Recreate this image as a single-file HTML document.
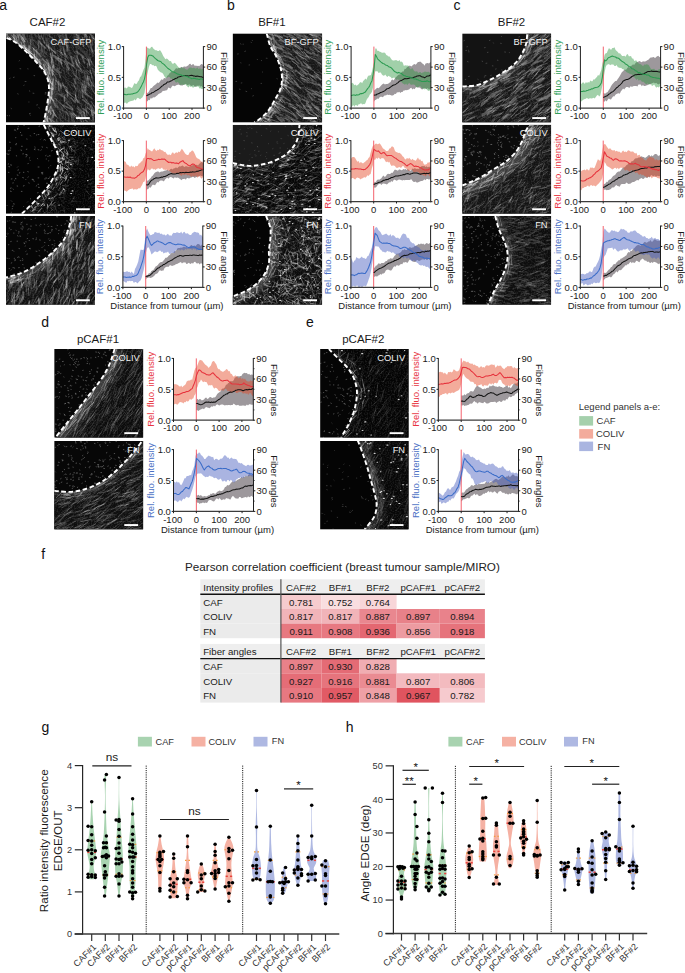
<!DOCTYPE html>
<html><head><meta charset="utf-8"><title>Figure</title>
<style>
html,body{margin:0;padding:0;background:#fff;}
body{width:685px;height:973px;overflow:hidden;}
svg{display:block;font-family:"Liberation Sans", sans-serif;}
</style></head><body>
<svg width="685" height="973" viewBox="0 0 685 973">
<defs><filter id="fblur" filterUnits="userSpaceOnUse" x="0" y="0" width="685" height="973"><feGaussianBlur stdDeviation="0.45"/></filter>
<filter id="fbl3" filterUnits="userSpaceOnUse" x="0" y="0" width="685" height="973"><feGaussianBlur stdDeviation="3"/></filter>
<clipPath id="ic0"><rect x="6" y="33.4" width="89" height="89.2"/></clipPath>
<clipPath id="it0"><path d="M6,33.4 L6.6,38 C7.93,38.62 11.57,39.63 14.6,41.7 C17.63,43.77 21.4,47.23 24.8,50.4 C28.2,53.57 31.83,57.28 35,60.7 C38.17,64.12 41.6,67.5 43.8,70.9 C46,74.3 47.35,77.7 48.2,81.1 C49.05,84.5 49.03,87.65 48.9,91.3 C48.77,94.95 48,99.1 47.4,103 C46.8,106.9 45.95,111.43 45.3,114.7 C44.65,117.97 43.8,121.28 43.5,122.6 L95,122.6 L95,33.4 Z"/></clipPath>
<filter id="fg0" x="0" y="0" width="1" height="1"><feTurbulence type="fractalNoise" baseFrequency="0.7" numOctaves="1" seed="3"/><feColorMatrix type="matrix" values="0 0 0 0 1 0 0 0 0 1 0 0 0 0 1 2.2 0 0 0 -0.95"/></filter>
<clipPath id="ic1"><rect x="6" y="124.8" width="89" height="89"/></clipPath>
<clipPath id="it1"><path d="M43.8,124.8 C45.02,127.25 48.92,135.1 51.1,139.5 C53.28,143.9 55.68,147.3 56.9,151.2 C58.12,155.1 58.63,159.25 58.4,162.9 C58.17,166.55 57.2,169.22 55.5,173.1 C53.8,176.98 51.12,182.07 48.2,186.2 C45.28,190.33 41.42,194.25 38,197.9 C34.58,201.55 30.38,205.45 27.7,208.1 C25.02,210.75 22.87,212.85 21.9,213.8 L95,213.8 L95,124.8 Z"/></clipPath>
<filter id="fg1" x="0" y="0" width="1" height="1"><feTurbulence type="fractalNoise" baseFrequency="0.7" numOctaves="1" seed="5"/><feColorMatrix type="matrix" values="0 0 0 0 1 0 0 0 0 1 0 0 0 0 1 2.2 0 0 0 -0.95"/></filter>
<clipPath id="ic2"><rect x="6" y="216" width="89" height="88.8"/></clipPath>
<clipPath id="it2"><path d="M71.2,216 C70.88,217.68 70.47,222.22 69.3,226.1 C68.13,229.98 66.5,235.4 64.2,239.3 C61.9,243.2 58.9,246.1 55.5,249.5 C52.1,252.9 48.18,256.42 43.8,259.7 C39.42,262.98 33.58,266.77 29.2,269.2 C24.82,271.63 21.37,272.92 17.5,274.3 C13.63,275.68 7.92,276.97 6,277.5 L6,304.8 L95,304.8 L95,216 Z"/></clipPath>
<filter id="fg2" x="0" y="0" width="1" height="1"><feTurbulence type="fractalNoise" baseFrequency="0.7" numOctaves="1" seed="7"/><feColorMatrix type="matrix" values="0 0 0 0 1 0 0 0 0 1 0 0 0 0 1 2.2 0 0 0 -0.95"/></filter>
<clipPath id="ic3"><rect x="232.6" y="33.4" width="89.6" height="89.2"/></clipPath>
<clipPath id="it3"><path d="M266.7,33.4 C267.3,35.52 268.72,42.28 270.3,46.1 C271.88,49.92 274.48,52.65 276.2,56.3 C277.92,59.95 279.63,64.35 280.6,68 C281.57,71.65 282,74.8 282,78.2 C282,81.6 281.82,84.75 280.6,88.4 C279.38,92.05 276.9,96.2 274.7,100.1 C272.5,104 270.07,108.52 267.4,111.8 C264.73,115.08 260.88,118 258.7,119.8 C256.52,121.6 255.03,122.13 254.3,122.6 L322.2,122.6 L322.2,33.4 Z"/></clipPath>
<filter id="fg3" x="0" y="0" width="1" height="1"><feTurbulence type="fractalNoise" baseFrequency="0.7" numOctaves="1" seed="11"/><feColorMatrix type="matrix" values="0 0 0 0 1 0 0 0 0 1 0 0 0 0 1 2.2 0 0 0 -0.95"/></filter>
<clipPath id="ic4"><rect x="232.6" y="124.8" width="89.6" height="89"/></clipPath>
<clipPath id="it4"><path d="M232.6,162.9 C234.27,163.27 239.23,164.62 242.6,165.1 C245.97,165.58 249.4,165.93 252.8,165.8 C256.2,165.67 259.35,165.15 263,164.3 C266.65,163.45 270.8,162.4 274.7,160.7 C278.6,159 283.12,156.65 286.4,154.1 C289.68,151.55 292.45,148.32 294.4,145.4 C296.35,142.48 297.25,140.03 298.1,136.6 C298.95,133.17 299.27,126.77 299.5,124.8 L322.2,124.8 L322.2,213.8 L232.6,213.8 Z"/></clipPath>
<filter id="fg4" x="0" y="0" width="1" height="1"><feTurbulence type="fractalNoise" baseFrequency="0.7" numOctaves="1" seed="13"/><feColorMatrix type="matrix" values="0 0 0 0 1 0 0 0 0 1 0 0 0 0 1 2.2 0 0 0 -0.95"/></filter>
<clipPath id="ic5"><rect x="232.6" y="216" width="89.6" height="88.8"/></clipPath>
<clipPath id="it5"><path d="M266,216 C266.72,217.93 269.58,223.72 270.3,227.6 C271.02,231.48 270.53,235.4 270.3,239.3 C270.07,243.2 269.13,247.12 268.9,251 C268.67,254.88 269.63,258.72 268.9,262.6 C268.17,266.48 266.7,270.65 264.5,274.3 C262.3,277.95 259.1,281.58 255.7,284.5 C252.3,287.42 247.95,289.8 244.1,291.8 C240.25,293.8 234.52,295.72 232.6,296.5 L232.6,304.8 L322.2,304.8 L322.2,216 Z"/></clipPath>
<filter id="fg5" x="0" y="0" width="1" height="1"><feTurbulence type="fractalNoise" baseFrequency="0.7" numOctaves="1" seed="17"/><feColorMatrix type="matrix" values="0 0 0 0 1 0 0 0 0 1 0 0 0 0 1 2.2 0 0 0 -0.95"/></filter>
<clipPath id="ic6"><rect x="462.2" y="33.4" width="89" height="89.2"/></clipPath>
<clipPath id="it6"><path d="M462.2,86.5 C462.97,86.45 464.33,86.42 466.8,86.2 C469.27,85.98 473.6,86.05 477,85.2 C480.4,84.35 483.8,82.63 487.2,81.1 C490.6,79.57 494,77.95 497.4,76 C500.8,74.05 504.43,71.72 507.6,69.4 C510.77,67.08 513.97,64.77 516.4,62.1 C518.83,59.43 520.62,56.32 522.2,53.4 C523.78,50.48 525.05,47.93 525.9,44.6 C526.75,41.27 527.07,35.27 527.3,33.4 L551.2,33.4 L551.2,122.6 L462.2,122.6 Z"/></clipPath>
<filter id="fg6" x="0" y="0" width="1" height="1"><feTurbulence type="fractalNoise" baseFrequency="0.7" numOctaves="1" seed="19"/><feColorMatrix type="matrix" values="0 0 0 0 1 0 0 0 0 1 0 0 0 0 1 2.2 0 0 0 -0.95"/></filter>
<clipPath id="ic7"><rect x="462.2" y="124.8" width="89" height="89"/></clipPath>
<clipPath id="it7"><path d="M462.2,185.5 C463.93,184.77 469.17,182.68 472.6,181.1 C476.03,179.52 479.15,178.07 482.8,176 C486.45,173.93 490.6,171.13 494.5,168.7 C498.4,166.27 502.55,164.32 506.2,161.4 C509.85,158.48 513.73,154.6 516.4,151.2 C519.07,147.8 520.73,144.17 522.2,141 C523.67,137.83 523.98,134.9 525.2,132.2 C526.42,129.5 528.78,126.03 529.5,124.8 L551.2,124.8 L551.2,213.8 L462.2,213.8 Z"/></clipPath>
<filter id="fg7" x="0" y="0" width="1" height="1"><feTurbulence type="fractalNoise" baseFrequency="0.7" numOctaves="1" seed="23"/><feColorMatrix type="matrix" values="0 0 0 0 1 0 0 0 0 1 0 0 0 0 1 2.2 0 0 0 -0.95"/></filter>
<clipPath id="ic8"><rect x="462.2" y="216" width="89" height="88.8"/></clipPath>
<clipPath id="it8"><path d="M495.2,216 C495.82,218.18 497.32,224.73 498.9,229.1 C500.48,233.47 503.25,238.07 504.7,242.2 C506.15,246.33 507.35,250 507.6,253.9 C507.85,257.8 507.17,261.72 506.2,265.6 C505.23,269.48 503.75,273.07 501.8,277.2 C499.85,281.33 496.82,285.8 494.5,290.4 C492.18,295 489,302.4 487.9,304.8 L551.2,304.8 L551.2,216 Z"/></clipPath>
<filter id="fg8" x="0" y="0" width="1" height="1"><feTurbulence type="fractalNoise" baseFrequency="0.7" numOctaves="1" seed="29"/><feColorMatrix type="matrix" values="0 0 0 0 1 0 0 0 0 1 0 0 0 0 1 2.2 0 0 0 -0.95"/></filter>
<clipPath id="ic9"><rect x="54.2" y="348.9" width="89.1" height="88.8"/></clipPath>
<clipPath id="it9"><path d="M114.6,348.9 C114.05,350.68 112.58,356.12 111.3,359.6 C110.02,363.08 108.85,366.15 106.9,369.8 C104.95,373.45 102.52,377.37 99.6,381.5 C96.68,385.63 92.8,390.22 89.4,394.6 C86,398.98 82.85,403.17 79.2,407.8 C75.55,412.43 71.4,417.53 67.5,422.4 C63.6,427.27 58.02,434.45 55.8,437 C53.58,439.55 54.47,437.58 54.2,437.7 L143.3,437.7 L143.3,348.9 Z"/></clipPath>
<filter id="fg9" x="0" y="0" width="1" height="1"><feTurbulence type="fractalNoise" baseFrequency="0.7" numOctaves="1" seed="31"/><feColorMatrix type="matrix" values="0 0 0 0 1 0 0 0 0 1 0 0 0 0 1 2.2 0 0 0 -0.95"/></filter>
<clipPath id="ic10"><rect x="54.2" y="440.9" width="89.1" height="88.7"/></clipPath>
<clipPath id="it10"><path d="M54.2,490.8 C54.97,490.87 56.33,491.02 58.8,491.2 C61.27,491.38 65.6,491.98 69,491.9 C72.4,491.82 75.55,491.5 79.2,490.7 C82.85,489.9 87,488.67 90.9,487.1 C94.8,485.53 98.72,483.73 102.6,481.3 C106.48,478.87 110.55,475.67 114.2,472.5 C117.85,469.33 121.45,465.47 124.5,462.3 C127.55,459.13 129.83,456.67 132.5,453.5 C135.17,450.33 138.92,445.4 140.5,443.3 C142.08,441.2 141.75,441.3 142,440.9 L143.3,440.9 L143.3,529.6 L54.2,529.6 Z"/></clipPath>
<filter id="fg10" x="0" y="0" width="1" height="1"><feTurbulence type="fractalNoise" baseFrequency="0.7" numOctaves="1" seed="37"/><feColorMatrix type="matrix" values="0 0 0 0 1 0 0 0 0 1 0 0 0 0 1 2.2 0 0 0 -0.95"/></filter>
<clipPath id="ic11"><rect x="320.1" y="348.9" width="88.6" height="88.8"/></clipPath>
<clipPath id="it11"><path d="M329,348.9 C329.27,349.22 328.87,349.02 330.6,350.8 C332.33,352.58 336.48,356.67 339.4,359.6 C342.32,362.53 345.67,365.23 348.1,368.4 C350.53,371.57 352.53,374.95 354,378.6 C355.47,382.25 356.55,386.42 356.9,390.3 C357.25,394.18 356.72,398.02 356.1,401.9 C355.48,405.78 354.53,409.7 353.2,413.6 C351.87,417.5 349.8,421.88 348.1,425.3 C346.4,428.72 344.1,432.03 343,434.1 C341.9,436.17 341.75,437.1 341.5,437.7 L408.7,437.7 L408.7,348.9 Z"/></clipPath>
<filter id="fg11" x="0" y="0" width="1" height="1"><feTurbulence type="fractalNoise" baseFrequency="0.7" numOctaves="1" seed="41"/><feColorMatrix type="matrix" values="0 0 0 0 1 0 0 0 0 1 0 0 0 0 1 2.2 0 0 0 -0.95"/></filter>
<clipPath id="ic12"><rect x="320.1" y="440.9" width="88.6" height="88.7"/></clipPath>
<clipPath id="it12"><path d="M357.5,440.9 C357.63,441.05 357.43,439.7 358.3,441.8 C359.17,443.9 361.23,449.35 362.7,453.5 C364.17,457.65 365.77,462.32 367.1,466.7 C368.43,471.08 369.48,475.43 370.7,479.8 C371.92,484.17 373.42,488.77 374.4,492.9 C375.38,497.03 376.6,500.7 376.6,504.6 C376.6,508.5 376.1,512.53 374.4,516.3 C372.7,520.07 368.05,524.98 366.4,527.2 C364.75,529.42 364.82,529.2 364.5,529.6 L408.7,529.6 L408.7,440.9 Z"/></clipPath>
<filter id="fg12" x="0" y="0" width="1" height="1"><feTurbulence type="fractalNoise" baseFrequency="0.7" numOctaves="1" seed="43"/><feColorMatrix type="matrix" values="0 0 0 0 1 0 0 0 0 1 0 0 0 0 1 2.2 0 0 0 -0.95"/></filter></defs>
<rect x="0" y="0" width="685" height="973" fill="#fff"/>
<g clip-path="url(#ic0)">
<rect x="6" y="33.4" width="89" height="89.2" fill="#050505"/>
<path d="M6,33.4 L6.6,38 C7.93,38.62 11.57,39.63 14.6,41.7 C17.63,43.77 21.4,47.23 24.8,50.4 C28.2,53.57 31.83,57.28 35,60.7 C38.17,64.12 41.6,67.5 43.8,70.9 C46,74.3 47.35,77.7 48.2,81.1 C49.05,84.5 49.03,87.65 48.9,91.3 C48.77,94.95 48,99.1 47.4,103 C46.8,106.9 45.95,111.43 45.3,114.7 C44.65,117.97 43.8,121.28 43.5,122.6 L95,122.6 L95,33.4 Z" fill="#171717"/>
<g clip-path="url(#it0)"><rect x="6" y="33.4" width="89" height="89.2" fill="#fff" filter="url(#fg0)" opacity="0.15"/></g>
<g clip-path="url(#it0)"><path d="M6.6,38 C7.93,38.62 11.57,39.63 14.6,41.7 C17.63,43.77 21.4,47.23 24.8,50.4 C28.2,53.57 31.83,57.28 35,60.7 C38.17,64.12 41.6,67.5 43.8,70.9 C46,74.3 47.35,77.7 48.2,81.1 C49.05,84.5 49.03,87.65 48.9,91.3 C48.77,94.95 48,99.1 47.4,103 C46.8,106.9 45.95,111.43 45.3,114.7 C44.65,117.97 43.8,121.28 43.5,122.6" fill="none" stroke="#fff" stroke-width="14" stroke-opacity="0.2" filter="url(#fbl3)"/></g>
<g clip-path="url(#it0)"><g filter="url(#fblur)"><g transform="scale(0.1)" stroke="#fff" stroke-linecap="round" fill="none">
<path d="M694 920l81 46M839 705l26 98M936 691l22 57M677 491l75 78M923 509l44 68M324 393l67 68M629 761l62 85M903 1051l5 40M365 360l52 40M772 870l38 54M661 717l57 52M918 613l4 95M724 653l43 52M731 913l36 65M876 759l50 75M570 545l32 27M807 1053l32 66M470 455l44 98M585 798l24 68M689 981l42 82M761 616l5 48M458 469l20 38M410 431l3 90M464 345l64 32M874 1185l54 28M450 533l72 54M604 866l20 99M565 1055l60 49M714 561l52 33M899 1047l27 64M916 345l53 51M764 1111l94 51M277 415l40 28M860 1016l-7 88M510 700l67 47M587 421l54 32M676 386l4 66M920 384l1 68M499 621l9 98M442 308l17 99M531 650l66 43M714 473l59 91M678 682l9 57M605 535l11 39M592 897l18 74M740 752l89 56M702 1110l1 43M649 975l-3 73M592 520l37 29M735 730l47 59M296 357l3 57M867 601l38 40M435 328l2 59M341 448l32 36M812 551l13 40M634 701l26 78M779 606l71 75M715 1061l18 52M840 863l66 71M606 1070l29 34M784 1175l47 75M823 842l92 52M624 1072l12 89M679 839l43 56M581 557l8 44M920 681l44 28M880 1139l56 39M842 391l37 75M836 1096l14 52M585 1090l32 49M936 1196l11 56M717 622l63 32M570 509l16 75M885 1175l17 48M335 460l54 54M668 876l8 100M592 543l64 51M836 674l52 76M935 376l20 103M765 767l26 41M272 335l0 84M718 329l54 31M784 925l8 97M889 581l54 86M493 361l40 32M919 1099l31 38M608 1197l37 37M879 464l36 64M879 826l36 38M763 414l20 49M856 987l52 76M742 617l47 52M532 501l18 42M485 384l46 96M658 496l-1 75M634 677l46 25M832 463l42 38M676 534l55 52M775 374l63 30M648 531l47 54M843 1051l67 52M657 792l69 41M695 413l41 64M898 494l-2 60M885 637l59 86M496 604l85 47M803 1139l25 52M687 673l55 80M582 932l86 59M751 576l44 70M783 1106l60 76M795 682l94 54M520 1140l47 25M767 788l36 20M621 1167l74 58M477 400l9 88M803 586l46 46M636 493l17 80M148 328l37 36M860 567l64 80M506 488l56 52M731 515l57 32M808 1122l8 45M417 443l9 88M519 377l61 36M585 400l77 53M597 678l37 28M592 1002l51 84M666 658l-1 56M482 590l2 104M875 1038l-6 79M427 590l43 39M659 1111l-7 96M899 671l2 67M838 987l39 27M563 990l13 90" stroke-width="10" stroke-opacity="0.12"/>
<path d="M580 345l89 43M618 327l26 68M687 1132l4 103M843 726l11 64M800 887l5 95M781 301l15 74M712 1194l30 47M921 1099l40 36M809 1126l74 68M523 384l33 56M749 980l42 33M714 848l55 39M794 1119l-2 67M589 1142l24 89M487 430l11 40M828 865l6 101M592 1031l25 47M947 471l2 46M715 668l28 78M341 332l21 42M396 535l62 33M538 558l33 25M874 438l61 77M752 813l42 65M326 387l54 46M602 438l15 66M773 473l79 49M651 976l48 56M925 379l-2 73M543 853l11 40M634 852l36 33M835 1117l-3 44M311 329l0 91M412 493l55 34M926 710l26 54M489 316l11 61M809 322l48 45M724 1157l18 62M719 650l66 54M576 577l18 45M787 721l14 65M740 369l45 89M803 826l23 58M385 494l79 42M847 764l46 33M542 468l14 61M668 456l33 102M918 762l19 86M890 1036l7 50M686 1115l38 28M623 823l47 80M822 513l48 53M810 506l79 60M844 806l76 70M774 820l91 59M740 998l86 50M886 306l56 86M528 562l81 65M514 627l25 49M568 934l89 44M615 321l36 66M586 591l8 99M757 444l22 104M731 1133l11 48M437 421l51 61M794 629l14 66M553 791l65 76M416 435l-3 93M608 948l62 45M620 384l26 33M864 514l26 85M601 368l44 68M620 938l55 87M596 456l15 46M828 809l17 107M619 600l56 43M604 527l60 45M733 573l21 40M551 1031l37 59M595 1117l35 66M632 933l44 38M672 387l69 62M674 946l73 79M695 525l18 79M791 695l80 46M622 348l4 52M589 582l4 95M521 548l-2 107M322 366l10 88M559 576l-1 41M871 737l-3 63M510 476l19 85M685 461l7 42M678 912l28 39M600 1095l88 45M845 879l31 86M768 439l41 43M833 769l45 78M515 919l-24 80M756 869l34 46M740 361l95 55M384 361l35 104M913 1068l16 88M554 401l31 28M692 1115l43 98M924 855l46 34M443 470l-6 69M922 523l4 42M491 432l2 54" stroke-width="15" stroke-opacity="0.12"/>
<path d="M624 834l36 75M552 984l38 40M146 346l4 46M746 334l40 24M891 333l53 59M894 363l-1 66M845 319l28 50M567 1192l2 49M572 505l49 23M224 372l27 44M617 849l50 24M723 1095l-6 83M758 917l-6 108M764 700l-6 95M521 647l9 97M560 802l31 51M640 613l50 90M653 907l36 25M874 1079l85 65M224 320l-4 69M916 1095l7 60M538 1099l-5 77M766 327l6 67M523 1104l58 83M483 651l54 67M894 765l23 95M481 443l16 62M874 770l-7 98M188 350l1 101M648 532l32 58M364 304l40 83M335 486l10 63M497 727l16 67M190 342l44 83M868 702l45 32M506 535l12 105M899 578l15 45M482 635l7 66M530 729l36 62M663 1117l20 41M654 387l23 93M487 1105l29 34M818 1151l23 80M524 525l-6 102M860 1080l9 78M470 379l-4 80M770 553l22 79M366 591l37 60M501 537l19 55M325 475l69 62M491 676l8 67M588 361l25 56M876 589l24 64M603 1030l70 73M777 1064l69 69M913 371l38 23M70 294l10 97M759 559l38 69M732 835l32 73M710 973l32 43M849 328l-2 52M306 396l2 93M818 826l37 99M789 708l37 19M915 825l23 39M220 454l82 71M765 994l25 34M716 1139l57 53M820 956l51 50M444 628l33 57M914 1110l3 42M674 922l66 55M822 567l50 29M599 494l27 58M754 949l21 73M912 1015l50 81M316 538l60 57M805 433l39 25M818 869l7 108M367 495l2 71M214 392l33 27M732 1125l36 49M603 590l20 78M872 633l7 48M912 878l38 65M559 802l-3 44M495 1181l37 66M213 364l40 56M534 649l-9 105M914 1051l40 99M484 1018l-10 40M784 1157l48 87M903 702l18 71M760 619l55 86" stroke-width="10" stroke-opacity="0.25"/>
<path d="M585 816l3 88M663 406l9 107M531 551l87 49M387 414l66 67M773 1084l47 37M234 341l24 55M825 376l9 87M553 575l66 58M668 898l9 58M336 488l73 76M902 426l21 89M932 1127l-2 74M524 883l-2 59M760 513l77 53M526 665l47 55M198 339l43 81M505 682l23 67M482 674l8 63M847 925l74 63M509 1069l46 89M474 458l83 71M631 468l16 74M643 958l1 54M734 1138l68 45M529 1153l-28 88M296 501l11 80M781 362l15 66M574 688l31 87M854 1199l35 34M655 589l35 100M649 605l85 55M824 570l22 57M820 901l37 43M712 566l26 94M423 589l54 53M525 595l22 103M654 317l18 101M238 342l0 78M632 1053l83 40M243 440l20 59M457 618l51 75M827 997l55 42M385 404l3 76M605 838l6 47M538 1023l21 47M842 1127l7 55M465 593l42 85M487 1185l62 36M562 693l47 35M845 816l14 91M756 601l26 71M412 360l37 68M234 456l77 62M470 605l30 100M877 763l14 98M889 597l6 61M607 599l6 41M855 348l15 44M739 786l16 52M661 1026l68 64M783 1170l35 24M832 1085l55 46" stroke-width="15" stroke-opacity="0.25"/>
<path d="M176 314l5 62M328 579l90 63M210 420l21 75M290 524l44 21M521 815l13 72M497 964l-13 86M506 1066l-18 58M343 609l77 67M452 758l66 82M120 356l48 60M471 757l14 54M485 758l24 74M465 691l30 103M394 659l75 66M397 594l6 66M501 793l27 99M133 337l17 88M319 563l45 31M158 357l19 75M366 590l36 31M509 1101l-3 45" stroke-width="10" stroke-opacity="0.38"/>
<path d="M532 790l-5 60M452 1134l-2 106M437 645l17 60M460 1174l41 92M515 916l1 63M292 459l-6 96M450 1106l8 69M514 869l3 81M341 558l39 40" stroke-width="15" stroke-opacity="0.38"/>
<path d="M468 1077l18 47M408 1179l70 60M89 369l46 46M447 857l85 40M476 1163l-7 58M511 972l-11 59M256 488l65 51M239 455l57 86M341 546l13 69M485 802l8 40" stroke-width="10" stroke-opacity="0.5"/>
<path d="M64 328l2 54M177 433l87 65M488 954l48 56" stroke-width="15" stroke-opacity="0.5"/>
<path d="M263 515l57 51" stroke-width="10" stroke-opacity="0.62"/>
<path d="M412 682l33 24" stroke-width="15" stroke-opacity="0.62"/>
</g></g></g>
<path transform="scale(0.1)" d="M387 671l8 1M177 938l5 2M239 854l2 -3M451 939l8 -1M484 949l4 -1M389 1078l4 2M191 609l3 -2M200 687l8 1M97 785l4 -2M330 932l9 1M437 735l3 -2M453 925l8 1M367 1050l8 -2M72 1156l4 1M94 1157l1 0M294 909l4 2M251 815l9 0M288 1020l2 0M111 1084l3 2M294 1135l9 -1M277 688l4 1M436 716l6 -1M134 774l8 -2M300 1149l2 3M340 756l7 1" stroke="#fff" stroke-linecap="round" stroke-width="9" stroke-opacity="0.26"/>
<path d="M6.6,38 C7.93,38.62 11.57,39.63 14.6,41.7 C17.63,43.77 21.4,47.23 24.8,50.4 C28.2,53.57 31.83,57.28 35,60.7 C38.17,64.12 41.6,67.5 43.8,70.9 C46,74.3 47.35,77.7 48.2,81.1 C49.05,84.5 49.03,87.65 48.9,91.3 C48.77,94.95 48,99.1 47.4,103 C46.8,106.9 45.95,111.43 45.3,114.7 C44.65,117.97 43.8,121.28 43.5,122.6" fill="none" stroke="#fff" stroke-width="1.9" stroke-dasharray="4.6 2.6" stroke-linecap="butt"/>
</g>
<text x="91.4" y="45" font-size="9.3" fill="#f2f2f2" text-anchor="end">CAF-GFP</text>
<rect x="76" y="117.1" width="13.8" height="1.9" fill="#fff"/>
<g clip-path="url(#ic1)">
<rect x="6" y="124.8" width="89" height="89" fill="#030303"/>
<path d="M43.8,124.8 C45.02,127.25 48.92,135.1 51.1,139.5 C53.28,143.9 55.68,147.3 56.9,151.2 C58.12,155.1 58.63,159.25 58.4,162.9 C58.17,166.55 57.2,169.22 55.5,173.1 C53.8,176.98 51.12,182.07 48.2,186.2 C45.28,190.33 41.42,194.25 38,197.9 C34.58,201.55 30.38,205.45 27.7,208.1 C25.02,210.75 22.87,212.85 21.9,213.8 L95,213.8 L95,124.8 Z" fill="#040404"/>
<g clip-path="url(#it1)"><rect x="6" y="124.8" width="89" height="89" fill="#fff" filter="url(#fg1)" opacity="0.15"/></g>
<g clip-path="url(#it1)"><path d="M43.8,124.8 C45.02,127.25 48.92,135.1 51.1,139.5 C53.28,143.9 55.68,147.3 56.9,151.2 C58.12,155.1 58.63,159.25 58.4,162.9 C58.17,166.55 57.2,169.22 55.5,173.1 C53.8,176.98 51.12,182.07 48.2,186.2 C45.28,190.33 41.42,194.25 38,197.9 C34.58,201.55 30.38,205.45 27.7,208.1 C25.02,210.75 22.87,212.85 21.9,213.8" fill="none" stroke="#fff" stroke-width="16" stroke-opacity="0.05" filter="url(#fbl3)"/></g>
<g clip-path="url(#it1)"><g filter="url(#fblur)"><g transform="scale(0.1)" stroke="#fff" stroke-linecap="round" fill="none">
<path d="M471 2086l3 56M775 1278l52 10M607 1899l34 16M665 1469l14 40M518 2071l28 13M847 1417l47 -24M885 1727l0 37M531 2092l-30 25M722 1441l29 41M561 2114l-17 29M850 1511l-2 38M699 1280l43 16M845 1857l47 15M724 1570l-2 31M682 1383l18 20M917 1264l32 -10M856 1806l-19 23M562 2001l21 34M687 2020l36 1M523 2050l-24 32M747 1819l10 18M723 1323l43 19M928 2105l-11 40M695 1365l43 23M504 2037l12 49M836 1285l-17 57M738 1403l-29 40M875 1476l50 24M445 2128l52 3" stroke-width="5" stroke-opacity="0.12"/>
<path d="M747 1967l-12 18M807 1643l15 16M814 1475l37 47M590 2112l-17 33M940 2071l7 30M724 1785l28 -12M763 1601l14 46M919 1896l32 -3M604 1263l35 -6M922 1863l24 4M723 1596l21 -5M751 1615l39 -16M557 2044l2 50M905 1976l32 -5M738 1438l40 -14M740 1972l-20 44M644 1335l38 0M708 1702l44 37M738 1460l18 8M628 2010l6 21M706 1454l24 23M501 2076l35 28M654 1927l-4 20M594 1975l40 -1M746 1304l23 30M783 1590l1 46M898 1499l33 -7M794 1685l34 22M724 1644l-19 55M736 1416l21 35M755 1515l-13 39M785 1314l54 -9M780 1448l-32 48M707 1568l51 5M885 1844l46 -15M898 1696l25 -7M481 2121l-10 23M921 1917l27 -6M625 1880l37 25M735 1738l6 22M568 2110l3 54M639 2089l9 38M743 1506l44 -13M884 2070l23 -2M760 1275l13 22M714 1684l39 9M838 2068l-23 40M910 1957l-23 36M882 1608l-14 16M789 1429l50 3M704 1382l25 16M719 2011l49 3M636 1251l-17 22M928 2060l25 -4M743 1606l14 27M477 2108l-48 32M873 1578l8 37M714 1616l44 -7M692 1391l24 0M898 1476l35 31M643 1341l33 -7M851 1892l36 46M637 1936l6 59M822 1535l4 23M545 2061l16 41M742 1415l22 5M488 2124l36 5M608 2106l38 -2M699 1468l43 -14M533 2090l-27 24M614 2049l28 26M725 1383l27 19M794 1558l-25 31M654 1837l7 51M510 2048l42 15M811 1409l34 -19M924 1789l-17 15M885 1568l-12 52M891 1798l43 -15M432 2112l27 41" stroke-width="10" stroke-opacity="0.12"/>
<path d="M633 1896l-23 53M646 1415l2 22M626 1338l-23 27M556 1960l-32 34M556 1927l52 24M516 1250l10 36M603 1928l-12 19M716 1635l10 35M426 2064l-32 36M662 1737l-15 29M621 1695l-1 41M347 2103l59 8M678 1702l-4 25M698 1608l8 36M492 1964l40 20M626 1398l-21 15M576 1793l54 -2M701 1675l-20 48M438 2019l16 13M557 2024l-32 20M599 1909l21 23M620 1371l17 28M578 1289l11 27" stroke-width="5" stroke-opacity="0.25"/>
<path d="M674 1519l0 39M650 1904l-17 30M585 1431l18 27M694 1571l32 5M713 1482l5 34M508 2037l-17 18M637 1363l21 42M610 1920l-16 35M511 2002l8 53M666 1760l-10 26M502 2050l-26 20M667 1530l3 56M624 1903l-13 30M598 1742l-17 46M711 1626l27 12M548 2022l-17 22M472 2044l12 28M602 1470l12 24M647 1558l41 34M708 1475l38 46M693 1734l-27 37M490 1986l47 4M605 1868l-21 35M625 1854l25 6M685 1795l-10 29M608 1422l56 -1M629 1877l24 36M532 2002l-27 37M618 1790l-31 40M697 1398l-18 40M643 1414l20 8M665 1747l-5 25M705 1605l30 -12M663 1860l21 -2M620 1368l24 31" stroke-width="10" stroke-opacity="0.25"/>
<path d="M575 1453l31 -18M406 2042l-20 24M505 1308l11 18M464 1978l-31 43M559 1393l6 20M302 2107l46 22M681 1454l21 47M481 1923l-28 44M407 2004l29 -14M673 1614l-28 25M688 1617l-2 50" stroke-width="5" stroke-opacity="0.38"/>
<path d="M477 1904l33 14M505 1919l-36 42M437 1920l24 54M567 1667l22 19M620 1405l-20 22M582 1549l30 50M414 2086l-35 39M638 1553l6 43M254 2100l-27 39M387 2048l-34 30M533 1280l14 35M659 1601l-1 34M645 1754l18 33M669 1766l-13 34M660 1791l-12 22M608 1496l35 -15M603 1308l41 31M309 2053l-25 30M641 1519l36 26M657 1720l-15 21M660 1648l34 39M661 1496l22 47M476 2042l-3 47M654 1620l49 10M470 1904l19 39M543 1871l-15 24M597 1375l11 17M630 1808l-29 40M694 1597l-19 30M530 1972l-22 16M573 1943l-32 27M595 1338l-8 20M623 1575l13 23" stroke-width="10" stroke-opacity="0.38"/>
<path d="M595 1829l-27 43M648 1671l-22 22M638 1467l9 48M597 1665l-9 50M593 1586l8 43M628 1531l6 23M567 1772l-22 29" stroke-width="5" stroke-opacity="0.5"/>
<path d="M465 1231l46 34M523 1281l24 34M367 2020l5 29M435 2036l-25 25M610 1583l30 8M429 2034l-18 21M587 1374l8 20M532 1298l33 21M548 1786l28 14M568 1829l-8 23M638 1676l30 16M485 1229l11 39M491 1904l-10 47M539 1419l9 31M354 2065l-32 45M519 1820l-25 21M630 1707l-27 50M357 2089l-25 16M598 1400l19 33M636 1541l0 23M618 1547l12 57M599 1759l48 25M550 1280l15 51" stroke-width="10" stroke-opacity="0.5"/>
<path d="M587 1681l-11 30M482 1263l13 41M276 2085l-23 20M565 1462l33 35M513 1360l49 -15M525 1841l-14 44M418 1945l22 52" stroke-width="5" stroke-opacity="0.62"/>
<path d="M603 1645l10 49M509 1324l24 43M503 1870l-42 32M573 1771l-16 41M527 1332l11 37M609 1621l19 25M602 1675l4 36M623 1490l-37 28M530 1406l11 39M622 1663l5 44M316 2057l7 23M515 1371l4 28M596 1500l34 34" stroke-width="10" stroke-opacity="0.62"/>
<path d="M552 1749l-12 29M473 1322l20 24M513 1432l49 15" stroke-width="5" stroke-opacity="0.75"/>
<path d="M534 1435l31 42M575 1707l-12 37M572 1637l46 -25" stroke-width="10" stroke-opacity="0.75"/>
<path d="M582 1402l5 0M745 2130l5 0M948 1606l12 0M589 2051l3 0M748 1249l5 0M721 1909l8 0M603 1778l5 0M876 1806l4 0M938 1937l12 0M700 1468l8 0M703 1776l8 0M378 2036l11 0M684 1402l8 0M632 1892l9 0M733 1325l4 0M705 1646l9 0M707 1935l9 0M438 2050l9 0M489 1982l6 0M933 1417l6 0M576 1389l7 0M919 1574l7 0M668 1691l10 0M850 1457l8 0M627 1419l6 0" stroke-width="11" stroke-opacity="0.8"/>
</g></g></g>
<path transform="scale(0.1)" d="M279 1636l4 -1M341 1335l6 1M375 1586l3 2M514 1509l9 -3M563 1522l7 3M84 1543l7 -2M69 1539l7 2M227 1776l8 2M263 1493l6 -1M409 1502l4 -3M381 1779l7 0M376 1928l5 -1M103 1883l9 -3M465 1832l3 -2M83 1507l8 1M179 1701l6 -2M420 1469l6 2M213 1352l7 0M381 1497l8 2M300 1602l2 1M287 1829l5 2M260 1568l4 -1M128 1830l5 -1M452 1400l2 1M348 1470l3 1M82 1641l4 -2M275 2020l1 -1M383 1346l6 -1M96 1422l6 1M265 1548l9 3M384 1873l9 1M157 1306l3 3M493 1557l8 1M112 1790l8 -1M174 1293l5 -1M447 1789l6 0M520 1435l3 1M106 1649l9 2M257 1794l2 2M121 2088l4 -1M365 1350l4 -2M89 1666l8 2M467 1475l5 2M234 1723l5 0M123 2063l8 -2M110 2127l4 -3M257 1545l8 3M304 1357l2 3M482 1364l3 0M343 1495l8 2M182 1263l2 0M146 1802l3 -2M485 1678l2 1M233 2068l2 -2M99 1501l6 1M420 1738l8 1M486 1608l2 -1M471 1834l3 0M278 1716l5 2M406 1392l1 -1M175 1671l2 -2M362 1860l4 -2M193 1730l6 -3M83 1723l7 2M103 1911l9 3M328 1798l6 -1M213 1914l7 0M281 1284l8 -1M543 1490l2 2M456 1557l5 -3M349 1484l1 1M420 1725l8 -1M479 1563l1 3M71 2055l2 2M390 1263l7 -3M171 1860l6 1M172 1750l8 2M482 1786l8 -2M304 1989l3 -2M175 1284l5 0M381 1670l9 0M158 1447l3 0M143 1301l7 -3M104 1480l4 0M462 1590l2 0M203 1323l4 3M459 1779l9 2M336 1809l7 3M131 1890l2 3M154 1784l6 2M236 1252l9 0M228 1539l6 -1M267 1390l4 1M503 1659l1 -1M135 2038l8 2M294 1580l4 -3M233 1860l8 -3M215 1463l8 0M321 1793l7 0M163 1558l4 1M380 1843l7 0M160 1439l6 -3M452 1292l6 1M155 1377l4 -1M496 1771l4 -3M114 2009l3 3M439 1399l6 -3M279 1773l4 -3M209 1501l7 2M415 1728l5 3" stroke="#fff" stroke-linecap="round" stroke-width="9" stroke-opacity="0.34"/>
<path d="M43.8,124.8 C45.02,127.25 48.92,135.1 51.1,139.5 C53.28,143.9 55.68,147.3 56.9,151.2 C58.12,155.1 58.63,159.25 58.4,162.9 C58.17,166.55 57.2,169.22 55.5,173.1 C53.8,176.98 51.12,182.07 48.2,186.2 C45.28,190.33 41.42,194.25 38,197.9 C34.58,201.55 30.38,205.45 27.7,208.1 C25.02,210.75 22.87,212.85 21.9,213.8" fill="none" stroke="#fff" stroke-width="1.9" stroke-dasharray="4.6 2.6" stroke-linecap="butt"/>
</g>
<text x="91.4" y="136.4" font-size="9.3" fill="#f2f2f2" text-anchor="end">COLIV</text>
<rect x="76" y="208.3" width="13.8" height="1.9" fill="#fff"/>
<g clip-path="url(#ic2)">
<rect x="6" y="216" width="89" height="88.8" fill="#060606"/>
<path d="M71.2,216 C70.88,217.68 70.47,222.22 69.3,226.1 C68.13,229.98 66.5,235.4 64.2,239.3 C61.9,243.2 58.9,246.1 55.5,249.5 C52.1,252.9 48.18,256.42 43.8,259.7 C39.42,262.98 33.58,266.77 29.2,269.2 C24.82,271.63 21.37,272.92 17.5,274.3 C13.63,275.68 7.92,276.97 6,277.5 L6,304.8 L95,304.8 L95,216 Z" fill="#101010"/>
<g clip-path="url(#it2)"><rect x="6" y="216" width="89" height="88.8" fill="#fff" filter="url(#fg2)" opacity="0.15"/></g>
<g clip-path="url(#it2)"><path d="M71.2,216 C70.88,217.68 70.47,222.22 69.3,226.1 C68.13,229.98 66.5,235.4 64.2,239.3 C61.9,243.2 58.9,246.1 55.5,249.5 C52.1,252.9 48.18,256.42 43.8,259.7 C39.42,262.98 33.58,266.77 29.2,269.2 C24.82,271.63 21.37,272.92 17.5,274.3 C13.63,275.68 7.92,276.97 6,277.5" fill="none" stroke="#fff" stroke-width="14" stroke-opacity="0.2" filter="url(#fbl3)"/></g>
<g clip-path="url(#it2)"><g filter="url(#fblur)"><g transform="scale(0.1)" stroke="#fff" stroke-linecap="round" fill="none">
<path d="M766 2207l-13 91M939 2300l2 -54M858 2905l53 -70M860 2740l0 -55M847 2821l7 -62M805 2867l5 -71M427 2978l30 -44M599 2648l26 -77M812 2317l18 -69M80 3060l37 -80M744 2429l16 -48M337 2953l37 -69M256 3069l48 -54M566 3013l37 -73M655 2812l26 -51M801 3075l15 -54M121 2969l12 -95M307 2740l-59 24M555 2999l33 -56M748 2381l50 -61M635 2814l-1 -44M448 3081l40 -84M940 2818l6 -41M201 2916l35 -61M806 2392l6 -85M923 2877l-8 -80M935 2756l9 -83M781 2179l-16 53M835 2805l-1 -90M896 2192l6 -47M598 2768l2 -41M787 2673l-3 -46M640 3031l-3 -77M833 2943l2 -53M748 2894l14 -49M363 2894l2 -94M505 3030l3 -56M601 2559l29 -38M623 2628l0 -96M616 2583l54 -64M589 2651l38 -80M465 2859l14 -52M121 2878l3 -59M747 2491l34 -64M924 2440l5 -82M877 2651l19 -91M769 2824l24 -74M704 2759l6 -65M496 2765l40 -59M800 2610l10 -72M832 2411l11 -54M864 2196l37 -68M647 2910l10 -58M753 2197l44 -58M633 2511l39 -62M800 2247l12 -83M817 2937l43 -84M806 3064l4 -42M878 2604l33 -45M117 2973l21 -37M460 2678l17 -56M767 2967l21 -63M534 2713l59 -78M604 2487l-56 65M64 3019l37 -90M847 2612l29 -46M142 2940l10 -54M355 2863l20 -95M385 2781l21 -55M755 2362l53 -66M879 3059l21 -67M153 2768l-94 29M528 2688l10 -46M134 2970l5 -45M767 2268l51 -62M827 2702l-1 -41M227 2997l16 -39M507 2768l13 -72M753 2554l26 -35M633 2541l27 -54M719 2467l-2 -49M248 2868l-2 -42M394 3031l50 -59M885 2293l23 -40M786 2819l-6 -70M331 2998l-1 -69M732 2635l-1 -61M209 3081l51 -67M604 3046l8 -76M876 2610l35 -62M379 2939l26 -39M881 2343l55 -62M814 2568l27 -89M779 2738l26 -92M230 2972l0 -95M821 2446l6 -75M461 2859l20 -78M679 2946l16 -87M267 2951l4 -52M584 2940l22 -34M788 2558l27 -62M829 2740l6 -45M913 2584l30 -46M504 2799l43 -55M183 2859l2 -59M457 2701l-8 -89M616 2846l24 -59M445 2807l32 -59M883 2926l26 -85M861 2841l64 -75M801 2948l0 -41M665 2981l23 -90M661 2821l43 -74M455 2868l-4 -96M468 2828l-2 -47M468 3039l16 -41M191 2972l3 -45M189 2953l-9 -76M584 2997l-4 -54M881 2711l3 -81" stroke-width="10" stroke-opacity="0.12"/>
<path d="M71 2968l6 -48M314 2824l29 -69M852 2930l33 -46M635 3028l45 -72M325 2913l42 -48M510 2667l-7 -66M895 2831l58 -77M865 3096l7 -97M65 2892l5 -47M482 3061l-3 -89M528 3078l-1 -89M902 2280l17 -58M410 2779l32 -37M920 2267l35 -39M933 3061l12 -54M782 2766l31 -34M894 2510l40 -54M619 2983l34 -54M734 2871l26 -55M467 2995l4 -51M634 2599l12 -77M424 2819l10 -55M300 2949l16 -68M571 3021l11 -39M148 3092l-4 -92M757 3057l39 -63M763 2361l49 -83M254 2871l36 -57M142 2877l52 -62M100 3042l45 -64M164 2988l7 -64M441 3032l5 -74M591 2832l41 -62M421 2858l-7 -88M910 2542l22 -88M765 2481l5 -60M885 2920l25 -35M646 2751l52 -73M562 2630l49 -56M579 2729l-4 -95M674 2536l14 -74M332 2833l9 -49M588 3086l30 -92M713 2432l-65 57M665 2862l44 -64M699 2793l5 -54M166 2909l48 -70M495 2975l23 -35M760 2988l52 -62M520 3003l40 -86M527 3042l0 -41M496 2776l16 -87M859 2317l35 -68M358 2923l22 -63M766 3070l19 -77M843 2718l16 -43M930 2782l-5 -60M773 2715l12 -40M918 2543l10 -44M835 2917l-3 -83M298 3087l32 -91M560 2939l33 -51M736 2816l21 -86M929 2769l40 -77M794 2508l4 -92M883 2278l8 -43M656 2714l17 -72M807 2311l38 -76M716 2950l40 -84M811 2415l3 -53M878 2915l13 -44M612 3007l23 -75M896 2757l35 -43M710 2341l-18 57M518 2791l33 -91M364 2782l26 -88M829 2499l31 -40M902 2257l-6 -57" stroke-width="15" stroke-opacity="0.12"/>
<path d="M434 2941l-1 -53M638 2505l-3 -43M515 2985l28 -50M552 3065l33 -63M603 3012l39 -56M713 2693l11 -70M281 2897l23 -70M651 2893l30 -39M843 2596l13 -72M515 2879l36 -75M808 2695l32 -71M280 2864l5 -84M465 2811l40 -66M140 3026l5 -99M744 2973l-2 -96M917 3001l43 -65M294 3082l-1 -70M499 2808l54 -64M859 3011l49 -87M182 2930l45 -77M687 2547l7 -58M896 2275l27 -84M482 3056l31 -39M904 2794l31 -40M328 2881l42 -80M435 2904l18 -53M722 3051l30 -51M682 2983l21 -81M898 2290l-5 -46M817 2940l37 -81M812 2317l-6 -52M495 2631l3 -70M86 2915l41 -77M658 2867l2 -66M394 2858l41 -52M670 3051l3 -79M790 2525l3 -48M587 2913l42 -84M672 2662l33 -57M655 2959l13 -64M590 2800l38 -46M195 3040l32 -73M576 2590l0 -88M692 2952l13 -75M856 2521l35 -68M871 3001l22 -65M231 2783l-59 24M766 2306l24 -56M874 2254l29 -32M713 2279l-15 75M695 2510l22 -38M633 2508l-4 -66M894 2769l51 -78M327 2755l-88 37M438 3060l7 -58M934 2651l8 -68M431 2658l-74 55M310 2884l1 -44M744 2194l-31 78M596 2530l23 -80M533 2933l2 -59M55 3036l34 -48M287 2955l-1 -67M192 2796l-75 8M828 2455l21 -42M689 2434l-57 59M359 2719l-67 31M242 2779l-50 32M101 2832l17 -43M884 2785l40 -88M884 2319l9 -66M861 2987l65 -73M243 2751l-66 44M817 2550l3 -98M770 2164l-5 41M720 3047l21 -37M170 2976l20 -90M596 2465l-36 66M201 2754l-65 25M742 2990l41 -66M701 2676l39 -46M718 3064l18 -41M790 2567l26 -71M340 2874l8 -82M923 2502l0 -51M162 2971l33 -45M330 3041l45 -81M496 2711l37 -40M694 2539l25 -72M899 2665l24 -68M792 2607l38 -81M224 2798l-48 25M835 2364l21 -85M725 2370l-37 81M106 2864l16 -40M887 2691l38 -59M882 2458l28 -40M820 2362l27 -32M197 2899l6 -44M184 3067l15 -89M120 2998l-1 -70M769 2695l25 -48M769 2626l27 -83M919 2935l10 -44M921 2629l35 -38M839 2664l20 -94M603 2574l40 -47M391 2864l24 -51M947 3071l2 -59M632 2892l7 -49M663 2874l7 -61M782 2491l21 -39M723 2644l13 -50M781 2616l-8 -93M666 2846l7 -79M812 2922l13 -46M875 2864l51 -80M801 2456l26 -57M947 2244l4 -57M694 2398l-8 40M792 2380l52 -72M210 3028l1 -80M933 2496l24 -42M262 2916l8 -62M843 3061l27 -38M654 2652l-7 -68M936 2465l14 -59M707 2212l-3 98M407 2665l44 -66M630 2725l51 -79" stroke-width="10" stroke-opacity="0.25"/>
<path d="M483 2801l-6 -82M160 3008l27 -41M884 2501l21 -72M584 2520l-55 55M722 2785l-8 -90M790 2295l23 -66M777 2874l22 -69M483 2718l-8 -63M273 2784l3 -42M758 2121l0 95M702 2586l5 -65M886 2528l48 -61M722 3017l-6 -73M548 2757l9 -65M623 2553l11 -99M562 2481l-54 68M874 2763l37 -71M793 2924l27 -35M293 2838l12 -58M128 3074l-2 -63M221 2849l52 -69M765 3043l15 -44M472 2712l7 -98M725 2364l-19 66M362 3028l25 -35M767 2506l1 -94M479 2661l4 -66M598 2758l35 -67M259 2847l2 -43M487 2711l9 -86M140 3076l8 -73M875 3005l24 -35M867 2210l28 -50M592 2983l0 -74M534 2960l30 -68M730 2615l44 -70M542 2579l-51 58M585 2798l3 -70M232 2992l-1 -71M737 2938l6 -45M437 2658l-1 -86M860 2292l22 -56M762 2951l7 -51M823 2394l-6 -74M292 2786l15 -59M668 2744l10 -74M679 2565l47 -61M842 2315l30 -52M683 2537l0 -93M614 2473l22 -51M221 3010l17 -85M636 2684l28 -76M677 2598l26 -84M90 2882l15 -70M918 2659l8 -60M866 2235l20 -50M669 2882l0 -90M808 2921l25 -61M878 2808l30 -56M283 3064l10 -52M811 2809l24 -62M632 2921l28 -56M393 3069l6 -52M758 2364l51 -73M534 2826l56 -63M704 2343l1 -71M819 2686l39 -58M106 2841l27 -38M127 2818l22 -64M865 3046l14 -85M682 2412l2 -46M494 2725l21 -44M721 2708l41 -49M501 3076l30 -95M398 3013l40 -82" stroke-width="15" stroke-opacity="0.25"/>
<path d="M322 2729l12 -87M492 2565l-38 47M675 3083l25 -93M702 2218l23 -82M887 2648l7 -94M738 2295l-13 48M668 2522l24 -41M485 2619l24 -33M511 2652l14 -39M483 3033l38 -62M114 3018l41 -79M179 2803l24 -83M217 2860l-11 -90M541 2828l24 -40M164 2819l-63 13M211 2876l25 -52M462 2637l17 -86M744 2115l-3 97M752 2198l22 -57M895 2725l-4 -54M628 3052l47 -77M708 2295l-42 66M721 2226l8 -52" stroke-width="10" stroke-opacity="0.38"/>
<path d="M753 2314l-7 -80M767 2487l6 -88M398 2616l-70 69M733 2395l1 -45M738 2295l-33 56M389 3077l0 -91M621 2506l27 -70M707 2240l32 -59M418 2703l26 -34M155 2775l-68 35M195 2795l-90 29M532 2546l9 -56M795 2193l-4 -54" stroke-width="15" stroke-opacity="0.38"/>
<path d="M468 2600l-36 28M525 2594l-1 -83M708 2300l-18 74M131 2773l-97 23M713 2144l2 92" stroke-width="10" stroke-opacity="0.5"/>
<path d="M733 2215l8 -78M725 2292l-28 45" stroke-width="15" stroke-opacity="0.5"/>
</g></g></g>
<path transform="scale(0.1)" d="M69 2582l6 1M636 2320l9 2M267 2542l9 -2M174 2358l3 -1M92 2281l4 0M129 2677l9 0M449 2316l5 -3M662 2303l4 3M328 2387l8 1M584 2336l1 0M122 2164l2 1M64 2364l3 1M358 2624l4 0M486 2390l1 -2M205 2241l6 1M498 2327l8 0M106 2297l7 -1M144 2681l3 1M266 2243l6 0M183 2331l6 -2M624 2374l3 0M257 2418l6 1M242 2436l6 -1M200 2361l7 2M110 2701l2 -3M517 2294l8 2M471 2336l2 0M524 2482l7 0M122 2504l5 -1M655 2357l4 0M391 2557l8 3M611 2253l5 1M308 2193l9 2M175 2574l6 -1M136 2510l2 3M106 2416l7 -2M155 2223l2 0M439 2460l2 -2M598 2416l5 1M362 2380l3 0M364 2327l4 2M297 2485l4 -1M397 2258l3 2M540 2459l8 -1M251 2462l3 -2M351 2183l7 -2M123 2220l7 -2M471 2517l7 3M570 2254l6 2M652 2345l4 -1M91 2685l4 1M442 2242l5 2M446 2498l7 3M240 2428l4 1M226 2646l5 1M245 2181l5 2M558 2288l6 2M291 2405l4 0M477 2242l1 -1M271 2387l5 -2M240 2680l7 1M137 2222l7 1M186 2568l6 3M278 2337l2 -1M610 2429l2 -2M136 2331l4 0M223 2586l5 3M480 2336l6 -2M211 2225l7 3M419 2474l4 -1M570 2166l8 1M445 2425l5 1M189 2485l8 2M222 2262l8 2M84 2447l5 0M371 2632l8 1M484 2455l4 1M390 2504l4 2M540 2405l4 2M79 2332l1 2M191 2362l1 -1M446 2331l7 2M403 2243l8 2M94 2210l2 -3M160 2304l2 1M447 2507l3 -2M220 2295l4 1M112 2631l6 -3M360 2512l9 2M187 2315l4 1M395 2399l8 2M495 2404l8 -3M306 2261l8 0M147 2599l7 -2M481 2265l7 -2M665 2208l9 0M90 2584l2 2M225 2281l8 -2M225 2604l4 -2M209 2282l5 0M298 2486l5 2M585 2304l8 -1M185 2677l9 -1M547 2439l1 -2M170 2412l6 0M117 2169l5 -2M512 2265l8 1M695 2162l1 0M566 2168l4 2M72 2340l2 2M519 2447l9 -1M681 2220l8 3M301 2291l4 1M642 2303l7 0M287 2286l2 -2M202 2606l6 0M73 2212l4 -2M142 2584l4 -1M221 2222l2 -1M139 2736l4 -1M278 2297l3 -1M442 2307l1 -2M199 2715l1 0M358 2251l7 1M514 2309l6 0M648 2241l8 -3M258 2514l3 -2M358 2396l6 -2M443 2298l2 0M149 2606l5 -2" stroke="#fff" stroke-linecap="round" stroke-width="9" stroke-opacity="0.3"/>
<path d="M71.2,216 C70.88,217.68 70.47,222.22 69.3,226.1 C68.13,229.98 66.5,235.4 64.2,239.3 C61.9,243.2 58.9,246.1 55.5,249.5 C52.1,252.9 48.18,256.42 43.8,259.7 C39.42,262.98 33.58,266.77 29.2,269.2 C24.82,271.63 21.37,272.92 17.5,274.3 C13.63,275.68 7.92,276.97 6,277.5" fill="none" stroke="#fff" stroke-width="1.9" stroke-dasharray="4.6 2.6" stroke-linecap="butt"/>
</g>
<text x="91.4" y="227.6" font-size="9.3" fill="#f2f2f2" text-anchor="end">FN</text>
<rect x="76" y="299.3" width="13.8" height="1.9" fill="#fff"/>
<g clip-path="url(#ic3)">
<rect x="232.6" y="33.4" width="89.6" height="89.2" fill="#050505"/>
<path d="M266.7,33.4 C267.3,35.52 268.72,42.28 270.3,46.1 C271.88,49.92 274.48,52.65 276.2,56.3 C277.92,59.95 279.63,64.35 280.6,68 C281.57,71.65 282,74.8 282,78.2 C282,81.6 281.82,84.75 280.6,88.4 C279.38,92.05 276.9,96.2 274.7,100.1 C272.5,104 270.07,108.52 267.4,111.8 C264.73,115.08 260.88,118 258.7,119.8 C256.52,121.6 255.03,122.13 254.3,122.6 L322.2,122.6 L322.2,33.4 Z" fill="#171717"/>
<g clip-path="url(#it3)"><rect x="232.6" y="33.4" width="89.6" height="89.2" fill="#fff" filter="url(#fg3)" opacity="0.15"/></g>
<g clip-path="url(#it3)"><path d="M266.7,33.4 C267.3,35.52 268.72,42.28 270.3,46.1 C271.88,49.92 274.48,52.65 276.2,56.3 C277.92,59.95 279.63,64.35 280.6,68 C281.57,71.65 282,74.8 282,78.2 C282,81.6 281.82,84.75 280.6,88.4 C279.38,92.05 276.9,96.2 274.7,100.1 C272.5,104 270.07,108.52 267.4,111.8 C264.73,115.08 260.88,118 258.7,119.8 C256.52,121.6 255.03,122.13 254.3,122.6" fill="none" stroke="#fff" stroke-width="10" stroke-opacity="0.12" filter="url(#fbl3)"/></g>
<g clip-path="url(#it3)"><g filter="url(#fblur)"><g transform="scale(0.1)" stroke="#fff" stroke-linecap="round" fill="none">
<path d="M2902 883l38 15M2652 1201l26 30M3068 868l85 42M3123 907l79 50M2827 583l28 30M2898 1040l48 65M3125 465l64 74M2872 387l34 33M3136 380l93 29M3068 453l71 46M3109 333l54 17M2776 360l76 26M2862 1023l60 26M2650 1181l56 26M2838 506l53 22M3039 967l38 31M3089 763l76 65M3066 1093l30 33M2779 432l39 44M2934 452l77 47M2898 875l58 16M2998 580l34 28M3167 719l51 17M2781 329l44 36M2741 312l65 52M3036 344l46 58M2856 788l68 33M2941 1079l30 32M3122 424l50 30M3084 648l37 38M3151 971l56 27M3015 977l26 32M3097 506l54 27M3167 1014l59 50M2911 518l70 19M2934 922l53 72M2636 1181l79 24M3087 742l75 46M3074 986l39 16M3048 631l47 40M2921 1194l45 24M2909 690l46 27M2954 518l46 49M3179 556l59 55M3170 1148l59 17M3031 577l39 27M2765 1087l87 32M2925 508l76 36M3079 312l54 50M3174 767l48 37M3011 805l82 27M3119 969l40 54M3001 678l48 15M3034 757l51 45M2937 994l45 63M2867 1199l42 43M2973 527l69 29M2775 1186l49 42M2889 919l67 42M2950 1003l53 53M3060 652l55 27M3088 477l60 56M3112 1122l56 25M2937 336l48 54M2937 595l48 32M2900 945l53 37M3050 354l89 41M3168 692l53 54M2742 342l52 36M2849 1170l45 13M3084 909l29 39M3021 345l43 37M2967 1094l40 52M2929 802l41 47M2868 741l66 18M3072 1035l67 61M3110 366l77 36M2837 599l63 18M2689 1185l28 31M2915 606l52 36M3089 326l54 55M3167 1156l56 70M2867 857l87 48M2966 1054l44 29M2829 1080l69 71M2928 382l57 29M3048 606l30 42M3026 327l57 69M2941 591l52 54M2908 383l35 26M2960 1188l39 36M2833 884l61 66M3110 1189l67 33M3025 374l52 23M2801 363l61 55M3127 455l36 35M2782 1118l75 23M3054 559l49 14M2746 461l75 25M2800 388l45 31M2984 437l36 30M2897 579l43 48M3163 912l60 67M3001 874l48 55M2931 457l35 34M3080 1148l40 51M2668 1199l47 31M2917 385l48 15M2810 985l-24 80M3065 658l31 34M2790 980l53 43M3177 1111l77 58M3156 870l58 40M3178 458l55 39M2868 355l73 41M2908 710l52 23M2642 1163l49 36M3082 575l95 26M2842 867l56 47M2973 626l60 24M3147 846l55 48" stroke-width="10" stroke-opacity="0.12"/>
<path d="M3149 726l61 43M3075 965l48 25M3047 573l34 41M2710 326l24 70M3101 976l72 43M2882 774l49 55M3051 1145l49 33M3106 414l76 35M2868 493l48 64M3122 799l80 57M2735 463l37 82M2799 1036l72 54M3104 562l68 19M2964 1148l74 25M3005 778l45 45M2895 1034l41 17M2944 593l38 49M2818 453l45 33M2796 1150l83 28M3016 1033l37 39M2965 507l66 31M2836 319l58 30M2865 807l67 72M2818 536l38 34M2934 388l72 47M2997 1079l49 55M2943 806l33 36M2771 1045l58 61M3099 1089l48 17M2866 543l63 52M2932 991l51 29M2804 381l29 35M2905 953l25 36M3055 983l33 34M3105 1211l35 21M2960 441l34 25M3173 630l37 39M3108 468l53 24M3151 406l70 67M3152 773l56 22M2855 634l64 43M2867 733l66 22M3037 519l44 55M3029 1050l82 33M3094 1002l64 67M3013 948l48 34M2994 345l68 26M2854 676l77 39M3016 658l63 56M3176 543l57 44M3111 916l79 40M3192 624l31 32M3031 1145l38 17M3126 932l61 27M3171 591l81 38M2830 1162l65 26M2975 362l27 32M2854 449l62 18M2769 398l69 56M2892 718l55 68M3126 1051l67 20M3099 523l47 36M3031 1167l56 29M3126 1187l55 56M3184 580l57 37M2806 376l28 34M2912 682l42 31M3056 1187l43 19M3137 745l57 21M3009 701l57 37M2964 1049l49 16M3022 518l64 70M2960 926l60 40M2892 422l31 43M3151 1071l59 67M2858 883l50 58M3006 431l61 47M3065 1118l85 50M2720 334l29 59M2806 683l48 21M3093 440l72 20M2902 1130l85 47M3019 419l40 40M2844 1170l57 48M3103 981l38 17M2870 664l39 13M2733 381l42 54M2776 472l78 37M3060 1014l54 50M3059 563l36 32M2869 918l88 41M2887 718l60 60M2971 861l80 29M2867 1024l75 60M2755 358l66 25M3104 1168l93 31" stroke-width="15" stroke-opacity="0.12"/>
<path d="M3034 383l40 21M3075 775l53 46M3012 551l57 19M2687 472l74 27M3141 1072l47 22M2883 742l42 41M2971 1132l59 58M2743 1070l54 62M2854 753l80 42M2767 1035l84 44M2842 1102l77 35M3039 517l53 66M2920 817l61 49M2892 363l74 38M2884 1059l69 22M3042 693l41 26M2797 1066l46 31M2769 547l41 36M3031 1074l38 31M2935 1081l89 38M3082 674l62 40M2897 1037l69 40M2916 553l34 30M2733 1017l63 24M3102 488l38 22M2907 433l52 22M2916 1193l35 41M2656 335l53 42M2889 802l56 47M2826 621l18 70M3061 1056l59 21M3065 554l66 39M2881 876l87 42M2979 480l52 51M2678 1207l59 26M2878 770l37 29M2833 1179l64 24M3009 753l80 37M2924 712l39 50M2968 369l73 29M2756 570l59 27M2750 1150l50 30M2693 340l68 22M2847 849l62 32M2869 754l-15 89M3143 723l44 30M3189 1015l31 34M2603 1189l82 41M2740 1119l85 33M2962 781l71 63M3107 1209l40 12M2863 772l-14 66M2771 1014l-34 71M3128 422l85 37M2773 816l78 57M2851 1095l43 28M3079 1131l66 26M2968 512l39 31M2925 613l55 42M3160 1148l66 31M3119 349l53 17M2711 1124l-67 48M2883 424l82 43M3107 778l26 36M3179 511l85 42M2866 478l36 19M2987 728l36 33M2739 1045l82 49M2998 713l55 28M3120 755l45 17M3159 1116l37 29M2943 933l69 54M3075 332l50 23M3045 868l39 26M2927 483l54 53M3002 562l57 33M2712 421l48 79M2801 1040l46 37M2704 1041l90 41M2879 1088l74 59M2926 495l55 51M2949 1082l38 40M3146 1212l35 20M2989 350l79 36M2835 718l62 48M2990 1004l57 61M2707 1193l88 33M2924 333l42 21M3019 784l74 22M2849 864l44 59M2719 315l18 74M2962 1037l76 56M3053 360l52 32M3182 468l67 27M3122 757l42 45M2678 1041l68 73" stroke-width="10" stroke-opacity="0.25"/>
<path d="M2830 631l82 53M2930 1137l42 50M3069 522l40 15M2951 461l55 27M2862 1152l64 37M3059 897l38 36M2766 441l72 31M3134 1214l66 24M3116 1036l67 63M3122 1112l63 58M2832 634l71 35M2772 1173l49 47M3185 993l43 19M2944 808l60 76M2965 953l40 51M3035 1060l62 75M3190 840l38 44M2796 551l32 74M3158 912l71 37M3199 913l42 50M2733 446l30 43M2961 566l58 72M2630 1175l68 28M3007 770l74 52M2881 340l72 39M3096 340l64 30M3187 476l38 46M2883 647l40 34M3168 1068l48 52M3143 351l30 43M2738 389l7 76M3126 528l51 32M3142 595l65 45M2648 1214l73 20M2721 1087l-36 72M3063 1040l33 28M2808 1173l31 27M2710 395l8 44M2792 402l55 20M3160 753l47 43M3061 641l48 46M3018 648l68 34M3066 1030l56 77M2910 1178l84 45M3179 398l69 43M2977 661l61 53M2721 378l45 52M3134 333l70 55M3024 993l63 30M2680 1046l77 63M3081 734l48 34M2847 558l85 35M2976 718l63 38M3165 326l50 38M3080 938l47 65M2784 1188l59 22M3138 330l52 26M3141 457l78 47M2971 1110l66 38M2696 1107l56 27M2963 1123l60 45M2748 347l72 26M3156 488l34 29M2847 401l55 52M3183 446l39 30M3074 1095l42 13M2919 916l46 42M3125 936l89 25M3133 912l69 56M2768 548l58 18M2927 313l77 56M2839 356l40 16M3112 333l39 37M3102 927l47 51M3047 499l38 21M3002 1122l35 44M3098 821l53 21M2870 337l61 26M2988 552l44 36M2768 443l58 50M3017 692l54 54M2957 701l41 37M2738 458l87 43M2816 957l82 51M2821 975l-45 62M3033 618l48 45M2741 1090l37 32M2908 1190l57 19M2939 434l83 56M2805 975l46 54M3091 894l41 18M3125 830l80 27M2923 372l43 14M2779 366l49 51M2867 837l-4 48M2834 521l78 23M2746 1041l52 65M2731 392l27 37M3047 1170l63 28" stroke-width="15" stroke-opacity="0.25"/>
<path d="M2724 501l63 44M2688 1047l40 48M2754 960l71 65M2730 451l34 28M2720 477l23 41M2589 1183l43 42M2866 711l7 81M2653 337l44 32M2732 456l32 88M2758 539l27 63M2673 423l53 50M2787 726l86 30M2762 625l76 32M2690 1075l37 34M2797 628l23 67M2676 1084l86 37M2725 999l46 33M2765 549l38 22M2787 773l64 49M2629 1182l-53 65M2593 1202l-42 21M2715 448l21 41" stroke-width="10" stroke-opacity="0.38"/>
<path d="M2800 761l69 22M2800 785l48 18M2621 1144l95 29M2734 1131l-50 67M2710 1112l-60 36M2826 684l50 33M2734 472l30 48M2810 772l77 59M2779 564l33 60" stroke-width="15" stroke-opacity="0.38"/>
<path d="M2616 1159l41 24M2822 853l-2 58M2807 860l32 29" stroke-width="10" stroke-opacity="0.5"/>
<path d="M2655 354l60 38M2720 1055l-36 60M2827 739l2 70M2708 1023l41 24" stroke-width="15" stroke-opacity="0.5"/>
<path d="M2775 648l62 54" stroke-width="10" stroke-opacity="0.62"/>
<path d="M2773 817l85 41M2817 848l-18 73" stroke-width="15" stroke-opacity="0.62"/>
</g></g></g>
<path transform="scale(0.1)" d="M2589 607l-99 30M2577 424l52 31M2459 411l-58 88M2437 792l-69 4M2347 1113l-75 64M2633 773l-44 8M2400 905l-51 8M2495 744l-67 52M2505 856l-31 36M2407 614l18 64M2479 400l-51 104M2440 883l44 98M2449 724l82 22M2527 957l18 37M2567 798l100 18M2579 736l-13 91M2640 521l-47 51M2516 505l26 104M2748 853l51 52M2733 560l41 53M2503 848l59 7M2562 495l-82 47M2494 614l-3 107M2342 358l36 65M2332 647l101 43M2515 618l92 56M2427 726l46 38M2370 820l5 109M2543 1212l-15 40M2512 1189l-79 59M2763 803l-103 27M2679 1094l58 36M2613 376l12 38M2562 1023l29 38M2709 850l65 27M2555 1003l110 28M2442 1121l-68 9M2606 1062l-90 73M2387 842l-35 46M2345 1131l-75 62M2624 725l-39 26M2500 698l49 63M2691 770l106 36M2660 551l80 21M2467 378l-50 74" stroke="#fff" stroke-linecap="round" stroke-width="9" stroke-opacity="0.22" filter="url(#fblur)"/>
<path transform="scale(0.1)" d="M2769 786l4 2M2376 540l7 -1M2623 719l3 2M2412 830l7 -1M2610 834l6 0M2359 815l8 -1M2513 888l3 -2M2393 891l8 2M2407 628l3 1M2510 423l4 2M2490 650l7 -1M2662 582l9 1M2572 594l3 1M2405 438l5 3M2430 442l4 0M2522 403l2 3M2448 514l8 -3M2459 913l9 3M2527 960l8 -3M2613 605l3 1" stroke="#fff" stroke-linecap="round" stroke-width="9" stroke-opacity="0.22"/>
<path d="M266.7,33.4 C267.3,35.52 268.72,42.28 270.3,46.1 C271.88,49.92 274.48,52.65 276.2,56.3 C277.92,59.95 279.63,64.35 280.6,68 C281.57,71.65 282,74.8 282,78.2 C282,81.6 281.82,84.75 280.6,88.4 C279.38,92.05 276.9,96.2 274.7,100.1 C272.5,104 270.07,108.52 267.4,111.8 C264.73,115.08 260.88,118 258.7,119.8 C256.52,121.6 255.03,122.13 254.3,122.6" fill="none" stroke="#fff" stroke-width="1.9" stroke-dasharray="4.6 2.6" stroke-linecap="butt"/>
</g>
<text x="318.6" y="45" font-size="9.3" fill="#f2f2f2" text-anchor="end">BF-GFP</text>
<rect x="303.2" y="117.1" width="13.8" height="1.9" fill="#fff"/>
<g clip-path="url(#ic4)">
<rect x="232.6" y="124.8" width="89.6" height="89" fill="#1b1b1b"/>
<path d="M232.6,162.9 C234.27,163.27 239.23,164.62 242.6,165.1 C245.97,165.58 249.4,165.93 252.8,165.8 C256.2,165.67 259.35,165.15 263,164.3 C266.65,163.45 270.8,162.4 274.7,160.7 C278.6,159 283.12,156.65 286.4,154.1 C289.68,151.55 292.45,148.32 294.4,145.4 C296.35,142.48 297.25,140.03 298.1,136.6 C298.95,133.17 299.27,126.77 299.5,124.8 L322.2,124.8 L322.2,213.8 L232.6,213.8 Z" fill="#060606"/>
<g clip-path="url(#it4)"><rect x="232.6" y="124.8" width="89.6" height="89" fill="#fff" filter="url(#fg4)" opacity="0.15"/></g>
<g clip-path="url(#it4)"><path d="M232.6,162.9 C234.27,163.27 239.23,164.62 242.6,165.1 C245.97,165.58 249.4,165.93 252.8,165.8 C256.2,165.67 259.35,165.15 263,164.3 C266.65,163.45 270.8,162.4 274.7,160.7 C278.6,159 283.12,156.65 286.4,154.1 C289.68,151.55 292.45,148.32 294.4,145.4 C296.35,142.48 297.25,140.03 298.1,136.6 C298.95,133.17 299.27,126.77 299.5,124.8" fill="none" stroke="#fff" stroke-width="8" stroke-opacity="0.08" filter="url(#fbl3)"/></g>
<g clip-path="url(#it4)"><g filter="url(#fblur)"><g transform="scale(0.1)" stroke="#fff" stroke-linecap="round" fill="none">
<path d="M2503 1867l81 4M2405 1867l39 -12M3110 2005l66 -47M2895 1749l32 -5M2533 1806l41 -42M3034 1746l77 -41M2820 1946l30 -31M3200 1406l44 18M2523 1774l84 -11M3082 2156l67 -41M2670 2098l55 18M2386 1925l42 -45M2438 1818l41 -26M2906 2012l63 -38M3105 1328l34 12M3192 1670l51 -17M2466 1748l54 17M2819 1671l50 -22M2323 2029l60 -37M3027 1708l78 29M2915 2046l68 -44M3091 1580l79 -23M3060 1881l43 -34M2850 2007l38 -1M2410 2114l51 1M2810 2087l23 -28M2296 1987l75 -47M2343 1750l67 -32M3101 1714l73 27M2994 1791l70 -15M2500 1815l59 -34M2534 2083l44 -17M2990 2045l42 -18M3047 1521l36 -11M3183 1509l43 0M2321 1943l82 33M2814 1953l65 30M2575 2015l88 -1M2452 2146l49 -35M2872 1655l49 -35M2995 1876l44 23M2504 1785l73 -52M2926 1949l36 14M2819 1638l67 14M3131 1517l34 -17M2340 1937l62 -8M3032 2029l28 -22M3005 1985l77 39M2910 1862l27 -30M2684 1899l62 32M2898 1736l65 -33M2400 2011l87 -17M2959 1635l82 23M2385 1768l42 -10M2448 2075l82 1M3047 1376l31 -11M3141 1871l55 1M2506 1756l22 -28M2894 1611l37 -44M2806 1796l73 -45M2933 1594l66 -22M3140 1812l49 -11M3121 1498l59 -5M3022 1999l64 -19M2995 2006l62 1M3045 1461l62 -34M2692 1936l69 16M2824 1773l83 0M2816 1617l28 14M2904 1710l61 -20" stroke-width="5" stroke-opacity="0.12"/>
<path d="M2488 1936l46 -41M3082 1814l29 -36M2734 1939l55 -7M2399 1975l66 18M2398 2065l58 -54M2308 1752l58 -52M2511 2062l45 -38M2804 1797l81 22M3059 1916l66 -36M3036 1658l20 -25M3058 1410l47 -45M2735 1812l52 -33M2852 1718l76 -14M2935 1776l69 -23M3032 2003l53 -15M2418 1960l61 -19M2848 1629l66 -58M2694 2113l59 -12M2939 2060l90 3M2494 1712l64 5M2603 1805l84 2M2466 1773l31 -12M2926 1647l46 -48M3104 1653l56 -30M2563 1878l33 -8M2365 1928l60 -54M2544 2003l47 22M2451 1921l80 37M2425 2097l35 -5M3141 1300l60 -20M3134 2091l47 -10M3025 2062l38 -7M3168 1483l67 -1M2932 2135l73 -45M3088 1361l39 -1M2465 1766l60 8M2913 2043l53 -18M2782 1952l31 12M2903 1849l57 0M3013 1833l48 7M3186 1659l54 -15M3151 1742l41 14M2329 2071l26 -24M3178 1360l60 0M2318 1677l56 -32M2573 2016l25 -24M2788 1660l41 13M2313 1724l56 -44M3047 1981l60 -51M2425 1947l53 -46M2804 1860l75 -32M2508 1789l62 -6M3012 1637l49 17M3178 1373l29 -13M2445 1897l64 -60M2329 2027l37 -6M2801 1984l66 -24M3191 1657l50 -60M2317 1906l58 -45M2995 1538l75 8M2348 1752l87 9M2821 2043l61 -23M2699 2050l53 -31M3006 2027l61 -43M2646 1756l64 30M3075 1570l44 19M3049 1943l43 -35M2680 1980l52 -49M2435 2022l50 13M3155 1653l39 -24M2559 1931l57 -21M2669 1751l33 13M2858 2139l83 -7M3171 1431l43 -8M2365 2014l66 -8M2853 1601l55 -20M3026 1272l80 -40M2982 1656l55 -37M2980 1509l46 -27M2939 1663l44 3M2300 1931l53 -58M2980 1911l63 0M3038 1283l42 -51M2779 2074l76 0M2395 1816l68 -37M2988 1670l79 -6M2932 1998l56 19M2585 1766l88 -18M3073 1815l68 33M3023 1746l52 -52M3013 1595l31 -39M3099 1365l66 -28M2974 1579l55 -12M3110 1455l61 0M2672 2120l72 -5M3186 1355l36 -12M2745 1745l67 -7M2592 1988l81 -35M2933 1694l30 10M2708 1863l33 -40M3080 1385l81 8M2932 1743l39 -3M2465 2066l41 -14M2997 2061l41 -10M3049 1278l52 -13M2975 1901l50 8M2348 1996l36 15M2434 2074l84 25M2706 2081l71 -5M2752 1913l76 -48M2972 1472l20 -23M2791 1983l30 11M3072 1790l62 -58M3043 1960l36 -26M2710 1769l41 18M2611 1795l55 -22M2538 1775l85 2M2372 1835l38 8M3081 1646l65 -22M3153 2018l37 -33M3125 1911l49 -7M3169 2022l27 -25M2939 1730l54 8M2345 1932l32 -23M3004 1793l41 -17M2903 2121l77 22M3167 1799l48 13M3136 1562l47 16M3161 1295l69 22M2435 2002l33 17M2470 1941l80 34M3205 1356l33 8M2434 1780l65 -45M3060 1886l61 -53M2855 1823l80 40M2649 1808l56 14M2935 1738l78 -5M3088 1518l33 6M2643 1929l26 -26M2325 2002l36 16M2297 1926l69 -49M2608 2046l29 -9M3128 1349l40 -22M3180 1977l60 -62M2912 1936l77 -38M2561 1735l71 -6M3091 1585l75 -12M3151 1566l77 21M3150 2044l53 -22M2821 1921l24 -24M2640 1800l43 -20M2748 2009l80 -39M2874 2048l75 16M2931 1735l76 4M2760 1685l59 -53M2613 2116l27 -30M2517 1775l79 41M3178 1708l64 27M3035 1371l76 25M2419 1941l75 26M2741 1990l57 -11M2443 1963l64 -33M2389 2003l31 -27M3056 1681l46 2M3174 1972l54 -14M3126 1724l85 2M3048 1344l87 -6M3172 1501l70 -31M2342 2014l77 -24M2805 1663l77 -15" stroke-width="10" stroke-opacity="0.12"/>
<path d="M2717 1800l35 -13M2342 1826l49 22M2587 1695l57 -11M2753 2080l45 6M2525 1659l41 -7M2420 2026l26 -21M2972 1899l83 11M2977 1684l35 16M2935 1493l44 -35M2991 1949l45 1M2463 2111l31 15M2898 2113l41 -25M2478 1766l37 -44M3123 1398l62 25M2443 1700l48 -10M2737 1902l39 -26M2713 2128l87 -16M2857 1831l48 17M2629 1642l38 -6M3012 2067l43 5M2758 2089l34 -2M3006 2100l58 7M3038 1538l33 -23M2607 1836l62 -50M2751 2010l42 9M2497 2110l49 -55M2967 1481l44 -72M2333 1829l33 11M3132 2082l40 -20M2613 1693l80 -12M3009 2120l62 -31M3013 1940l51 21M2710 1738l63 -13M3080 1892l69 -45M2444 1953l23 -28M3000 2044l54 -9M3172 1858l22 -23M2392 1679l37 6M3127 1689l32 -37M2860 2006l31 -13M2341 1882l52 -24M2695 2100l37 -27M2878 2006l31 -21M2416 1659l87 1M2895 1746l67 25M2787 1903l58 -22M2921 1994l57 -42M3050 1403l68 22M2307 2087l87 6M3098 1596l57 -19M2632 1792l29 -25M2486 1987l67 -25M3074 1466l40 6M2519 2065l78 -1M2901 1930l80 -10M2392 2019l48 -28M2852 1668l41 -39M2856 1747l46 -10M2345 1766l80 0M2557 1684l53 -12M2511 1706l43 -3M2833 1805l66 -26M3137 1497l64 -18M3011 1952l45 -25M2493 1664l35 -4M2769 1706l32 8M2398 2038l43 -5M2500 1902l84 -24M2408 1927l50 -5M2903 2127l55 -13M3004 1531l26 -24M3047 1554l57 19M2968 1953l42 5M3161 1866l46 -31M3048 1361l35 -15M2560 1845l58 -44" stroke-width="5" stroke-opacity="0.25"/>
<path d="M3023 1997l86 11M2365 1988l87 18M2954 1422l65 -6M2841 1568l35 -24M2364 1939l30 -2M2457 1899l86 2M2355 1885l86 27M2764 2032l61 -43M2304 1897l81 -26M3153 1985l69 18M2967 1810l46 -50M3105 1573l58 14M2689 2138l64 -30M2800 2057l73 1M2624 1930l36 5M3160 1979l76 -5M2865 1585l47 -19M2648 2013l63 -5M2756 2091l34 -38M2983 1759l31 -10M2931 2131l60 1M2795 1985l30 -2M2708 1906l71 -18M2585 2055l80 13M2422 1787l45 -47M3031 1920l55 7M2598 2057l78 20M2364 1848l39 -14M3064 1805l51 -2M3165 1344l69 -48M3132 1676l58 -4M2613 1943l64 17M3090 1953l49 -27M2303 1658l82 31M2704 1893l38 -37M2341 1806l71 4M2364 1754l60 -5M2963 1537l26 -21M2892 2057l49 -18M2849 2059l30 12M2481 1682l43 22M2311 2063l54 -46M2896 1578l39 19M2549 2114l64 33M2593 2054l68 -19M2624 2119l32 -28M2969 1319l75 -43M3044 1360l55 -70M3156 1399l35 -30M3000 2005l51 -13M2569 1698l58 3M3054 1872l23 -24M2828 1592l46 -20M2758 1996l43 3M2648 1711l69 -1M2920 1488l33 17M2611 2075l61 -17M2899 1590l84 1M2874 1924l42 2M2317 1956l55 -14M2989 1832l73 33M3176 2021l48 -45M2889 2033l65 -38M2801 1734l50 10M2457 1919l42 -41M2622 1940l75 24M3149 1547l67 -23M3054 1955l64 -56M3026 1375l77 -25M2605 1844l37 15M3115 1654l45 -41M2553 1704l54 -64M2309 1794l80 -14M2639 1938l70 -54M2959 1481l30 -13M3121 1503l79 5M3010 2108l40 17M3118 1799l52 -32M3011 1847l26 -28M2895 1668l47 -31M2796 2000l54 -13M2830 1619l51 -16M2379 1838l47 -22M3089 1513l76 22M2336 2084l63 6M2426 1905l78 21M2462 1910l25 -31M2454 1888l47 4M3106 1351l36 -30M3077 1613l57 -19M3130 1333l75 -34M2733 1844l75 40M2712 2018l76 23M2888 1723l79 -39M2786 1955l72 -6M3124 1896l69 10M2577 1949l41 6M3167 1947l24 -24M2985 1697l86 1M2905 2162l51 -58M2328 1936l44 -53M3110 1306l69 -13M2811 2093l45 -19M3189 2099l49 -7M2794 2145l49 -46M2996 1622l75 22M2722 1678l31 -38M2915 2085l32 4M2903 1528l39 0M2378 2052l61 28M2872 1591l30 -18M2394 1986l30 -18M2341 1658l32 -3M3098 1279l39 3M2966 1533l32 1M3017 1405l27 -63M2294 1737l68 -49M3123 2133l81 -12M3068 1821l72 -43M2794 1842l51 -26M2723 1997l31 -34M3001 1897l79 -12M2723 1898l32 6M2884 1647l62 -11M2889 2031l42 9M2454 1820l43 -48M3149 1872l32 -35M3180 1418l70 8M2594 2048l46 -17M3091 1537l30 -23M3078 1770l50 -8M2504 1776l65 30M3054 1609l62 14M3104 1712l62 -40M2615 1954l58 -25M2912 2033l46 13M2338 1988l61 -41M2788 1691l46 -19M3195 1918l47 -33M3161 1889l45 21M2792 1649l57 11M2606 2087l27 -26M2769 1917l61 10M3070 1493l70 -52M2645 1659l40 11M2377 2013l88 2M2718 2100l59 26M3049 1442l26 -29M2789 1851l33 -14M2492 1935l32 10M3183 1688l76 -40M2562 1720l46 23M2845 1766l28 -33M2797 1602l42 18M2820 1876l42 -36M3175 1474l28 -31M2797 1839l49 -8M3069 1941l55 12M3137 2112l23 -26M3116 1941l57 -67M2454 2125l59 -24M3154 1494l73 -33M2903 1866l31 -32M3194 1611l52 -23M2791 1589l82 -31M2655 1776l40 -43M3053 1555l52 -65M2805 2018l24 -18M2578 1822l21 -24M2568 1998l80 7M3089 1401l59 6M2544 2024l79 31M2449 1882l68 -23M2742 1771l58 -18M3173 2099l31 -2M2761 2119l39 -14M2873 1754l33 7M2427 2002l45 8M2659 1823l27 -17M3180 2096l59 -6M3205 1735l32 -41M2918 1941l41 14M2858 2010l83 -1M2937 2079l44 -48M2867 1766l37 -21M2642 1854l77 -19M2769 2056l64 6M2884 1543l42 -34M2657 1772l39 -15M3018 1514l59 -57M2946 1766l35 -26M2660 1982l52 -49M2455 1825l47 -26M3103 1953l28 -19M2579 1833l42 15M3152 1510l80 -23M2596 2040l73 30" stroke-width="10" stroke-opacity="0.25"/>
<path d="M2858 1604l46 -13M2847 1621l29 -12M2417 1723l79 -34M2320 1634l50 23M2662 1644l35 13M2366 1835l45 -21M2977 1469l16 -58M3012 1380l26 -23M3109 1266l29 -14M2498 1859l67 20M3087 2116l45 -23" stroke-width="5" stroke-opacity="0.38"/>
<path d="M2506 2018l53 15M2334 1659l72 26M2912 1517l37 -40M2851 1532l80 38M2812 1646l71 14M2993 1302l57 -7M2358 2012l35 -25M2788 1761l81 -22M2403 1656l42 9M2460 1888l75 6M2791 1664l72 -35M2620 1707l55 -12M3081 2018l62 -38M2930 1561l32 -5M3192 1564l33 5M2447 1659l79 10" stroke-width="10" stroke-opacity="0.38"/>
<path d="M2927 1723l4 0M3124 2123l8 0M2946 2041l4 0M3165 1896l8 0M2919 2016l11 0M2385 1649l11 0M2408 1776l3 0M3092 2063l11 0M2859 1759l9 0M2748 1956l11 0M3001 1781l4 0M2885 1879l4 0M3185 1879l6 0M2869 1637l5 0M2575 2060l3 0M3129 1672l7 0M2466 2036l7 0M2854 1764l9 0M2407 1684l6 0M2350 2105l8 0M2936 1536l7 0M2935 1968l4 0M2877 1599l12 0M3057 1755l7 0M2766 1889l4 0M3057 1442l3 0M3043 1590l3 0M2866 1903l12 0M2583 1986l10 0M3063 2119l9 0M3142 1394l9 0M3142 1435l10 0M2911 1493l9 0M2393 1748l5 0M2527 2045l6 0M2921 1530l11 0M3086 1410l11 0M3164 1256l4 0M2882 1948l5 0M3087 1445l5 0M2856 1784l12 0M3099 1906l8 0M2720 1941l10 0M3053 1803l8 0M2810 2092l7 0M2530 1748l5 0M3007 1602l12 0M2992 1315l11 0M2448 1859l9 0M2911 1772l7 0M3069 1330l8 0M2525 1826l8 0M2573 1802l11 0M3011 1293l8 0M2680 1838l5 0M3017 2043l11 0M2345 1653l9 0M2364 1929l5 0M2614 1742l9 0M3109 1381l10 0M2850 1799l4 0M2577 2037l4 0M2752 1787l10 0M2729 1725l5 0M2468 1839l3 0M2896 2084l11 0M3185 1995l10 0M3110 1300l7 0M2949 1901l9 0M2479 1989l4 0M3065 2088l11 0M2659 2079l10 0M2710 1629l12 0M2372 1671l5 0M3057 1701l11 0M2690 1964l11 0M2800 1667l12 0M3171 1955l4 0M2347 1641l12 0M2918 2068l5 0" stroke-width="11" stroke-opacity="0.8"/>
</g></g></g>
<path transform="scale(0.1)" d="M2398 1295l7 -2M2389 1606l3 -2M2809 1386l9 1M2466 1361l9 -1M2802 1523l5 1M2769 1429l9 3M2583 1513l9 -1M2664 1587l4 0M2499 1637l2 -3M2465 1252l4 1M2771 1416l1 0M2497 1277l2 -2M2490 1603l6 -1M2916 1257l6 2M2573 1465l4 1M2410 1340l7 0M2514 1249l4 -1M2559 1561l4 -2M2783 1318l3 0M2437 1406l9 1M2799 1480l6 0M2725 1488l6 -3M2600 1253l7 -1M2971 1380l8 1M2514 1428l8 2M2938 1410l2 -1M2345 1591l6 3M2655 1565l3 -3M2614 1355l3 -1M2543 1506l7 -3M2576 1469l2 1M2393 1643l9 -1M2797 1525l2 1M2737 1553l8 0M2928 1381l7 1M2665 1526l4 1M2789 1535l8 -1M2661 1286l9 3M2350 1513l9 -1M2389 1314l2 -1M2442 1490l3 -2M2683 1438l4 -2M2518 1575l7 1M2392 1534l9 2M2878 1354l6 3M2466 1325l5 2M2477 1282l6 2M2514 1284l7 0M2851 1265l3 -1M2502 1542l1 -1M2344 1568l7 -2M2549 1549l5 1M2873 1484l4 0M2605 1554l5 -3M2437 1651l5 -1M2705 1313l4 -3M2563 1320l6 2M2706 1611l8 1M2692 1257l9 -1M2837 1436l5 -2" stroke="#fff" stroke-linecap="round" stroke-width="9" stroke-opacity="0.15"/>
<path d="M232.6,162.9 C234.27,163.27 239.23,164.62 242.6,165.1 C245.97,165.58 249.4,165.93 252.8,165.8 C256.2,165.67 259.35,165.15 263,164.3 C266.65,163.45 270.8,162.4 274.7,160.7 C278.6,159 283.12,156.65 286.4,154.1 C289.68,151.55 292.45,148.32 294.4,145.4 C296.35,142.48 297.25,140.03 298.1,136.6 C298.95,133.17 299.27,126.77 299.5,124.8" fill="none" stroke="#fff" stroke-width="1.9" stroke-dasharray="4.6 2.6" stroke-linecap="butt"/>
</g>
<text x="318.6" y="136.4" font-size="9.3" fill="#f2f2f2" text-anchor="end">COLIV</text>
<rect x="303.2" y="208.3" width="13.8" height="1.9" fill="#fff"/>
<g clip-path="url(#ic5)">
<rect x="232.6" y="216" width="89.6" height="88.8" fill="#040404"/>
<path d="M266,216 C266.72,217.93 269.58,223.72 270.3,227.6 C271.02,231.48 270.53,235.4 270.3,239.3 C270.07,243.2 269.13,247.12 268.9,251 C268.67,254.88 269.63,258.72 268.9,262.6 C268.17,266.48 266.7,270.65 264.5,274.3 C262.3,277.95 259.1,281.58 255.7,284.5 C252.3,287.42 247.95,289.8 244.1,291.8 C240.25,293.8 234.52,295.72 232.6,296.5 L232.6,304.8 L322.2,304.8 L322.2,216 Z" fill="#0b0b0b"/>
<g clip-path="url(#it5)"><rect x="232.6" y="216" width="89.6" height="88.8" fill="#fff" filter="url(#fg5)" opacity="0.15"/></g>
<g clip-path="url(#it5)"><path d="M266,216 C266.72,217.93 269.58,223.72 270.3,227.6 C271.02,231.48 270.53,235.4 270.3,239.3 C270.07,243.2 269.13,247.12 268.9,251 C268.67,254.88 269.63,258.72 268.9,262.6 C268.17,266.48 266.7,270.65 264.5,274.3 C262.3,277.95 259.1,281.58 255.7,284.5 C252.3,287.42 247.95,289.8 244.1,291.8 C240.25,293.8 234.52,295.72 232.6,296.5" fill="none" stroke="#fff" stroke-width="14" stroke-opacity="0.25" filter="url(#fbl3)"/></g>
<g clip-path="url(#it5)"><g filter="url(#fblur)"><g transform="scale(0.1)" stroke="#fff" stroke-linecap="round" fill="none">
<path d="M3082 2747l31 13M2862 3056l36 -34M2728 2421l46 4M2846 2882l46 61M2964 2360l47 29M2902 2765l-2 67M2869 2835l62 32M2846 2811l-6 63M3077 2507l19 42M2797 2536l25 -28M2900 2962l70 27M2980 2640l42 -9M2857 2782l34 38M3000 2220l-25 59M2321 3052l34 -9M3008 2343l26 48M2931 2666l31 48M3032 2451l39 -12M2806 2777l50 21M2853 2139l-12 67M3047 2432l-24 31M3189 2904l7 55M3028 2671l28 21M2801 2576l72 9M2978 2333l62 -8M3004 2347l49 44M2929 2485l33 43M3191 3048l62 -17M2935 2192l56 -41M2754 2199l5 30M2917 2766l-18 42M2951 2359l-29 38M2589 2907l63 11M2865 2901l61 -48M2714 2896l30 16M2921 2615l53 -29M3033 2849l-35 61M2900 2237l38 -11M3042 2705l12 64M3110 2718l29 56M3151 2469l-12 38M3042 2248l-14 61M3125 2957l40 -16" stroke-width="5" stroke-opacity="0.12"/>
<path d="M3057 3020l33 -35M3213 2449l1 73M2765 2472l69 -2M3084 2553l3 40M2830 2887l-29 41M2996 2940l48 -46M2794 2347l34 28M2788 2797l-13 27M2975 2431l41 -25M3068 2362l60 36M2810 2620l28 30M2833 3023l-21 37M3179 2741l35 17M2629 2915l28 63M3176 2850l39 15M2747 2583l65 35M2846 2858l31 46M2978 2989l62 49M2832 2761l5 33M2927 2555l11 71M2988 3007l69 19M3090 3007l-28 66M3205 2296l3 32M2716 2976l-18 36M2911 2496l-30 64M2946 2989l-21 37M2881 2712l49 15M2806 2590l49 -6M3165 2179l70 11M2985 2856l31 30M2910 2422l76 -18M3180 2638l26 34M2886 2680l16 39M3072 2804l6 54M2905 2476l56 -43M3043 2685l46 17M2940 2320l39 -46M2929 2631l76 6M2937 2414l4 59M3205 2729l26 61M2623 2901l63 45M2824 2968l48 -55M3174 2407l16 70M2643 2960l54 -35M2928 2533l53 7M3010 2997l65 11M3019 2525l-12 52M3234 2205l-25 49M3014 2501l54 -18M2961 2895l31 16M2832 2842l66 5M2802 2330l55 -34M3070 3045l73 -16M3148 3005l-24 37M2874 2911l49 11M2825 2188l31 -10M3181 2957l21 50M2948 2521l33 25M2997 2455l-15 66M2996 2681l60 -20M3096 2418l-22 63M2789 2700l-7 52M2665 2969l29 29M3191 2250l31 12M2962 2466l-24 31M2762 2859l36 28M3096 2472l18 59M3028 3036l34 -27M2819 2657l37 15M2887 2835l13 74M2629 2978l42 61M2845 2993l42 -15M2514 3024l42 0M2765 2859l-34 51M2894 2657l-6 42M2697 2869l41 -5M3081 2176l32 16M2901 2354l9 44M2770 2486l38 9M3072 2458l48 4M2926 2320l42 33M3075 3019l39 -27M2854 2227l40 60M2965 2981l61 16M3109 2800l44 65M3062 2645l-24 32M3052 2226l-41 51M2907 2572l13 59M2946 2993l7 57M2861 2797l56 -35M2983 2644l16 31M2962 2251l-4 36M3059 2224l29 47M2815 3000l-12 47M3101 2968l70 -27M2978 2200l45 -3M2848 2818l3 49M3155 2243l5 34M3151 2593l38 -31M2771 2605l38 54M3032 2421l5 40M3085 2968l57 -35M2773 2393l32 18M2973 2885l62 -2M2954 3012l55 42M2866 2560l37 30M3139 2363l79 8" stroke-width="10" stroke-opacity="0.12"/>
<path d="M2826 2414l45 -50M2741 3044l30 -9M2575 2981l10 59M2431 2994l24 32M3054 2509l43 -36M3004 2920l-10 62M2772 2311l62 34M2978 2564l29 -20M2893 2514l56 10M2886 2184l61 1M2951 2795l58 -36M3104 2335l37 -2M2646 3018l40 2M2880 2298l32 -30M2801 2262l-35 67M3118 2283l52 -35M2937 2851l17 35M3172 2189l-24 40M2902 2734l20 26M3135 2738l30 -19M3099 2854l51 4M3054 2386l5 34M2439 3005l34 20M2951 2918l32 52M2793 2188l40 37M2943 2183l43 30M2914 2938l-8 40M3194 2751l-1 43M2901 2881l38 22M2849 2535l-24 55M2731 2347l-42 64M3169 2206l-35 72M2856 2544l21 63M3123 3043l31 0M2910 2693l7 51M3115 2917l56 -14M3161 2711l50 -2M3053 3019l29 52M3003 3040l35 13M2761 2690l67 27M3040 2893l54 35M3054 2592l49 -44M2597 2872l52 49M2807 2801l53 -9M3084 2483l-8 57M2865 2835l-28 64M2671 2953l37 31M2906 2810l-22 26M3107 2706l-45 59M2449 3011l22 23M3061 2609l78 -13M2978 2815l50 37M3217 2761l0 64M3188 2326l60 -39M2989 2653l26 34M2747 2229l57 -40M3135 2557l3 52M2650 2839l30 30M2633 2948l46 -53M2792 2906l46 -16M3034 3000l36 37M3183 2806l35 54M2846 2843l74 -15M3137 2626l68 8M2838 2858l11 36M3136 2575l8 34M3169 2922l-11 54M3039 2275l27 28" stroke-width="5" stroke-opacity="0.25"/>
<path d="M2636 2840l55 -4M2811 2217l28 71M2974 2652l67 33M2847 2608l28 28M2707 2533l37 39M3045 2407l-37 56M3149 2321l32 4M2653 2942l-21 36M3023 3005l42 31M3212 2985l-14 53M2814 2886l41 -40M3156 3014l1 35M2721 2944l32 34M3049 2462l47 38M3087 3010l36 60M3147 2301l24 24M2823 2649l33 -27M2418 2946l74 7M3067 2280l20 66M2765 2992l45 -31M3209 2432l-31 50M3020 2360l-25 35M2726 2179l57 2M2860 2995l18 36M2637 2968l67 43M2638 2837l33 15M3045 2188l-3 44M3035 2504l49 33M2828 2655l77 -4M2568 2997l-36 60M3031 2257l34 9M2736 2516l6 47M3019 2406l-23 34M2774 2430l-19 70M3140 2369l17 35M2797 2140l-9 47M2829 2294l39 -3M3119 2213l61 14M2888 2342l4 32M2843 2644l30 66M2805 2715l1 77M2361 3025l-35 10M2351 3005l0 40M2938 2309l56 -6M2939 2691l52 -17M2849 2713l29 -18M2952 2958l80 0M2843 2983l32 -38M2792 2289l34 -11M3079 2815l-4 45M2818 2802l51 -3M3201 2362l-32 40M2947 2364l40 48M2916 2811l39 14M3087 2740l35 58M3028 2640l6 52M2767 2394l24 45M2689 3014l62 17M2985 2848l42 10M2920 2973l48 -7M3132 2447l16 45M2869 2900l34 52M3003 2761l26 18M3037 2374l-12 71M2735 2864l40 -3M2992 2512l28 70M3109 2390l37 -19M3219 2965l-11 71M2823 2394l-8 60M2893 2656l31 58M2881 2304l13 30M2839 2398l61 3M3165 2914l34 -21M3048 2396l70 -11M3108 2839l46 -54M3067 2868l9 34M2824 2688l-25 31M2847 2406l41 -35M3113 2374l35 36M2865 2896l23 42M3067 2310l58 14M2963 2774l27 -13M2962 2158l36 21M3078 2213l-1 62M2844 2819l33 26M3012 2175l34 6M3046 2344l-15 40M3168 2472l6 31M2756 2559l18 37M3137 2634l45 -36M3192 2540l-5 52M2755 2307l45 37M3169 2850l54 -47M2908 2150l45 22M2712 2639l13 40M2765 2497l42 54M2872 2482l-25 75M2949 2596l40 -9M2812 2649l71 -14M2861 2252l35 -17M3119 2181l40 -5M3124 2409l74 9M2925 2539l69 -35M2845 2545l29 13M3038 2905l74 -5M3006 2963l0 33M3147 2642l49 19M2863 2674l0 80M2979 2202l32 21M2902 2895l53 -29M2849 2309l12 46M2765 2839l56 17M2709 2986l45 15M2903 2561l53 -14M2749 2828l-27 54M3051 2732l44 7M3119 2364l39 38M3189 2669l54 50M2704 2714l-20 53M3163 2707l61 -16M2874 2981l54 33M2834 2833l-48 60M3068 2516l-12 78M2949 2987l44 16M2850 2750l33 22M2871 2755l-16 69M3077 2456l-28 72M2976 2643l64 34M2848 2539l17 62M2938 2654l60 -34M2677 2884l-4 40M3114 2539l65 -25M3000 2665l47 14M2307 3030l40 3M2849 2929l-24 35M3149 2483l12 72M3125 2917l25 59M2961 2840l7 59M2895 2521l66 12M2766 2252l63 33M2680 2957l41 11M2980 2843l74 9M2784 2703l41 45M3047 2322l-14 45M2602 2994l24 36M2825 3000l35 28M2929 3017l-5 35M3055 2552l57 -21M2920 2769l33 -19M2416 2987l56 -21M2928 2688l64 -24M2772 2472l-13 54M2876 2496l18 30M3053 2621l12 58M2574 2941l45 22M2729 2815l60 31M3111 2603l53 -51M2987 2774l57 -41M2990 2427l56 18M3070 2262l40 -18M2797 2298l-16 42M3058 2656l18 50M3035 3001l26 -18" stroke-width="10" stroke-opacity="0.25"/>
<path d="M2884 2819l34 3M3173 2697l-22 27M2713 2597l-1 68M3006 2530l67 9M3019 2362l72 -15M3005 2336l50 21M2711 2193l13 41M2849 3029l53 8M2974 2666l47 -23M3004 2485l54 -14M3165 2451l54 -13M2607 3025l-21 36M2615 2857l14 57M3150 2260l51 17M2712 2773l47 -16M2704 2385l50 38M2670 2969l40 61M2666 2973l-32 41M2801 2342l74 27M2664 2865l47 -35M3012 2344l55 35M3099 2756l65 4M3213 2883l-1 38M3183 2242l28 43M3183 2665l47 20M3123 2296l-20 64M2719 2734l-8 38M3063 2436l11 31M2866 2247l9 40M2662 2784l46 58M2835 2833l25 34M2913 2478l36 11M2365 3026l-3 30M3191 2651l36 63M2828 2785l8 43M3161 2765l12 52M2819 2147l45 37M2706 2522l2 51M3078 2777l12 44M2614 3028l78 -14M3031 2338l19 40M3152 2412l37 -32M3131 2611l19 49M3014 2442l30 8M2715 3003l46 -25M2729 2662l-31 44M3005 2253l-9 77M2800 2840l29 37M2920 2939l64 -20M2353 3026l-30 16M2936 2922l49 1M3070 2196l44 58M3140 2421l-46 62M2830 2400l74 -16M3061 2267l51 -24M2733 2988l-25 58M2983 2760l-29 38M3060 2199l12 73M2817 2817l-8 44M2808 2849l46 -1M2698 2537l45 33M2756 2754l39 3M2772 2875l55 40M3027 2787l41 -15M2702 2204l38 -24M2883 2308l-29 53M2725 2733l-39 68M2980 2860l57 38M3091 2633l50 -14M2965 2963l68 35" stroke-width="5" stroke-opacity="0.38"/>
<path d="M2807 2876l-24 37M3126 2245l13 56M3123 2734l34 3M2805 2768l61 26M2784 2389l42 -16M2789 2700l77 22M2778 2855l62 -11M2810 2394l-6 74M2689 2967l37 12M2757 2284l61 -37M3030 2585l-18 25M3067 2516l43 -39M2855 2881l13 36M3096 2663l16 26M3159 2437l52 -7M2955 2314l32 40M2784 2465l42 -19M2774 2818l-7 49M3086 2816l-24 55M2561 3006l-26 75M2638 2981l23 19M3019 2298l34 34M3177 2309l63 -28M2944 3017l35 -37M2981 2583l-6 59M2387 3001l34 -7M2645 2908l38 -20M2875 2384l-28 74M2919 2622l49 14M3070 2495l32 55M2981 3016l-12 33M2824 2556l21 29M2785 2545l-2 49M3010 2758l-14 37M2946 2777l23 54M2898 2938l48 25M3106 2514l8 41M3142 2871l46 -26M2761 2141l-2 39M3053 2513l32 13M2419 2997l-73 23M2808 2935l31 -30M2859 2694l-35 51M3037 2135l-17 68M2497 2975l41 -33M2944 2840l76 0M2747 2959l24 70M3132 2961l-28 57M3057 2369l27 29M3179 2932l51 4M2956 2787l-17 36M2395 2938l17 43M2785 2217l-31 52M2893 2752l20 52M2888 2824l47 14M2777 2520l42 0M2728 2430l30 32M3192 2313l-1 30M2877 2916l44 -32M3189 2408l37 31M2976 2875l-33 55M3049 2802l47 25M2922 3006l59 37M2855 2932l36 34M2883 2648l3 54M2979 2990l20 72M2882 2271l-5 35M2718 2305l4 61M3107 3033l47 9M2723 2611l-5 32M2911 2643l55 49M3049 2922l30 15M3041 2958l34 34M2709 2637l45 -21M3107 2844l23 60M3176 2187l70 -25M2367 3006l36 23M2837 2393l62 40M3166 2472l-2 40M2756 2686l-28 62M2974 2537l1 53M3025 2506l50 55M2831 2409l-20 43M3126 2586l0 39M3137 2229l23 59M3141 2782l22 63M2703 2484l0 72M2752 2923l36 25M2941 3022l26 51M3004 2771l31 68M2959 2190l43 -15M2863 2701l42 -29M3028 2688l35 -35M2931 2859l75 -13M2494 2983l23 -22M2886 2537l26 71M3151 2653l38 15M2666 2706l-21 50M3093 2546l34 66M2400 2927l36 67M3096 2591l23 44M3193 2701l-18 29M2882 2811l61 -18M2857 2847l66 30M2617 2756l28 48M3083 2209l3 34M2673 2469l52 -60M2832 2944l46 -8M2862 3005l65 29M3179 2562l54 50M2822 2147l33 71M2978 3019l25 53M2758 2463l64 1M3000 2601l42 43M3046 2688l36 -4M2899 2265l-16 47M3038 2889l-11 31M3149 2451l-7 32M2769 2344l34 -1M2533 2953l22 27M3138 2368l70 5M2898 2181l61 -40M3034 2531l38 27M3078 2833l33 58M3172 2735l35 43M2799 2958l65 -42M3082 2373l35 38M2920 2529l22 46M3169 2270l7 58M2894 2594l-32 46M2849 2879l44 6M3197 2589l45 34M2685 2595l62 31M2745 2651l-36 58M3100 2649l-36 58M3202 2549l23 -25M2642 2850l63 18M2624 3017l-15 62M2909 2638l49 -4M2745 2621l60 17M2744 2198l69 4" stroke-width="10" stroke-opacity="0.38"/>
<path d="M2742 2637l38 36M2752 2424l-3 75M2572 2868l10 62M2710 2715l-16 35M2528 2964l44 -39M2665 2765l-39 37M2735 2413l-10 64M2486 2915l32 40M2716 2316l41 41M2674 2786l-34 47M2724 2185l-23 52M2672 2502l66 -23M2670 2759l-38 58" stroke-width="5" stroke-opacity="0.5"/>
<path d="M2502 2890l-6 76M2744 2532l45 -3M2360 3023l-12 28M2314 2980l30 15M2488 2919l65 44M2441 2931l4 75M2654 2695l11 44M2567 2874l-1 54M2426 2963l70 15M2731 2518l-9 37M2403 2910l25 46M2732 2247l-11 63M2588 2804l43 -16M2669 2699l6 33M2513 2875l70 -10M2497 2905l-29 18M2750 2336l6 61M2600 2810l-27 42" stroke-width="10" stroke-opacity="0.5"/>
<path d="M2504 2888l-40 17" stroke-width="5" stroke-opacity="0.62"/>
<path d="M2622 2766l-35 61M2712 2264l-1 42M2681 2682l-26 61M2730 2190l18 59M2702 2199l-34 46" stroke-width="10" stroke-opacity="0.62"/>
<path d="M2640 2169l45 -13" stroke-width="10" stroke-opacity="0.75"/>
<path d="M2529 2922l6 0M2729 2902l5 0M3013 2279l7 0M3104 2958l5 0M3191 2179l5 0M3184 2585l8 0M2942 2859l8 0M3164 2657l9 0M3089 2615l7 0M3074 2741l6 0M2695 2967l12 0M3116 2244l12 0M2843 2696l9 0M2798 2754l11 0M3061 2887l6 0M3016 2362l10 0M2919 2350l10 0M3220 2186l10 0M2571 2984l5 0M3032 2399l5 0M3103 2972l5 0M2797 3004l8 0M2785 2435l7 0M3119 2772l12 0M2732 2580l12 0M2909 2619l5 0M2878 2797l11 0M3177 2879l7 0M2779 2651l3 0M3005 2494l7 0M3068 2500l4 0M2816 3010l4 0M3022 2510l3 0M2821 2282l9 0M2601 2973l6 0M3082 2378l10 0M2958 2296l7 0M2703 2527l7 0M3000 2785l6 0M2827 2729l8 0M2797 2615l4 0M2339 3028l7 0M2827 2189l10 0M3214 2724l10 0M3185 2194l9 0M2786 2920l9 0M3051 2192l8 0M2756 2548l10 0M2656 2763l5 0M3010 2210l12 0M2892 2216l9 0M2695 2922l8 0M3139 2849l7 0M2369 2973l5 0M3153 2439l10 0M2692 2814l4 0M3087 2290l5 0M3093 2559l8 0M2925 2236l4 0M3021 2310l5 0" stroke-width="11" stroke-opacity="0.8"/>
</g></g></g>
<path transform="scale(0.1)" d="M2377 2604l2 1M2337 2862l2 2M2445 2552l7 0M2643 2455l4 1M2403 2560l3 -2M2454 2541l7 2M2584 2606l7 2M2501 2289l4 2M2361 2538l4 2M2625 2636l1 -2M2338 2723l8 0M2648 2727l5 3M2444 2229l7 -3M2699 2318l6 -1M2367 2938l9 2M2530 2497l5 0M2477 2685l8 0M2594 2381l9 0M2508 2676l1 -2M2339 2455l3 2M2518 2857l3 0M2380 2204l8 -2M2334 2716l4 1M2489 2530l7 -2M2531 2539l1 1M2449 2755l3 2M2326 2819l1 1M2344 2748l3 -3M2327 2709l8 -2M2517 2845l2 -1M2342 2703l5 0M2502 2860l3 -1M2459 2871l4 -2M2335 2251l3 1M2664 2207l4 1M2433 2257l3 0M2624 2518l7 1M2561 2701l5 2M2559 2307l5 -3M2405 2190l4 -1M2493 2495l6 -2M2576 2162l5 1M2474 2408l5 3M2330 2221l8 -1M2447 2856l4 0M2593 2435l2 -1M2403 2429l1 -1M2347 2360l3 3M2540 2752l2 -1M2450 2607l4 -2M2545 2215l4 2M2530 2201l3 2M2343 2397l1 -3M2602 2753l3 -2M2575 2631l5 1M2594 2701l7 -1M2356 2230l3 1M2573 2377l6 -3M2380 2167l4 3M2490 2192l7 -3" stroke="#fff" stroke-linecap="round" stroke-width="9" stroke-opacity="0.3"/>
<path d="M266,216 C266.72,217.93 269.58,223.72 270.3,227.6 C271.02,231.48 270.53,235.4 270.3,239.3 C270.07,243.2 269.13,247.12 268.9,251 C268.67,254.88 269.63,258.72 268.9,262.6 C268.17,266.48 266.7,270.65 264.5,274.3 C262.3,277.95 259.1,281.58 255.7,284.5 C252.3,287.42 247.95,289.8 244.1,291.8 C240.25,293.8 234.52,295.72 232.6,296.5" fill="none" stroke="#fff" stroke-width="1.9" stroke-dasharray="4.6 2.6" stroke-linecap="butt"/>
</g>
<text x="318.6" y="227.6" font-size="9.3" fill="#f2f2f2" text-anchor="end">FN</text>
<rect x="303.2" y="299.3" width="13.8" height="1.9" fill="#fff"/>
<g clip-path="url(#ic6)">
<rect x="462.2" y="33.4" width="89" height="89.2" fill="#131313"/>
<path d="M462.2,86.5 C462.97,86.45 464.33,86.42 466.8,86.2 C469.27,85.98 473.6,86.05 477,85.2 C480.4,84.35 483.8,82.63 487.2,81.1 C490.6,79.57 494,77.95 497.4,76 C500.8,74.05 504.43,71.72 507.6,69.4 C510.77,67.08 513.97,64.77 516.4,62.1 C518.83,59.43 520.62,56.32 522.2,53.4 C523.78,50.48 525.05,47.93 525.9,44.6 C526.75,41.27 527.07,35.27 527.3,33.4 L551.2,33.4 L551.2,122.6 L462.2,122.6 Z" fill="#151515"/>
<g clip-path="url(#it6)"><rect x="462.2" y="33.4" width="89" height="89.2" fill="#fff" filter="url(#fg6)" opacity="0.15"/></g>
<g clip-path="url(#it6)"><path d="M462.2,86.5 C462.97,86.45 464.33,86.42 466.8,86.2 C469.27,85.98 473.6,86.05 477,85.2 C480.4,84.35 483.8,82.63 487.2,81.1 C490.6,79.57 494,77.95 497.4,76 C500.8,74.05 504.43,71.72 507.6,69.4 C510.77,67.08 513.97,64.77 516.4,62.1 C518.83,59.43 520.62,56.32 522.2,53.4 C523.78,50.48 525.05,47.93 525.9,44.6 C526.75,41.27 527.07,35.27 527.3,33.4" fill="none" stroke="#fff" stroke-width="12" stroke-opacity="0.15" filter="url(#fbl3)"/></g>
<g clip-path="url(#it6)"><g filter="url(#fblur)"><g transform="scale(0.1)" stroke="#fff" stroke-linecap="round" fill="none">
<path d="M5200 1075l71 -48M5386 575l62 -45M4914 892l54 -45M4860 883l42 -47M4800 1073l47 -37M5443 592l83 -59M5307 521l59 -36M4922 937l94 -65M4985 1215l46 -52M5448 960l81 -37M5308 870l68 -23M5159 1117l52 -59M5455 1087l80 -83M5353 828l59 -46M5026 786l43 -46M5441 370l57 -31M5327 530l98 -60M4746 1247l90 -74M5013 1193l56 -51M5359 1069l84 -44M5094 1030l66 -58M5069 846l73 -58M5044 945l68 -56M4799 983l59 -21M5063 1117l90 -79M5154 1242l59 -51M4739 1083l55 -34M5062 993l69 -46M5414 406l43 -49M5377 1108l66 -41M4884 1036l79 -36M5180 872l42 -30M5178 1213l105 -33M5464 931l79 -54M5197 1154l83 -38M4915 1209l88 -41M4986 1081l31 -41M5188 1173l80 -70M5409 621l93 -47M5101 1017l87 -68M5336 554l99 -38M5262 377l86 -58M4988 967l53 -62M5433 573l48 -50M5413 1006l95 -30M5463 458l86 -43M5221 831l45 -28M5334 500l73 -78M5430 808l40 -38M5341 627l95 -31M5323 1067l47 -48M5430 528l69 -89M4697 908l108 -14M5345 971l63 -77M4890 963l46 -41M5401 579l48 -52M4784 925l47 -50M5187 956l52 -55M5310 459l3 -59M5284 818l87 -77M5308 873l96 -68M4795 921l61 -54M4782 970l56 -19M4976 1087l53 -65M4896 934l102 -58M5406 1088l65 -72M4875 1153l75 -41M5270 895l63 -36M5273 1247l61 -67M5046 893l84 -43M5445 941l97 -49M4669 1211l47 -34M5370 551l95 -72M5431 394l88 -47M5013 875l39 -51M5057 1166l75 -88M4971 1230l103 -54M5294 1056l33 -38M5188 1210l53 -25M5221 644l92 -48M5079 1200l70 -70M4995 1215l73 -43M5180 670l92 -58M5345 983l88 -53M5360 969l75 -70M5110 924l101 -50M4979 1000l97 -61M4910 1222l64 -63M5127 765l49 -38M4693 1094l83 -63M4674 1166l63 -40M5025 1088l66 -83M5340 1072l74 -85M5211 576l105 -47M4953 1051l78 -62M4927 1039l72 -60M5231 1015l84 -31M5314 391l59 -40M5316 455l-3 -54M5272 780l96 -33M4615 1135l100 -43M5436 962l58 -45M5280 845l96 -37M5199 1128l46 -42M5216 748l43 -38M4815 1227l89 -64M5198 647l58 -42M4932 883l57 -60M5274 919l50 -20M4640 1051l49 -22M5180 1218l59 -42M5268 722l58 -58M4913 1116l74 -36M4727 980l57 -47M5209 674l55 -56M5037 1155l52 -64M5451 923l41 -49M5253 740l52 -50M5360 432l69 -48M5398 832l38 -48M5449 1243l99 -45M4603 1134l101 -64M4828 1176l52 -23M4856 1129l33 -38M4768 919l87 -56M4989 931l74 -90M5392 838l74 -87M5315 932l55 -19M4971 958l82 -85M4871 1089l56 -26M4611 1072l82 -76M5078 1237l93 -46M5408 1038l58 -42M5388 550l75 -34M5203 726l47 -44M5214 1191l43 -28M5473 864l40 -31M4840 1095l51 -19M5333 1223l103 -33M5410 434l82 -88M5080 1182l48 -30M5349 896l41 -43M4657 1089l77 -70M5153 904l78 -36M4860 1180l86 -50M5354 629l40 -35M5287 1137l86 -71M5307 899l87 -29M4868 1132l94 -65M4921 1197l51 -38M5451 1112l63 -45M5352 433l46 -42M5201 1217l38 -38M5281 675l63 -31M5457 1134l87 -35M4618 1195l41 -30M5334 526l46 -49M5157 861l103 -58M5473 694l68 -40M5131 841l61 -30M5465 556l92 -41M4852 1013l46 -49M5454 962l61 -61M5393 993l100 -36M5429 754l88 -80M5428 628l47 -28" stroke-width="10" stroke-opacity="0.12"/>
<path d="M5264 1086l46 -38M4903 944l109 -37M4622 1057l56 -32M5326 999l89 -79M5466 1227l67 -73M5426 1243l56 -52M5017 829l94 -56M5292 463l106 -44M5068 1002l63 -39M4650 1012l60 -77M5325 450l39 -44M4882 1120l60 -70M5219 641l78 -46M4775 1181l52 -29M4846 1013l66 -32M4981 987l74 -65M5238 741l94 -67M5058 1022l68 -53M5147 709l47 -35M5169 811l92 -67M5483 485l37 -40M5043 1165l68 -73M5123 1040l66 -78M5427 762l70 -82M5399 455l84 -59M5267 946l63 -48M5384 890l98 -63M5037 821l88 -30M5164 888l51 -52M5451 587l48 -29M5026 1065l43 -54M5148 1037l107 -42M5039 1002l89 -33M5466 990l37 -39M5201 1083l64 -53M5397 1000l73 -32M5125 1188l39 -40M5254 547l54 -22M5309 1140l65 -22M5437 1126l88 -63M5115 990l47 -56M5158 790l42 -55M5112 1028l65 -83M5483 965l39 -36M5450 527l66 -71M5287 584l45 -40M5307 962l40 -48M5089 909l49 -19M4705 1057l54 -20M4701 1182l70 -24M5297 589l70 -33M4706 1131l86 -35M5351 545l60 -69M5106 1255l95 -69M5137 871l80 -62M4903 985l43 -36M5263 898l91 -28M5461 431l68 -49M5284 495l68 -52M5380 584l86 -36M5471 828l76 -53M5337 1032l61 -23M5431 1032l59 -35M5443 980l57 -36M5236 572l62 -53M5474 536l52 -43M4757 1070l41 -31" stroke-width="15" stroke-opacity="0.12"/>
<path d="M4997 802l102 -44M5243 589l37 -69M5157 1154l48 -26M5387 1009l90 -30M5185 852l76 -40M5204 923l73 -70M4832 887l69 -43M5311 974l54 -51M4642 1212l34 -43M5021 1193l69 -54M5351 752l81 -85M5105 944l54 -41M5298 389l82 -39M5455 1125l78 -74M4865 1101l57 -18M4898 875l61 -32M5036 1084l72 -33M4617 1133l58 -48M5380 885l63 -26M5134 1046l38 -44M5321 791l53 -64M5292 473l16 -70M4911 895l63 -66M5363 736l53 -70M5023 1175l56 -33M5202 617l47 -70M5353 1186l62 -62M5427 738l78 -41M4631 1128l56 -60M5399 1205l85 -44M5312 406l97 -48M5303 489l28 -63M4944 1007l84 -55M5320 1162l109 -39M5293 1007l58 -39M5428 741l66 -37M5323 934l42 -38M5444 925l51 -50M4819 1027l59 -67M5043 1095l50 -45M5208 1067l75 -47M5350 826l85 -45M5156 812l56 -56M5031 1018l60 -46M5439 1095l66 -30M5467 851l83 -43M5312 751l63 -77M5108 783l58 -18M5223 1248l89 -73M4989 779l82 -38M5001 807l74 -82M5315 710l66 -21M4981 1162l54 -44M5225 750l103 -59M4873 1145l95 -45M5408 415l78 -58M4786 906l78 -34M5400 1158l80 -59M5409 1190l36 -40M5065 782l82 -74M4878 913l32 -41M4933 1086l101 -37M5345 540l71 -33M4593 1034l68 -25M5001 767l87 -73M5374 1239l84 -86M5126 1100l72 -35M4742 975l71 -47M4791 1032l46 -39M5231 1239l70 -51M5325 893l87 -45M4922 1131l62 -73M4900 1254l48 -57M4878 905l108 -50M5237 1118l60 -62M5286 912l36 -43M5109 958l45 -50M5012 910l103 -48M5337 513l65 -33M4875 1142l74 -66M5376 1147l57 -44M4610 929l83 -54M5449 696l83 -54M5447 475l64 -24M5441 584l87 -81M5042 732l85 -63M5058 1076l94 -40M5362 671l111 -40M5108 1169l70 -70M5168 808l77 -29M5205 1110l71 -32M5060 782l74 -70M4939 972l70 -43M5158 675l110 -47M4937 989l48 -47M5103 1022l52 -62M5387 1125l48 -60M5474 1115l58 -66M5208 788l47 -32M5435 1148l74 -34M5433 697l64 -46M5099 825l84 -38M5157 855l78 -88M5463 527l68 -65M5212 649l60 -51M5210 926l42 -33M5226 916l55 -18M4942 1257l55 -64M5315 385l54 -67M5405 405l61 -72M5123 1116l52 -51M5409 491l95 -59M5427 1109l63 -19M5344 1237l41 -38M4691 982l60 -22M4946 797l71 -24M5436 629l79 -77" stroke-width="10" stroke-opacity="0.25"/>
<path d="M5071 690l72 -32M4926 969l84 -77M5280 759l62 -75M4735 933l55 -39M4775 893l67 -38M5174 886l35 -37M5316 1102l60 -59M5377 481l77 -56M5464 434l41 -53M5195 973l68 -40M4887 971l87 -55M5375 1006l49 -16M5242 490l53 -41M5337 637l83 -35M5136 880l40 -47M4869 917l46 -25M5378 417l52 -61M5363 788l49 -40M5353 519l81 -51M4631 1158l85 -30M5375 516l104 -50M5081 1062l80 -76M5035 1184l72 -43M5050 1066l48 -49M4812 1057l61 -49M4655 1210l87 -39M5270 415l61 -39M5365 994l89 -28M4680 860l118 2M5434 1216l52 -52M5331 438l49 -37M4896 974l65 -50M5169 650l40 -69M4852 1124l64 -54M5274 552l33 -59M5415 992l102 -39M5230 654l100 -49M5165 888l68 -57M5150 931l73 -57M4818 1141l110 -36M5196 866l61 -31M5288 878l40 -36M4909 841l87 -60M5022 1056l104 -36M5353 1145l55 -59M5310 711l106 -56M5441 358l32 -42M5301 405l85 -77M5457 980l44 -44M5308 610l72 -77M5173 745l71 -39M4883 894l88 -78M4817 1038l85 -63M5047 836l49 -32M5334 887l84 -40M4698 932l96 -40M5225 534l74 -94M5337 832l89 -57M4882 1118l55 -18M4632 888l81 6M4929 1161l86 -28M4955 1032l86 -38M5381 829l63 -47M4823 1160l55 -30M5292 740l104 -51M5336 378l92 -71M5314 654l66 -63M5009 812l81 -28M5374 599l35 -44M5104 1118l71 -83" stroke-width="15" stroke-opacity="0.25"/>
<path d="M4972 772l55 -25M5019 738l100 -58M4845 844l69 -73M5049 732l92 -72M4828 867l89 -17M5177 643l71 -85M5246 450l70 -75M5277 391l8 -93M4797 875l57 -40M4694 871l60 -24M4903 848l68 -22M5006 741l96 -50" stroke-width="10" stroke-opacity="0.38"/>
<path d="M5263 524l40 -110M5037 785l63 -53M4665 866l53 1M5189 592l54 -39" stroke-width="15" stroke-opacity="0.38"/>
<path d="M5026 756l64 -49M4831 854l47 -61" stroke-width="10" stroke-opacity="0.5"/>
<path d="M5070 701l70 -25" stroke-width="15" stroke-opacity="0.5"/>
</g></g></g>
<path transform="scale(0.1)" d="M4842 770l5 -1M4821 612l6 2M4778 793l4 2M4850 757l9 0M4659 505l6 -1M4686 518l5 0M5047 520l8 1M4934 429l1 2M4973 602l7 1M5028 720l4 -2M4874 524l6 -1M4845 477l7 -1M4894 405l6 -2M4955 691l7 -2M4669 468l5 -1M5018 700l3 1M5015 365l2 2M4652 795l6 -2M4686 503l1 0M4923 658l7 1M4804 816l8 1M5014 732l9 3M5006 433l7 1M5189 369l6 -2M4685 765l8 -2M5093 526l1 0M4675 616l6 2M4639 407l6 -3M4908 754l4 -1M4860 633l9 -1" stroke="#fff" stroke-linecap="round" stroke-width="9" stroke-opacity="0.22"/>
<path d="M462.2,86.5 C462.97,86.45 464.33,86.42 466.8,86.2 C469.27,85.98 473.6,86.05 477,85.2 C480.4,84.35 483.8,82.63 487.2,81.1 C490.6,79.57 494,77.95 497.4,76 C500.8,74.05 504.43,71.72 507.6,69.4 C510.77,67.08 513.97,64.77 516.4,62.1 C518.83,59.43 520.62,56.32 522.2,53.4 C523.78,50.48 525.05,47.93 525.9,44.6 C526.75,41.27 527.07,35.27 527.3,33.4" fill="none" stroke="#fff" stroke-width="1.9" stroke-dasharray="4.6 2.6" stroke-linecap="butt"/>
</g>
<text x="547.6" y="45" font-size="9.3" fill="#f2f2f2" text-anchor="end">BF-GFP</text>
<rect x="532.2" y="117.1" width="13.8" height="1.9" fill="#fff"/>
<g clip-path="url(#ic7)">
<rect x="462.2" y="124.8" width="89" height="89" fill="#0b0b0b"/>
<path d="M462.2,185.5 C463.93,184.77 469.17,182.68 472.6,181.1 C476.03,179.52 479.15,178.07 482.8,176 C486.45,173.93 490.6,171.13 494.5,168.7 C498.4,166.27 502.55,164.32 506.2,161.4 C509.85,158.48 513.73,154.6 516.4,151.2 C519.07,147.8 520.73,144.17 522.2,141 C523.67,137.83 523.98,134.9 525.2,132.2 C526.42,129.5 528.78,126.03 529.5,124.8 L551.2,124.8 L551.2,213.8 L462.2,213.8 Z" fill="#131313"/>
<g clip-path="url(#it7)"><rect x="462.2" y="124.8" width="89" height="89" fill="#fff" filter="url(#fg7)" opacity="0.15"/></g>
<g clip-path="url(#it7)"><path d="M462.2,185.5 C463.93,184.77 469.17,182.68 472.6,181.1 C476.03,179.52 479.15,178.07 482.8,176 C486.45,173.93 490.6,171.13 494.5,168.7 C498.4,166.27 502.55,164.32 506.2,161.4 C509.85,158.48 513.73,154.6 516.4,151.2 C519.07,147.8 520.73,144.17 522.2,141 C523.67,137.83 523.98,134.9 525.2,132.2 C526.42,129.5 528.78,126.03 529.5,124.8" fill="none" stroke="#fff" stroke-width="22" stroke-opacity="0.2" filter="url(#fbl3)"/></g>
<g clip-path="url(#it7)"><g filter="url(#fblur)"><g transform="scale(0.1)" stroke="#fff" stroke-linecap="round" fill="none">
<path d="M5209 1671l22 -88M5020 1931l76 -26M4845 2134l16 -68M4922 1895l22 -67M5502 1368l16 -37M5327 1761l33 -24M5479 1885l62 -44M5173 1875l73 -31M5420 1882l36 -27M5270 2024l49 -57M5191 2094l36 -24M5271 1587l40 -59M5196 1835l20 -45M5167 1811l44 -21M5482 1659l17 -75M4642 1991l24 -37" stroke-width="5" stroke-opacity="0.12"/>
<path d="M5449 2126l43 -14M4635 1909l78 -32M5112 1872l79 -58M5123 1865l24 -38M5007 1852l20 -47M5119 2024l34 -52M5273 1553l61 -13M5401 2003l78 -24M5220 1754l54 -47M5394 2069l61 -61M4861 2156l35 -53M5255 1682l64 -38M5150 1736l62 -22M5320 2039l14 -62M4973 2020l51 -41M5337 1773l71 -15M5253 1875l24 -44M5055 1756l51 -46M5036 1779l50 -84M4649 2022l20 -49M5333 1963l57 -48M5205 1809l49 -19M5354 1498l70 -55M5316 1952l26 -69M4622 2136l40 -74M5023 2002l50 -63M5419 2160l18 -90M5434 1985l76 -50M4985 2080l21 -41M5259 1941l53 -29M5403 1594l24 -77M4989 1942l73 -54M5251 2098l62 -23M5411 1813l30 -95M4938 1950l13 -63M5054 1819l37 -14M5239 2096l20 -41M5000 2113l57 -46M4898 2084l14 -73M5343 1407l57 -33M4928 2110l68 -57M5303 1907l23 -61M5352 1914l11 -55M4992 1911l35 -35M4982 2064l66 -45M5217 2010l40 -15M5410 1295l75 -19M5330 1376l14 -38M4800 1876l33 -64M4879 2066l50 -79M4966 2102l71 -48M5340 2068l59 -21M5232 1973l33 -80M5424 1712l52 -37M4622 2019l16 -54M4992 1733l36 -23M5049 1747l53 -22M5327 1861l68 -51M5153 2016l58 -53M5303 1396l32 -76M4989 2123l45 -45M4880 1870l65 -51M5097 1689l28 -74M5270 2018l53 -71M5359 1992l83 -39M5417 1980l59 -74M4639 2144l16 -83M4879 1919l59 -73M5255 1962l40 -53M4881 1846l70 -14M5392 1677l44 -53M5296 2022l46 -54M5245 2072l62 -16M5399 1934l55 -22M4903 1903l21 -50M4936 2134l47 -12M5386 2115l28 -35M5041 2030l57 -37M4836 2073l61 -60M5315 1726l50 -47M5386 1484l39 -48M5121 2018l44 -15M5163 1831l47 -9M5380 1439l52 -56M4988 1822l64 -42M4841 2079l63 -70M4962 1860l33 -23M4758 2012l21 -51M4879 2026l10 -54M5250 1900l60 -24M5333 1567l74 -66M5313 1410l87 -44M5190 1948l41 -15M5407 2006l37 -34M5218 2140l26 -50M5347 1792l50 -41M5359 2121l60 -52M5319 2111l31 -60M5171 1811l20 -91M4912 1859l30 -39M4955 1861l24 -33M5167 2165l25 -66M5331 1597l25 -53M5357 1851l68 -41M5232 1670l27 -93M4880 2126l40 -72M5393 1553l15 -55M5159 2160l31 -93M5198 1639l49 -32M5337 1814l23 -68M5376 1437l20 -85M5148 1767l65 -24M5283 1639l41 -15M5155 2046l30 -90M4816 1916l65 -23M5325 1425l26 -51M5472 1619l49 -26M5407 1430l20 -38M5481 2022l33 -48M4959 1849l60 -29M4953 1817l55 -19M5342 1784l53 -47M4880 2125l72 -16M5076 2117l55 -38M5385 1790l13 -60M5379 2028l51 -22M4723 2166l33 -65M5473 2088l71 -29M4775 2062l81 -55M5263 1647l71 -28M5318 2162l68 -54M5341 1496l70 -45M5450 2055l44 -20M4629 2113l64 -33M5191 1687l42 -59M5186 1837l49 -15M5157 2107l59 -27M4821 2168l29 -68M5489 2040l15 -59M4767 1960l28 -60M5283 1525l58 -51M5186 2046l79 -33M4607 2138l52 -40M5333 1409l58 -73M4802 1921l73 -23M5388 2019l92 -24M5435 1336l23 -51M5458 1386l89 -38M4947 1960l21 -42M5241 1643l39 -48M4937 2092l93 -21M5463 1410l64 -36M5378 2042l60 -15M5436 1823l65 -20M5462 2085l22 -89M4692 2006l26 -51M5393 2154l30 -36M5363 1977l64 -52M5417 1618l62 -19M5349 1341l65 -68M4760 2044l25 -77M5442 1312l36 -27M5324 1975l41 -31M5030 1879l39 -28M4932 2086l47 -13M4677 2100l44 -82M4851 1821l81 -45M5368 1368l63 -59M5306 1541l73 -18M5376 1679l19 -61M5155 1883l64 -42M5385 2071l23 -40M5033 1870l85 -24M4957 1928l57 -73M5485 1830l22 -60M5268 1559l59 -73M5490 1750l32 -46M5037 1830l78 -43M5042 1655l35 -53M5397 1724l77 -38M5267 2108l60 -47M4659 2130l22 -56M5383 2140l76 -48M5465 2076l30 -86M5474 2087l26 -55M4702 1878l68 -40M5044 2155l38 -44M5111 1678l74 -45M5456 1428l39 -31M4721 2105l41 -48M5344 1453l55 -29M4725 2168l32 -77M5353 1715l66 -15M5391 1582l10 -43M5434 1466l78 -20M5423 1493l43 -89M5095 2106l28 -92M5371 2018l71 -65M5454 1547l84 -17M5342 1728l63 -17M5010 2145l34 -54M5459 1316l47 -47M5488 1428l46 -65M4972 2169l34 -63M5144 2096l17 -69M4925 2108l47 -23M5176 1617l31 -28M4643 2055l48 -22M5059 2035l66 -54M5444 1416l75 -53M4991 2026l31 -73M5480 1514l35 -64M5255 2128l77 -45M5449 2084l55 -52M5179 1863l38 -72M4797 1892l20 -86" stroke-width="10" stroke-opacity="0.12"/>
<path d="M4655 1985l77 -46M5153 1953l57 -44M5407 1389l82 -51M5021 2089l55 -41M5494 1938l20 -57M5093 1915l32 -60M4730 2039l50 -80M5329 1576l38 -26M5038 1927l46 -76M4614 2076l48 -78M5053 1772l34 -23M5204 1991l40 -15M5001 1930l19 -83M5024 2137l12 -60M4767 2115l25 -36M4685 2093l33 -44" stroke-width="15" stroke-opacity="0.12"/>
<path d="M5382 1474l51 -19M4733 1808l44 -16M5376 1745l50 -50M5315 1355l29 -69M5421 1882l76 -20M5421 1583l28 -42M4939 1973l48 -17M5428 1510l76 -22M5215 1425l19 -42M5438 1369l13 -41M5072 1848l65 -64M4924 1903l44 -9M4966 1774l65 -49M5284 1494l98 -18M4802 1851l59 -32M5266 1547l75 -34M5079 1695l45 -34M4770 1925l75 -24" stroke-width="5" stroke-opacity="0.25"/>
<path d="M5093 2019l30 -58M4757 1880l58 -30M5345 1500l28 -40M4957 1883l23 -39M5127 1566l53 -75M5424 1529l94 -30M5322 1577l55 -45M5301 1354l42 -83M5064 1737l63 -45M5286 1985l79 -44M4954 2141l48 -17M5321 2035l51 -30M5328 1450l21 -38M4662 1989l40 -12M4638 1948l24 -44M4698 2098l86 -46M5471 2105l47 -71M4611 1954l32 -43M5224 1496l50 -83M5141 1588l25 -51M4959 2075l52 -33M5037 1817l27 -49M5100 2026l22 -59M5261 1350l23 -44M5123 1714l49 -53M5165 1554l41 -40M5492 2022l34 -58M4618 1965l23 -60M5222 1687l60 -55M4675 2012l11 -62M5468 1859l63 -12M4950 1944l45 -30M5344 1730l65 -41M5329 1740l23 -44M5227 2151l28 -71M4827 1870l58 -50M4790 1890l58 -80M5358 1674l63 -38M5036 1808l10 -48M5248 1765l20 -46M5299 1304l81 -52M5372 1406l26 -54M5192 1633l43 -54M5208 1870l43 -50M4930 1916l23 -63M5367 1958l37 -37M5250 1418l12 -57M5394 1304l24 -38M5392 1299l46 -48M5182 2082l53 -53M5252 1498l35 -86M4882 1865l23 -38M4948 1779l85 -38M5279 1623l66 -18M5284 1929l29 -50M4938 1838l20 -68M5219 1705l53 -27M4964 1790l40 -15M5296 1563l21 -78M5289 1688l33 -25M5125 1613l35 -43M5367 2035l58 -34M5171 1670l46 -44M5230 1605l52 -58M5206 1686l45 -85M5422 2045l68 -44M4674 1850l55 -13M4670 2018l36 -85M4934 1823l38 -15M4775 2078l65 -45M5231 1386l73 -39M4645 2019l11 -39M5074 1731l74 -37M4946 2090l45 -68M5227 1948l23 -84M5191 1487l66 -74M5098 1737l39 -28M4716 2178l33 -94M4895 2008l77 -53M5335 1311l62 -76M4668 1986l26 -94M4669 1962l37 -23M4721 1945l47 -25M5183 1713l68 -14M5350 1295l59 -23M5425 1688l20 -51M5309 2086l60 -17M4839 1840l48 -53M4885 1988l48 -40M5392 1888l77 -16M4629 1927l80 -39M4719 1966l48 -15M4794 1839l79 -33M5298 1363l17 -41M5436 1747l37 -31M5083 2031l25 -41M5294 1403l93 -35M5363 1420l33 -37" stroke-width="10" stroke-opacity="0.25"/>
<path d="M5318 1880l86 -18M5249 1980l79 -58M5298 1393l10 -82M5060 1925l33 -36M4862 1819l86 -45M5296 2032l14 -77M4657 1916l83 -18M4666 1901l54 -80M5224 1609l33 -38M5392 2140l71 -18M4736 1895l73 -19M5285 1446l62 -60M5271 1314l46 -32" stroke-width="15" stroke-opacity="0.25"/>
<path d="M5189 1521l17 -48M5245 1432l37 -16M4813 1789l26 -41M5318 1306l31 -74M4622 1953l75 -36" stroke-width="5" stroke-opacity="0.38"/>
<path d="M5034 1676l11 -62M5353 1326l50 -66M4812 1789l76 -53M4972 1724l52 -50M4593 1961l60 -53M5279 1319l23 -35M4812 1877l66 -26M5154 1564l49 -72M4680 1847l77 -43M5023 1756l20 -36M4597 1909l52 -12M4746 1802l42 -17M4972 1749l17 -87M4675 1894l55 -26M5223 1406l31 -45M4865 1795l64 -38M5168 1543l23 -47M4855 1759l41 -21M4858 1771l32 -45M5235 1471l30 -49M4999 1686l91 -35M4709 1858l48 -11M5287 1356l33 -65M5211 1560l25 -60M5262 1482l24 -62M4841 1773l23 -38M4882 1811l41 -16M5087 1679l47 -60M4966 1772l73 -53M5149 1575l74 -59M4711 1848l70 -28M5063 1645l48 -44M5221 1416l79 -35M5111 1647l76 -18" stroke-width="10" stroke-opacity="0.38"/>
<path d="M5295 1317l45 -82M4846 1764l68 -41M4915 1799l28 -61" stroke-width="15" stroke-opacity="0.38"/>
<path d="M4727 1816l71 -26M5173 1444l76 -25M4648 1876l69 -35M5255 1271l68 -20M4729 1850l50 -36" stroke-width="10" stroke-opacity="0.5"/>
</g></g></g>
<path transform="scale(0.1)" d="M4939 1300l7 2M4677 1812l2 1M4677 1800l3 -1M4738 1526l4 -3M5219 1317l7 0M5111 1468l5 1M4793 1516l9 0M4943 1584l4 0M4870 1649l5 -3M5130 1262l5 -1M4685 1428l3 0M5159 1511l8 -2M5160 1375l3 1M4767 1705l8 0M4983 1449l3 2M5080 1288l3 0M5118 1249l8 -1M4985 1405l5 -2M4995 1627l8 -1M4719 1521l3 1M4859 1587l6 2M5076 1267l6 -2M5081 1566l4 -2M4658 1300l9 1M4806 1633l8 2M4792 1688l2 0M4761 1336l3 -1M4807 1519l5 2M4997 1371l4 0M4691 1304l8 0M4771 1286l3 -1M4943 1351l2 2M4784 1624l6 -2M4653 1387l5 -1M4694 1823l7 1M4736 1463l2 0M4928 1292l1 -2M4707 1528l6 -1M4777 1419l3 1M5044 1597l2 2M4763 1620l6 -2M4655 1795l1 -2M4984 1346l2 2M4773 1525l4 2M4876 1694l8 0M4907 1444l2 -2M4853 1573l4 1M4938 1297l5 -1M4957 1527l2 2M4831 1462l3 0M4942 1537l7 3M4930 1349l3 -3M4628 1662l6 3M5092 1417l6 2M4727 1762l6 1M4797 1524l5 1M5019 1444l2 -2M4900 1621l7 -1M4768 1639l7 -3M4764 1646l3 2M5075 1388l8 -1M4746 1340l5 -1M4664 1413l1 0M4647 1585l2 0M4982 1553l5 3M4849 1578l3 -3M5023 1365l7 -1M5008 1465l7 -1M4671 1641l8 -3M4626 1296l6 3M5213 1418l1 -2M4907 1345l6 3M4984 1495l6 2M5181 1255l6 2M4914 1445l4 0M4700 1485l2 -1M5063 1553l6 2M4758 1768l1 2M5055 1556l2 0M4778 1461l2 -1M4888 1655l6 -2M5031 1358l4 0M4651 1744l3 1M4652 1773l4 3M5044 1251l4 2M4841 1649l2 0M4676 1295l4 0M4808 1542l3 3M4694 1349l8 -2M4723 1258l1 0M4659 1564l8 2M4693 1630l9 1M5003 1425l9 -3M4718 1547l7 2M4739 1768l8 -2M5140 1455l6 2M4650 1604l4 -1M4626 1253l4 3M5211 1311l5 0M4715 1446l6 2M4873 1399l7 -2M4854 1303l8 2M5189 1417l1 -1M4688 1488l2 -2M5169 1468l5 2M4759 1345l4 -2M4997 1631l9 0M5050 1599l4 2M4653 1565l6 2M5135 1272l3 1M4747 1458l2 3M5080 1570l3 2M5039 1363l2 -1M4987 1573l2 0M5012 1453l3 -2M5055 1573l6 0M4737 1386l5 -2M4632 1290l2 2M4982 1379l3 1M4711 1540l3 -2M4730 1513l9 -1M4944 1543l1 0M4973 1430l6 -2M4625 1850l6 1M4642 1334l9 1M4931 1263l3 -2M5003 1370l8 3M4901 1325l4 -2M4708 1332l5 1M4885 1320l1 -2M4865 1670l3 2M4661 1295l4 3M4726 1755l5 -2M5049 1374l8 -2M5016 1473l2 3M4957 1262l5 -3M4785 1531l3 2M4787 1565l7 0M4681 1504l7 -1M5035 1567l3 -3M4892 1648l6 3M4863 1712l6 -1M5129 1480l8 2M4643 1599l7 -1M5229 1304l5 1M4720 1550l5 2M5114 1373l9 -1M4900 1249l2 1M4870 1424l6 -2M5073 1351l2 -2" stroke="#fff" stroke-linecap="round" stroke-width="9" stroke-opacity="0.34"/>
<path d="M462.2,185.5 C463.93,184.77 469.17,182.68 472.6,181.1 C476.03,179.52 479.15,178.07 482.8,176 C486.45,173.93 490.6,171.13 494.5,168.7 C498.4,166.27 502.55,164.32 506.2,161.4 C509.85,158.48 513.73,154.6 516.4,151.2 C519.07,147.8 520.73,144.17 522.2,141 C523.67,137.83 523.98,134.9 525.2,132.2 C526.42,129.5 528.78,126.03 529.5,124.8" fill="none" stroke="#fff" stroke-width="1.9" stroke-dasharray="4.6 2.6" stroke-linecap="butt"/>
</g>
<text x="547.6" y="136.4" font-size="9.3" fill="#f2f2f2" text-anchor="end">COLIV</text>
<rect x="532.2" y="208.3" width="13.8" height="1.9" fill="#fff"/>
<g clip-path="url(#ic8)">
<rect x="462.2" y="216" width="89" height="88.8" fill="#060606"/>
<path d="M495.2,216 C495.82,218.18 497.32,224.73 498.9,229.1 C500.48,233.47 503.25,238.07 504.7,242.2 C506.15,246.33 507.35,250 507.6,253.9 C507.85,257.8 507.17,261.72 506.2,265.6 C505.23,269.48 503.75,273.07 501.8,277.2 C499.85,281.33 496.82,285.8 494.5,290.4 C492.18,295 489,302.4 487.9,304.8 L551.2,304.8 L551.2,216 Z" fill="#0d0d0d"/>
<g clip-path="url(#it8)"><rect x="462.2" y="216" width="89" height="88.8" fill="#fff" filter="url(#fg8)" opacity="0.15"/></g>
<g clip-path="url(#it8)"><path d="M495.2,216 C495.82,218.18 497.32,224.73 498.9,229.1 C500.48,233.47 503.25,238.07 504.7,242.2 C506.15,246.33 507.35,250 507.6,253.9 C507.85,257.8 507.17,261.72 506.2,265.6 C505.23,269.48 503.75,273.07 501.8,277.2 C499.85,281.33 496.82,285.8 494.5,290.4 C492.18,295 489,302.4 487.9,304.8" fill="none" stroke="#fff" stroke-width="12" stroke-opacity="0.15" filter="url(#fbl3)"/></g>
<g clip-path="url(#it8)"><g filter="url(#fblur)"><g transform="scale(0.1)" stroke="#fff" stroke-linecap="round" fill="none">
<path d="M5485 2818l52 17M5229 2340l67 -24M5076 2625l108 -10M5077 2798l44 -4M5118 2805l66 -27M5114 2693l106 -25M5291 2283l107 18M5442 3046l109 -7M5385 2239l60 -22M5315 2939l72 -24M5295 2241l46 2M5318 2909l66 -27M5058 2853l80 -39M5147 2378l96 -12M5050 2996l61 2M5456 2250l52 4M5088 2509l88 -20M4905 3006l75 7M5330 2277l95 -3M5425 2833l56 -10M5186 2916l69 0M5297 2511l91 -8M5272 2963l77 26" stroke-width="5" stroke-opacity="0.12"/>
<path d="M5304 2678l82 -30M5131 2889l96 -45M5173 2560l82 25M5297 2965l79 -29M5382 2851l96 2M5307 2190l59 -15M5188 2756l39 -16M5138 2823l52 -24M5329 2361l80 -28M5287 2353l54 -24M5265 2475l66 3M5362 2359l62 6M5026 2951l89 18M5208 2981l49 -8M5140 2431l88 -35M5191 2792l94 14M5074 2953l49 2M5214 2360l81 -11M5464 2903l51 -17M5079 2168l55 -8M5336 2156l79 23M5406 2455l83 -19M5086 2385l57 19M5247 3037l69 20M5367 2718l48 -12M5278 2842l102 35M4964 2174l50 -20M5411 2638l66 -37M5053 2180l107 6M5248 2859l103 -32M5218 2807l58 -10M5394 3038l79 -11M5192 2717l91 5M5246 2178l50 -5M5302 2823l56 -9M5388 2180l54 -17M5207 2250l97 -49M5389 2528l86 -35M5283 2837l69 20M5446 2172l52 11M5179 2790l89 26M5386 2800l54 2M5349 2295l74 -10M5415 2831l55 -30M5354 2381l56 -19M5172 2607l50 -5M5316 2958l44 12M5081 2914l53 9M5181 2496l67 -11M5237 2841l100 -25M5181 2228l89 -11M5081 2667l84 19M5441 2954l80 -3M5055 2279l44 -16M5373 2265l52 10M5295 2349l72 -41M5188 2782l70 -38M5140 3025l98 -28M5176 2250l79 -3M5426 2486l105 -8M5446 2231l80 3M5159 2697l74 -35M5199 2385l44 -23M5035 2894l51 -28M5443 2196l78 -4M5388 2899l45 11M5209 2434l41 -7M4979 3001l46 7M4938 3039l68 -8M5091 2393l34 95M5413 2882l90 -12M5381 2397l78 -45M5228 3002l70 -10M5239 2941l42 -8M5240 2545l82 19M5352 2804l76 -36M5150 2421l40 11M5379 2956l98 19M5342 2375l44 12M5120 2293l73 16M5207 2232l84 -32M5207 2234l86 -1M5445 2755l40 -19M5423 2778l87 -25M5357 2614l82 10M5076 2364l84 -35M5239 3017l74 -30M5097 2223l54 3M5386 2943l92 10M5006 2966l94 33M5335 2433l58 -10M5162 2209l72 -40M5358 2755l86 -18M5343 2652l84 -29M5376 2298l65 -36M5182 2635l88 -44M5446 2794l49 -25M5189 2390l51 8M5437 2995l61 22M5422 2688l54 -12M5194 2528l69 -11M5174 2875l88 27M5282 2601l58 -30M5153 2831l55 10M5400 2645l54 -29M5333 2711l69 2M5206 2470l90 -38M5430 2725l47 -27M5441 3003l65 -2M5396 2208l55 -2M5367 2938l65 -28M5252 3017l51 -17M5298 2330l46 -11M5304 2848l94 13M5128 2727l38 14M5120 2652l50 8M5442 2348l88 2M5032 3026l74 11M5179 2969l94 -20M5303 2974l95 16M5059 2810l-34 49M5085 2553l93 2M5297 2209l51 -16M5442 3020l75 10M5425 2915l55 -16M5373 2233l47 9M5352 2196l45 -8M5242 2815l98 28M5096 2932l65 2M5335 2158l97 6M5042 2184l48 10M5292 2297l96 21M5337 3009l90 -50M5060 2379l99 10M5292 2258l67 7M5254 2445l45 -19M5489 2680l44 -13M5479 2203l37 -18M5337 2838l61 -32M5189 2579l51 -22M5071 2708l105 26M5144 2848l94 9M5324 2813l69 4M5245 2871l50 -20M5334 2206l52 7M5106 2685l-28 104M5298 2852l54 0M5129 2237l105 -10M5032 2964l45 -20M5400 2615l41 -21M5077 2826l109 -7M5179 2710l43 11M5061 2715l73 18M5190 2775l106 26M5188 3034l90 -36M5212 2693l80 -27M5304 2789l54 -13M5131 3013l50 -15M5111 2485l10 43M5154 2430l46 -10M5396 2687l50 -16M5094 2245l98 29M5390 2552l62 -14M5149 2651l87 18M5450 2887l54 10M5244 3000l73 -15M5207 2446l77 -1M5440 2835l58 20M5081 2385l74 -19M5418 3050l76 -10M5402 2245l96 -14M5378 2250l54 -22M5436 2208l61 19M5140 2306l51 15M5125 2343l99 -10M5336 2520l63 7M5078 2296l63 -30M5042 2260l56 5M5142 2627l53 13M5335 2184l94 6M5400 2274l110 5M5224 2711l78 -43M5363 2389l86 -32M5298 2391l103 26M5082 2716l82 15" stroke-width="10" stroke-opacity="0.12"/>
<path d="M5076 2468l73 -20M5446 3003l46 -20M5261 2855l39 -10M5269 2844l43 15M5195 2833l46 -13M4997 2255l66 -36M5267 2829l46 2M4972 2991l-35 62M5364 2808l74 1M5423 2761l57 -7M5027 2219l100 12M5423 2931l56 12M5418 2954l97 31M5389 2644l50 -18M5054 2222l66 -22M5197 3004l93 7M5300 2874l62 -9M5148 2503l102 -3M5166 2329l47 -4M5429 3035l77 15M5278 2739l40 6M5175 2882l42 -18M5358 2566l89 29M5348 2839l87 -11M5406 2732l61 13M5242 2349l62 12M5366 2648l82 -36M5343 2583l64 -6M5384 2983l81 1M5161 2415l44 -6M5212 2941l61 -32M5198 3013l63 -34M5261 2752l40 9M5387 2893l81 -45M5105 2677l94 -27M5339 3005l63 15M5101 2986l91 -13M5370 2903l85 -37M5343 2416l103 24M5256 2931l44 11M5435 2208l60 16M5419 2279l70 -13M5371 2408l53 18M4968 2887l71 20M5232 2541l52 -5M5109 2234l73 -37M5278 2397l79 2M5200 3014l47 -11M5427 2492l79 -2M5467 2291l45 -25M5467 2408l54 -14M5196 2333l92 -41M5461 3023l60 3M5263 2420l85 12M5266 2162l70 15M5315 2890l80 27M5139 2367l102 36M5104 2790l60 -11M5158 2855l82 11M5237 2463l41 -12M5257 2405l53 -15M5204 2268l72 -3M5164 2283l59 -9M5093 2178l101 23M5186 2226l73 -32M5086 2372l86 -28M5240 2423l61 -13M5124 2502l95 -35M5467 2482l40 -16" stroke-width="15" stroke-opacity="0.12"/>
<path d="M4990 2286l50 10M5021 2732l42 15" stroke-width="5" stroke-opacity="0.25"/>
<path d="M4936 2869l92 12M4902 3000l38 -15M5307 2741l67 -22M4963 2837l76 -12M4924 2183l67 -19M5085 2586l-5 73M5044 2829l-37 75M4921 2995l-22 96M5113 2546l3 100M4977 2169l20 87M5000 2908l51 10M5070 2376l19 49M5025 2878l46 -1M4955 2916l103 -14M5164 2414l101 21M4998 2174l21 86M5068 2409l18 81M5034 2832l-31 46M5099 2490l80 -36M5097 2551l-16 98M5005 2301l66 13M5007 2839l-51 76M4996 2840l104 21M5085 2459l17 43" stroke-width="10" stroke-opacity="0.25"/>
<path d="M5056 2742l-19 60M5049 2643l72 2M4982 2288l82 8M4947 2951l87 11M5031 2720l80 28M5101 2566l-14 47" stroke-width="15" stroke-opacity="0.25"/>
<path d="M4873 3025l55 -8M4866 3012l91 -14M5094 2626l-19 104M5075 2461l7 54M4899 2928l76 25" stroke-width="10" stroke-opacity="0.38"/>
<path d="M4973 2188l4 49M4957 2896l-35 92" stroke-width="15" stroke-opacity="0.38"/>
</g></g></g>
<path transform="scale(0.1)" d="M4730 3007l1 1M5027 2490l5 0M4788 2463l1 -3M4722 2422l2 0M4709 2750l6 -2M4818 2506l1 1M4783 2942l7 3M5025 2452l8 3M4798 2201l8 0M4989 2360l6 2M4940 2828l8 -2M4775 2265l5 -2M4834 2286l2 2M4949 2365l3 1M4686 2248l3 0M4914 2369l2 2M4640 2714l2 2M5066 2593l1 -1M4624 2209l5 -2M5033 2598l8 -2M4648 2367l2 0M4965 2249l8 -3M4751 2845l1 -1M4979 2452l1 1M4667 2272l7 3M4681 2478l7 -2M5029 2389l3 1M4731 2492l3 -2M4669 2480l2 -1M4881 2979l9 3M4647 3048l8 3M4768 2581l8 1M4927 2337l4 -2M4736 2582l7 -2M4910 2563l2 2M4633 2677l3 2M5048 2626l1 0M4907 2925l3 -3M4928 2780l4 0M5023 2424l9 0M4877 2310l8 -2M4661 2446l8 3M4813 2428l4 -3M4901 2460l7 -2M5023 2634l8 -1M4761 2632l7 -2M4959 2353l8 -3M4730 2800l6 1M4715 2377l7 1M4997 2495l4 2M4801 2956l7 -2M4798 2181l3 2M4898 2628l4 -2M5016 2514l8 -2M5007 2345l2 -1M4863 2669l3 0M4883 2541l2 2M4929 2355l3 -1M4981 2417l3 1M4982 2529l9 1M4989 2417l3 2M4652 2406l5 -2M4716 2776l7 -3M4855 2551l8 1M5014 2704l6 0M4815 2964l6 -3M4932 2694l3 -2M4920 2858l6 -2M4786 2234l5 3M4961 2346l4 1M4671 2883l2 -2M4669 2819l9 0M4789 2781l8 -2M4637 2617l3 -3M4676 2728l2 -3M4650 2554l8 -1M4691 2977l3 -1M4787 2262l4 1M4762 2524l4 -1M4746 2915l4 2M4820 2271l8 -3M5005 2787l5 3M5048 2580l2 1M4703 2576l7 0M4918 2842l5 3M4757 2800l2 -1M4636 2980l6 2M4880 2426l2 -1M4648 2896l5 -1M5013 2774l2 0M4648 2996l5 -3M4927 2282l1 1M4888 3010l7 1M4649 2756l8 -2M4822 2500l8 2M4868 3004l3 2M4942 2559l2 -2M4746 2962l5 -3M4845 2202l4 2M4785 2791l3 -1M4713 2914l6 -2M4921 2400l3 -2M4974 2754l3 3M4778 2382l4 -1M4967 2668l2 0M4726 2400l8 1M4949 2578l8 2M4634 2861l2 0M5018 2766l6 -1M4640 3025l9 -3M4723 2914l6 -1M4753 3016l7 -3M4864 3030l4 -1M4816 2211l2 -2M4720 2840l8 0M5005 2445l8 -1M4972 2552l6 -2M4661 2918l2 -1M4982 2672l7 2M4801 2693l9 -1M4869 2342l6 -1M4628 2337l5 0M4874 2448l8 -2M4759 2362l6 -1M4901 2921l2 -3M4811 2447l4 0M5004 2452l2 3M4883 2626l3 2M4905 2267l3 0M4803 2351l6 -2M4780 2253l9 0M4722 2716l9 2M4881 2606l4 1M4932 2180l5 2M4835 2738l3 1M4696 2280l7 -2M4964 2433l2 -2M4686 2175l6 2M4629 2465l4 1M5045 2434l1 0M5027 2712l3 2M4629 2672l7 -2M4655 2718l3 0M4860 2397l2 -2M4787 2700l2 -3M4971 2546l6 2M4863 2954l1 0M4948 2485l7 0M4707 2267l8 -2M4667 2269l2 -3M4657 2220l7 -2M4826 2255l1 -2M4743 2169l3 -1M4719 2275l5 -2M4675 2782l6 -3M4799 2908l7 2M4646 2181l8 -2M5018 2588l8 -2M4991 2550l7 -2M4921 2384l1 -3M4858 2329l5 -1M4839 2934l4 1M4934 2796l6 0M5067 2517l3 -1M4713 2337l7 -2M4638 2989l3 -2M4735 2316l6 0M5003 2644l1 -1M4676 2857l7 -2M4756 2294l3 3" stroke="#fff" stroke-linecap="round" stroke-width="9" stroke-opacity="0.34"/>
<path d="M495.2,216 C495.82,218.18 497.32,224.73 498.9,229.1 C500.48,233.47 503.25,238.07 504.7,242.2 C506.15,246.33 507.35,250 507.6,253.9 C507.85,257.8 507.17,261.72 506.2,265.6 C505.23,269.48 503.75,273.07 501.8,277.2 C499.85,281.33 496.82,285.8 494.5,290.4 C492.18,295 489,302.4 487.9,304.8" fill="none" stroke="#fff" stroke-width="1.9" stroke-dasharray="4.6 2.6" stroke-linecap="butt"/>
</g>
<text x="547.6" y="227.6" font-size="9.3" fill="#f2f2f2" text-anchor="end">FN</text>
<rect x="532.2" y="299.3" width="13.8" height="1.9" fill="#fff"/>
<g clip-path="url(#ic9)">
<rect x="54.2" y="348.9" width="89.1" height="88.8" fill="#070707"/>
<path d="M114.6,348.9 C114.05,350.68 112.58,356.12 111.3,359.6 C110.02,363.08 108.85,366.15 106.9,369.8 C104.95,373.45 102.52,377.37 99.6,381.5 C96.68,385.63 92.8,390.22 89.4,394.6 C86,398.98 82.85,403.17 79.2,407.8 C75.55,412.43 71.4,417.53 67.5,422.4 C63.6,427.27 58.02,434.45 55.8,437 C53.58,439.55 54.47,437.58 54.2,437.7 L143.3,437.7 L143.3,348.9 Z" fill="#0b0b0b"/>
<g clip-path="url(#it9)"><rect x="54.2" y="348.9" width="89.1" height="88.8" fill="#fff" filter="url(#fg9)" opacity="0.15"/></g>
<g clip-path="url(#it9)"><path d="M114.6,348.9 C114.05,350.68 112.58,356.12 111.3,359.6 C110.02,363.08 108.85,366.15 106.9,369.8 C104.95,373.45 102.52,377.37 99.6,381.5 C96.68,385.63 92.8,390.22 89.4,394.6 C86,398.98 82.85,403.17 79.2,407.8 C75.55,412.43 71.4,417.53 67.5,422.4 C63.6,427.27 58.02,434.45 55.8,437 C53.58,439.55 54.47,437.58 54.2,437.7" fill="none" stroke="#fff" stroke-width="18" stroke-opacity="0.2" filter="url(#fbl3)"/></g>
<g clip-path="url(#it9)"><g filter="url(#fblur)"><g transform="scale(0.1)" stroke="#fff" stroke-linecap="round" fill="none">
<path d="M1391 3878l29 -74M1198 3782l69 -75M925 4155l83 -92M1241 3938l34 -97M1126 3953l28 -58M867 4160l35 -103M1283 3789l38 -113M1243 4173l90 -107M1018 4073l74 -84M1244 4122l47 -72M832 4349l46 -56M1345 3890l67 -68M1346 3974l32 -93M833 4359l36 -41M1235 3950l26 -46M1383 3531l42 -58M832 4163l-54 68M951 4341l30 -42M1011 4215l72 -80M1053 4201l57 -89M1146 4077l25 -68M1004 3938l50 -87M1014 4209l24 -73M1297 4207l57 -74M1363 3800l25 -53M1262 3604l35 -39M1266 4416l58 -79M927 4282l65 -100M972 4174l41 -46M1385 3894l79 -85M1313 3758l46 -61M1345 3562l22 -72M1196 4002l24 -45M1309 3808l55 -73M1061 4371l34 -108M1287 3801l52 -89M1336 3951l75 -93M1335 4274l41 -87M862 4282l22 -76M1111 3847l43 -45M926 4371l73 -115M1222 3799l50 -107M1268 4203l31 -113M917 4270l34 -107M971 4059l72 -99M1369 4268l69 -108M1308 4294l44 -51M1074 4410l46 -132M1294 3605l40 -118M853 4268l56 -58M1002 4175l20 -47M1300 4035l38 -57M1362 3956l41 -53M1313 3885l18 -53M1251 4219l26 -46M1118 4263l68 -105M969 4254l40 -57M1179 3711l40 -72M1236 4203l56 -71M1393 3991l56 -65M869 4359l71 -102M1196 4039l18 -55M1270 4238l62 -64M1295 3910l54 -63M1087 4138l43 -118M1356 3542l53 -63M1275 3861l49 -99" stroke-width="5" stroke-opacity="0.12"/>
<path d="M1315 4133l45 -113M1021 4131l21 -64M1354 4099l48 -48M1145 3989l56 -65M1184 3931l20 -58M898 4164l37 -61M1341 3762l44 -115M1158 3830l35 -44M1375 4152l65 -110M1358 3804l39 -78M1249 4199l78 -86M818 4403l36 -69M1356 3643l36 -47M1059 3885l-63 69M1298 4003l38 -48M1321 4032l64 -100M1032 4026l90 -104M943 3989l41 -47M823 4294l35 -44M1305 4157l53 -59M1364 3850l53 -102M1372 4050l37 -106M1079 4136l95 -99M1043 4065l69 -98M1383 3753l52 -54M1389 4143l33 -49M812 4395l46 -70M1325 3720l54 -98M766 4310l41 -56M1316 3533l33 -75M733 4402l49 -91M1272 3781l57 -61M1150 3956l64 -98M1249 3820l75 -101M897 4206l67 -108M1359 4227l71 -103M1174 4210l41 -63M1408 3864l42 -99M733 4425l92 -102M1109 4274l74 -108M1265 4008l65 -72M1369 3838l72 -74M769 4282l86 -94M1146 4139l69 -70M1069 4144l18 -65M896 4382l57 -67M1166 4201l50 -101M1133 3937l22 -76M1008 4336l34 -71M804 4349l44 -77M1366 4376l22 -80M1294 4117l50 -73M1259 4197l15 -49M868 4114l34 -59M995 4212l62 -94M1238 3536l-38 71M1102 4195l36 -44M1109 4291l46 -87M910 4334l40 -41M890 4334l34 -59M1337 4182l48 -87M1280 3941l33 -112M1054 4308l26 -82M1398 3805l56 -65M899 4335l44 -47M1313 4310l32 -101M1347 4178l37 -87M1139 4335l38 -49M1261 4149l85 -96M1263 3708l90 -101M1251 4342l75 -83M1241 3863l55 -55M1007 4265l40 -57M1062 3981l39 -92M1323 3689l48 -81M1349 4264l21 -47M808 4392l47 -105M1073 3822l25 -91M1336 3903l43 -95M1032 4337l21 -58M902 4185l34 -48M1174 3985l41 -52M1061 4145l33 -49M1026 3973l58 -62M1032 3995l53 -62M1327 4400l34 -55M1226 4389l63 -120M699 4344l53 -64M1079 4022l32 -72M1120 4081l40 -61M1153 4407l71 -96M1044 4166l48 -94M1128 4277l38 -123M1054 4115l21 -47M1335 4247l45 -52M1333 4209l73 -97M792 4314l29 -50M973 4203l30 -66M1282 3833l61 -67M863 4237l65 -85M1199 3739l32 -91M1280 4031l67 -82M1377 4034l56 -86M1210 3725l66 -121M1349 3952l48 -60M1247 4066l35 -75M1333 3670l35 -88M888 4231l88 -100M1416 3749l29 -69M1362 3976l24 -81M829 4256l73 -78M1154 4196l84 -100M1352 3901l52 -56M1147 4013l47 -99M1416 4083l31 -54M1294 3603l26 -69M1313 3716l72 -116M1201 4244l25 -44M846 4270l40 -63M1377 3697l76 -106M769 4337l73 -80M1061 4129l47 -85M1129 4380l43 -127M1105 4259l38 -47M1022 4066l43 -56M884 4422l56 -110M1059 4307l64 -108M1179 3807l38 -45M1228 4182l63 -109M1338 3879l67 -100M1097 4337l34 -117M1155 3713l-29 42M1103 3880l75 -115M857 4250l45 -113M1183 4202l60 -77M1383 4181l74 -106M1286 3643l26 -66M741 4418l41 -112M1016 4177l47 -92M1397 3537l45 -75M1399 3879l25 -67M1354 3547l43 -67M1112 4310l61 -120M890 4287l69 -87M951 4282l37 -86M1411 4128l31 -114M777 4224l44 -124M1129 4191l37 -86M1152 4070l36 -101M891 4404l73 -86M1122 3801l50 -94M1192 4360l67 -97M1182 4271l43 -57M1320 4408l71 -106M1350 4237l53 -112M808 4163l60 -81M1298 3530l43 -57M1264 3805l88 -93M845 4398l24 -64M1201 4164l48 -121M724 4365l32 -39M1160 4203l60 -122M1285 3743l60 -108M1397 4270l32 -80M971 4145l55 -61M1112 3834l56 -71M978 4068l56 -110M864 4225l33 -51M1135 4001l34 -125M1344 3764l28 -70M1164 4128l21 -63M884 4121l-77 105M1197 3920l28 -66M854 4199l22 -53M891 4199l57 -81M919 4209l34 -73M1249 4214l72 -76M1370 3805l41 -47M943 4066l55 -56M1134 4314l18 -64M879 4225l17 -50M783 4353l75 -98M1073 3943l33 -72M1065 4080l50 -89M1271 3957l37 -38M1365 3965l27 -98M1052 4301l41 -113M1166 4004l75 -113M1100 4186l63 -113M1086 3802l-75 84M1331 3723l54 -74M1057 4016l17 -49M1205 3933l71 -99M1010 3998l35 -45M1170 4133l62 -66M1259 3860l41 -51M1378 3617l23 -60M788 4339l54 -62M1379 3574l30 -99M1190 3775l60 -108M1281 4105l39 -71M1255 4376l46 -82M1259 3654l26 -96M1046 3995l31 -74M1123 3886l35 -52M1020 4008l42 -48M1308 3847l37 -44" stroke-width="10" stroke-opacity="0.12"/>
<path d="M1121 3627l41 -77M1253 4019l19 -56M743 4208l22 -46M1251 3561l36 -87M1014 3930l54 -97M915 3923l34 -42M728 4245l46 -88M1163 3643l19 -59M1133 3644l65 -116M589 4345l56 -69M965 4077l43 -123M702 4229l81 -83M941 3967l42 -53M1107 3747l-35 41M1190 3591l45 -102M924 3940l-73 95M822 4145l-86 85M707 4238l49 -59M1161 3813l27 -56M1189 3697l26 -75M1163 3537l-54 103M1176 3557l-23 66" stroke-width="5" stroke-opacity="0.25"/>
<path d="M902 4076l-34 62M808 4177l46 -83M911 4041l26 -88M1214 3644l-66 112M1135 3780l-23 46M1238 3958l27 -91M1338 4408l55 -115M674 4288l68 -91M915 4066l48 -93M1041 3904l27 -101M631 4307l33 -81M747 4290l60 -115M1397 3569l34 -103M1175 3561l-34 89M837 4088l71 -73M1128 3712l21 -67M1124 3681l-67 72M1205 3597l34 -67M958 4081l36 -47M1089 3826l27 -49M969 3975l53 -90M800 4079l-72 89M730 4373l30 -88M820 4088l-79 92M892 3976l-31 47M1229 3462l-15 59M778 4222l63 -90M1083 3700l-50 87M1117 3591l44 -92M1013 3990l60 -124M1214 3606l46 -70M1188 3641l43 -55M1098 3732l27 -98M1062 3794l-46 83M970 4396l35 -65M1144 3679l31 -112M829 4196l62 -116M778 4139l40 -55M1107 3704l43 -45M946 3867l-49 88M1192 3570l-58 98M1386 3893l53 -104M1361 4129l79 -101M703 4196l-72 110M812 4148l46 -115M727 4267l56 -61M1242 4077l29 -42M744 4309l34 -58M755 4139l-42 48M715 4286l-72 90M682 4254l-34 52" stroke-width="10" stroke-opacity="0.25"/>
<path d="M614 4350l46 -101M1073 3686l-26 61M931 3934l26 -89M794 4127l51 -98M727 4212l-31 61M652 4290l30 -75" stroke-width="5" stroke-opacity="0.38"/>
<path d="M841 4122l96 -99M914 3947l-25 46M677 4238l-77 106M1160 3610l-34 55M870 3998l-38 35M960 3863l-58 118M765 4195l-91 100M727 4193l75 -104M1112 3755l-44 67M800 4077l-39 47M654 4307l35 -89M1183 3454l-39 106M659 4296l-56 70" stroke-width="10" stroke-opacity="0.38"/>
</g></g></g>
<path transform="scale(0.1)" d="M710 3893l1 3M966 3714l7 2M641 4142l5 3M718 3981l8 -3M624 3615l9 -1M802 3871l7 -2M954 3573l5 2M715 3585l7 -3M642 3649l2 -1M730 3552l8 -2M940 3761l4 -1M896 3737l8 -2M745 3592l2 -1M952 3826l5 -1M816 3961l7 1M812 3769l6 0M857 3851l5 3M700 3646l1 3M870 3635l6 -1M551 3749l7 -2M830 3891l8 -2M561 3617l6 -2M1048 3723l3 -2M568 3967l5 -1M552 4312l8 0M789 3644l3 0M973 3681l8 0M679 3498l1 -3M629 4267l3 2M873 3611l2 2M725 3703l8 2M1017 3574l5 3M886 3850l1 2M1057 3555l7 2M928 3900l7 3M704 3573l2 2M586 3848l9 -1M1092 3503l4 -1M908 3579l3 0M604 3660l2 2M699 4157l2 -3M896 3715l4 1M714 3861l1 -2M753 3933l5 1M685 3943l3 -1M982 3523l7 0M592 3926l8 -3M590 3725l4 -2M1058 3709l3 1M645 4038l6 -2M606 3736l3 -1M596 4239l8 1M971 3723l4 -1M575 4198l6 -2M744 3625l2 2M609 3868l6 1M1098 3497l8 1M1060 3698l4 -2M1081 3645l3 0M755 3941l6 0M831 3800l6 2M928 3789l4 2M849 4000l9 -1M780 3973l8 -2M807 3588l8 -2M592 3592l7 -1M568 3874l2 1M696 3553l9 -3M995 3535l3 -2M716 3762l8 2M555 4291l4 0M759 3670l6 3M577 3733l1 3M867 3579l4 3M713 3789l1 1M617 4289l7 1M764 3592l8 0M687 4028l7 2M645 4151l7 2M1055 3651l2 -1M854 3925l6 -1M679 3905l9 2M934 3787l1 0M867 3891l5 2M783 3616l2 1M690 3532l2 -3M729 3600l4 2M576 3841l6 -2M692 3813l5 -3M1047 3522l8 1M586 3985l1 -1M592 3969l5 1M867 3774l6 -2M692 4114l9 0M759 3615l3 0M754 3829l5 1M761 3790l6 2M771 3796l6 -2M599 4136l2 1M915 3800l5 0M687 3814l2 -2M794 3915l2 0M827 3704l5 -1M838 3576l8 3M772 3649l8 3M872 3591l5 -3M933 3852l8 -1M555 4241l8 1M583 4252l9 0M870 3498l2 2M1075 3617l8 2M735 3645l6 2M573 4078l1 1M629 4202l5 0M781 3759l7 3M684 4075l4 -1M583 3816l6 1M638 3769l2 1M856 3806l9 2M895 3639l2 -1M678 4026l9 2M646 3856l5 0M579 3716l5 2M550 3974l7 -3M701 3856l6 -3M716 3958l4 1M958 3520l6 1M653 4033l3 2M858 3951l7 -2M1033 3542l8 0M596 4280l2 -1M675 3880l5 1M753 3633l3 0M708 4080l5 -2M686 3969l5 -2M820 3952l7 0M913 3697l4 2M983 3564l1 3M791 4048l4 1M656 3960l8 3" stroke="#fff" stroke-linecap="round" stroke-width="9" stroke-opacity="0.34"/>
<path d="M114.6,348.9 C114.05,350.68 112.58,356.12 111.3,359.6 C110.02,363.08 108.85,366.15 106.9,369.8 C104.95,373.45 102.52,377.37 99.6,381.5 C96.68,385.63 92.8,390.22 89.4,394.6 C86,398.98 82.85,403.17 79.2,407.8 C75.55,412.43 71.4,417.53 67.5,422.4 C63.6,427.27 58.02,434.45 55.8,437 C53.58,439.55 54.47,437.58 54.2,437.7" fill="none" stroke="#fff" stroke-width="1.9" stroke-dasharray="4.6 2.6" stroke-linecap="butt"/>
</g>
<text x="139.7" y="360.5" font-size="9.3" fill="#f2f2f2" text-anchor="end">COLIV</text>
<rect x="124.3" y="432.2" width="13.8" height="1.9" fill="#fff"/>
<g clip-path="url(#ic10)">
<rect x="54.2" y="440.9" width="89.1" height="88.7" fill="#070707"/>
<path d="M54.2,490.8 C54.97,490.87 56.33,491.02 58.8,491.2 C61.27,491.38 65.6,491.98 69,491.9 C72.4,491.82 75.55,491.5 79.2,490.7 C82.85,489.9 87,488.67 90.9,487.1 C94.8,485.53 98.72,483.73 102.6,481.3 C106.48,478.87 110.55,475.67 114.2,472.5 C117.85,469.33 121.45,465.47 124.5,462.3 C127.55,459.13 129.83,456.67 132.5,453.5 C135.17,450.33 138.92,445.4 140.5,443.3 C142.08,441.2 141.75,441.3 142,440.9 L143.3,440.9 L143.3,529.6 L54.2,529.6 Z" fill="#0e0e0e"/>
<g clip-path="url(#it10)"><rect x="54.2" y="440.9" width="89.1" height="88.7" fill="#fff" filter="url(#fg10)" opacity="0.15"/></g>
<g clip-path="url(#it10)"><path d="M54.2,490.8 C54.97,490.87 56.33,491.02 58.8,491.2 C61.27,491.38 65.6,491.98 69,491.9 C72.4,491.82 75.55,491.5 79.2,490.7 C82.85,489.9 87,488.67 90.9,487.1 C94.8,485.53 98.72,483.73 102.6,481.3 C106.48,478.87 110.55,475.67 114.2,472.5 C117.85,469.33 121.45,465.47 124.5,462.3 C127.55,459.13 129.83,456.67 132.5,453.5 C135.17,450.33 138.92,445.4 140.5,443.3 C142.08,441.2 141.75,441.3 142,440.9" fill="none" stroke="#fff" stroke-width="10" stroke-opacity="0.1" filter="url(#fbl3)"/></g>
<g clip-path="url(#it10)"><g filter="url(#fblur)"><g transform="scale(0.1)" stroke="#fff" stroke-linecap="round" fill="none">
<path d="M812 5058l86 -23M1156 5025l61 -11M1235 4655l68 -67M777 5272l55 -38M858 5059l92 -28M1155 5024l55 -22M1205 5278l71 -39M805 5137l79 -27M846 5084l92 -73M1228 5225l47 -34M1294 4986l93 -13M736 5169l88 -18M1363 4851l45 -32M1358 5142l101 -63M901 4973l81 -19M723 5117l67 -68M1322 4724l91 -23M920 5147l57 -24M1315 4609l97 -68" stroke-width="5" stroke-opacity="0.12"/>
<path d="M1058 5187l83 -22M583 5040l64 -28M1299 5075l64 -14M1343 5001l80 -60M984 5272l47 -51M660 5333l74 -78M1176 4974l109 -18M890 4973l95 -15M800 5002l53 -16M712 5056l75 -77M1009 4837l109 -45M1225 4945l64 -24M597 5004l87 -22M1353 4925l66 -52M1270 4959l86 -35M943 5296l82 -33M899 5004l50 -33M796 5080l100 -28M1214 5201l96 -58M1146 5274l69 -57M639 5008l75 -42M900 5168l77 -18M855 4920l66 -45M1069 5209l64 -11M627 5310l47 -31M1063 5168l102 -24M1149 4972l67 -30M835 5050l71 -66M1315 5014l90 -26M1206 5094l66 -47M1310 4899l49 -54M1283 5312l44 -47M917 5018l99 -51M941 5006l88 -22M522 5301l61 -16M704 5049l82 -37M938 5196l49 -15M831 5293l46 -29M649 4964l101 -55M537 4945l62 7M1252 4982l101 -48M689 5136l40 -39M1274 5219l73 -15M626 5275l53 -23M1306 5017l60 -9M1260 5256l95 -64M583 5229l62 -62M1398 5248l54 -32M1264 4649l45 -46M1272 5204l76 -81M642 5210l95 -56M1214 4988l46 -34M625 5153l88 -35M1295 4769l49 -47M589 5070l92 -55M744 4937l106 -17M1026 5053l44 -45M1159 5019l85 -25M1269 4883l84 -81M961 5001l78 -65M1358 4638l56 -39M621 5289l78 -16M1107 4829l81 -46M1033 5083l82 -51M705 4976l52 -21M1105 5231l54 -38M1039 4900l59 -54M583 5155l90 -36M962 5183l63 -53M1207 5059l75 -32M1235 5289l60 -45M1400 4693l52 -7M594 5229l58 -10M775 5127l58 -38M556 5049l107 -29M599 5068l86 -50M1029 5014l89 -63M926 5111l67 -59M1126 4812l52 -34M1227 4783l64 -37M1348 4980l54 -22M1243 4985l52 -41M593 5241l93 -34M576 5292l94 -27M1229 4903l81 -73M1159 5068l54 -21M974 4935l70 -35M831 5093l77 -83M787 5227l47 -38M1162 5094l103 -28M788 5256l87 -18M1167 5024l47 -25M592 5171l95 -27M1112 5096l107 -51M712 5000l88 -19M956 5328l82 -76M619 5124l70 -44M1118 4938l63 -57M777 4970l79 -55M1147 4984l52 -55M675 4930l98 -22M1110 4953l59 -24M1381 4779l78 -13M1032 5046l47 -51M1022 5005l58 -35M686 5183l107 -40M1134 4909l70 -42M1301 5283l100 -30M1206 5061l72 -19M639 5144l82 -21M892 5129l58 -40M585 5216l46 -43M947 5219l93 -25M837 5126l70 -44M1087 5304l67 -34M658 4954l110 -34M923 5019l56 -23M1264 4971l76 -63M919 5118l65 -15M1087 4934l57 -25M1223 4684l66 -89M1329 4666l48 -15M975 5131l81 -29M816 5215l104 -17M800 5276l55 -13M813 5013l103 -38M896 5047l82 -31M881 5288l113 -28M735 4919l55 0M1335 4968l65 -44M1068 4984l49 -45M1023 5215l52 -50M1326 5076l65 -69M996 5281l54 -52M1069 5239l92 -42M1162 5288l75 -69M722 5042l64 -42M851 4989l56 -54M971 5288l82 -48M996 4933l60 -12M952 5099l74 -16M1122 5214l92 -42M1095 4920l58 -58M1305 5297l44 -41M969 5198l66 -38M840 4989l102 -31M894 5160l85 -32M1005 5262l93 -35M708 4938l78 5M779 5159l64 -15M1311 4584l43 -34M720 5324l87 -69M1033 5209l73 -52M1258 5293l44 -46M939 5252l78 -85M1391 4777l36 -39M1383 4892l86 -80M781 5076l88 -76M1001 5318l82 -76M1101 5027l78 -19M919 5282l102 -56M746 5131l55 -27M617 5080l96 -57M1335 4732l66 -29M1260 5027l75 -15M973 5202l48 -27M1292 5133l95 -19M534 5251l71 -43M1263 4909l44 -36M950 5157l66 -52M926 5032l83 -73M739 5284l101 -63M1305 4804l104 -47M632 5280l94 -15M643 5125l42 -28M962 4993l69 -11M820 5304l74 -45M1370 5224l63 -56M1368 4463l85 -77M691 5022l34 -37M1268 4860l52 -19M862 4990l90 -60M917 5210l78 -78M742 5201l100 -33M1146 4833l76 -48M1262 5188l96 -46M1378 4950l74 -36M1009 5223l81 -48M1147 5233l82 -24M985 5226l75 -24M1207 5195l86 -23M1284 5163l88 -56M1338 4582l45 -41M1341 4595l93 -21M691 5069l97 -64M1367 5155l45 -36M946 5030l45 -23M1325 5126l46 -46M495 5252l109 -23M795 4960l112 -18M602 5250l49 -28M1208 5196l45 -37M806 5125l90 -22M530 5203l70 -52M1377 5092l92 -63M520 5011l83 -38M1319 4989l82 -79M879 5138l83 -61M1257 5053l82 -72M1377 4494l59 -31M995 4929l83 -15M850 5303l86 -43M1307 4978l72 -77M1335 4615l105 -20M620 5076l77 -63M1365 4621l105 -27M1312 4765l104 -40M1309 4931l111 -41M754 4973l62 -39M1268 4844l54 -47M898 5171l90 -46M551 5235l82 -65M757 5010l101 -47M1334 4873l71 -44M1257 4949l113 -20M696 5131l77 -17M1286 4639l105 -15M1138 5089l97 -43M1054 4913l117 -19M598 5008l79 -30M802 5120l43 -46M1172 5102l66 -71M1199 5103l76 -33M978 5211l63 -29M1265 4823l43 -31M759 4981l82 -17M942 4975l47 -52M869 4950l88 -73M944 5087l71 -37M638 4965l85 18M1108 4855l53 -29M1277 4764l66 -20M846 4907l60 -17M1132 4868l106 -45M839 5156l65 -54M1078 5154l91 -51" stroke-width="10" stroke-opacity="0.12"/>
<path d="M852 4939l57 -51M1027 5149l54 -44M1192 4755l72 -53M999 5317l80 -75M941 4922l81 -47M1162 5007l99 -14M543 5009l62 -17M832 5073l72 -66M1280 5272l73 -35M1294 4980l44 -26M1367 4984l93 -28M841 5059l109 -21M774 5206l99 -34M1233 5113l100 -18M942 4874l87 -41M935 4904l53 -23M576 5283l91 -49M1274 4817l95 -43M1034 5122l71 -78M1251 4933l87 -30" stroke-width="15" stroke-opacity="0.12"/>
<path d="M1073 5102l51 -12M1183 5067l115 -30M1237 4685l46 -32M527 4953l56 -48M1334 5217l52 -24M1243 4666l63 -87M971 5068l90 -36M877 5291l62 -14" stroke-width="5" stroke-opacity="0.25"/>
<path d="M985 4844l63 -31M531 5260l84 -26M1035 4838l47 -29M1335 5288l74 -13M685 4975l57 -12M1393 5040l57 -38M793 5147l83 -44M1215 4791l74 -34M773 5033l73 -54M989 4836l84 -48M1305 4615l60 -94M613 4947l105 -23M807 5217l99 -24M1183 5168l84 -79M752 4965l90 -15M637 5163l74 -54M746 4949l67 -22M1107 5001l86 -75M668 5108l55 -45M741 4924l74 -18M971 5089l66 -52M939 5084l102 -43M893 4910l60 -33M1343 5121l86 -49M521 5232l77 -77M1379 5080l100 -30M639 4950l63 7M1055 4862l58 -41M1368 4888l71 -69M1014 5163l116 -22M788 5289l95 -73M1366 5132l76 -67M1370 4793l86 -77M1124 4746l40 -42M845 5116l107 -27M956 4884l50 -39M1184 4970l60 -14M1193 4731l45 -27M1272 4907l56 -32M906 5297l81 -13M1060 4844l100 -19M1241 5059l48 -21M1302 4598l67 -58M1348 4547l87 -21M564 5274l87 -44M637 4955l92 -55M1329 4576l35 -68M1270 4593l85 -44M1294 4678l48 -14M1204 4831l57 -34M1137 4770l41 -33M1268 4838l84 -25M1228 4939l104 -23M748 5279l62 -22M970 4876l78 -50M1262 5297l71 -50M681 5252l79 -43M595 5046l109 -19M636 4940l66 12M1072 4915l69 -41M1155 4905l49 -42M1215 4709l89 -17M999 4862l55 -38M967 5180l70 -56M1118 4941l63 -18M1311 4808l91 -16M767 4978l48 -44M546 5036l41 -30M1111 4779l85 -70M668 4951l64 -31M562 4977l69 -65M1389 4615l76 -36M1387 4508l73 -68M1276 4970l98 -36M1071 4795l74 -20M1383 4550l98 -30M1070 4787l74 -57M1225 4965l65 -60M866 5285l87 -46M907 5077l59 -39" stroke-width="10" stroke-opacity="0.25"/>
<path d="M804 4939l76 -79M1080 5244l89 -54M1037 4798l99 -39M1322 4998l49 -12M856 5140l55 -11M605 4969l95 14M1325 4549l44 -51" stroke-width="15" stroke-opacity="0.25"/>
<path d="M1221 4647l67 -60" stroke-width="10" stroke-opacity="0.38"/>
</g></g></g>
<path transform="scale(0.1)" d="M576 4653l8 -1M679 4647l2 1M854 4479l4 2M1187 4578l8 2M916 4738l6 1M991 4600l6 -1M1002 4608l1 -1M1181 4475l5 1M754 4428l8 1M1183 4571l7 3M873 4532l3 3M806 4498l4 1M548 4818l4 0M1119 4703l8 -2M823 4747l4 1M1197 4610l7 -1M853 4675l2 -1M944 4434l7 2M623 4608l5 -1M891 4676l3 1M727 4748l5 0M1109 4580l8 3M852 4813l4 0M753 4414l3 2M830 4486l4 -3M1009 4726l7 0M545 4849l5 2M1299 4450l5 -1M825 4557l4 -3M1344 4448l7 3M1207 4623l7 2M621 4599l9 2M1156 4653l7 2M798 4739l9 0M641 4460l4 3M1101 4680l6 -1M1145 4589l3 3M1105 4743l5 2M976 4423l2 2M1078 4662l5 -2M993 4450l9 0M1294 4517l6 2M551 4474l4 -1M946 4831l7 0M1263 4427l6 3M725 4862l7 -3M1144 4676l5 -2M796 4700l3 2M1055 4434l5 -2M789 4900l3 1M712 4555l1 3M614 4823l5 -2M722 4884l4 -1M563 4806l8 2M1007 4667l7 1M655 4741l7 2M1048 4598l3 -2M729 4671l4 1M1142 4536l5 -1M584 4622l9 3M587 4443l7 2M1022 4667l6 -2M656 4776l4 2M898 4665l3 -1M1157 4411l8 2M623 4717l4 -1M706 4793l7 0M907 4749l1 2M1284 4542l5 -2M944 4718l2 1M1288 4499l7 0M1234 4496l6 1M950 4836l4 2M1029 4615l7 2M558 4875l3 0M765 4484l9 2M1270 4511l4 2M1253 4513l6 -1M1037 4684l8 1M597 4833l1 -2M811 4420l5 0M669 4781l3 -1M974 4647l9 2M1273 4492l5 1M1302 4464l4 1M1245 4575l7 0M1282 4444l4 -2M1290 4444l7 0M642 4694l5 3M963 4667l2 3M786 4794l6 1M695 4858l6 -1M842 4573l3 2M1050 4424l4 -2M553 4718l2 2M895 4776l7 1M699 4741l7 -2M1035 4655l3 3M762 4732l4 -2M820 4457l6 2M682 4682l9 0M986 4669l4 0M980 4667l8 2M832 4584l1 2M683 4547l2 1M1278 4577l8 -1M640 4912l6 3M738 4728l7 0M640 4749l1 -1M1076 4455l3 -1M1097 4560l2 -1M738 4868l6 -3M864 4860l3 0M1000 4778l3 -3M576 4456l4 1M1048 4775l1 0M915 4742l4 2M629 4545l8 1M659 4467l9 -1M852 4468l7 2M760 4632l6 -1M946 4625l5 1M1024 4761l8 -1M1028 4601l4 1M868 4419l5 1M1241 4608l6 -2M820 4833l2 -1M1064 4529l5 -3M1278 4510l2 -2M729 4805l7 -3M1185 4461l7 -2M816 4598l4 -1M786 4780l7 -1M717 4580l6 0M773 4875l5 -3M728 4612l7 2M728 4772l7 -1M880 4617l5 0M1097 4597l5 -2M771 4730l5 0M714 4597l4 2M797 4638l6 3M688 4561l3 -1M668 4833l6 -1M980 4771l7 1M844 4437l8 0M708 4462l8 -2M729 4473l2 -2M683 4641l5 1M983 4650l5 -3M666 4796l8 -2M813 4769l7 1M1233 4452l1 -3M606 4788l5 -3M1002 4465l4 2M960 4762l4 1M1197 4646l1 -3M878 4521l4 1M1096 4422l5 1M802 4418l7 -1" stroke="#fff" stroke-linecap="round" stroke-width="9" stroke-opacity="0.34"/>
<path d="M54.2,490.8 C54.97,490.87 56.33,491.02 58.8,491.2 C61.27,491.38 65.6,491.98 69,491.9 C72.4,491.82 75.55,491.5 79.2,490.7 C82.85,489.9 87,488.67 90.9,487.1 C94.8,485.53 98.72,483.73 102.6,481.3 C106.48,478.87 110.55,475.67 114.2,472.5 C117.85,469.33 121.45,465.47 124.5,462.3 C127.55,459.13 129.83,456.67 132.5,453.5 C135.17,450.33 138.92,445.4 140.5,443.3 C142.08,441.2 141.75,441.3 142,440.9" fill="none" stroke="#fff" stroke-width="1.9" stroke-dasharray="4.6 2.6" stroke-linecap="butt"/>
</g>
<text x="139.7" y="452.5" font-size="9.3" fill="#f2f2f2" text-anchor="end">FN</text>
<rect x="124.3" y="524.1" width="13.8" height="1.9" fill="#fff"/>
<g clip-path="url(#ic11)">
<rect x="320.1" y="348.9" width="88.6" height="88.8" fill="#050505"/>
<path d="M329,348.9 C329.27,349.22 328.87,349.02 330.6,350.8 C332.33,352.58 336.48,356.67 339.4,359.6 C342.32,362.53 345.67,365.23 348.1,368.4 C350.53,371.57 352.53,374.95 354,378.6 C355.47,382.25 356.55,386.42 356.9,390.3 C357.25,394.18 356.72,398.02 356.1,401.9 C355.48,405.78 354.53,409.7 353.2,413.6 C351.87,417.5 349.8,421.88 348.1,425.3 C346.4,428.72 344.1,432.03 343,434.1 C341.9,436.17 341.75,437.1 341.5,437.7 L408.7,437.7 L408.7,348.9 Z" fill="#040404"/>
<g clip-path="url(#it11)"><rect x="320.1" y="348.9" width="88.6" height="88.8" fill="#fff" filter="url(#fg11)" opacity="0.15"/></g>
<g clip-path="url(#it11)"><path d="M329,348.9 C329.27,349.22 328.87,349.02 330.6,350.8 C332.33,352.58 336.48,356.67 339.4,359.6 C342.32,362.53 345.67,365.23 348.1,368.4 C350.53,371.57 352.53,374.95 354,378.6 C355.47,382.25 356.55,386.42 356.9,390.3 C357.25,394.18 356.72,398.02 356.1,401.9 C355.48,405.78 354.53,409.7 353.2,413.6 C351.87,417.5 349.8,421.88 348.1,425.3 C346.4,428.72 344.1,432.03 343,434.1 C341.9,436.17 341.75,437.1 341.5,437.7" fill="none" stroke="#fff" stroke-width="10" stroke-opacity="0.04" filter="url(#fbl3)"/></g>
<g clip-path="url(#it11)"><g filter="url(#fblur)"><g transform="scale(0.1)" stroke="#fff" stroke-linecap="round" fill="none">
<path d="M3828 4045l71 -79M3744 3531l29 -32M3535 4201l77 -72M3855 4093l51 -114M3848 4143l34 -78M3694 3845l80 -105M3914 4158l23 -87M3946 3774l9 -116M3642 4050l54 -71M3854 4249l60 -59M4019 4351l44 -80M3604 3594l68 -115M4048 3661l42 -128M3678 3721l12 -47M3621 3760l7 54M3574 4313l94 -78M3941 4424l43 -102M3957 3883l9 -87M4040 4133l36 -77M3658 3798l12 -40M3842 4021l90 -87M3641 4228l38 -58M4015 4187l63 -68M3796 4303l80 -110M3815 4003l31 -124M3552 3718l68 -102M3640 3848l57 -67M4035 4391l18 -75M4058 4010l44 -95M3921 3547l57 -67M3528 3558l22 -133M3819 3618l28 -39M3887 4341l36 -34M3635 3989l44 -71M3719 3827l41 -115M3587 3614l46 -55M4002 3633l45 -62M4051 3999l18 -84M3867 4259l41 -59M3606 3806l39 -98M3651 3963l-15 76M3592 4326l98 -83M3835 3634l58 -47M4029 4273l18 -128M3758 3741l48 -39M3808 3669l26 -120M4037 4300l69 -111M3716 4161l17 -40M3626 4357l51 -76M3946 3674l36 -66M4011 4374l43 -74M4048 4157l41 -62M3863 4186l10 -85M3638 4036l43 -53M3896 4240l64 -61M3946 4305l14 -127M3715 3741l58 -115M3839 4096l30 -97M3826 3648l16 -66M4068 3792l9 -96M3901 3881l24 -60M3687 3628l50 -94M3600 3826l12 -91M4022 3839l51 -61M3770 3729l10 -55M3614 3769l15 -104M4028 4413l42 -112M3840 3669l55 -57M3826 4244l53 -70" stroke-width="5" stroke-opacity="0.12"/>
<path d="M3793 3746l54 -49M3697 3636l21 -59M3715 4174l46 -77M3588 3587l62 -119M3502 3684l31 -123M3804 4016l31 -105M3763 3957l16 -128M4006 4313l39 -68M3561 4314l40 -123M3886 3567l8 -44M3805 4202l80 -114M3738 4163l24 -109M3862 4148l49 -70M3865 4424l35 -98M3870 4384l20 -47M3831 3820l70 -108M3765 3730l81 -86M4061 4036l19 -52M3529 3624l60 123M3750 4262l39 -43M3683 3767l43 -103M4028 3663l68 -59M3609 3930l64 -68M3592 4199l-35 61M3589 4319l27 -65M3856 4297l49 -69M3622 3922l88 -73M3760 4157l88 -91M4018 3974l46 -91M3933 4121l24 -34M3967 3550l23 -50M3742 3676l80 -62M3770 3739l21 -58M3679 3971l13 -102M3942 3917l75 -99M3987 3954l7 -111M3744 4369l10 -69M3775 4142l70 -101M3699 3716l42 -61M4045 3787l36 -53M3952 4165l58 -63M3533 3634l47 -36M3664 3575l57 -70M3971 4019l28 -58M3783 4256l29 -86M3982 3699l60 -119M3719 4059l87 -79M3694 3654l3 -44M3622 4097l65 -117M3726 4225l11 -55M3994 3910l46 -128M4025 4076l35 -31M4006 3646l29 -67" stroke-width="10" stroke-opacity="0.12"/>
<path d="M3515 3632l34 92M3477 3660l42 -83M3500 3681l61 -58M3523 4022l85 -103M3569 4052l33 -32M3565 4098l-67 105M3595 4071l-16 106M3551 3764l29 95M3569 4076l-33 106M3383 3570l101 67M3571 3996l51 -112M3545 4256l-12 49" stroke-width="5" stroke-opacity="0.25"/>
<path d="M3548 4107l16 -39M3399 3568l56 -43M3481 3595l79 56M3577 3821l43 92M3452 4382l69 -62M3383 3567l6 -83M3426 4356l38 -43M3618 3884l-10 77M3626 4035l12 -38M3498 3706l65 75M3613 3946l1 41M3460 3626l24 -92M3527 4139l-36 121M3631 3843l21 94M3623 3794l20 89M3630 4011l-9 69" stroke-width="10" stroke-opacity="0.25"/>
<path d="M3579 3827l2 41M3591 4016l-19 85M3396 3561l8 -45M3519 4184l-37 93M3547 3761l20 93M3362 3535l74 78M3588 3912l-9 95" stroke-width="5" stroke-opacity="0.38"/>
<path d="M3519 4198l43 -44M3492 3767l64 -66M3496 4303l-61 81" stroke-width="10" stroke-opacity="0.38"/>
<path d="M3488 4292l-37 47M3518 3709l50 66M3569 4103l-61 86" stroke-width="10" stroke-opacity="0.5"/>
<path d="M3566 4340l7 0M3709 4350l6 0M3595 3688l8 0M4045 3505l3 0M3682 3908l11 0M3982 3995l10 0M3553 4114l6 0M3860 3527l11 0M4087 4122l4 0M3622 4305l7 0M3602 3988l3 0M3910 3622l8 0M3759 3963l5 0M3648 4219l11 0M4055 4179l11 0M3651 3963l3 0M3871 3499l9 0M4013 3957l4 0M3617 3536l11 0M3414 3506l10 0" stroke-width="11" stroke-opacity="0.8"/>
</g></g></g>
<path transform="scale(0.1)" d="M3242 3538l6 -2M3252 3770l3 2M3555 3958l3 -1M3212 3929l1 1M3379 3851l8 -1M3443 3719l5 -1M3489 4134l3 -2M3308 4031l6 3M3207 4023l7 -2M3258 3962l8 0M3363 3978l6 0M3471 3935l8 -1M3322 4339l4 -2M3288 4326l6 1M3526 3959l7 -1M3459 4255l4 -1M3379 4366l4 -2M3376 4340l5 1M3507 3875l8 1M3397 3880l7 1M3334 4140l6 -2M3470 3941l3 2M3269 3664l3 -2M3299 3849l3 0M3480 3892l9 0M3233 4375l4 -3M3497 3959l5 -2M3446 4040l9 2M3272 3978l6 2M3384 4158l3 2M3434 3675l6 0M3334 3711l2 2M3504 3909l9 2M3225 3712l2 3M3444 3696l7 1M3403 4376l8 1M3420 4014l7 3M3361 3795l3 -2M3266 3775l6 -2M3427 3885l5 3M3377 4131l6 -2M3240 4312l3 -2M3349 3948l6 3M3362 4067l8 -1M3478 4186l6 1M3255 3905l4 1M3282 4058l9 -2M3241 3623l9 -1M3301 3714l6 3M3243 4313l3 -1M3235 3973l7 1M3214 3745l3 -2M3522 4144l6 2M3297 3813l2 1M3233 3925l5 1M3502 3954l2 2M3437 3964l4 1M3469 4257l5 0M3518 3957l3 2M3424 4104l2 -3M3317 3673l9 1M3397 4142l3 3M3278 4137l7 1M3368 4290l5 3M3295 4325l8 2M3513 4143l4 0M3492 4006l6 -1M3316 3646l6 2M3424 3955l6 3M3502 4015l4 -3M3334 3849l5 0M3491 3884l1 -3M3488 4061l4 2M3432 3900l6 -1M3377 3880l8 1M3460 3795l8 -2M3263 3526l7 0M3524 4095l8 1M3506 3788l2 0M3319 4232l1 1M3409 3946l3 0M3202 3635l8 -2M3439 4035l6 -1M3369 3773l6 -3M3265 3908l6 0M3481 3697l2 -2M3335 4319l5 0M3440 3989l2 2M3445 3718l4 -2M3392 4001l2 0" stroke="#fff" stroke-linecap="round" stroke-width="9" stroke-opacity="0.3"/>
<path d="M329,348.9 C329.27,349.22 328.87,349.02 330.6,350.8 C332.33,352.58 336.48,356.67 339.4,359.6 C342.32,362.53 345.67,365.23 348.1,368.4 C350.53,371.57 352.53,374.95 354,378.6 C355.47,382.25 356.55,386.42 356.9,390.3 C357.25,394.18 356.72,398.02 356.1,401.9 C355.48,405.78 354.53,409.7 353.2,413.6 C351.87,417.5 349.8,421.88 348.1,425.3 C346.4,428.72 344.1,432.03 343,434.1 C341.9,436.17 341.75,437.1 341.5,437.7" fill="none" stroke="#fff" stroke-width="1.9" stroke-dasharray="4.6 2.6" stroke-linecap="butt"/>
</g>
<text x="405.1" y="360.5" font-size="9.3" fill="#f2f2f2" text-anchor="end">COLIV</text>
<rect x="389.7" y="432.2" width="13.8" height="1.9" fill="#fff"/>
<g clip-path="url(#ic12)">
<rect x="320.1" y="440.9" width="88.6" height="88.7" fill="#040404"/>
<path d="M357.5,440.9 C357.63,441.05 357.43,439.7 358.3,441.8 C359.17,443.9 361.23,449.35 362.7,453.5 C364.17,457.65 365.77,462.32 367.1,466.7 C368.43,471.08 369.48,475.43 370.7,479.8 C371.92,484.17 373.42,488.77 374.4,492.9 C375.38,497.03 376.6,500.7 376.6,504.6 C376.6,508.5 376.1,512.53 374.4,516.3 C372.7,520.07 368.05,524.98 366.4,527.2 C364.75,529.42 364.82,529.2 364.5,529.6 L408.7,529.6 L408.7,440.9 Z" fill="#070707"/>
<g clip-path="url(#it12)"><rect x="320.1" y="440.9" width="88.6" height="88.7" fill="#fff" filter="url(#fg12)" opacity="0.15"/></g>
<g clip-path="url(#it12)"><path d="M357.5,440.9 C357.63,441.05 357.43,439.7 358.3,441.8 C359.17,443.9 361.23,449.35 362.7,453.5 C364.17,457.65 365.77,462.32 367.1,466.7 C368.43,471.08 369.48,475.43 370.7,479.8 C371.92,484.17 373.42,488.77 374.4,492.9 C375.38,497.03 376.6,500.7 376.6,504.6 C376.6,508.5 376.1,512.53 374.4,516.3 C372.7,520.07 368.05,524.98 366.4,527.2 C364.75,529.42 364.82,529.2 364.5,529.6" fill="none" stroke="#fff" stroke-width="14" stroke-opacity="0.12" filter="url(#fbl3)"/></g>
<g clip-path="url(#it12)"><g filter="url(#fblur)"><g transform="scale(0.1)" stroke="#fff" stroke-linecap="round" fill="none">
<path d="M3668 4541l50 -109M3691 4657l48 -63M3919 5091l69 -86M4061 4957l19 -59M3652 4488l35 -125M3944 4584l33 -60M3902 5312l51 -63M3819 5049l-2 55M3937 5024l47 -58M3800 5212l58 -79M3784 4758l24 -57M3761 5069l56 -116M3699 4684l7 114M3724 4748l32 62M3809 5161l23 -48M3815 4939l22 113M3652 4514l50 -83M3722 4689l27 60M3669 4602l15 -54M3859 5314l44 -107M3673 4510l23 -49M3809 4957l32 -82M3829 5040l29 -65M3819 4912l7 102M3975 4870l40 -124M4013 4981l28 -124M3986 4887l17 -79M3671 4440l13 84M3984 5264l63 -95M3806 5209l66 -103M3821 5294l54 -69M4001 5314l56 -96" stroke-width="5" stroke-opacity="0.12"/>
<path d="M3795 5153l22 -47M3634 4536l62 -119M3897 5076l31 -71M3992 5204l27 -56M3783 4844l32 -61M3685 4583l51 127M3702 4670l35 -69M3981 4463l32 -53M3810 4541l47 -68M3845 5015l64 -90M3663 4526l50 -71M3770 4765l8 70M3730 4755l49 -69M3807 4951l18 -100M3654 4439l26 52M4024 5224l54 -101M3781 5095l36 -111M4059 4598l34 -59M3917 4623l25 -111M3803 4978l23 115M4054 5125l28 -120M3880 4741l16 -48M3738 4763l13 109M3704 4866l27 -109M3912 5249l15 -52M3887 5248l31 -70M3996 4612l34 -99M3700 4787l46 -126M3679 4644l29 -120M3905 5045l33 -134M3724 4830l66 -79M3961 5107l73 -88M4050 4713l44 -121M3897 5226l39 -73M3790 4634l25 -59M3794 5117l42 -55M3703 4598l50 125M3765 5239l62 -121M3703 4483l43 -133M3808 5248l73 -91M3604 4483l34 -107M3718 4821l18 -73M4055 5224l31 -89M3914 4563l39 -57M4000 4690l63 -118M4069 4585l29 -98M3760 4582l33 -44M3694 5237l52 -63M4025 5190l23 -51M3741 5237l-27 48M3706 4742l54 -70M3776 4856l40 88M3633 4651l59 -99M4049 5022l74 -116M3811 4919l41 -80M3750 4761l23 70M3679 4709l26 55M3720 4691l46 108M3689 4671l58 -113M3770 4822l39 -52M3721 4900l19 -49M3706 4718l8 76M3687 4486l10 -55M3840 4999l-31 128M3713 5335l34 -96M3904 5051l47 -81M3812 5047l-8 62M3713 4490l26 -94M3775 5294l28 -92M3897 4784l26 -95M3745 4606l32 -51M3870 5069l54 -110M3742 5279l46 -89M3755 5091l28 -119M3890 4457l12 -59M4062 4659l10 -56M3772 4789l12 119M3758 4749l58 -113M3730 4733l61 -88M3717 4614l49 115M3775 5102l47 -83M3830 4795l46 -107M3791 4930l21 -82M4043 5105l45 -132M3779 4928l26 -51" stroke-width="10" stroke-opacity="0.12"/>
<path d="M3673 5286l53 -63M3645 5309l58 -100M3599 4527l57 -71M3787 5103l-11 117M3665 4651l58 -105M3709 4739l12 92" stroke-width="5" stroke-opacity="0.25"/>
<path d="M3726 4884l20 -51M3587 4387l35 99M3770 5184l11 -59M3744 4818l23 90M3714 4707l15 96M3697 4649l28 63M3683 5249l-23 50M3675 5325l40 -70M3640 4528l51 90M3743 4860l25 89M3605 4477l71 -87M3602 4506l33 -78M3768 5038l14 -75M3677 5331l28 -108" stroke-width="10" stroke-opacity="0.25"/>
<path d="M4006 4906l3 0M3793 4487l8 0M4014 4582l7 0M3692 4438l6 0M3935 4962l7 0M3807 5200l12 0M3869 4451l10 0M3988 5035l11 0M3675 4436l3 0M3978 4685l9 0M3962 5012l7 0M4049 4447l6 0M3865 4937l8 0M3834 4984l9 0M3800 4925l7 0M3962 4719l11 0M4011 4599l9 0M3902 5045l4 0M3931 4617l6 0M4061 4549l7 0M3742 4534l9 0M3653 4419l7 0M4064 5166l10 0M3949 4590l3 0M3808 4915l9 0M3771 4622l5 0M3913 4985l10 0M3924 5197l8 0M3705 4429l6 0M3753 5286l4 0M3880 5258l10 0M3983 4550l6 0M3804 4718l5 0M3768 5041l5 0M3839 4907l4 0M4067 4849l4 0M3822 4803l9 0M4026 4847l10 0M3920 5242l10 0M3907 4626l7 0" stroke-width="11" stroke-opacity="0.8"/>
</g></g></g>
<path transform="scale(0.1)" d="M3496 4657l2 1M3656 5282l2 0M3427 4723l4 -3M3428 5046l1 -3M3616 4978l8 0M3421 4793l8 -1M3438 4643l3 -2M3248 5234l2 0M3695 5223l7 1M3422 5064l9 1M3479 4767l4 -1M3495 4881l3 0M3495 5121l9 3M3339 4802l2 2M3711 4957l8 -2M3232 4642l3 0M3700 5214l5 3M3328 5291l8 1M3436 4894l8 -1M3280 4653l2 -2M3511 5110l2 3M3683 5007l4 -1M3390 4685l8 -1M3269 4741l5 0M3605 4672l6 -3M3630 4987l1 0M3525 5104l2 1M3455 5065l8 3M3678 4815l8 -1M3243 5141l2 2M3653 4994l8 -3M3264 4857l8 0M3372 5173l4 1M3321 4998l3 -2M3613 4962l2 3M3607 5250l4 2M3312 5110l5 1M3486 4451l8 0M3607 4764l3 -1M3219 5134l4 1M3306 4859l6 1M3553 5230l4 0M3565 4781l3 0M3268 4896l5 2M3269 5213l5 -1M3316 4980l9 -1M3275 4676l1 -3M3727 4999l4 -2M3344 4506l1 -1M3707 4890l5 2" stroke="#fff" stroke-linecap="round" stroke-width="9" stroke-opacity="0.22"/>
<path d="M357.5,440.9 C357.63,441.05 357.43,439.7 358.3,441.8 C359.17,443.9 361.23,449.35 362.7,453.5 C364.17,457.65 365.77,462.32 367.1,466.7 C368.43,471.08 369.48,475.43 370.7,479.8 C371.92,484.17 373.42,488.77 374.4,492.9 C375.38,497.03 376.6,500.7 376.6,504.6 C376.6,508.5 376.1,512.53 374.4,516.3 C372.7,520.07 368.05,524.98 366.4,527.2 C364.75,529.42 364.82,529.2 364.5,529.6" fill="none" stroke="#fff" stroke-width="1.9" stroke-dasharray="4.6 2.6" stroke-linecap="butt"/>
</g>
<text x="405.1" y="452.5" font-size="9.3" fill="#f2f2f2" text-anchor="end">FN</text>
<rect x="389.7" y="524.1" width="13.8" height="1.9" fill="#fff"/>
<path d="M146.4,92.5 147.5,92.9 148.6,92.1 149.7,90.1 150.8,88.1 151.9,87.9 153.0,86.6 154.1,85.4 155.2,84.7 156.3,83.7 157.4,82.5 158.5,83.0 159.6,82.0 160.7,80.2 161.8,79.3 162.9,80.0 164.0,77.9 165.1,78.2 166.2,78.2 167.3,75.7 168.4,75.1 169.5,73.3 170.6,72.4 171.7,71.2 172.8,72.3 173.9,70.8 175.0,69.5 176.1,68.1 177.2,68.7 178.3,68.1 179.4,68.1 180.5,67.4 181.6,67.1 182.7,67.5 183.8,66.4 184.9,66.4 186.0,66.8 187.1,66.1 188.2,65.6 189.3,64.1 190.4,63.7 191.5,65.3 192.6,64.2 193.7,64.2 194.8,66.1 195.9,65.5 197.0,66.1 198.1,65.8 199.2,66.2 200.3,65.0 201.4,64.0 202.5,64.2 203.4,65.8 203.4,86.3 202.5,87.4 201.4,86.0 200.3,86.8 199.2,85.3 198.1,86.0 197.0,85.4 195.9,86.5 194.8,86.9 193.7,84.9 192.6,85.4 191.5,86.1 190.4,85.5 189.3,84.3 188.2,84.9 187.1,84.9 186.0,83.8 184.9,84.5 183.8,84.5 182.7,85.6 181.6,85.4 180.5,85.3 179.4,85.0 178.3,84.4 177.2,85.0 176.1,85.3 175.0,86.3 173.9,86.1 172.8,85.6 171.7,86.8 170.6,88.4 169.5,87.9 168.4,87.6 167.3,89.8 166.2,90.5 165.1,90.4 164.0,90.9 162.9,90.8 161.8,92.2 160.7,92.9 159.6,93.5 158.5,94.0 157.4,95.3 156.3,95.9 155.2,97.0 154.1,97.4 153.0,97.3 151.9,98.7 150.8,97.8 149.7,100.3 148.6,99.8 147.5,101.2 146.4,101.4Z" fill="#9d989c"/>
<path d="M123.6,88.8 124.7,87.4 125.8,87.8 126.9,88.4 128.0,86.5 129.1,86.7 130.2,87.0 131.3,87.9 132.4,87.5 133.5,85.1 134.6,83.1 135.7,84.0 136.8,83.7 137.9,81.6 139.0,80.3 140.1,76.9 141.2,76.2 142.3,73.2 143.4,69.9 144.5,67.4 145.6,58.3 146.7,47.0 147.8,48.1 148.9,48.6 150.0,48.7 151.1,47.1 152.2,46.7 153.3,48.6 154.4,49.4 155.5,50.3 156.6,50.2 157.7,51.0 158.8,51.0 159.9,50.1 161.0,51.5 162.1,53.6 163.2,55.9 164.3,57.4 165.4,59.2 166.5,58.6 167.6,59.1 168.7,60.2 169.8,61.3 170.9,60.9 172.0,63.3 173.1,63.9 174.2,62.7 175.3,63.2 176.4,64.5 177.5,66.0 178.6,67.3 179.7,68.1 180.8,68.3 181.9,66.7 183.0,68.5 184.1,67.7 185.2,69.0 186.3,69.6 187.4,69.7 188.5,68.5 189.6,67.4 190.7,67.5 191.8,67.7 192.9,68.3 194.0,67.6 195.1,68.5 196.2,68.6 197.3,67.2 198.4,69.1 199.5,68.5 200.6,68.6 201.7,69.4 202.8,68.8 203.4,69.1 203.4,88.4 202.8,88.9 201.7,88.9 200.6,88.3 199.5,88.5 198.4,86.5 197.3,86.5 196.2,86.9 195.1,86.1 194.0,87.3 192.9,87.8 191.8,86.6 190.7,86.9 189.6,85.9 188.5,87.5 187.4,86.5 186.3,85.4 185.2,83.9 184.1,85.1 183.0,85.1 181.9,84.3 180.8,85.4 179.7,84.1 178.6,82.8 177.5,81.8 176.4,82.8 175.3,81.9 174.2,79.9 173.1,80.3 172.0,78.5 170.9,79.1 169.8,77.3 168.7,76.8 167.6,77.2 166.5,78.3 165.4,77.8 164.3,76.3 163.2,74.0 162.1,72.8 161.0,72.6 159.9,71.7 158.8,70.7 157.7,69.6 156.6,66.4 155.5,65.7 154.4,66.2 153.3,65.1 152.2,65.2 151.1,64.0 150.0,64.0 148.9,67.1 147.8,72.0 146.7,76.9 145.6,85.8 144.5,93.1 143.4,95.5 142.3,97.6 141.2,98.2 140.1,99.2 139.0,98.4 137.9,97.7 136.8,98.6 135.7,100.4 134.6,99.3 133.5,100.6 132.4,100.8 131.3,100.9 130.2,101.2 129.1,101.7 128.0,102.4 126.9,104.1 125.8,102.6 124.7,103.1 123.6,101.9Z" fill="#2f9640" fill-opacity="0.45"/>
<line x1="146.4" y1="46.6" x2="146.4" y2="108.1" stroke="#f2505c" stroke-width="0.9"/>
<path d="M146.4,95.8 147.5,95.2 148.6,94.8 149.7,94.1 150.8,93.8 151.9,92.7 153.0,92.5 154.1,91.9 155.2,91.1 156.3,90.6 157.4,89.8 158.5,89.2 159.6,88.4 160.7,87.4 161.8,86.2 162.9,85.6 164.0,84.4 165.1,83.9 166.2,83.4 167.3,82.0 168.4,81.9 169.5,81.7 170.6,81.0 171.7,80.7 172.8,79.8 173.9,79.6 175.0,78.7 176.1,78.2 177.2,77.9 178.3,76.9 179.4,76.8 180.5,76.4 181.6,76.1 182.7,75.8 183.8,75.5 184.9,75.4 186.0,75.6 187.1,75.7 188.2,75.9 189.3,75.7 190.4,75.4 191.5,75.3 192.6,75.4 193.7,75.9 194.8,76.1 195.9,76.5 197.0,76.1 198.1,76.2 199.2,76.5 200.3,76.8 201.4,76.8 202.5,77.3 203.4,77.4" fill="none" stroke="#141414" stroke-width="1.05" stroke-linejoin="round"/>
<path d="M123.6,94.5 124.7,94.2 125.8,94.7 126.9,94.7 128.0,94.3 129.1,94.3 130.2,94.2 131.3,94.1 132.4,94.0 133.5,93.5 134.6,93.3 135.7,93.1 136.8,92.5 137.9,91.6 139.0,90.2 140.1,88.5 141.2,86.6 142.3,84.1 143.4,82.0 144.5,78.8 145.6,72.8 146.7,63.3 147.8,57.2 148.9,55.3 150.0,55.2 151.1,55.3 152.2,55.7 153.3,56.3 154.4,57.7 155.5,58.7 156.6,59.5 157.7,60.5 158.8,60.9 159.9,61.3 161.0,61.7 162.1,63.1 163.2,63.8 164.3,64.6 165.4,65.9 166.5,67.0 167.6,68.1 168.7,69.0 169.8,69.5 170.9,70.6 172.0,71.4 173.1,72.1 174.2,72.0 175.3,72.8 176.4,73.4 177.5,74.1 178.6,74.2 179.7,74.7 180.8,74.8 181.9,75.3 183.0,75.8 184.1,75.7 185.2,76.1 186.3,76.2 187.4,76.6 188.5,77.4 189.6,77.8 190.7,78.1 191.8,78.7 192.9,78.6 194.0,78.3 195.1,78.4 196.2,79.0 197.3,79.0 198.4,79.3 199.5,79.5 200.6,79.1 201.7,78.9 202.8,79.3 203.4,79.1" fill="none" stroke="#2a9a50" stroke-width="1.05" stroke-linejoin="round"/>
<line x1="123.6" y1="46.2" x2="123.6" y2="108.6" stroke="#1e1e1e" stroke-width="1"/>
<line x1="203.4" y1="46.2" x2="203.4" y2="108.6" stroke="#1e1e1e" stroke-width="1"/>
<line x1="123.2" y1="108.1" x2="203.8" y2="108.1" stroke="#3c3c3c" stroke-width="1.3"/>
<line x1="121.8" y1="108.1" x2="123.6" y2="108.1" stroke="#1e1e1e" stroke-width="1"/>
<line x1="121.8" y1="77.35" x2="123.6" y2="77.35" stroke="#1e1e1e" stroke-width="1"/>
<line x1="121.8" y1="46.6" x2="123.6" y2="46.6" stroke="#1e1e1e" stroke-width="1"/>
<line x1="203.4" y1="108.1" x2="205.2" y2="108.1" stroke="#1e1e1e" stroke-width="1"/>
<line x1="203.4" y1="87.6" x2="205.2" y2="87.6" stroke="#1e1e1e" stroke-width="1"/>
<line x1="203.4" y1="67.1" x2="205.2" y2="67.1" stroke="#1e1e1e" stroke-width="1"/>
<line x1="203.4" y1="46.6" x2="205.2" y2="46.6" stroke="#1e1e1e" stroke-width="1"/>
<line x1="123.6" y1="108.1" x2="123.6" y2="109.9" stroke="#1e1e1e" stroke-width="1"/>
<line x1="146.4" y1="108.1" x2="146.4" y2="109.9" stroke="#1e1e1e" stroke-width="1"/>
<line x1="169.2" y1="108.1" x2="169.2" y2="109.9" stroke="#1e1e1e" stroke-width="1"/>
<line x1="192" y1="108.1" x2="192" y2="109.9" stroke="#1e1e1e" stroke-width="1"/>
<text x="121" y="111.4" font-size="9.5" fill="#1a1a1a" text-anchor="end">0.0</text>
<text x="121" y="80.65" font-size="9.5" fill="#1a1a1a" text-anchor="end">0.5</text>
<text x="121" y="49.9" font-size="9.5" fill="#1a1a1a" text-anchor="end">1.0</text>
<text x="206.4" y="111.4" font-size="9.5" fill="#1a1a1a" text-anchor="start">0</text>
<text x="206.4" y="90.9" font-size="9.5" fill="#1a1a1a" text-anchor="start">30</text>
<text x="206.4" y="70.4" font-size="9.5" fill="#1a1a1a" text-anchor="start">60</text>
<text x="206.4" y="49.9" font-size="9.5" fill="#1a1a1a" text-anchor="start">90</text>
<text x="122.8" y="119.3" font-size="9.5" fill="#1a1a1a" text-anchor="middle">-100</text>
<text x="146.4" y="119.3" font-size="9.5" fill="#1a1a1a" text-anchor="middle">0</text>
<text x="169.2" y="119.3" font-size="9.5" fill="#1a1a1a" text-anchor="middle">100</text>
<text x="192" y="119.3" font-size="9.5" fill="#1a1a1a" text-anchor="middle">200</text>
<text x="104" y="77.35" font-size="9.5" fill="#2f9e58" text-anchor="middle" transform="rotate(-90 104 77.35)">Rel. fluo. intensity</text>
<text x="221.2" y="78.15" font-size="9.5" fill="#1a1a1a" text-anchor="middle" transform="rotate(90 221.2 78.15)">Fiber angles</text>
<path d="M146.3,180.5 147.4,180.7 148.5,180.3 149.6,179.1 150.7,178.1 151.8,176.3 152.9,175.6 154.0,173.8 155.1,172.6 156.2,172.0 157.3,171.6 158.4,171.4 159.5,172.5 160.6,171.8 161.7,171.6 162.8,171.4 163.9,171.0 165.0,170.5 166.1,170.5 167.2,169.7 168.3,170.4 169.4,170.6 170.5,169.1 171.6,168.8 172.7,169.6 173.8,168.3 174.9,168.3 176.0,167.3 177.1,168.2 178.2,167.3 179.3,166.2 180.4,166.4 181.5,166.0 182.6,165.6 183.7,166.5 184.8,166.9 185.9,166.0 187.0,166.4 188.1,166.8 189.2,166.7 190.3,166.2 191.4,166.1 192.5,165.2 193.6,164.7 194.7,165.2 195.8,165.1 196.9,164.7 198.0,165.6 199.1,163.9 200.2,162.9 201.3,161.8 202.4,162.8 203.4,162.6 203.4,175.1 202.4,176.2 201.3,176.0 200.2,175.6 199.1,176.6 198.0,176.2 196.9,177.1 195.8,177.2 194.7,178.1 193.6,177.1 192.5,177.1 191.4,177.6 190.3,177.8 189.2,178.5 188.1,178.3 187.0,177.7 185.9,179.7 184.8,178.7 183.7,179.1 182.6,179.1 181.5,180.3 180.4,179.3 179.3,178.4 178.2,177.7 177.1,177.5 176.0,177.9 174.9,176.9 173.8,178.6 172.7,178.1 171.6,177.3 170.5,176.9 169.4,177.6 168.3,178.8 167.2,177.6 166.1,178.6 165.0,179.5 163.9,181.6 162.8,180.7 161.7,180.4 160.6,180.5 159.5,181.0 158.4,182.4 157.3,181.9 156.2,183.5 155.1,185.3 154.0,185.0 152.9,184.4 151.8,185.7 150.7,187.8 149.6,187.0 148.5,188.7 147.4,189.2 146.3,190.3Z" fill="#9d989c"/>
<path d="M123.5,161.6 124.6,161.2 125.7,162.0 126.8,164.7 127.9,164.8 129.0,165.8 130.1,167.2 131.2,165.4 132.3,166.8 133.4,166.2 134.5,167.4 135.6,165.7 136.7,166.2 137.8,165.8 138.9,163.4 140.0,163.3 141.1,161.6 142.2,161.3 143.3,158.2 144.4,157.7 145.5,153.8 146.6,151.5 147.7,147.9 148.8,149.8 149.9,150.1 151.0,150.9 152.1,151.6 153.2,149.7 154.3,148.3 155.4,150.0 156.5,150.9 157.6,149.7 158.7,150.2 159.8,148.7 160.9,150.1 162.0,150.2 163.1,150.7 164.2,151.9 165.3,151.7 166.4,153.5 167.5,154.7 168.6,154.8 169.7,154.4 170.8,155.2 171.9,153.1 173.0,152.2 174.1,153.9 175.2,153.1 176.3,152.2 177.4,153.0 178.5,151.4 179.6,152.2 180.7,150.4 181.8,148.8 182.9,149.9 184.0,151.7 185.1,153.4 186.2,154.6 187.3,154.9 188.4,155.0 189.5,152.5 190.6,152.0 191.7,150.7 192.8,150.5 193.9,151.9 195.0,154.3 196.1,157.0 197.2,158.3 198.3,158.8 199.4,159.2 200.5,160.7 201.6,161.8 202.7,161.8 203.4,161.3 203.4,177.7 202.7,177.3 201.6,178.7 200.5,177.5 199.4,175.9 198.3,177.1 197.2,177.7 196.1,175.4 195.0,176.3 193.9,176.7 192.8,175.5 191.7,177.1 190.6,176.3 189.5,175.6 188.4,174.9 187.3,175.6 186.2,174.3 185.1,174.5 184.0,175.5 182.9,174.1 181.8,176.0 180.7,175.2 179.6,174.5 178.5,174.2 177.4,173.2 176.3,173.6 175.2,173.8 174.1,173.5 173.0,173.4 171.9,173.0 170.8,172.0 169.7,171.2 168.6,170.6 167.5,170.4 166.4,169.5 165.3,170.1 164.2,169.6 163.1,169.6 162.0,167.4 160.9,168.4 159.8,169.0 158.7,168.2 157.6,168.5 156.5,168.9 155.4,169.9 154.3,169.0 153.2,169.5 152.1,168.2 151.0,168.9 149.9,170.6 148.8,169.7 147.7,169.3 146.6,172.5 145.5,178.7 144.4,181.8 143.3,182.1 142.2,184.8 141.1,186.6 140.0,188.4 138.9,188.1 137.8,188.9 136.7,189.4 135.6,189.3 134.5,189.3 133.4,189.7 132.3,188.3 131.2,188.9 130.1,189.1 129.0,189.8 127.9,190.5 126.8,191.8 125.7,190.9 124.6,190.5 123.5,190.6Z" fill="#e44421" fill-opacity="0.45"/>
<line x1="146.33" y1="140.6" x2="146.33" y2="201.7" stroke="#f2505c" stroke-width="0.9"/>
<path d="M146.3,184.7 147.4,185.0 148.5,184.5 149.6,182.7 150.7,181.1 151.8,180.1 152.9,179.7 154.0,178.7 155.1,178.3 156.2,177.7 157.3,177.9 158.4,178.0 159.5,177.8 160.6,177.4 161.7,177.0 162.8,177.2 163.9,176.4 165.0,176.4 166.1,176.0 167.2,175.6 168.3,174.6 169.4,174.2 170.5,173.8 171.6,173.6 172.7,174.0 173.8,174.1 174.9,174.0 176.0,173.8 177.1,173.3 178.2,173.5 179.3,173.1 180.4,172.6 181.5,172.8 182.6,172.6 183.7,172.4 184.8,172.7 185.9,172.2 187.0,172.6 188.1,172.4 189.2,172.4 190.3,172.0 191.4,172.2 192.5,171.7 193.6,171.9 194.7,171.9 195.8,171.7 196.9,171.1 198.0,171.4 199.1,170.8 200.2,170.6 201.3,169.9 202.4,169.7 203.4,169.6" fill="none" stroke="#141414" stroke-width="1.05" stroke-linejoin="round"/>
<path d="M123.5,176.8 124.6,177.0 125.7,177.3 126.8,177.2 127.9,177.1 129.0,177.4 130.1,177.0 131.2,177.7 132.3,178.0 133.4,178.0 134.5,178.3 135.6,177.6 136.7,177.0 137.8,175.6 138.9,175.2 140.0,173.9 141.1,172.9 142.2,172.2 143.3,171.5 144.4,169.3 145.5,165.8 146.6,159.2 147.7,158.4 148.8,158.4 149.9,158.9 151.0,158.6 152.1,159.4 153.2,160.2 154.3,160.5 155.4,160.3 156.5,160.0 157.6,159.7 158.7,159.3 159.8,159.6 160.9,159.3 162.0,158.9 163.1,159.3 164.2,159.0 165.3,159.6 166.4,160.9 167.5,161.5 168.6,162.5 169.7,162.3 170.8,162.3 171.9,163.0 173.0,162.6 174.1,162.9 175.2,163.2 176.3,162.9 177.4,163.3 178.5,163.8 179.6,162.5 180.7,161.8 181.8,161.2 182.9,160.6 184.0,162.1 185.1,163.0 186.2,163.4 187.3,164.5 188.4,165.3 189.5,165.7 190.6,165.7 191.7,164.4 192.8,163.9 193.9,164.2 195.0,165.1 196.1,166.6 197.2,167.5 198.3,167.8 199.4,168.1 200.5,168.4 201.6,168.7 202.7,169.2 203.4,169.5" fill="none" stroke="#e6323c" stroke-width="1.05" stroke-linejoin="round"/>
<line x1="123.5" y1="140.2" x2="123.5" y2="202.2" stroke="#1e1e1e" stroke-width="1"/>
<line x1="203.4" y1="140.2" x2="203.4" y2="202.2" stroke="#1e1e1e" stroke-width="1"/>
<line x1="123.1" y1="201.7" x2="203.8" y2="201.7" stroke="#3c3c3c" stroke-width="1.3"/>
<line x1="121.7" y1="201.7" x2="123.5" y2="201.7" stroke="#1e1e1e" stroke-width="1"/>
<line x1="121.7" y1="171.15" x2="123.5" y2="171.15" stroke="#1e1e1e" stroke-width="1"/>
<line x1="121.7" y1="140.6" x2="123.5" y2="140.6" stroke="#1e1e1e" stroke-width="1"/>
<line x1="203.4" y1="201.7" x2="205.2" y2="201.7" stroke="#1e1e1e" stroke-width="1"/>
<line x1="203.4" y1="181.33" x2="205.2" y2="181.33" stroke="#1e1e1e" stroke-width="1"/>
<line x1="203.4" y1="160.97" x2="205.2" y2="160.97" stroke="#1e1e1e" stroke-width="1"/>
<line x1="203.4" y1="140.6" x2="205.2" y2="140.6" stroke="#1e1e1e" stroke-width="1"/>
<line x1="123.5" y1="201.7" x2="123.5" y2="203.5" stroke="#1e1e1e" stroke-width="1"/>
<line x1="146.33" y1="201.7" x2="146.33" y2="203.5" stroke="#1e1e1e" stroke-width="1"/>
<line x1="169.16" y1="201.7" x2="169.16" y2="203.5" stroke="#1e1e1e" stroke-width="1"/>
<line x1="191.99" y1="201.7" x2="191.99" y2="203.5" stroke="#1e1e1e" stroke-width="1"/>
<text x="120.9" y="205" font-size="9.5" fill="#1a1a1a" text-anchor="end">0.0</text>
<text x="120.9" y="174.45" font-size="9.5" fill="#1a1a1a" text-anchor="end">0.5</text>
<text x="120.9" y="143.9" font-size="9.5" fill="#1a1a1a" text-anchor="end">1.0</text>
<text x="206.4" y="205" font-size="9.5" fill="#1a1a1a" text-anchor="start">0</text>
<text x="206.4" y="184.63" font-size="9.5" fill="#1a1a1a" text-anchor="start">30</text>
<text x="206.4" y="164.27" font-size="9.5" fill="#1a1a1a" text-anchor="start">60</text>
<text x="206.4" y="143.9" font-size="9.5" fill="#1a1a1a" text-anchor="start">90</text>
<text x="122.7" y="212.9" font-size="9.5" fill="#1a1a1a" text-anchor="middle">-100</text>
<text x="146.33" y="212.9" font-size="9.5" fill="#1a1a1a" text-anchor="middle">0</text>
<text x="169.16" y="212.9" font-size="9.5" fill="#1a1a1a" text-anchor="middle">100</text>
<text x="191.99" y="212.9" font-size="9.5" fill="#1a1a1a" text-anchor="middle">200</text>
<text x="103.9" y="171.15" font-size="9.5" fill="#e8343f" text-anchor="middle" transform="rotate(-90 103.9 171.15)">Rel. fluo. intensity</text>
<text x="221.2" y="171.95" font-size="9.5" fill="#1a1a1a" text-anchor="middle" transform="rotate(90 221.2 171.95)">Fiber angles</text>
<path d="M373.9,90.8 375.0,89.8 376.1,88.8 377.2,87.7 378.3,88.2 379.4,87.5 380.5,86.3 381.6,85.1 382.7,84.1 383.8,83.6 384.9,84.4 386.0,84.1 387.1,84.1 388.2,83.7 389.3,82.8 390.4,82.2 391.5,80.1 392.6,79.6 393.7,80.4 394.8,78.5 395.9,77.3 397.0,76.3 398.1,75.0 399.2,74.6 400.3,74.4 401.4,72.3 402.5,71.5 403.6,71.4 404.7,68.8 405.8,68.9 406.9,67.2 408.0,66.8 409.1,65.7 410.2,65.8 411.3,66.5 412.4,65.4 413.5,64.5 414.6,64.1 415.7,64.7 416.8,63.6 417.9,61.9 419.0,62.0 420.1,61.6 421.2,62.3 422.3,63.5 423.4,64.1 424.5,65.7 425.6,63.6 426.7,63.2 427.8,63.1 428.9,63.6 430.0,62.6 430.9,62.1 430.9,88.3 430.0,89.1 428.9,89.7 427.8,87.9 426.7,88.9 425.6,88.5 424.5,88.0 423.4,88.6 422.3,89.4 421.2,88.9 420.1,87.7 419.0,87.4 417.9,87.5 416.8,86.9 415.7,87.5 414.6,89.2 413.5,88.4 412.4,89.4 411.3,87.8 410.2,88.2 409.1,89.4 408.0,89.8 406.9,90.2 405.8,89.9 404.7,90.5 403.6,90.4 402.5,92.1 401.4,91.9 400.3,92.9 399.2,91.7 398.1,92.5 397.0,92.3 395.9,94.0 394.8,93.8 393.7,95.1 392.6,95.6 391.5,95.6 390.4,94.9 389.3,94.8 388.2,95.1 387.1,94.6 386.0,95.5 384.9,95.2 383.8,96.2 382.7,97.3 381.6,96.7 380.5,96.8 379.4,97.5 378.3,98.9 377.2,98.6 376.1,99.8 375.0,100.1 373.9,101.7Z" fill="#9d989c"/>
<path d="M351.1,83.4 352.2,82.8 353.3,83.5 354.4,85.2 355.5,84.4 356.6,85.7 357.7,85.0 358.8,83.9 359.9,82.4 361.0,82.0 362.1,83.2 363.2,81.0 364.3,79.9 365.4,78.4 366.5,79.7 367.6,76.8 368.7,75.6 369.8,75.6 370.9,75.1 372.0,71.2 373.1,66.5 374.2,61.1 375.3,48.4 376.4,48.5 377.5,50.9 378.6,50.7 379.7,51.8 380.8,51.9 381.9,52.8 383.0,52.8 384.1,52.5 385.2,53.1 386.3,55.0 387.4,55.4 388.5,56.5 389.6,56.5 390.7,58.2 391.8,59.8 392.9,60.5 394.0,60.5 395.1,60.3 396.2,60.0 397.3,60.8 398.4,61.0 399.5,60.0 400.6,62.0 401.7,61.5 402.8,62.8 403.9,65.9 405.0,65.2 406.1,65.5 407.2,65.5 408.3,65.5 409.4,67.7 410.5,69.3 411.6,68.4 412.7,68.2 413.8,70.4 414.9,71.5 416.0,71.5 417.1,71.3 418.2,72.9 419.3,72.2 420.4,71.9 421.5,73.3 422.6,72.5 423.7,72.3 424.8,71.6 425.9,71.7 427.0,72.0 428.1,71.7 429.2,71.9 430.3,73.7 430.9,73.0 430.9,89.6 430.3,89.4 429.2,90.9 428.1,90.8 427.0,89.8 425.9,88.5 424.8,89.4 423.7,88.7 422.6,88.4 421.5,87.8 420.4,86.2 419.3,86.3 418.2,87.3 417.1,87.5 416.0,86.7 414.9,85.0 413.8,84.4 412.7,84.5 411.6,84.7 410.5,84.4 409.4,83.1 408.3,83.8 407.2,85.3 406.1,83.5 405.0,84.7 403.9,84.1 402.8,83.4 401.7,82.2 400.6,82.0 399.5,79.8 398.4,79.7 397.3,79.2 396.2,79.9 395.1,77.9 394.0,77.5 392.9,78.0 391.8,78.6 390.7,76.9 389.6,76.4 388.5,75.8 387.4,77.1 386.3,75.9 385.2,74.6 384.1,75.7 383.0,75.4 381.9,74.4 380.8,72.6 379.7,72.4 378.6,73.0 377.5,71.2 376.4,71.2 375.3,71.2 374.2,76.6 373.1,87.0 372.0,91.8 370.9,93.5 369.8,94.4 368.7,97.1 367.6,98.2 366.5,100.0 365.4,103.2 364.3,104.2 363.2,103.9 362.1,104.4 361.0,102.9 359.9,104.3 358.8,104.0 357.7,106.0 356.6,105.3 355.5,105.1 354.4,106.7 353.3,105.1 352.2,106.3 351.1,107.3Z" fill="#2f9640" fill-opacity="0.45"/>
<line x1="373.9" y1="46.6" x2="373.9" y2="108.1" stroke="#f2505c" stroke-width="0.9"/>
<path d="M373.9,95.2 375.0,95.1 376.1,95.0 377.2,94.0 378.3,93.8 379.4,93.2 380.5,92.5 381.6,92.2 382.7,91.8 383.8,91.3 384.9,90.6 386.0,89.6 387.1,88.7 388.2,88.4 389.3,88.0 390.4,87.2 391.5,86.4 392.6,85.5 393.7,85.0 394.8,84.7 395.9,84.1 397.0,83.3 398.1,82.6 399.2,81.4 400.3,80.7 401.4,80.6 402.5,79.9 403.6,79.2 404.7,78.6 405.8,78.8 406.9,78.7 408.0,78.5 409.1,78.3 410.2,77.5 411.3,77.8 412.4,77.7 413.5,77.6 414.6,77.1 415.7,76.8 416.8,76.1 417.9,76.0 419.0,75.7 420.1,75.7 421.2,76.5 422.3,77.0 423.4,77.1 424.5,77.7 425.6,77.1 426.7,76.2 427.8,76.1 428.9,76.0 430.0,75.3 430.9,75.1" fill="none" stroke="#141414" stroke-width="1.05" stroke-linejoin="round"/>
<path d="M351.1,95.7 352.2,95.2 353.3,94.9 354.4,95.1 355.5,95.4 356.6,94.8 357.7,95.0 358.8,94.7 359.9,94.0 361.0,93.6 362.1,93.6 363.2,93.3 364.3,92.4 365.4,91.9 366.5,90.2 367.6,88.6 368.7,87.5 369.8,85.5 370.9,82.8 372.0,80.7 373.1,74.4 374.2,66.8 375.3,54.4 376.4,56.3 377.5,58.8 378.6,59.8 379.7,60.9 380.8,61.9 381.9,62.8 383.0,63.5 384.1,63.8 385.2,64.7 386.3,65.2 387.4,65.5 388.5,66.7 389.6,66.9 390.7,67.4 391.8,68.4 392.9,69.7 394.0,71.0 395.1,71.7 396.2,72.3 397.3,73.2 398.4,72.4 399.5,72.7 400.6,73.2 401.7,73.6 402.8,74.8 403.9,75.5 405.0,75.8 406.1,76.4 407.2,76.5 408.3,76.8 409.4,77.0 410.5,77.3 411.6,77.9 412.7,78.1 413.8,78.9 414.9,78.9 416.0,79.0 417.1,79.7 418.2,79.8 419.3,80.7 420.4,80.7 421.5,81.4 422.6,81.5 423.7,81.4 424.8,81.3 425.9,81.5 427.0,80.8 428.1,81.3 429.2,81.7 430.3,81.8 430.9,81.2" fill="none" stroke="#2a9a50" stroke-width="1.05" stroke-linejoin="round"/>
<line x1="351.1" y1="46.2" x2="351.1" y2="108.6" stroke="#1e1e1e" stroke-width="1"/>
<line x1="430.9" y1="46.2" x2="430.9" y2="108.6" stroke="#1e1e1e" stroke-width="1"/>
<line x1="350.7" y1="108.1" x2="431.3" y2="108.1" stroke="#3c3c3c" stroke-width="1.3"/>
<line x1="349.3" y1="108.1" x2="351.1" y2="108.1" stroke="#1e1e1e" stroke-width="1"/>
<line x1="349.3" y1="77.35" x2="351.1" y2="77.35" stroke="#1e1e1e" stroke-width="1"/>
<line x1="349.3" y1="46.6" x2="351.1" y2="46.6" stroke="#1e1e1e" stroke-width="1"/>
<line x1="430.9" y1="108.1" x2="432.7" y2="108.1" stroke="#1e1e1e" stroke-width="1"/>
<line x1="430.9" y1="87.6" x2="432.7" y2="87.6" stroke="#1e1e1e" stroke-width="1"/>
<line x1="430.9" y1="67.1" x2="432.7" y2="67.1" stroke="#1e1e1e" stroke-width="1"/>
<line x1="430.9" y1="46.6" x2="432.7" y2="46.6" stroke="#1e1e1e" stroke-width="1"/>
<line x1="351.1" y1="108.1" x2="351.1" y2="109.9" stroke="#1e1e1e" stroke-width="1"/>
<line x1="373.9" y1="108.1" x2="373.9" y2="109.9" stroke="#1e1e1e" stroke-width="1"/>
<line x1="396.7" y1="108.1" x2="396.7" y2="109.9" stroke="#1e1e1e" stroke-width="1"/>
<line x1="419.5" y1="108.1" x2="419.5" y2="109.9" stroke="#1e1e1e" stroke-width="1"/>
<text x="348.5" y="111.4" font-size="9.5" fill="#1a1a1a" text-anchor="end">0.0</text>
<text x="348.5" y="80.65" font-size="9.5" fill="#1a1a1a" text-anchor="end">0.5</text>
<text x="348.5" y="49.9" font-size="9.5" fill="#1a1a1a" text-anchor="end">1.0</text>
<text x="433.9" y="111.4" font-size="9.5" fill="#1a1a1a" text-anchor="start">0</text>
<text x="433.9" y="90.9" font-size="9.5" fill="#1a1a1a" text-anchor="start">30</text>
<text x="433.9" y="70.4" font-size="9.5" fill="#1a1a1a" text-anchor="start">60</text>
<text x="433.9" y="49.9" font-size="9.5" fill="#1a1a1a" text-anchor="start">90</text>
<text x="350.3" y="119.3" font-size="9.5" fill="#1a1a1a" text-anchor="middle">-100</text>
<text x="373.9" y="119.3" font-size="9.5" fill="#1a1a1a" text-anchor="middle">0</text>
<text x="396.7" y="119.3" font-size="9.5" fill="#1a1a1a" text-anchor="middle">100</text>
<text x="419.5" y="119.3" font-size="9.5" fill="#1a1a1a" text-anchor="middle">200</text>
<text x="331.5" y="77.35" font-size="9.5" fill="#2f9e58" text-anchor="middle" transform="rotate(-90 331.5 77.35)">Rel. fluo. intensity</text>
<text x="448.7" y="78.15" font-size="9.5" fill="#1a1a1a" text-anchor="middle" transform="rotate(90 448.7 78.15)">Fiber angles</text>
<path d="M373.7,183.2 374.8,181.8 375.9,182.0 377.0,180.0 378.1,179.4 379.2,179.7 380.3,179.1 381.4,178.3 382.5,176.5 383.6,175.6 384.7,176.9 385.8,176.2 386.9,174.6 388.0,173.8 389.1,174.1 390.2,173.9 391.3,172.7 392.4,173.1 393.5,171.5 394.6,169.8 395.7,169.7 396.8,170.2 397.9,170.8 399.0,169.6 400.1,169.6 401.2,170.3 402.3,170.1 403.4,169.0 404.5,169.6 405.6,169.1 406.7,170.1 407.8,168.9 408.9,170.0 410.0,170.7 411.1,170.4 412.2,168.6 413.3,168.9 414.4,168.3 415.5,168.5 416.6,168.9 417.7,168.8 418.8,169.1 419.9,167.4 421.0,166.6 422.1,166.0 423.2,166.2 424.3,165.7 425.4,167.1 426.5,166.3 427.6,167.3 428.7,166.7 429.8,166.8 430.7,166.5 430.7,180.2 429.8,179.3 428.7,179.4 427.6,178.9 426.5,179.0 425.4,180.3 424.3,179.2 423.2,180.6 422.1,181.0 421.0,180.9 419.9,181.4 418.8,181.9 417.7,182.4 416.6,182.5 415.5,181.5 414.4,182.0 413.3,181.7 412.2,180.5 411.1,179.1 410.0,180.0 408.9,179.9 407.8,180.1 406.7,179.9 405.6,180.0 404.5,180.2 403.4,180.0 402.3,180.5 401.2,180.1 400.1,179.7 399.0,179.6 397.9,179.9 396.8,180.7 395.7,180.3 394.6,179.5 393.5,180.2 392.4,182.0 391.3,181.0 390.2,182.4 389.1,182.2 388.0,183.4 386.9,184.6 385.8,184.0 384.7,183.8 383.6,183.5 382.5,183.7 381.4,184.9 380.3,183.7 379.2,184.0 378.1,184.6 377.0,185.9 375.9,187.5 374.8,187.6 373.7,187.7Z" fill="#9d989c"/>
<path d="M350.9,159.0 352.0,157.3 353.1,157.0 354.2,156.9 355.3,158.2 356.4,160.3 357.5,161.7 358.6,160.9 359.7,163.2 360.8,161.9 361.9,162.8 363.0,163.6 364.1,162.6 365.2,161.7 366.3,160.6 367.4,159.9 368.5,157.9 369.6,156.9 370.7,152.2 371.8,148.4 372.9,145.7 374.0,145.6 375.1,144.1 376.2,143.4 377.3,144.3 378.4,143.9 379.5,143.3 380.6,144.5 381.7,146.3 382.8,148.2 383.9,149.1 385.0,149.8 386.1,150.9 387.2,150.9 388.3,150.8 389.4,148.5 390.5,148.3 391.6,146.6 392.7,146.5 393.8,147.4 394.9,150.7 396.0,152.0 397.1,152.2 398.2,153.1 399.3,152.8 400.4,153.6 401.5,154.5 402.6,156.2 403.7,156.9 404.8,158.9 405.9,159.5 407.0,157.7 408.1,158.9 409.2,157.7 410.3,158.9 411.4,160.0 412.5,158.8 413.6,159.9 414.7,160.3 415.8,160.8 416.9,159.1 418.0,157.5 419.1,159.8 420.2,159.2 421.3,161.3 422.4,160.8 423.5,163.6 424.6,164.8 425.7,164.5 426.8,164.0 427.9,162.3 429.0,162.7 430.1,161.7 430.7,159.8 430.7,176.5 430.1,176.7 429.0,175.6 427.9,174.2 426.8,174.8 425.7,176.8 424.6,175.3 423.5,175.8 422.4,174.6 421.3,174.7 420.2,174.4 419.1,172.7 418.0,172.0 416.9,171.8 415.8,171.8 414.7,172.4 413.6,172.2 412.5,170.6 411.4,169.4 410.3,169.9 409.2,170.9 408.1,170.6 407.0,169.2 405.9,168.2 404.8,168.3 403.7,166.3 402.6,166.1 401.5,167.6 400.4,167.8 399.3,167.1 398.2,167.4 397.1,168.1 396.0,167.5 394.9,166.1 393.8,165.6 392.7,165.5 391.6,166.1 390.5,164.4 389.4,161.7 388.3,162.4 387.2,161.5 386.1,162.2 385.0,160.6 383.9,158.6 382.8,158.3 381.7,158.0 380.6,159.2 379.5,158.5 378.4,157.6 377.3,159.0 376.2,157.7 375.1,160.0 374.0,159.6 372.9,165.1 371.8,168.5 370.7,173.9 369.6,174.6 368.5,176.0 367.4,175.3 366.3,177.1 365.2,177.8 364.1,177.0 363.0,178.3 361.9,178.3 360.8,179.6 359.7,178.4 358.6,178.1 357.5,177.6 356.4,178.0 355.3,179.5 354.2,179.1 353.1,177.9 352.0,177.9 350.9,179.1Z" fill="#e44421" fill-opacity="0.45"/>
<line x1="373.7" y1="140.6" x2="373.7" y2="201.7" stroke="#f2505c" stroke-width="0.9"/>
<path d="M373.7,184.4 374.8,183.9 375.9,183.6 377.0,183.2 378.1,182.7 379.2,182.3 380.3,182.1 381.4,181.7 382.5,181.0 383.6,180.3 384.7,180.2 385.8,179.6 386.9,179.6 388.0,179.5 389.1,178.6 390.2,178.4 391.3,177.5 392.4,177.4 393.5,177.0 394.6,176.5 395.7,175.9 396.8,176.0 397.9,175.9 399.0,175.7 400.1,175.6 401.2,175.2 402.3,175.0 403.4,174.5 404.5,174.7 405.6,174.0 406.7,173.8 407.8,173.6 408.9,174.0 410.0,174.2 411.1,173.8 412.2,173.5 413.3,173.0 414.4,173.0 415.5,173.0 416.6,173.0 417.7,173.3 418.8,173.7 419.9,174.1 421.0,174.1 422.1,173.7 423.2,173.5 424.3,173.3 425.4,173.7 426.5,173.2 427.6,173.5 428.7,173.5 429.8,172.9 430.7,172.6" fill="none" stroke="#141414" stroke-width="1.05" stroke-linejoin="round"/>
<path d="M350.9,169.1 352.0,169.1 353.1,168.9 354.2,169.1 355.3,168.5 356.4,168.7 357.5,168.8 358.6,168.9 359.7,169.0 360.8,169.1 361.9,169.5 363.0,169.6 364.1,169.6 365.2,169.4 366.3,168.4 367.4,167.5 368.5,166.1 369.6,164.7 370.7,162.4 371.8,158.5 372.9,153.4 374.0,149.3 375.1,150.1 376.2,151.1 377.3,151.3 378.4,150.9 379.5,152.2 380.6,153.4 381.7,153.7 382.8,152.7 383.9,152.5 385.0,153.5 386.1,155.0 387.2,155.7 388.3,155.5 389.4,155.4 390.5,155.5 391.6,155.6 392.7,156.4 393.8,157.2 394.9,157.9 396.0,158.3 397.1,159.5 398.2,160.1 399.3,160.9 400.4,161.5 401.5,161.6 402.6,162.5 403.7,163.1 404.8,164.0 405.9,165.1 407.0,166.0 408.1,165.0 409.2,164.4 410.3,163.6 411.4,163.9 412.5,164.8 413.6,165.9 414.7,166.4 415.8,166.0 416.9,166.5 418.0,166.5 419.1,167.1 420.2,167.8 421.3,167.9 422.4,169.0 423.5,169.6 424.6,170.0 425.7,169.9 426.8,169.8 427.9,170.0 429.0,169.2 430.1,168.6 430.7,167.7" fill="none" stroke="#e6323c" stroke-width="1.05" stroke-linejoin="round"/>
<line x1="350.9" y1="140.2" x2="350.9" y2="202.2" stroke="#1e1e1e" stroke-width="1"/>
<line x1="430.7" y1="140.2" x2="430.7" y2="202.2" stroke="#1e1e1e" stroke-width="1"/>
<line x1="350.5" y1="201.7" x2="431.1" y2="201.7" stroke="#3c3c3c" stroke-width="1.3"/>
<line x1="349.1" y1="201.7" x2="350.9" y2="201.7" stroke="#1e1e1e" stroke-width="1"/>
<line x1="349.1" y1="171.15" x2="350.9" y2="171.15" stroke="#1e1e1e" stroke-width="1"/>
<line x1="349.1" y1="140.6" x2="350.9" y2="140.6" stroke="#1e1e1e" stroke-width="1"/>
<line x1="430.7" y1="201.7" x2="432.5" y2="201.7" stroke="#1e1e1e" stroke-width="1"/>
<line x1="430.7" y1="181.33" x2="432.5" y2="181.33" stroke="#1e1e1e" stroke-width="1"/>
<line x1="430.7" y1="160.97" x2="432.5" y2="160.97" stroke="#1e1e1e" stroke-width="1"/>
<line x1="430.7" y1="140.6" x2="432.5" y2="140.6" stroke="#1e1e1e" stroke-width="1"/>
<line x1="350.9" y1="201.7" x2="350.9" y2="203.5" stroke="#1e1e1e" stroke-width="1"/>
<line x1="373.7" y1="201.7" x2="373.7" y2="203.5" stroke="#1e1e1e" stroke-width="1"/>
<line x1="396.5" y1="201.7" x2="396.5" y2="203.5" stroke="#1e1e1e" stroke-width="1"/>
<line x1="419.3" y1="201.7" x2="419.3" y2="203.5" stroke="#1e1e1e" stroke-width="1"/>
<text x="348.3" y="205" font-size="9.5" fill="#1a1a1a" text-anchor="end">0.0</text>
<text x="348.3" y="174.45" font-size="9.5" fill="#1a1a1a" text-anchor="end">0.5</text>
<text x="348.3" y="143.9" font-size="9.5" fill="#1a1a1a" text-anchor="end">1.0</text>
<text x="433.7" y="205" font-size="9.5" fill="#1a1a1a" text-anchor="start">0</text>
<text x="433.7" y="184.63" font-size="9.5" fill="#1a1a1a" text-anchor="start">30</text>
<text x="433.7" y="164.27" font-size="9.5" fill="#1a1a1a" text-anchor="start">60</text>
<text x="433.7" y="143.9" font-size="9.5" fill="#1a1a1a" text-anchor="start">90</text>
<text x="350.1" y="212.9" font-size="9.5" fill="#1a1a1a" text-anchor="middle">-100</text>
<text x="373.7" y="212.9" font-size="9.5" fill="#1a1a1a" text-anchor="middle">0</text>
<text x="396.5" y="212.9" font-size="9.5" fill="#1a1a1a" text-anchor="middle">100</text>
<text x="419.3" y="212.9" font-size="9.5" fill="#1a1a1a" text-anchor="middle">200</text>
<text x="331.3" y="171.15" font-size="9.5" fill="#e8343f" text-anchor="middle" transform="rotate(-90 331.3 171.15)">Rel. fluo. intensity</text>
<text x="448.5" y="171.95" font-size="9.5" fill="#1a1a1a" text-anchor="middle" transform="rotate(90 448.5 171.95)">Fiber angles</text>
<path d="M603.3,93.1 604.4,93.4 605.5,93.4 606.6,92.6 607.7,91.9 608.8,89.9 609.9,88.6 611.0,86.2 612.1,84.5 613.2,83.3 614.3,82.0 615.4,81.0 616.5,81.1 617.6,79.3 618.7,77.7 619.8,75.9 620.9,73.9 622.0,71.9 623.1,71.2 624.2,69.8 625.3,69.8 626.4,69.6 627.5,67.7 628.6,67.1 629.7,67.6 630.8,66.0 631.9,65.6 633.0,64.3 634.1,64.9 635.2,63.6 636.3,62.3 637.4,62.1 638.5,61.4 639.6,60.9 640.7,61.8 641.8,62.2 642.9,61.3 644.0,61.5 645.1,61.5 646.2,61.1 647.3,60.2 648.4,59.7 649.5,58.4 650.6,57.4 651.7,57.6 652.8,57.2 653.9,57.0 655.0,58.2 656.1,56.9 657.2,56.3 658.3,55.7 659.4,57.1 660.5,57.3 660.6,57.4 660.6,82.8 660.5,83.7 659.4,83.8 658.3,84.4 657.2,83.7 656.1,82.8 655.0,83.4 653.9,82.5 652.8,83.1 651.7,83.3 650.6,84.6 649.5,84.0 648.4,84.5 647.3,85.3 646.2,85.6 645.1,86.1 644.0,85.9 642.9,84.9 641.8,86.3 640.7,84.6 639.6,84.5 638.5,84.5 637.4,86.4 636.3,86.1 635.2,85.9 634.1,85.9 633.0,86.3 631.9,86.9 630.8,86.0 629.7,87.8 628.6,87.4 627.5,86.9 626.4,87.0 625.3,88.1 624.2,89.5 623.1,88.5 622.0,90.0 620.9,91.3 619.8,93.8 618.7,93.3 617.6,93.5 616.5,94.0 615.4,94.8 614.3,96.6 613.2,96.3 612.1,97.8 611.0,99.6 609.9,99.2 608.8,98.5 607.7,99.7 606.6,101.5 605.5,100.3 604.4,101.7 603.3,101.6Z" fill="#9d989c"/>
<path d="M580.4,82.7 581.5,84.0 582.6,82.6 583.7,82.6 584.8,84.0 585.9,82.0 587.0,83.0 588.1,82.0 589.2,82.8 590.3,80.6 591.4,81.3 592.5,81.3 593.6,79.3 594.7,79.6 595.8,78.0 596.9,77.0 598.0,75.0 599.1,75.7 600.2,73.0 601.3,69.8 602.4,63.4 603.5,59.7 604.6,54.7 605.7,53.2 606.8,53.0 607.9,50.2 609.0,48.1 610.1,49.3 611.2,49.7 612.3,48.0 613.4,48.1 614.5,47.2 615.6,49.9 616.7,50.9 617.8,52.1 618.9,53.5 620.0,53.2 621.1,54.8 622.2,55.9 623.3,55.9 624.4,55.7 625.5,56.7 626.6,54.7 627.7,54.0 628.8,56.3 629.9,56.2 631.0,56.0 632.1,58.5 633.2,58.4 634.3,60.9 635.4,60.6 636.5,60.6 637.6,62.4 638.7,63.4 639.8,64.1 640.9,64.2 642.0,65.3 643.1,66.2 644.2,64.5 645.3,64.8 646.4,64.2 647.5,64.5 648.6,65.1 649.7,66.7 650.8,68.7 651.9,69.2 653.0,68.9 654.1,68.8 655.2,69.9 656.3,70.6 657.4,70.2 658.5,69.6 659.6,68.9 660.6,69.2 660.6,86.1 659.6,86.4 658.5,87.4 657.4,86.7 656.3,87.8 655.2,86.3 654.1,84.4 653.0,85.4 651.9,85.9 650.8,83.5 649.7,84.3 648.6,84.7 647.5,83.2 646.4,84.6 645.3,83.6 644.2,82.6 643.1,81.6 642.0,81.9 640.9,80.3 639.8,80.1 638.7,80.7 637.6,78.8 636.5,80.1 635.4,78.6 634.3,77.2 633.2,76.2 632.1,74.6 631.0,74.3 629.9,74.1 628.8,73.2 627.7,72.8 626.6,72.2 625.5,71.0 624.4,70.0 623.3,69.2 622.2,68.9 621.1,67.7 620.0,68.1 618.9,67.5 617.8,67.3 616.7,65.0 615.6,65.9 614.5,65.9 613.4,64.5 612.3,64.4 611.2,64.4 610.1,65.2 609.0,64.0 607.9,64.5 606.8,64.7 605.7,67.0 604.6,72.2 603.5,79.0 602.4,85.3 601.3,90.9 600.2,95.6 599.1,96.5 598.0,94.8 596.9,95.6 595.8,97.1 594.7,98.5 593.6,97.8 592.5,98.3 591.4,98.4 590.3,98.2 589.2,98.4 588.1,99.0 587.0,97.8 585.9,98.7 584.8,99.0 583.7,99.6 582.6,100.3 581.5,101.5 580.4,100.6Z" fill="#2f9640" fill-opacity="0.45"/>
<line x1="603.31" y1="46.6" x2="603.31" y2="108.1" stroke="#f2505c" stroke-width="0.9"/>
<path d="M603.3,97.5 604.4,96.9 605.5,96.5 606.6,95.9 607.7,95.4 608.8,94.2 609.9,93.6 611.0,92.6 612.1,92.1 613.2,91.4 614.3,90.3 615.4,89.1 616.5,87.8 617.6,87.3 618.7,85.9 619.8,85.1 620.9,84.0 622.0,82.8 623.1,81.1 624.2,80.5 625.3,80.0 626.4,79.6 627.5,79.4 628.6,79.0 629.7,78.3 630.8,77.5 631.9,76.5 633.0,76.1 634.1,75.4 635.2,74.8 636.3,74.8 637.4,74.4 638.5,74.2 639.6,74.5 640.7,74.0 641.8,74.4 642.9,74.1 644.0,73.9 645.1,72.9 646.2,72.6 647.3,71.7 648.4,71.4 649.5,71.5 650.6,71.3 651.7,70.9 652.8,71.5 653.9,71.2 655.0,71.5 656.1,71.2 657.2,71.5 658.3,71.8 659.4,71.9 660.5,71.9 660.6,72.1" fill="none" stroke="#141414" stroke-width="1.05" stroke-linejoin="round"/>
<path d="M580.4,91.7 581.5,91.5 582.6,91.5 583.7,91.0 584.8,91.2 585.9,91.0 587.0,90.6 588.1,90.2 589.2,89.7 590.3,89.7 591.4,88.8 592.5,88.9 593.6,88.2 594.7,87.7 595.8,87.5 596.9,87.3 598.0,87.0 599.1,86.1 600.2,84.8 601.3,83.0 602.4,76.8 603.5,67.3 604.6,59.8 605.7,61.0 606.8,59.9 607.9,58.2 609.0,57.4 610.1,57.0 611.2,56.5 612.3,56.0 613.4,56.5 614.5,56.8 615.6,57.0 616.7,58.0 617.8,57.9 618.9,58.4 620.0,59.8 621.1,60.5 622.2,61.6 623.3,62.1 624.4,62.7 625.5,64.1 626.6,64.4 627.7,65.4 628.8,66.4 629.9,66.7 631.0,67.7 632.1,68.8 633.2,68.9 634.3,69.7 635.4,70.7 636.5,70.9 637.6,72.1 638.7,72.7 639.8,72.6 640.9,73.4 642.0,74.0 643.1,74.2 644.2,74.6 645.3,74.3 646.4,74.9 647.5,75.0 648.6,75.1 649.7,76.0 650.8,76.8 651.9,77.1 653.0,77.4 654.1,77.6 655.2,77.7 656.3,78.0 657.4,78.3 658.5,78.3 659.6,78.7 660.6,78.7" fill="none" stroke="#2a9a50" stroke-width="1.05" stroke-linejoin="round"/>
<line x1="580.4" y1="46.2" x2="580.4" y2="108.6" stroke="#1e1e1e" stroke-width="1"/>
<line x1="660.6" y1="46.2" x2="660.6" y2="108.6" stroke="#1e1e1e" stroke-width="1"/>
<line x1="580" y1="108.1" x2="661" y2="108.1" stroke="#3c3c3c" stroke-width="1.3"/>
<line x1="578.6" y1="108.1" x2="580.4" y2="108.1" stroke="#1e1e1e" stroke-width="1"/>
<line x1="578.6" y1="77.35" x2="580.4" y2="77.35" stroke="#1e1e1e" stroke-width="1"/>
<line x1="578.6" y1="46.6" x2="580.4" y2="46.6" stroke="#1e1e1e" stroke-width="1"/>
<line x1="660.6" y1="108.1" x2="662.4" y2="108.1" stroke="#1e1e1e" stroke-width="1"/>
<line x1="660.6" y1="87.6" x2="662.4" y2="87.6" stroke="#1e1e1e" stroke-width="1"/>
<line x1="660.6" y1="67.1" x2="662.4" y2="67.1" stroke="#1e1e1e" stroke-width="1"/>
<line x1="660.6" y1="46.6" x2="662.4" y2="46.6" stroke="#1e1e1e" stroke-width="1"/>
<line x1="580.4" y1="108.1" x2="580.4" y2="109.9" stroke="#1e1e1e" stroke-width="1"/>
<line x1="603.31" y1="108.1" x2="603.31" y2="109.9" stroke="#1e1e1e" stroke-width="1"/>
<line x1="626.23" y1="108.1" x2="626.23" y2="109.9" stroke="#1e1e1e" stroke-width="1"/>
<line x1="649.14" y1="108.1" x2="649.14" y2="109.9" stroke="#1e1e1e" stroke-width="1"/>
<text x="577.8" y="111.4" font-size="9.5" fill="#1a1a1a" text-anchor="end">0.0</text>
<text x="577.8" y="80.65" font-size="9.5" fill="#1a1a1a" text-anchor="end">0.5</text>
<text x="577.8" y="49.9" font-size="9.5" fill="#1a1a1a" text-anchor="end">1.0</text>
<text x="663.6" y="111.4" font-size="9.5" fill="#1a1a1a" text-anchor="start">0</text>
<text x="663.6" y="90.9" font-size="9.5" fill="#1a1a1a" text-anchor="start">30</text>
<text x="663.6" y="70.4" font-size="9.5" fill="#1a1a1a" text-anchor="start">60</text>
<text x="663.6" y="49.9" font-size="9.5" fill="#1a1a1a" text-anchor="start">90</text>
<text x="579.6" y="119.3" font-size="9.5" fill="#1a1a1a" text-anchor="middle">-100</text>
<text x="603.31" y="119.3" font-size="9.5" fill="#1a1a1a" text-anchor="middle">0</text>
<text x="626.23" y="119.3" font-size="9.5" fill="#1a1a1a" text-anchor="middle">100</text>
<text x="649.14" y="119.3" font-size="9.5" fill="#1a1a1a" text-anchor="middle">200</text>
<text x="560.8" y="77.35" font-size="9.5" fill="#2f9e58" text-anchor="middle" transform="rotate(-90 560.8 77.35)">Rel. fluo. intensity</text>
<text x="678.4" y="78.15" font-size="9.5" fill="#1a1a1a" text-anchor="middle" transform="rotate(90 678.4 78.15)">Fiber angles</text>
<path d="M603.2,184.7 604.3,184.1 605.4,183.5 606.5,181.7 607.6,182.1 608.7,180.1 609.8,179.6 610.9,179.1 612.0,177.6 613.1,175.9 614.2,175.6 615.3,174.7 616.4,173.1 617.5,172.1 618.6,171.6 619.7,171.6 620.8,170.4 621.9,169.1 623.0,167.4 624.1,167.5 625.2,166.8 626.3,165.2 627.4,164.7 628.5,163.1 629.6,162.9 630.7,162.8 631.8,161.0 632.9,161.2 634.0,159.8 635.1,158.4 636.2,158.3 637.3,158.2 638.4,157.4 639.5,157.5 640.6,156.8 641.7,156.2 642.8,157.0 643.9,156.9 645.0,157.9 646.1,157.2 647.2,156.6 648.3,155.3 649.4,155.0 650.5,156.5 651.6,155.3 652.7,156.2 653.8,155.1 654.9,153.9 656.0,153.9 657.1,154.6 658.2,156.2 659.3,155.1 660.4,156.5 660.5,157.1 660.5,176.3 660.4,175.8 659.3,176.3 658.2,176.0 657.1,175.8 656.0,177.0 654.9,175.6 653.8,176.1 652.7,176.1 651.6,175.1 650.5,175.8 649.4,177.5 648.3,176.7 647.2,178.1 646.1,177.8 645.0,177.3 643.9,178.7 642.8,179.1 641.7,177.9 640.6,178.6 639.5,179.1 638.4,180.5 637.3,179.9 636.2,180.6 635.1,181.3 634.0,181.9 632.9,182.1 631.8,182.6 630.7,183.4 629.6,183.7 628.5,183.9 627.4,183.2 626.3,182.5 625.2,184.1 624.1,184.0 623.0,183.9 621.9,184.0 620.8,184.6 619.7,186.8 618.6,186.2 617.5,186.1 616.4,184.9 615.3,185.8 614.2,187.3 613.1,187.6 612.0,187.5 610.9,189.0 609.8,189.4 608.7,190.0 607.6,190.1 606.5,190.3 605.4,189.4 604.3,189.8 603.2,189.6Z" fill="#9d989c"/>
<path d="M580.3,172.6 581.4,171.1 582.5,170.2 583.6,170.1 584.7,169.4 585.8,170.4 586.9,168.7 588.0,169.9 589.1,170.6 590.2,167.6 591.3,167.8 592.4,167.4 593.5,168.2 594.6,167.7 595.7,164.9 596.8,162.0 597.9,159.2 599.0,159.9 600.1,160.9 601.2,158.1 602.3,150.4 603.4,145.1 604.5,143.9 605.6,144.4 606.7,146.4 607.8,148.0 608.9,149.2 610.0,148.1 611.1,149.4 612.2,150.2 613.3,150.4 614.4,150.0 615.5,151.5 616.6,150.8 617.7,151.6 618.8,151.8 619.9,151.8 621.0,153.2 622.1,151.6 623.2,150.6 624.3,151.9 625.4,151.5 626.5,152.3 627.6,150.8 628.7,150.3 629.8,151.0 630.9,151.7 632.0,151.5 633.1,151.4 634.2,152.7 635.3,153.4 636.4,152.8 637.5,155.8 638.6,154.9 639.7,154.8 640.8,157.2 641.9,157.8 643.0,158.2 644.1,159.8 645.2,160.3 646.3,160.4 647.4,158.6 648.5,157.7 649.6,156.8 650.7,157.0 651.8,157.4 652.9,157.6 654.0,158.2 655.1,160.4 656.2,158.9 657.3,160.0 658.4,160.4 659.5,159.8 660.5,160.4 660.5,178.5 659.5,178.5 658.4,178.3 657.3,178.0 656.2,177.0 655.1,177.1 654.0,176.9 652.9,177.1 651.8,178.5 650.7,176.7 649.6,177.3 648.5,176.3 647.4,177.8 646.3,176.7 645.2,176.2 644.1,175.8 643.0,174.6 641.9,175.4 640.8,173.8 639.7,174.7 638.6,174.5 637.5,172.8 636.4,172.4 635.3,173.2 634.2,170.8 633.1,172.0 632.0,170.1 630.9,170.4 629.8,171.7 628.7,170.9 627.6,170.5 626.5,169.5 625.4,170.7 624.3,169.7 623.2,167.4 622.1,168.0 621.0,167.6 619.9,168.0 618.8,169.2 617.7,167.7 616.6,168.9 615.5,167.8 614.4,168.1 613.3,169.0 612.2,169.4 611.1,168.6 610.0,167.7 608.9,167.1 607.8,166.5 606.7,165.7 605.6,163.6 604.5,162.0 603.4,172.3 602.3,177.7 601.2,180.5 600.1,181.8 599.0,183.3 597.9,184.3 596.8,185.2 595.7,186.4 594.6,185.8 593.5,185.6 592.4,186.1 591.3,185.0 590.2,185.6 589.1,187.0 588.0,185.6 586.9,186.2 585.8,186.9 584.7,186.9 583.6,187.9 582.5,188.1 581.4,190.3 580.3,189.8Z" fill="#e44421" fill-opacity="0.45"/>
<line x1="603.21" y1="140.6" x2="603.21" y2="201.7" stroke="#f2505c" stroke-width="0.9"/>
<path d="M603.2,187.6 604.3,187.1 605.4,186.5 606.5,185.8 607.6,185.2 608.7,184.2 609.8,184.1 610.9,183.1 612.0,182.1 613.1,181.3 614.2,181.2 615.3,180.2 616.4,179.3 617.5,178.9 618.6,177.6 619.7,177.6 620.8,177.0 621.9,176.7 623.0,175.5 624.1,175.1 625.2,174.8 626.3,174.3 627.4,174.0 628.5,173.2 629.6,172.6 630.7,172.2 631.8,171.7 632.9,171.0 634.0,171.0 635.1,170.5 636.2,170.3 637.3,170.1 638.4,169.8 639.5,169.2 640.6,168.8 641.7,168.4 642.8,168.4 643.9,168.3 645.0,167.9 646.1,167.9 647.2,167.9 648.3,167.3 649.4,167.3 650.5,167.3 651.6,167.2 652.7,167.3 653.8,167.3 654.9,166.6 656.0,166.8 657.1,166.5 658.2,166.6 659.3,166.5 660.4,166.3 660.5,166.1" fill="none" stroke="#141414" stroke-width="1.05" stroke-linejoin="round"/>
<path d="M580.3,180.8 581.4,180.8 582.5,181.1 583.6,180.9 584.7,180.8 585.8,180.0 586.9,179.0 588.0,178.8 589.1,178.1 590.2,177.8 591.3,177.0 592.4,176.4 593.5,174.9 594.6,174.1 595.7,172.6 596.8,171.7 597.9,171.0 599.0,170.2 600.1,169.0 601.2,167.8 602.3,163.2 603.4,157.7 604.5,151.8 605.6,153.7 606.7,156.0 607.8,156.6 608.9,157.2 610.0,158.0 611.1,158.2 612.2,159.4 613.3,160.3 614.4,159.3 615.5,158.8 616.6,159.0 617.7,159.7 618.8,160.5 619.9,161.1 621.0,160.8 622.1,160.9 623.2,161.0 624.3,160.8 625.4,161.0 626.5,161.6 627.6,162.1 628.7,162.9 629.8,163.8 630.9,164.1 632.0,163.8 633.1,164.0 634.2,163.7 635.3,163.3 636.4,164.0 637.5,164.5 638.6,164.7 639.7,165.7 640.8,166.6 641.9,166.7 643.0,166.7 644.1,166.6 645.2,166.7 646.3,167.0 647.4,167.0 648.5,167.6 649.6,167.6 650.7,168.2 651.8,168.5 652.9,169.2 654.0,169.1 655.1,169.7 656.2,169.6 657.3,170.0 658.4,170.5 659.5,169.8 660.5,169.9" fill="none" stroke="#e6323c" stroke-width="1.05" stroke-linejoin="round"/>
<line x1="580.3" y1="140.2" x2="580.3" y2="202.2" stroke="#1e1e1e" stroke-width="1"/>
<line x1="660.5" y1="140.2" x2="660.5" y2="202.2" stroke="#1e1e1e" stroke-width="1"/>
<line x1="579.9" y1="201.7" x2="660.9" y2="201.7" stroke="#3c3c3c" stroke-width="1.3"/>
<line x1="578.5" y1="201.7" x2="580.3" y2="201.7" stroke="#1e1e1e" stroke-width="1"/>
<line x1="578.5" y1="171.15" x2="580.3" y2="171.15" stroke="#1e1e1e" stroke-width="1"/>
<line x1="578.5" y1="140.6" x2="580.3" y2="140.6" stroke="#1e1e1e" stroke-width="1"/>
<line x1="660.5" y1="201.7" x2="662.3" y2="201.7" stroke="#1e1e1e" stroke-width="1"/>
<line x1="660.5" y1="181.33" x2="662.3" y2="181.33" stroke="#1e1e1e" stroke-width="1"/>
<line x1="660.5" y1="160.97" x2="662.3" y2="160.97" stroke="#1e1e1e" stroke-width="1"/>
<line x1="660.5" y1="140.6" x2="662.3" y2="140.6" stroke="#1e1e1e" stroke-width="1"/>
<line x1="580.3" y1="201.7" x2="580.3" y2="203.5" stroke="#1e1e1e" stroke-width="1"/>
<line x1="603.21" y1="201.7" x2="603.21" y2="203.5" stroke="#1e1e1e" stroke-width="1"/>
<line x1="626.13" y1="201.7" x2="626.13" y2="203.5" stroke="#1e1e1e" stroke-width="1"/>
<line x1="649.04" y1="201.7" x2="649.04" y2="203.5" stroke="#1e1e1e" stroke-width="1"/>
<text x="577.7" y="205" font-size="9.5" fill="#1a1a1a" text-anchor="end">0.0</text>
<text x="577.7" y="174.45" font-size="9.5" fill="#1a1a1a" text-anchor="end">0.5</text>
<text x="577.7" y="143.9" font-size="9.5" fill="#1a1a1a" text-anchor="end">1.0</text>
<text x="663.5" y="205" font-size="9.5" fill="#1a1a1a" text-anchor="start">0</text>
<text x="663.5" y="184.63" font-size="9.5" fill="#1a1a1a" text-anchor="start">30</text>
<text x="663.5" y="164.27" font-size="9.5" fill="#1a1a1a" text-anchor="start">60</text>
<text x="663.5" y="143.9" font-size="9.5" fill="#1a1a1a" text-anchor="start">90</text>
<text x="579.5" y="212.9" font-size="9.5" fill="#1a1a1a" text-anchor="middle">-100</text>
<text x="603.21" y="212.9" font-size="9.5" fill="#1a1a1a" text-anchor="middle">0</text>
<text x="626.13" y="212.9" font-size="9.5" fill="#1a1a1a" text-anchor="middle">100</text>
<text x="649.04" y="212.9" font-size="9.5" fill="#1a1a1a" text-anchor="middle">200</text>
<text x="560.7" y="171.15" font-size="9.5" fill="#e8343f" text-anchor="middle" transform="rotate(-90 560.7 171.15)">Rel. fluo. intensity</text>
<text x="678.3" y="171.95" font-size="9.5" fill="#1a1a1a" text-anchor="middle" transform="rotate(90 678.3 171.95)">Fiber angles</text>
<path d="M145.7,276.1 146.8,275.3 147.9,274.8 149.0,273.1 150.1,273.5 151.2,271.3 152.3,270.6 153.4,270.0 154.5,268.2 155.6,266.4 156.7,266.0 157.8,265.0 158.9,263.4 160.0,262.4 161.1,261.9 162.2,261.9 163.3,260.7 164.4,259.4 165.5,257.7 166.6,257.7 167.7,257.1 168.8,255.4 169.9,254.9 171.0,253.3 172.1,253.1 173.2,253.2 174.3,251.3 175.4,251.3 176.5,249.7 177.6,248.2 178.7,247.9 179.8,248.0 180.9,247.5 182.0,247.7 183.1,246.9 184.2,246.4 185.3,247.2 186.4,247.1 187.5,248.0 188.6,247.3 189.7,246.7 190.8,245.3 191.9,245.0 193.0,246.6 194.1,245.3 195.2,246.2 196.3,245.2 197.4,244.1 198.5,244.1 199.6,244.5 200.7,245.9 201.8,244.6 202.8,245.8 202.8,263.9 201.8,263.6 200.7,263.3 199.6,264.4 198.5,262.9 197.4,263.4 196.3,263.2 195.2,261.8 194.1,262.1 193.0,263.7 191.9,262.7 190.8,263.9 189.7,263.4 188.6,262.7 187.5,263.8 186.4,263.9 185.3,262.2 184.2,262.4 183.1,262.4 182.0,263.4 180.9,262.1 179.8,262.5 178.7,263.1 177.6,263.7 176.5,263.9 175.4,264.4 174.3,265.2 173.2,265.6 172.1,265.9 171.0,265.5 169.9,264.9 168.8,266.8 167.7,266.8 166.6,266.8 165.5,267.3 164.4,268.3 163.3,270.8 162.2,270.6 161.1,270.9 160.0,270.0 158.9,271.3 157.8,273.0 156.7,273.7 155.6,273.9 154.5,275.6 153.4,276.4 152.3,277.3 151.2,277.7 150.1,278.1 149.0,277.3 147.9,277.9 146.8,278.1 145.7,279.8Z" fill="#9d989c"/>
<path d="M122.9,271.4 124.0,272.1 125.1,272.1 126.2,271.4 127.3,271.3 128.4,272.0 129.5,271.7 130.6,273.0 131.7,271.6 132.8,273.1 133.9,273.9 135.0,269.0 136.1,267.0 137.2,264.5 138.3,261.2 139.4,255.6 140.5,249.8 141.6,249.7 142.7,250.0 143.8,249.5 144.9,240.4 146.0,231.0 147.1,228.6 148.2,231.2 149.3,233.4 150.4,235.2 151.5,235.0 152.6,234.3 153.7,234.0 154.8,232.0 155.9,232.3 157.0,232.7 158.1,232.9 159.2,232.5 160.3,234.1 161.4,233.6 162.5,234.5 163.6,234.8 164.7,234.6 165.8,235.8 166.9,234.5 168.0,233.7 169.1,235.4 170.2,235.2 171.3,236.1 172.4,234.0 173.5,232.8 174.6,232.9 175.7,232.9 176.8,232.3 177.9,232.4 179.0,233.0 180.1,233.0 181.2,231.6 182.3,233.8 183.4,232.2 184.5,231.7 185.6,233.4 186.7,233.4 187.8,233.2 188.9,234.5 190.0,234.9 191.1,235.0 192.2,233.2 193.3,232.5 194.4,231.7 195.5,232.1 196.6,232.5 197.7,232.5 198.8,233.0 199.9,235.6 201.0,234.6 202.1,236.3 202.8,237.0 202.8,250.1 202.1,249.9 201.0,249.0 199.9,249.2 198.8,249.1 197.7,249.4 196.6,250.8 195.5,249.0 194.4,249.6 193.3,248.6 192.2,250.2 191.1,249.1 190.0,249.0 188.9,249.2 187.8,248.4 186.7,249.7 185.6,248.7 184.5,250.1 183.4,250.5 182.3,249.4 181.2,249.6 180.1,250.8 179.0,249.0 177.9,250.6 176.8,249.5 175.7,250.6 174.6,252.9 173.5,252.9 172.4,253.1 171.3,252.7 170.2,254.3 169.1,253.6 168.0,251.6 166.9,252.5 165.8,252.4 164.7,252.8 163.6,253.5 162.5,251.4 161.4,251.9 160.3,250.4 159.2,250.7 158.1,251.7 157.0,252.3 155.9,251.6 154.8,251.4 153.7,252.5 152.6,253.5 151.5,254.4 150.4,251.3 149.3,248.4 148.2,246.9 147.1,248.2 146.0,252.6 144.9,263.0 143.8,269.5 142.7,273.7 141.6,277.9 140.5,280.4 139.4,281.3 138.3,282.4 137.2,283.6 136.1,282.0 135.0,282.0 133.9,283.0 132.8,281.1 131.7,281.0 130.6,281.2 129.5,280.8 128.4,281.3 127.3,281.0 126.2,283.0 125.1,282.1 124.0,281.6 122.9,280.8Z" fill="#4258bc" fill-opacity="0.45"/>
<line x1="145.73" y1="226" x2="145.73" y2="287.4" stroke="#f2505c" stroke-width="0.9"/>
<path d="M145.7,276.7 146.8,276.1 147.9,276.1 149.0,275.6 150.1,275.2 151.2,274.2 152.3,273.2 153.4,271.8 154.5,271.5 155.6,270.3 156.7,269.1 157.8,268.1 158.9,267.9 160.0,266.9 161.1,266.1 162.2,265.8 163.3,264.5 164.4,264.4 165.5,263.6 166.6,263.1 167.7,261.9 168.8,261.4 169.9,261.0 171.0,260.4 172.1,260.1 173.2,259.1 174.3,258.3 175.4,257.8 176.5,257.1 177.6,256.3 178.7,256.2 179.8,255.5 180.9,255.6 182.0,255.9 183.1,256.2 184.2,255.8 185.3,255.6 186.4,255.5 187.5,255.5 188.6,255.5 189.7,255.2 190.8,255.3 191.9,255.4 193.0,255.0 194.1,255.1 195.2,255.2 196.3,255.2 197.4,255.5 198.5,255.6 199.6,254.9 200.7,255.3 201.8,255.1 202.8,255.2" fill="none" stroke="#141414" stroke-width="1.05" stroke-linejoin="round"/>
<path d="M122.9,277.0 124.0,277.0 125.1,277.0 126.2,277.4 127.3,277.2 128.4,277.3 129.5,277.0 130.6,277.3 131.7,276.9 132.8,276.3 133.9,276.4 135.0,275.7 136.1,275.6 137.2,274.7 138.3,272.9 139.4,270.1 140.5,267.7 141.6,264.1 142.7,261.0 143.8,256.1 144.9,249.0 146.0,238.6 147.1,236.3 148.2,238.6 149.3,241.0 150.4,243.8 151.5,245.4 152.6,244.5 153.7,243.2 154.8,242.5 155.9,242.1 157.0,241.0 158.1,241.1 159.2,241.8 160.3,241.9 161.4,242.4 162.5,242.9 163.6,243.7 164.7,244.6 165.8,244.7 166.9,243.6 168.0,243.0 169.1,242.6 170.2,242.6 171.3,243.1 172.4,243.7 173.5,244.1 174.6,244.4 175.7,244.7 176.8,244.4 177.9,244.1 179.0,244.3 180.1,244.3 181.2,244.4 182.3,245.0 183.4,245.1 184.5,245.1 185.6,245.9 186.7,246.7 187.8,247.3 188.9,247.6 190.0,247.3 191.1,247.1 192.2,247.1 193.3,246.7 194.4,247.1 195.5,247.4 196.6,248.2 197.7,248.7 198.8,249.5 199.9,249.3 201.0,249.5 202.1,249.4 202.8,249.9" fill="none" stroke="#3a6cc8" stroke-width="1.05" stroke-linejoin="round"/>
<line x1="122.9" y1="225.6" x2="122.9" y2="287.9" stroke="#1e1e1e" stroke-width="1"/>
<line x1="202.8" y1="225.6" x2="202.8" y2="287.9" stroke="#1e1e1e" stroke-width="1"/>
<line x1="122.5" y1="287.4" x2="203.2" y2="287.4" stroke="#3c3c3c" stroke-width="1.3"/>
<line x1="121.1" y1="287.4" x2="122.9" y2="287.4" stroke="#1e1e1e" stroke-width="1"/>
<line x1="121.1" y1="256.7" x2="122.9" y2="256.7" stroke="#1e1e1e" stroke-width="1"/>
<line x1="121.1" y1="226" x2="122.9" y2="226" stroke="#1e1e1e" stroke-width="1"/>
<line x1="202.8" y1="287.4" x2="204.6" y2="287.4" stroke="#1e1e1e" stroke-width="1"/>
<line x1="202.8" y1="266.93" x2="204.6" y2="266.93" stroke="#1e1e1e" stroke-width="1"/>
<line x1="202.8" y1="246.47" x2="204.6" y2="246.47" stroke="#1e1e1e" stroke-width="1"/>
<line x1="202.8" y1="226" x2="204.6" y2="226" stroke="#1e1e1e" stroke-width="1"/>
<line x1="122.9" y1="287.4" x2="122.9" y2="289.2" stroke="#1e1e1e" stroke-width="1"/>
<line x1="145.73" y1="287.4" x2="145.73" y2="289.2" stroke="#1e1e1e" stroke-width="1"/>
<line x1="168.56" y1="287.4" x2="168.56" y2="289.2" stroke="#1e1e1e" stroke-width="1"/>
<line x1="191.39" y1="287.4" x2="191.39" y2="289.2" stroke="#1e1e1e" stroke-width="1"/>
<text x="120.3" y="290.7" font-size="9.5" fill="#1a1a1a" text-anchor="end">0.0</text>
<text x="120.3" y="260" font-size="9.5" fill="#1a1a1a" text-anchor="end">0.5</text>
<text x="120.3" y="229.3" font-size="9.5" fill="#1a1a1a" text-anchor="end">1.0</text>
<text x="205.8" y="290.7" font-size="9.5" fill="#1a1a1a" text-anchor="start">0</text>
<text x="205.8" y="270.23" font-size="9.5" fill="#1a1a1a" text-anchor="start">30</text>
<text x="205.8" y="249.77" font-size="9.5" fill="#1a1a1a" text-anchor="start">60</text>
<text x="205.8" y="229.3" font-size="9.5" fill="#1a1a1a" text-anchor="start">90</text>
<text x="122.1" y="298.6" font-size="9.5" fill="#1a1a1a" text-anchor="middle">-100</text>
<text x="145.73" y="298.6" font-size="9.5" fill="#1a1a1a" text-anchor="middle">0</text>
<text x="168.56" y="298.6" font-size="9.5" fill="#1a1a1a" text-anchor="middle">100</text>
<text x="191.39" y="298.6" font-size="9.5" fill="#1a1a1a" text-anchor="middle">200</text>
<text x="103.3" y="256.7" font-size="9.5" fill="#4a70c4" text-anchor="middle" transform="rotate(-90 103.3 256.7)">Rel. fluo. intensity</text>
<text x="220.6" y="257.5" font-size="9.5" fill="#1a1a1a" text-anchor="middle" transform="rotate(90 220.6 257.5)">Fiber angles</text>
<text x="166.9" y="309" font-size="9.5" fill="#1a1a1a" text-anchor="middle">Distance from tumour (µm)</text>
<path d="M373.7,267.9 374.8,267.4 375.9,265.4 377.0,265.5 378.1,263.4 379.2,263.4 380.3,263.9 381.4,262.9 382.5,262.9 383.6,263.0 384.7,262.2 385.8,261.1 386.9,261.0 388.0,259.2 389.1,259.4 390.2,258.3 391.3,258.5 392.4,258.8 393.5,257.4 394.6,255.7 395.7,254.9 396.8,253.6 397.9,253.8 399.0,253.3 400.1,252.8 401.2,251.7 402.3,250.0 403.4,250.3 404.5,249.1 405.6,250.1 406.7,250.1 407.8,248.7 408.9,247.7 410.0,247.0 411.1,248.0 412.2,247.4 413.3,247.6 414.4,246.2 415.5,245.9 416.6,245.3 417.7,244.7 418.8,243.7 419.9,244.4 421.0,243.3 422.1,244.3 423.2,243.4 424.3,244.8 425.4,243.9 426.5,243.0 427.6,243.4 428.7,244.0 429.8,243.1 430.6,242.7 430.6,260.7 429.8,260.0 428.7,258.8 427.6,259.7 426.5,260.0 425.4,258.8 424.3,260.1 423.2,259.2 422.1,259.4 421.0,260.0 419.9,260.7 418.8,261.0 417.7,260.1 416.6,260.2 415.5,262.1 414.4,261.9 413.3,261.7 412.2,261.3 411.1,259.8 410.0,259.5 408.9,260.6 407.8,262.7 406.7,262.6 405.6,262.1 404.5,262.5 403.4,262.2 402.3,264.3 401.2,263.9 400.1,264.6 399.0,265.8 397.9,265.5 396.8,264.9 395.7,266.8 394.6,266.2 393.5,267.0 392.4,269.1 391.3,270.6 390.2,270.5 389.1,269.9 388.0,269.6 386.9,269.8 385.8,270.5 384.7,272.8 383.6,273.6 382.5,273.6 381.4,274.7 380.3,274.0 379.2,275.3 378.1,275.6 377.0,276.8 375.9,276.1 374.8,276.7 373.7,276.4Z" fill="#9d989c"/>
<path d="M350.9,257.7 352.0,259.8 353.1,263.1 354.2,260.7 355.3,260.2 356.4,256.9 357.5,257.9 358.6,258.6 359.7,258.6 360.8,257.5 361.9,256.4 363.0,258.2 364.1,257.7 365.2,258.9 366.3,258.4 367.4,256.3 368.5,255.8 369.6,253.1 370.7,250.2 371.8,247.5 372.9,241.0 374.0,230.5 375.1,228.0 376.2,227.0 377.3,227.8 378.4,230.0 379.5,230.9 380.6,232.2 381.7,234.5 382.8,235.3 383.9,234.5 385.0,234.3 386.1,233.4 387.2,234.6 388.3,235.6 389.4,235.6 390.5,234.1 391.6,236.4 392.7,235.0 393.8,235.6 394.9,236.6 396.0,238.0 397.1,237.7 398.2,237.7 399.3,238.9 400.4,238.0 401.5,235.5 402.6,233.9 403.7,233.6 404.8,234.1 405.9,234.4 407.0,237.7 408.1,237.8 409.2,238.6 410.3,241.2 411.4,242.3 412.5,243.3 413.6,243.2 414.7,244.4 415.8,246.3 416.9,245.9 418.0,247.2 419.1,247.3 420.2,249.0 421.3,249.7 422.4,250.2 423.5,251.1 424.6,249.9 425.7,249.8 426.8,250.7 427.9,250.6 429.0,250.4 430.1,249.7 430.6,251.8 430.6,267.8 430.1,269.0 429.0,268.3 427.9,266.8 426.8,266.9 425.7,266.8 424.6,265.4 423.5,265.9 422.4,265.0 421.3,265.5 420.2,265.2 419.1,264.7 418.0,263.3 416.9,262.8 415.8,261.6 414.7,261.0 413.6,260.2 412.5,261.2 411.4,260.9 410.3,260.1 409.2,258.3 408.1,257.4 407.0,258.9 405.9,257.4 404.8,257.0 403.7,258.6 402.6,257.6 401.5,256.8 400.4,257.7 399.3,256.5 398.2,254.1 397.1,254.5 396.0,254.7 394.9,254.1 393.8,252.8 392.7,252.3 391.6,253.0 390.5,252.1 389.4,251.4 388.3,251.6 387.2,250.8 386.1,252.3 385.0,252.4 383.9,251.8 382.8,251.9 381.7,250.5 380.6,249.7 379.5,248.0 378.4,246.6 377.3,246.4 376.2,246.2 375.1,246.2 374.0,251.4 372.9,259.3 371.8,266.2 370.7,272.6 369.6,276.9 368.5,280.1 367.4,283.3 366.3,285.7 365.2,286.4 364.1,285.6 363.0,286.5 361.9,287.4 360.8,286.3 359.7,287.0 358.6,287.4 357.5,285.5 356.4,285.7 355.3,286.7 354.2,286.0 353.1,285.8 352.0,286.8 350.9,287.4Z" fill="#4258bc" fill-opacity="0.45"/>
<line x1="373.67" y1="226" x2="373.67" y2="287.4" stroke="#f2505c" stroke-width="0.9"/>
<path d="M373.7,272.8 374.8,272.0 375.9,270.9 377.0,270.2 378.1,269.4 379.2,268.7 380.3,268.3 381.4,267.9 382.5,267.3 383.6,266.7 384.7,266.0 385.8,265.1 386.9,264.4 388.0,263.6 389.1,263.1 390.2,262.9 391.3,262.3 392.4,261.7 393.5,261.5 394.6,260.5 395.7,260.5 396.8,259.8 397.9,259.6 399.0,258.7 400.1,258.2 401.2,257.0 402.3,256.3 403.4,255.8 404.5,255.3 405.6,255.5 406.7,255.2 407.8,254.9 408.9,254.4 410.0,253.8 411.1,253.7 412.2,253.6 413.3,252.9 414.4,253.0 415.5,252.7 416.6,252.9 417.7,252.6 418.8,252.5 419.9,252.8 421.0,252.2 422.1,251.7 423.2,251.8 424.3,252.1 425.4,251.3 426.5,251.4 427.6,251.0 428.7,251.3 429.8,250.8 430.6,250.3" fill="none" stroke="#141414" stroke-width="1.05" stroke-linejoin="round"/>
<path d="M350.9,274.7 352.0,275.0 353.1,274.8 354.2,275.6 355.3,275.0 356.4,274.8 357.5,274.0 358.6,273.2 359.7,273.6 360.8,273.3 361.9,273.1 363.0,273.2 364.1,273.5 365.2,273.5 366.3,271.9 367.4,270.0 368.5,267.8 369.6,264.7 370.7,261.6 371.8,256.0 372.9,248.6 374.0,240.5 375.1,233.2 376.2,234.3 377.3,235.6 378.4,238.6 379.5,241.4 380.6,242.1 381.7,242.9 382.8,243.2 383.9,243.1 385.0,243.2 386.1,243.1 387.2,243.1 388.3,243.4 389.4,243.4 390.5,244.2 391.6,245.0 392.7,245.6 393.8,246.0 394.9,245.9 396.0,246.2 397.1,246.5 398.2,246.9 399.3,248.0 400.4,248.4 401.5,248.2 402.6,247.7 403.7,247.3 404.8,247.3 405.9,247.6 407.0,248.2 408.1,249.3 409.2,249.7 410.3,250.2 411.4,250.9 412.5,251.9 413.6,252.3 414.7,252.4 415.8,253.7 416.9,254.3 418.0,255.2 419.1,256.4 420.2,256.5 421.3,256.9 422.4,256.9 423.5,257.8 424.6,258.2 425.7,258.3 426.8,258.1 427.9,258.6 429.0,258.4 430.1,258.8 430.6,259.1" fill="none" stroke="#3a6cc8" stroke-width="1.05" stroke-linejoin="round"/>
<line x1="350.9" y1="225.6" x2="350.9" y2="287.9" stroke="#1e1e1e" stroke-width="1"/>
<line x1="430.6" y1="225.6" x2="430.6" y2="287.9" stroke="#1e1e1e" stroke-width="1"/>
<line x1="350.5" y1="287.4" x2="431" y2="287.4" stroke="#3c3c3c" stroke-width="1.3"/>
<line x1="349.1" y1="287.4" x2="350.9" y2="287.4" stroke="#1e1e1e" stroke-width="1"/>
<line x1="349.1" y1="256.7" x2="350.9" y2="256.7" stroke="#1e1e1e" stroke-width="1"/>
<line x1="349.1" y1="226" x2="350.9" y2="226" stroke="#1e1e1e" stroke-width="1"/>
<line x1="430.6" y1="287.4" x2="432.4" y2="287.4" stroke="#1e1e1e" stroke-width="1"/>
<line x1="430.6" y1="266.93" x2="432.4" y2="266.93" stroke="#1e1e1e" stroke-width="1"/>
<line x1="430.6" y1="246.47" x2="432.4" y2="246.47" stroke="#1e1e1e" stroke-width="1"/>
<line x1="430.6" y1="226" x2="432.4" y2="226" stroke="#1e1e1e" stroke-width="1"/>
<line x1="350.9" y1="287.4" x2="350.9" y2="289.2" stroke="#1e1e1e" stroke-width="1"/>
<line x1="373.67" y1="287.4" x2="373.67" y2="289.2" stroke="#1e1e1e" stroke-width="1"/>
<line x1="396.44" y1="287.4" x2="396.44" y2="289.2" stroke="#1e1e1e" stroke-width="1"/>
<line x1="419.21" y1="287.4" x2="419.21" y2="289.2" stroke="#1e1e1e" stroke-width="1"/>
<text x="348.3" y="290.7" font-size="9.5" fill="#1a1a1a" text-anchor="end">0.0</text>
<text x="348.3" y="260" font-size="9.5" fill="#1a1a1a" text-anchor="end">0.5</text>
<text x="348.3" y="229.3" font-size="9.5" fill="#1a1a1a" text-anchor="end">1.0</text>
<text x="433.6" y="290.7" font-size="9.5" fill="#1a1a1a" text-anchor="start">0</text>
<text x="433.6" y="270.23" font-size="9.5" fill="#1a1a1a" text-anchor="start">30</text>
<text x="433.6" y="249.77" font-size="9.5" fill="#1a1a1a" text-anchor="start">60</text>
<text x="433.6" y="229.3" font-size="9.5" fill="#1a1a1a" text-anchor="start">90</text>
<text x="350.1" y="298.6" font-size="9.5" fill="#1a1a1a" text-anchor="middle">-100</text>
<text x="373.67" y="298.6" font-size="9.5" fill="#1a1a1a" text-anchor="middle">0</text>
<text x="396.44" y="298.6" font-size="9.5" fill="#1a1a1a" text-anchor="middle">100</text>
<text x="419.21" y="298.6" font-size="9.5" fill="#1a1a1a" text-anchor="middle">200</text>
<text x="331.3" y="256.7" font-size="9.5" fill="#4a70c4" text-anchor="middle" transform="rotate(-90 331.3 256.7)">Rel. fluo. intensity</text>
<text x="448.4" y="257.5" font-size="9.5" fill="#1a1a1a" text-anchor="middle" transform="rotate(90 448.4 257.5)">Fiber angles</text>
<text x="394.9" y="309" font-size="9.5" fill="#1a1a1a" text-anchor="middle">Distance from tumour (µm)</text>
<path d="M603.2,273.1 604.3,272.7 605.4,273.1 606.5,272.5 607.6,270.9 608.7,269.7 609.8,269.0 610.9,267.3 612.0,266.7 613.1,264.8 614.2,264.0 615.3,264.2 616.4,262.6 617.5,261.5 618.6,260.3 619.7,260.2 620.8,258.4 621.9,258.4 623.0,257.6 624.1,256.9 625.2,256.1 626.3,255.4 627.4,253.2 628.5,251.9 629.6,252.4 630.7,250.8 631.8,250.9 632.9,249.1 634.0,248.4 635.1,247.3 636.2,246.0 637.3,245.2 638.4,244.8 639.5,245.3 640.6,245.8 641.7,244.6 642.8,243.9 643.9,242.5 645.0,241.7 646.1,242.8 647.2,242.6 648.3,241.6 649.4,241.6 650.5,240.1 651.6,241.7 652.7,241.4 653.8,240.1 654.9,239.2 656.0,239.9 657.1,240.8 658.2,240.4 659.3,240.9 660.4,240.2 660.5,240.7 660.5,263.7 660.4,265.1 659.3,263.2 658.2,264.2 657.1,262.9 656.0,262.6 654.9,262.1 653.8,261.8 652.7,263.0 651.6,262.0 650.5,263.0 649.4,262.5 648.3,261.5 647.2,262.0 646.1,260.4 645.0,260.8 643.9,259.8 642.8,258.5 641.7,259.2 640.6,260.0 639.5,262.2 638.4,261.8 637.3,260.9 636.2,260.8 635.1,262.5 634.0,262.9 632.9,261.9 631.8,263.2 630.7,261.8 629.6,262.8 628.5,264.2 627.4,264.2 626.3,265.4 625.2,265.2 624.1,266.9 623.0,267.7 621.9,269.3 620.8,270.3 619.7,270.0 618.6,270.7 617.5,272.4 616.4,271.3 615.3,272.7 614.2,274.1 613.1,274.6 612.0,276.5 610.9,277.4 609.8,276.6 608.7,277.1 607.6,277.6 606.5,278.1 605.4,278.2 604.3,279.4 603.2,280.4Z" fill="#9d989c"/>
<path d="M580.3,274.4 581.4,273.9 582.5,273.7 583.6,273.9 584.7,274.6 585.8,274.1 586.9,273.0 588.0,273.2 589.1,271.8 590.2,271.3 591.3,272.2 592.4,271.4 593.5,268.1 594.6,266.8 595.7,266.6 596.8,264.1 597.9,261.9 599.0,259.4 600.1,255.6 601.2,248.9 602.3,243.8 603.4,231.8 604.5,228.4 605.6,229.6 606.7,231.1 607.8,231.9 608.9,232.7 610.0,232.6 611.1,230.5 612.2,230.3 613.3,231.1 614.4,230.4 615.5,231.4 616.6,231.4 617.7,232.3 618.8,231.8 619.9,230.2 621.0,228.4 622.1,229.6 623.2,229.0 624.3,229.6 625.4,230.5 626.5,230.8 627.6,232.5 628.7,232.8 629.8,232.6 630.9,230.9 632.0,231.8 633.1,231.1 634.2,230.6 635.3,230.6 636.4,231.7 637.5,233.0 638.6,233.2 639.7,234.1 640.8,235.0 641.9,235.5 643.0,236.9 644.1,236.1 645.2,236.6 646.3,238.0 647.4,238.0 648.5,239.0 649.6,238.4 650.7,238.1 651.8,236.8 652.9,238.7 654.0,238.4 655.1,237.7 656.2,239.1 657.3,239.1 658.4,238.9 659.5,240.2 660.5,239.9 660.5,259.9 659.5,258.9 658.4,257.3 657.3,258.1 656.2,259.2 655.1,258.2 654.0,257.2 652.9,258.8 651.8,257.9 650.7,257.3 649.6,255.0 648.5,254.2 647.4,254.7 646.3,254.1 645.2,254.3 644.1,255.2 643.0,255.0 641.9,254.2 640.8,254.6 639.7,253.1 638.6,251.0 637.5,250.8 636.4,251.4 635.3,251.7 634.2,249.9 633.1,248.8 632.0,249.1 630.9,250.1 629.8,250.9 628.7,250.0 627.6,248.3 626.5,249.0 625.4,249.5 624.3,249.6 623.2,249.2 622.1,250.5 621.0,250.2 619.9,250.6 618.8,251.4 617.7,251.5 616.6,250.6 615.5,248.7 614.4,248.5 613.3,250.0 612.2,247.4 611.1,248.1 610.0,248.0 608.9,248.3 607.8,248.3 606.7,251.4 605.6,254.8 604.5,256.1 603.4,258.2 602.3,269.8 601.2,278.4 600.1,281.8 599.0,283.2 597.9,282.6 596.8,283.1 595.7,283.2 594.6,282.5 593.5,282.8 592.4,284.2 591.3,283.4 590.2,285.0 589.1,284.5 588.0,285.5 586.9,284.8 585.8,283.8 584.7,284.5 583.6,285.4 582.5,283.0 581.4,283.4 580.3,284.1Z" fill="#4258bc" fill-opacity="0.45"/>
<line x1="603.21" y1="226" x2="603.21" y2="287.4" stroke="#f2505c" stroke-width="0.9"/>
<path d="M603.2,275.9 604.3,276.0 605.4,275.3 606.5,275.4 607.6,274.4 608.7,273.7 609.8,273.2 610.9,272.3 612.0,271.3 613.1,271.0 614.2,269.7 615.3,268.3 616.4,267.4 617.5,266.0 618.6,265.5 619.7,265.0 620.8,264.2 621.9,262.7 623.0,262.1 624.1,261.5 625.2,261.1 626.3,260.3 627.4,259.7 628.5,258.8 629.6,258.6 630.7,258.1 631.8,257.7 632.9,256.4 634.0,255.6 635.1,255.5 636.2,255.0 637.3,254.6 638.4,253.9 639.5,253.5 640.6,253.0 641.7,252.7 642.8,252.9 643.9,252.4 645.0,252.6 646.1,252.2 647.2,252.2 648.3,251.8 649.4,251.7 650.5,251.4 651.6,251.6 652.7,251.4 653.8,252.0 654.9,252.2 656.0,252.0 657.1,251.9 658.2,252.2 659.3,251.9 660.4,251.8 660.5,251.5" fill="none" stroke="#141414" stroke-width="1.05" stroke-linejoin="round"/>
<path d="M580.3,279.4 581.4,279.6 582.5,280.2 583.6,279.9 584.7,279.6 585.8,279.7 586.9,279.0 588.0,278.9 589.1,278.7 590.2,278.1 591.3,278.1 592.4,277.0 593.5,275.8 594.6,275.4 595.7,274.0 596.8,273.3 597.9,271.8 599.0,270.3 600.1,267.4 601.2,263.0 602.3,254.8 603.4,243.1 604.5,242.2 605.6,241.7 606.7,241.2 607.8,240.8 608.9,240.8 610.0,240.2 611.1,239.9 612.2,239.5 613.3,239.3 614.4,238.7 615.5,238.8 616.6,239.6 617.7,239.8 618.8,240.3 619.9,240.5 621.0,239.5 622.1,238.7 623.2,237.8 624.3,237.5 625.4,238.5 626.5,239.4 627.6,239.8 628.7,239.9 629.8,240.3 630.9,241.1 632.0,241.6 633.1,241.9 634.2,242.6 635.3,242.6 636.4,243.0 637.5,243.0 638.6,243.3 639.7,243.9 640.8,244.5 641.9,244.6 643.0,244.4 644.1,244.8 645.2,245.7 646.3,246.4 647.4,246.9 648.5,247.1 649.6,247.9 650.7,247.9 651.8,248.5 652.9,249.0 654.0,249.0 655.1,248.8 656.2,248.3 657.3,248.5 658.4,247.9 659.5,247.6 660.5,247.5" fill="none" stroke="#3a6cc8" stroke-width="1.05" stroke-linejoin="round"/>
<line x1="580.3" y1="225.6" x2="580.3" y2="287.9" stroke="#1e1e1e" stroke-width="1"/>
<line x1="660.5" y1="225.6" x2="660.5" y2="287.9" stroke="#1e1e1e" stroke-width="1"/>
<line x1="579.9" y1="287.4" x2="660.9" y2="287.4" stroke="#3c3c3c" stroke-width="1.3"/>
<line x1="578.5" y1="287.4" x2="580.3" y2="287.4" stroke="#1e1e1e" stroke-width="1"/>
<line x1="578.5" y1="256.7" x2="580.3" y2="256.7" stroke="#1e1e1e" stroke-width="1"/>
<line x1="578.5" y1="226" x2="580.3" y2="226" stroke="#1e1e1e" stroke-width="1"/>
<line x1="660.5" y1="287.4" x2="662.3" y2="287.4" stroke="#1e1e1e" stroke-width="1"/>
<line x1="660.5" y1="266.93" x2="662.3" y2="266.93" stroke="#1e1e1e" stroke-width="1"/>
<line x1="660.5" y1="246.47" x2="662.3" y2="246.47" stroke="#1e1e1e" stroke-width="1"/>
<line x1="660.5" y1="226" x2="662.3" y2="226" stroke="#1e1e1e" stroke-width="1"/>
<line x1="580.3" y1="287.4" x2="580.3" y2="289.2" stroke="#1e1e1e" stroke-width="1"/>
<line x1="603.21" y1="287.4" x2="603.21" y2="289.2" stroke="#1e1e1e" stroke-width="1"/>
<line x1="626.13" y1="287.4" x2="626.13" y2="289.2" stroke="#1e1e1e" stroke-width="1"/>
<line x1="649.04" y1="287.4" x2="649.04" y2="289.2" stroke="#1e1e1e" stroke-width="1"/>
<text x="577.7" y="290.7" font-size="9.5" fill="#1a1a1a" text-anchor="end">0.0</text>
<text x="577.7" y="260" font-size="9.5" fill="#1a1a1a" text-anchor="end">0.5</text>
<text x="577.7" y="229.3" font-size="9.5" fill="#1a1a1a" text-anchor="end">1.0</text>
<text x="663.5" y="290.7" font-size="9.5" fill="#1a1a1a" text-anchor="start">0</text>
<text x="663.5" y="270.23" font-size="9.5" fill="#1a1a1a" text-anchor="start">30</text>
<text x="663.5" y="249.77" font-size="9.5" fill="#1a1a1a" text-anchor="start">60</text>
<text x="663.5" y="229.3" font-size="9.5" fill="#1a1a1a" text-anchor="start">90</text>
<text x="579.5" y="298.6" font-size="9.5" fill="#1a1a1a" text-anchor="middle">-100</text>
<text x="603.21" y="298.6" font-size="9.5" fill="#1a1a1a" text-anchor="middle">0</text>
<text x="626.13" y="298.6" font-size="9.5" fill="#1a1a1a" text-anchor="middle">100</text>
<text x="649.04" y="298.6" font-size="9.5" fill="#1a1a1a" text-anchor="middle">200</text>
<text x="560.7" y="256.7" font-size="9.5" fill="#4a70c4" text-anchor="middle" transform="rotate(-90 560.7 256.7)">Rel. fluo. intensity</text>
<text x="678.3" y="257.5" font-size="9.5" fill="#1a1a1a" text-anchor="middle" transform="rotate(90 678.3 257.5)">Fiber angles</text>
<text x="624.3" y="309" font-size="9.5" fill="#1a1a1a" text-anchor="middle">Distance from tumour (µm)</text>
<path d="M196.3,399.9 197.4,398.8 198.5,400.0 199.6,399.0 200.7,399.3 201.8,400.4 202.9,400.1 204.0,399.5 205.1,398.0 206.2,397.4 207.3,399.0 208.4,398.5 209.5,397.2 210.6,396.9 211.7,397.7 212.8,398.0 213.9,397.3 215.0,397.6 216.1,395.9 217.2,394.0 218.3,392.9 219.4,392.2 220.5,391.6 221.6,389.3 222.7,388.5 223.8,388.4 224.9,387.3 226.0,384.8 227.1,384.4 228.2,383.0 229.3,383.1 230.4,380.9 231.5,381.2 232.6,381.2 233.7,380.2 234.8,377.6 235.9,377.2 237.0,376.3 238.1,376.2 239.2,376.4 240.3,376.0 241.4,376.0 242.5,374.1 243.6,373.3 244.7,372.8 245.8,373.2 246.9,372.9 248.0,374.5 249.1,373.7 250.2,374.9 251.3,374.4 252.4,374.7 253.3,374.6 253.3,405.5 252.4,404.6 251.3,404.8 250.2,404.2 249.1,404.3 248.0,405.6 246.9,404.5 245.8,405.7 244.7,405.7 243.6,405.4 242.5,405.5 241.4,405.7 240.3,405.8 239.2,405.7 238.1,404.7 237.0,405.3 235.9,405.2 234.8,404.4 233.7,403.5 232.6,404.9 231.5,405.0 230.4,405.2 229.3,405.0 228.2,405.1 227.1,405.3 226.0,405.1 224.9,405.6 223.8,405.1 222.7,404.6 221.6,404.4 220.5,404.8 219.4,405.5 218.3,405.1 217.2,404.3 216.1,404.9 215.0,406.5 213.9,405.4 212.8,406.7 211.7,406.3 210.6,407.2 209.5,408.3 208.4,407.7 207.3,407.4 206.2,407.1 205.1,407.7 204.0,409.3 202.9,408.4 201.8,409.1 200.7,409.4 199.6,410.0 198.5,410.9 197.4,410.3 196.3,410.0Z" fill="#9d989c"/>
<path d="M173.5,385.3 174.6,384.1 175.7,384.2 176.8,384.6 177.9,385.0 179.0,386.1 180.1,386.8 181.2,385.4 182.3,387.2 183.4,385.9 184.5,385.3 185.6,384.3 186.7,381.6 187.8,380.7 188.9,380.4 190.0,380.5 191.1,379.4 192.2,379.7 193.3,374.9 194.4,370.5 195.5,368.1 196.6,367.3 197.7,364.5 198.8,361.6 199.9,359.7 201.0,360.2 202.1,360.5 203.2,361.9 204.3,363.4 205.4,364.8 206.5,365.6 207.6,366.5 208.7,367.9 209.8,366.4 210.9,365.5 212.0,362.2 213.1,361.1 214.2,361.3 215.3,363.0 216.4,364.4 217.5,368.1 218.6,369.2 219.7,369.3 220.8,370.9 221.9,371.2 223.0,372.0 224.1,371.0 225.2,370.5 226.3,369.1 227.4,369.5 228.5,371.3 229.6,371.1 230.7,373.8 231.8,374.1 232.9,375.9 234.0,376.8 235.1,375.3 236.2,376.1 237.3,376.7 238.4,378.4 239.5,377.8 240.6,377.3 241.7,379.2 242.8,378.0 243.9,379.6 245.0,378.4 246.1,380.6 247.2,381.2 248.3,381.4 249.4,381.5 250.5,380.3 251.6,381.3 252.7,380.8 253.3,379.2 253.3,396.2 252.7,396.2 251.6,394.7 250.5,393.0 249.4,393.2 248.3,395.0 247.2,393.3 246.1,393.9 245.0,393.0 243.9,393.4 242.8,393.5 241.7,392.2 240.6,391.9 239.5,392.0 238.4,392.2 237.3,393.0 236.2,393.0 235.1,391.6 234.0,390.7 232.9,391.5 231.8,392.9 230.7,392.8 229.6,391.6 228.5,390.9 227.4,390.9 226.3,388.9 225.2,388.8 224.1,390.3 223.0,390.7 221.9,390.1 220.8,390.4 219.7,391.2 218.6,390.7 217.5,389.0 216.4,388.1 215.3,387.8 214.2,388.7 213.1,387.1 212.0,384.7 210.9,385.6 209.8,384.9 208.7,385.7 207.6,384.2 206.5,382.1 205.4,381.9 204.3,381.5 203.2,382.3 202.1,380.9 201.0,379.5 199.9,381.9 198.8,382.5 197.7,386.4 196.6,388.5 195.5,393.9 194.4,395.2 193.3,398.4 192.2,398.8 191.1,399.9 190.0,398.8 188.9,400.7 187.8,401.7 186.7,400.8 185.6,402.2 184.5,402.1 183.4,403.5 182.3,402.5 181.2,402.3 180.1,402.0 179.0,402.7 177.9,404.6 176.8,404.6 175.7,403.7 174.6,404.1 173.5,405.6Z" fill="#e44421" fill-opacity="0.45"/>
<line x1="196.3" y1="358.4" x2="196.3" y2="420.2" stroke="#f2505c" stroke-width="0.9"/>
<path d="M196.3,403.5 197.4,403.4 198.5,404.0 199.6,404.4 200.7,404.7 201.8,404.4 202.9,404.0 204.0,403.4 205.1,402.5 206.2,402.0 207.3,402.2 208.4,401.9 209.5,402.2 210.6,402.6 211.7,402.1 212.8,402.4 213.9,401.9 215.0,402.2 216.1,401.5 217.2,400.7 218.3,399.8 219.4,399.3 220.5,398.4 221.6,397.3 222.7,396.4 223.8,395.3 224.9,394.9 226.0,394.1 227.1,394.0 228.2,393.0 229.3,392.5 230.4,392.0 231.5,392.2 232.6,392.1 233.7,391.4 234.8,390.9 235.9,390.3 237.0,390.1 238.1,389.8 239.2,389.7 240.3,389.8 241.4,390.1 242.5,390.6 243.6,390.6 244.7,390.0 245.8,389.8 246.9,389.6 248.0,389.9 249.1,389.3 250.2,389.6 251.3,389.5 252.4,388.8 253.3,388.5" fill="none" stroke="#141414" stroke-width="1.05" stroke-linejoin="round"/>
<path d="M173.5,394.5 174.6,394.7 175.7,394.7 176.8,395.1 177.9,394.6 179.0,394.6 180.1,394.0 181.2,393.5 182.3,393.0 183.4,392.5 184.5,392.4 185.6,391.9 186.7,391.4 187.8,391.6 188.9,391.0 190.0,390.3 191.1,389.2 192.2,388.6 193.3,385.8 194.4,383.2 195.5,379.9 196.6,375.2 197.7,372.4 198.8,370.1 199.9,370.1 201.0,371.1 202.1,372.4 203.2,372.8 204.3,373.3 205.4,373.8 206.5,374.7 207.6,374.7 208.7,375.1 209.8,375.0 210.9,374.2 212.0,373.3 213.1,372.8 214.2,374.1 215.3,375.4 216.4,376.5 217.5,377.5 218.6,378.0 219.7,379.3 220.8,380.3 221.9,380.9 223.0,380.9 224.1,380.5 225.2,380.6 226.3,380.3 227.4,380.2 228.5,381.2 229.6,382.2 230.7,383.0 231.8,383.9 232.9,383.9 234.0,384.0 235.1,384.0 236.2,384.1 237.3,384.3 238.4,384.1 239.5,384.8 240.6,384.6 241.7,384.5 242.8,384.1 243.9,382.9 245.0,384.0 246.1,384.5 247.2,385.1 248.3,385.6 249.4,385.7 250.5,386.3 251.6,386.4 252.7,386.8 253.3,386.6" fill="none" stroke="#e6323c" stroke-width="1.05" stroke-linejoin="round"/>
<line x1="173.5" y1="358" x2="173.5" y2="420.7" stroke="#1e1e1e" stroke-width="1"/>
<line x1="253.3" y1="358" x2="253.3" y2="420.7" stroke="#1e1e1e" stroke-width="1"/>
<line x1="173.1" y1="420.2" x2="253.7" y2="420.2" stroke="#3c3c3c" stroke-width="1.3"/>
<line x1="171.7" y1="420.2" x2="173.5" y2="420.2" stroke="#1e1e1e" stroke-width="1"/>
<line x1="171.7" y1="389.3" x2="173.5" y2="389.3" stroke="#1e1e1e" stroke-width="1"/>
<line x1="171.7" y1="358.4" x2="173.5" y2="358.4" stroke="#1e1e1e" stroke-width="1"/>
<line x1="253.3" y1="420.2" x2="255.1" y2="420.2" stroke="#1e1e1e" stroke-width="1"/>
<line x1="253.3" y1="399.6" x2="255.1" y2="399.6" stroke="#1e1e1e" stroke-width="1"/>
<line x1="253.3" y1="379" x2="255.1" y2="379" stroke="#1e1e1e" stroke-width="1"/>
<line x1="253.3" y1="358.4" x2="255.1" y2="358.4" stroke="#1e1e1e" stroke-width="1"/>
<line x1="253.3" y1="409.9" x2="254.5" y2="409.9" stroke="#1e1e1e" stroke-width="0.8"/>
<line x1="253.3" y1="389.3" x2="254.5" y2="389.3" stroke="#1e1e1e" stroke-width="0.8"/>
<line x1="253.3" y1="368.7" x2="254.5" y2="368.7" stroke="#1e1e1e" stroke-width="0.8"/>
<line x1="173.5" y1="420.2" x2="173.5" y2="422" stroke="#1e1e1e" stroke-width="1"/>
<line x1="196.3" y1="420.2" x2="196.3" y2="422" stroke="#1e1e1e" stroke-width="1"/>
<line x1="219.1" y1="420.2" x2="219.1" y2="422" stroke="#1e1e1e" stroke-width="1"/>
<line x1="241.9" y1="420.2" x2="241.9" y2="422" stroke="#1e1e1e" stroke-width="1"/>
<text x="170.9" y="423.5" font-size="9.5" fill="#1a1a1a" text-anchor="end">0.0</text>
<text x="170.9" y="392.6" font-size="9.5" fill="#1a1a1a" text-anchor="end">0.5</text>
<text x="170.9" y="361.7" font-size="9.5" fill="#1a1a1a" text-anchor="end">1.0</text>
<text x="256.3" y="423.5" font-size="9.5" fill="#1a1a1a" text-anchor="start">0</text>
<text x="256.3" y="402.9" font-size="9.5" fill="#1a1a1a" text-anchor="start">30</text>
<text x="256.3" y="382.3" font-size="9.5" fill="#1a1a1a" text-anchor="start">60</text>
<text x="256.3" y="361.7" font-size="9.5" fill="#1a1a1a" text-anchor="start">90</text>
<text x="172.7" y="431.4" font-size="9.5" fill="#1a1a1a" text-anchor="middle">-100</text>
<text x="196.3" y="431.4" font-size="9.5" fill="#1a1a1a" text-anchor="middle">0</text>
<text x="219.1" y="431.4" font-size="9.5" fill="#1a1a1a" text-anchor="middle">100</text>
<text x="241.9" y="431.4" font-size="9.5" fill="#1a1a1a" text-anchor="middle">200</text>
<text x="153.9" y="389.3" font-size="9.5" fill="#e8343f" text-anchor="middle" transform="rotate(-90 153.9 389.3)">Rel. fluo. intensity</text>
<text x="271.1" y="390.1" font-size="9.5" fill="#1a1a1a" text-anchor="middle" transform="rotate(90 271.1 390.1)">Fiber angles</text>
<path d="M196.4,494.9 197.5,495.5 198.6,494.7 199.7,496.0 200.8,495.1 201.9,495.9 203.0,496.7 204.1,496.0 205.2,496.2 206.3,496.6 207.4,496.0 208.5,495.2 209.6,495.3 210.7,493.5 211.8,494.0 212.9,493.0 214.0,493.3 215.1,493.9 216.2,493.1 217.3,491.8 218.4,491.3 219.5,490.4 220.6,491.0 221.7,490.9 222.8,490.6 223.9,489.2 225.0,487.0 226.1,486.8 227.2,485.1 228.3,485.6 229.4,485.0 230.5,483.4 231.6,482.2 232.7,481.3 233.8,482.2 234.9,481.3 236.0,481.3 237.1,480.0 238.2,479.6 239.3,478.9 240.4,478.2 241.5,477.1 242.6,477.8 243.7,476.5 244.8,477.1 245.9,475.6 247.0,476.5 248.1,475.0 249.2,473.9 250.3,474.4 251.4,475.1 252.5,474.2 253.5,473.9 253.5,497.3 252.5,496.7 251.4,495.7 250.3,496.8 249.2,497.3 248.1,496.3 247.0,497.7 245.9,497.0 244.8,497.2 243.7,497.5 242.6,498.1 241.5,498.2 240.4,497.1 239.3,497.0 238.2,498.8 237.1,498.5 236.0,498.4 234.9,498.0 233.8,496.4 232.7,496.1 231.6,497.2 230.5,499.4 229.4,499.2 228.3,498.4 227.2,498.5 226.1,497.9 225.0,499.8 223.9,499.2 222.8,499.4 221.7,500.2 220.6,499.3 219.5,498.1 218.4,499.5 217.3,498.4 216.2,498.5 215.1,500.3 214.0,501.6 212.9,501.2 211.8,500.5 210.7,500.0 209.6,500.1 208.5,500.6 207.4,502.5 206.3,502.9 205.2,502.5 204.1,503.2 203.0,502.2 201.9,503.2 200.8,503.1 199.7,503.9 198.6,502.7 197.5,502.8 196.4,502.1Z" fill="#9d989c"/>
<path d="M173.5,482.3 174.6,481.8 175.7,482.7 176.8,481.2 177.9,482.7 179.0,481.9 180.1,484.3 181.2,485.2 182.3,483.6 183.4,480.9 184.5,478.2 185.6,478.2 186.7,476.1 187.8,476.0 188.9,475.8 190.0,474.9 191.1,475.3 192.2,471.2 193.3,468.8 194.4,465.3 195.5,456.2 196.6,452.6 197.7,454.3 198.8,452.6 199.9,452.7 201.0,454.9 202.1,455.7 203.2,457.0 204.3,458.9 205.4,459.0 206.5,457.4 207.6,456.6 208.7,455.4 209.8,456.2 210.9,456.4 212.0,457.2 213.1,456.7 214.2,460.2 215.3,458.9 216.4,458.8 217.5,459.3 218.6,460.2 219.7,459.4 220.8,458.5 221.9,458.8 223.0,457.5 224.1,455.6 225.2,455.3 226.3,456.2 227.4,457.8 228.5,457.4 229.6,459.3 230.7,458.1 231.8,457.6 232.9,458.9 234.0,458.8 235.1,459.0 236.2,459.0 237.3,460.4 238.4,462.7 239.5,462.7 240.6,463.6 241.7,463.1 242.8,464.3 243.9,465.0 245.0,465.4 246.1,466.3 247.2,464.9 248.3,464.8 249.4,465.6 250.5,465.4 251.6,465.2 252.7,464.4 253.5,466.5 253.5,475.4 252.7,476.9 251.6,476.6 250.5,475.5 249.4,476.0 248.3,476.4 247.2,475.4 246.1,476.4 245.0,476.1 243.9,477.4 242.8,477.8 241.7,478.0 240.6,477.3 239.5,477.9 238.4,478.1 237.3,478.9 236.2,479.6 235.1,482.0 234.0,482.5 232.9,481.9 231.8,480.4 230.7,479.7 229.6,481.4 228.5,480.1 227.4,480.1 226.3,481.9 225.2,481.2 224.1,480.6 223.0,481.7 221.9,480.8 220.8,478.6 219.7,479.3 218.6,479.7 217.5,479.3 216.4,478.1 215.3,477.7 214.2,478.3 213.1,477.2 212.0,476.4 210.9,476.4 209.8,475.5 208.7,476.6 207.6,477.0 206.5,476.8 205.4,477.2 204.3,476.2 203.2,475.6 202.1,474.3 201.0,473.3 199.9,473.4 198.8,473.5 197.7,473.6 196.6,474.8 195.5,476.6 194.4,481.8 193.3,486.2 192.2,490.1 191.1,492.9 190.0,496.6 188.9,497.7 187.8,497.4 186.7,496.7 185.6,497.8 184.5,499.2 183.4,498.6 182.3,500.1 181.2,501.5 180.1,499.9 179.0,500.7 177.9,502.2 176.8,501.5 175.7,500.4 174.6,500.4 173.5,501.3Z" fill="#4258bc" fill-opacity="0.45"/>
<line x1="196.36" y1="449.6" x2="196.36" y2="511.4" stroke="#f2505c" stroke-width="0.9"/>
<path d="M196.4,498.5 197.5,498.7 198.6,498.5 199.7,498.9 200.8,499.2 201.9,499.1 203.0,499.1 204.1,499.1 205.2,498.8 206.3,498.6 207.4,498.3 208.5,497.7 209.6,497.2 210.7,496.6 211.8,496.3 212.9,496.4 214.0,496.0 215.1,495.7 216.2,495.6 217.3,494.6 218.4,494.7 219.5,494.1 220.6,494.2 221.7,493.8 222.8,493.7 223.9,492.9 225.0,492.5 226.1,492.1 227.2,491.5 228.3,491.7 229.4,491.4 230.5,491.0 231.6,490.5 232.7,489.9 233.8,489.7 234.9,489.7 236.0,489.1 237.1,489.2 238.2,488.9 239.3,488.9 240.4,488.4 241.5,488.1 242.6,488.0 243.7,487.1 244.8,486.3 245.9,486.1 247.0,486.4 248.1,485.7 249.2,485.8 250.3,485.4 251.4,485.7 252.5,485.3 253.5,484.8" fill="none" stroke="#141414" stroke-width="1.05" stroke-linejoin="round"/>
<path d="M173.5,493.4 174.6,493.6 175.7,493.4 176.8,494.2 177.9,494.4 179.0,494.5 180.1,493.4 181.2,492.1 182.3,491.6 183.4,490.2 184.5,489.0 185.6,487.6 186.7,487.6 187.8,488.2 188.9,488.9 190.0,486.6 191.1,483.8 192.2,481.4 193.3,477.5 194.4,472.7 195.5,466.2 196.6,458.4 197.7,459.5 198.8,460.6 199.9,462.0 201.0,463.8 202.1,466.0 203.2,468.2 204.3,470.0 205.4,468.5 206.5,467.1 207.6,466.4 208.7,465.9 209.8,467.2 210.9,467.9 212.0,468.3 213.1,469.6 214.2,470.1 215.3,470.0 216.4,469.6 217.5,468.8 218.6,468.5 219.7,468.4 220.8,468.3 221.9,468.7 223.0,468.6 224.1,468.4 225.2,468.5 226.3,468.6 227.4,469.3 228.5,469.6 229.6,470.0 230.7,470.8 231.8,471.0 232.9,470.5 234.0,470.0 235.1,469.7 236.2,469.1 237.3,470.0 238.4,471.8 239.5,472.7 240.6,472.7 241.7,472.5 242.8,471.4 243.9,471.3 245.0,471.5 246.1,472.4 247.2,473.0 248.3,473.3 249.4,473.3 250.5,474.0 251.6,473.8 252.7,474.5 253.5,474.9" fill="none" stroke="#3a6cc8" stroke-width="1.05" stroke-linejoin="round"/>
<line x1="173.5" y1="449.2" x2="173.5" y2="511.9" stroke="#1e1e1e" stroke-width="1"/>
<line x1="253.5" y1="449.2" x2="253.5" y2="511.9" stroke="#1e1e1e" stroke-width="1"/>
<line x1="173.1" y1="511.4" x2="253.9" y2="511.4" stroke="#3c3c3c" stroke-width="1.3"/>
<line x1="171.7" y1="511.4" x2="173.5" y2="511.4" stroke="#1e1e1e" stroke-width="1"/>
<line x1="171.7" y1="480.5" x2="173.5" y2="480.5" stroke="#1e1e1e" stroke-width="1"/>
<line x1="171.7" y1="449.6" x2="173.5" y2="449.6" stroke="#1e1e1e" stroke-width="1"/>
<line x1="253.5" y1="511.4" x2="255.3" y2="511.4" stroke="#1e1e1e" stroke-width="1"/>
<line x1="253.5" y1="490.8" x2="255.3" y2="490.8" stroke="#1e1e1e" stroke-width="1"/>
<line x1="253.5" y1="470.2" x2="255.3" y2="470.2" stroke="#1e1e1e" stroke-width="1"/>
<line x1="253.5" y1="449.6" x2="255.3" y2="449.6" stroke="#1e1e1e" stroke-width="1"/>
<line x1="253.5" y1="501.1" x2="254.7" y2="501.1" stroke="#1e1e1e" stroke-width="0.8"/>
<line x1="253.5" y1="480.5" x2="254.7" y2="480.5" stroke="#1e1e1e" stroke-width="0.8"/>
<line x1="253.5" y1="459.9" x2="254.7" y2="459.9" stroke="#1e1e1e" stroke-width="0.8"/>
<line x1="173.5" y1="511.4" x2="173.5" y2="513.2" stroke="#1e1e1e" stroke-width="1"/>
<line x1="196.36" y1="511.4" x2="196.36" y2="513.2" stroke="#1e1e1e" stroke-width="1"/>
<line x1="219.21" y1="511.4" x2="219.21" y2="513.2" stroke="#1e1e1e" stroke-width="1"/>
<line x1="242.07" y1="511.4" x2="242.07" y2="513.2" stroke="#1e1e1e" stroke-width="1"/>
<text x="170.9" y="514.7" font-size="9.5" fill="#1a1a1a" text-anchor="end">0.0</text>
<text x="170.9" y="483.8" font-size="9.5" fill="#1a1a1a" text-anchor="end">0.5</text>
<text x="170.9" y="452.9" font-size="9.5" fill="#1a1a1a" text-anchor="end">1.0</text>
<text x="256.5" y="514.7" font-size="9.5" fill="#1a1a1a" text-anchor="start">0</text>
<text x="256.5" y="494.1" font-size="9.5" fill="#1a1a1a" text-anchor="start">30</text>
<text x="256.5" y="473.5" font-size="9.5" fill="#1a1a1a" text-anchor="start">60</text>
<text x="256.5" y="452.9" font-size="9.5" fill="#1a1a1a" text-anchor="start">90</text>
<text x="172.7" y="522.6" font-size="9.5" fill="#1a1a1a" text-anchor="middle">-100</text>
<text x="196.36" y="522.6" font-size="9.5" fill="#1a1a1a" text-anchor="middle">0</text>
<text x="219.21" y="522.6" font-size="9.5" fill="#1a1a1a" text-anchor="middle">100</text>
<text x="242.07" y="522.6" font-size="9.5" fill="#1a1a1a" text-anchor="middle">200</text>
<text x="153.9" y="480.5" font-size="9.5" fill="#4a70c4" text-anchor="middle" transform="rotate(-90 153.9 480.5)">Rel. fluo. intensity</text>
<text x="271.3" y="481.3" font-size="9.5" fill="#1a1a1a" text-anchor="middle" transform="rotate(90 271.3 481.3)">Fiber angles</text>
<text x="217.5" y="533" font-size="9.5" fill="#1a1a1a" text-anchor="middle">Distance from tumour (µm)</text>
<path d="M461.2,395.6 462.3,395.5 463.4,395.5 464.5,394.2 465.6,395.3 466.7,393.7 467.8,393.3 468.9,393.0 470.0,391.6 471.1,390.9 472.2,391.5 473.3,391.4 474.4,389.5 475.5,387.6 476.6,386.3 477.7,386.0 478.8,386.8 479.9,387.5 481.0,387.8 482.1,389.0 483.2,389.3 484.3,388.6 485.4,389.0 486.5,388.0 487.6,387.8 488.7,387.7 489.8,385.6 490.9,386.4 492.0,385.8 493.1,385.2 494.2,385.9 495.3,386.6 496.4,386.4 497.5,386.9 498.6,386.5 499.7,386.2 500.8,387.1 501.9,387.0 503.0,388.0 504.1,387.2 505.2,386.7 506.3,385.4 507.4,385.6 508.5,387.7 509.6,387.0 510.7,388.2 511.8,387.0 512.9,384.8 514.0,383.8 515.1,383.2 516.2,384.1 517.3,382.2 518.4,382.9 518.5,383.5 518.5,392.2 518.4,391.7 517.3,393.0 516.2,393.6 515.1,394.2 514.0,396.1 512.9,395.5 511.8,396.7 510.7,397.2 509.6,396.5 508.5,397.6 507.4,399.6 506.3,399.1 505.2,400.7 504.1,400.6 503.0,400.3 501.9,401.7 500.8,402.1 499.7,400.9 498.6,401.6 497.5,402.1 496.4,403.0 495.3,401.7 494.2,401.8 493.1,401.9 492.0,402.1 490.9,402.1 489.8,402.5 488.7,403.2 487.6,403.4 486.5,403.4 485.4,402.6 484.3,401.8 483.2,403.3 482.1,403.1 481.0,402.8 479.9,402.3 478.8,402.2 477.7,403.8 476.6,402.6 475.5,402.3 474.4,401.1 473.3,402.0 472.2,403.5 471.1,403.7 470.0,403.5 468.9,404.8 467.8,405.0 466.7,405.4 465.6,405.5 464.5,405.9 463.4,405.1 462.3,405.6 461.2,405.6Z" fill="#9d989c"/>
<path d="M438.3,372.8 439.4,371.9 440.5,371.7 441.6,372.3 442.7,372.2 443.8,373.8 444.9,372.4 446.0,373.9 447.1,374.8 448.2,372.1 449.3,372.3 450.4,371.8 451.5,372.5 452.6,371.8 453.7,369.2 454.8,370.0 455.9,371.1 457.0,371.4 458.1,371.1 459.2,369.9 460.3,366.5 461.4,364.2 462.5,362.0 463.6,360.4 464.7,361.2 465.8,361.6 466.9,362.5 468.0,361.5 469.1,362.9 470.2,363.6 471.3,363.8 472.4,363.4 473.5,365.0 474.6,364.5 475.7,365.5 476.8,365.9 477.9,366.2 479.0,367.9 480.1,367.0 481.2,366.0 482.3,367.5 483.4,367.1 484.5,367.7 485.6,366.0 486.7,365.2 487.8,365.5 488.9,365.7 490.0,365.1 491.1,364.6 492.2,364.6 493.3,365.0 494.4,364.6 495.5,367.7 496.6,366.5 497.7,365.2 498.8,366.3 499.9,365.6 501.0,365.8 502.1,367.6 503.2,368.6 504.3,369.2 505.4,367.7 506.5,367.2 507.6,366.1 508.7,366.2 509.8,366.2 510.9,365.9 512.0,366.3 513.1,368.5 514.2,367.0 515.3,368.1 516.4,368.6 517.5,368.0 518.5,368.7 518.5,386.3 517.5,386.0 516.4,385.5 515.3,384.9 514.2,383.5 513.1,383.9 512.0,384.2 510.9,384.9 509.8,386.7 508.7,385.3 507.6,386.3 506.5,385.0 505.4,386.1 504.3,384.6 503.2,383.9 502.1,382.8 501.0,380.1 499.9,379.7 498.8,380.0 497.7,382.8 496.6,383.5 495.5,382.7 494.4,383.1 493.3,384.7 492.2,383.0 491.1,384.7 490.0,383.2 488.9,383.9 487.8,385.7 486.7,385.5 485.6,385.6 484.5,385.0 483.4,386.6 482.3,386.0 481.2,384.1 480.1,385.0 479.0,385.1 477.9,385.8 476.8,386.7 475.7,384.1 474.6,384.3 473.5,382.3 472.4,381.7 471.3,381.8 470.2,381.4 469.1,380.0 468.0,378.9 466.9,378.4 465.8,377.6 464.7,376.2 463.6,373.8 462.5,376.1 461.4,382.9 460.3,387.2 459.2,389.8 458.1,390.5 457.0,390.9 455.9,391.5 454.8,392.2 453.7,392.9 452.6,392.6 451.5,392.7 450.4,393.4 449.3,392.7 448.2,393.4 447.1,394.7 446.0,393.1 444.9,393.5 443.8,394.1 442.7,394.0 441.6,394.9 440.5,394.9 439.4,397.0 438.3,396.4Z" fill="#e44421" fill-opacity="0.45"/>
<line x1="461.21" y1="358.4" x2="461.21" y2="420.2" stroke="#f2505c" stroke-width="0.9"/>
<path d="M461.2,401.1 462.3,401.1 463.4,401.3 464.5,401.4 465.6,400.8 466.7,399.2 467.8,398.8 468.9,397.4 470.0,396.0 471.1,396.3 472.2,397.3 473.3,397.5 474.4,397.1 475.5,396.8 476.6,395.6 477.7,395.5 478.8,394.8 479.9,395.5 481.0,395.2 482.1,395.8 483.2,396.5 484.3,396.3 485.4,395.9 486.5,394.9 487.6,394.0 488.7,393.4 489.8,393.1 490.9,392.6 492.0,392.9 493.1,392.9 494.2,393.7 495.3,394.4 496.4,395.1 497.5,395.1 498.6,394.5 499.7,393.9 500.8,393.6 501.9,393.3 503.0,392.8 504.1,392.7 505.2,392.6 506.3,391.9 507.4,392.3 508.5,392.7 509.6,393.0 510.7,393.5 511.8,393.5 512.9,392.1 514.0,391.7 515.1,390.8 516.2,390.2 517.3,389.5 518.4,388.8 518.5,388.6" fill="none" stroke="#141414" stroke-width="1.05" stroke-linejoin="round"/>
<path d="M438.3,384.8 439.4,384.2 440.5,384.0 441.6,383.7 442.7,384.1 443.8,383.7 444.9,383.3 446.0,383.4 447.1,383.1 448.2,383.2 449.3,382.8 450.4,382.6 451.5,381.6 452.6,381.2 453.7,380.4 454.8,380.0 455.9,379.9 457.0,379.4 458.1,378.5 459.2,377.1 460.3,375.4 461.4,371.2 462.5,367.4 463.6,367.2 464.7,367.6 465.8,367.5 466.9,368.0 468.0,368.8 469.1,368.9 470.2,369.9 471.3,371.2 472.4,371.9 473.5,373.0 474.6,374.1 475.7,375.4 476.8,376.4 477.9,376.8 479.0,376.4 480.1,376.6 481.2,377.2 482.3,377.5 483.4,377.2 484.5,376.7 485.6,376.1 486.7,375.9 487.8,376.1 488.9,375.8 490.0,375.5 491.1,375.3 492.2,374.7 493.3,374.2 494.4,375.2 495.5,375.6 496.6,375.4 497.7,374.6 498.8,373.7 499.9,372.6 501.0,373.7 502.1,375.2 503.2,376.7 504.3,377.8 505.4,377.4 506.5,377.7 507.6,377.3 508.7,377.5 509.8,377.3 510.9,377.5 512.0,377.2 513.1,377.9 514.2,378.1 515.3,379.1 516.4,380.1 517.5,380.1 518.5,380.8" fill="none" stroke="#e6323c" stroke-width="1.05" stroke-linejoin="round"/>
<line x1="438.3" y1="358" x2="438.3" y2="420.7" stroke="#1e1e1e" stroke-width="1"/>
<line x1="518.5" y1="358" x2="518.5" y2="420.7" stroke="#1e1e1e" stroke-width="1"/>
<line x1="437.9" y1="420.2" x2="518.9" y2="420.2" stroke="#3c3c3c" stroke-width="1.3"/>
<line x1="436.5" y1="420.2" x2="438.3" y2="420.2" stroke="#1e1e1e" stroke-width="1"/>
<line x1="436.5" y1="389.3" x2="438.3" y2="389.3" stroke="#1e1e1e" stroke-width="1"/>
<line x1="436.5" y1="358.4" x2="438.3" y2="358.4" stroke="#1e1e1e" stroke-width="1"/>
<line x1="518.5" y1="420.2" x2="520.3" y2="420.2" stroke="#1e1e1e" stroke-width="1"/>
<line x1="518.5" y1="399.6" x2="520.3" y2="399.6" stroke="#1e1e1e" stroke-width="1"/>
<line x1="518.5" y1="379" x2="520.3" y2="379" stroke="#1e1e1e" stroke-width="1"/>
<line x1="518.5" y1="358.4" x2="520.3" y2="358.4" stroke="#1e1e1e" stroke-width="1"/>
<line x1="518.5" y1="409.9" x2="519.7" y2="409.9" stroke="#1e1e1e" stroke-width="0.8"/>
<line x1="518.5" y1="389.3" x2="519.7" y2="389.3" stroke="#1e1e1e" stroke-width="0.8"/>
<line x1="518.5" y1="368.7" x2="519.7" y2="368.7" stroke="#1e1e1e" stroke-width="0.8"/>
<line x1="438.3" y1="420.2" x2="438.3" y2="422" stroke="#1e1e1e" stroke-width="1"/>
<line x1="461.21" y1="420.2" x2="461.21" y2="422" stroke="#1e1e1e" stroke-width="1"/>
<line x1="484.13" y1="420.2" x2="484.13" y2="422" stroke="#1e1e1e" stroke-width="1"/>
<line x1="507.04" y1="420.2" x2="507.04" y2="422" stroke="#1e1e1e" stroke-width="1"/>
<text x="435.7" y="423.5" font-size="9.5" fill="#1a1a1a" text-anchor="end">0.0</text>
<text x="435.7" y="392.6" font-size="9.5" fill="#1a1a1a" text-anchor="end">0.5</text>
<text x="435.7" y="361.7" font-size="9.5" fill="#1a1a1a" text-anchor="end">1.0</text>
<text x="521.5" y="423.5" font-size="9.5" fill="#1a1a1a" text-anchor="start">0</text>
<text x="521.5" y="402.9" font-size="9.5" fill="#1a1a1a" text-anchor="start">30</text>
<text x="521.5" y="382.3" font-size="9.5" fill="#1a1a1a" text-anchor="start">60</text>
<text x="521.5" y="361.7" font-size="9.5" fill="#1a1a1a" text-anchor="start">90</text>
<text x="437.5" y="431.4" font-size="9.5" fill="#1a1a1a" text-anchor="middle">-100</text>
<text x="461.21" y="431.4" font-size="9.5" fill="#1a1a1a" text-anchor="middle">0</text>
<text x="484.13" y="431.4" font-size="9.5" fill="#1a1a1a" text-anchor="middle">100</text>
<text x="507.04" y="431.4" font-size="9.5" fill="#1a1a1a" text-anchor="middle">200</text>
<text x="418.7" y="389.3" font-size="9.5" fill="#e8343f" text-anchor="middle" transform="rotate(-90 418.7 389.3)">Rel. fluo. intensity</text>
<text x="536.3" y="390.1" font-size="9.5" fill="#1a1a1a" text-anchor="middle" transform="rotate(90 536.3 390.1)">Fiber angles</text>
<path d="M461.2,493.0 462.3,492.5 463.4,492.8 464.5,492.0 465.6,490.2 466.7,489.1 467.8,488.6 468.9,487.3 470.0,486.9 471.1,485.3 472.2,485.2 473.3,486.0 474.4,485.1 475.5,484.7 476.6,484.2 477.7,484.7 478.8,483.6 479.9,484.2 481.0,484.0 482.1,484.0 483.2,483.8 484.3,483.9 485.4,482.4 486.5,481.8 487.6,483.0 488.7,482.1 489.8,482.8 490.9,481.5 492.0,481.4 493.1,480.8 494.2,479.8 495.3,479.1 496.4,478.8 497.5,479.5 498.6,480.0 499.7,478.9 500.8,478.3 501.9,477.0 503.0,476.3 504.1,477.6 505.2,477.4 506.3,476.5 507.4,476.7 508.5,475.3 509.6,476.9 510.7,476.5 511.8,475.2 512.9,474.3 514.0,475.1 515.1,476.2 516.2,475.9 517.3,476.5 518.4,475.9 518.5,476.5 518.5,493.8 518.4,495.2 517.3,493.4 516.2,494.6 515.1,493.5 514.0,493.4 512.9,493.1 511.8,492.9 510.7,494.3 509.6,493.5 508.5,494.6 507.4,494.2 506.3,493.4 505.2,494.0 504.1,492.6 503.0,493.1 501.9,492.3 500.8,490.9 499.7,491.3 498.6,491.8 497.5,493.8 496.4,493.1 495.3,491.8 494.2,491.3 493.1,492.6 492.0,492.6 490.9,491.3 489.8,492.4 488.7,490.9 487.6,491.7 486.5,493.0 485.4,492.8 484.3,493.9 483.2,493.6 482.1,495.1 481.0,495.6 479.9,496.1 478.8,496.0 477.7,494.5 476.6,494.2 475.5,495.2 474.4,493.6 473.3,494.7 472.2,495.7 471.1,495.8 470.0,497.7 468.9,498.6 467.8,497.8 466.7,498.2 465.6,498.7 464.5,499.3 463.4,499.3 462.3,500.5 461.2,501.5Z" fill="#9d989c"/>
<path d="M438.3,492.5 439.4,492.9 440.5,493.7 441.6,494.8 442.7,495.7 443.8,494.4 444.9,492.2 446.0,491.5 447.1,489.1 448.2,487.9 449.3,489.4 450.4,489.8 451.5,487.5 452.6,486.9 453.7,486.3 454.8,483.8 455.9,481.6 457.0,478.3 458.1,475.8 459.2,471.7 460.3,469.9 461.4,462.6 462.5,456.8 463.6,452.0 464.7,453.6 465.8,454.7 466.9,453.9 468.0,454.0 469.1,454.7 470.2,456.4 471.3,457.2 472.4,456.6 473.5,457.6 474.6,458.1 475.7,459.6 476.8,460.2 477.9,459.9 479.0,459.4 480.1,461.8 481.2,462.3 482.3,462.7 483.4,463.5 484.5,463.4 485.6,464.7 486.7,464.9 487.8,464.9 488.9,463.3 490.0,464.4 491.1,463.9 492.2,463.6 493.3,463.8 494.4,465.0 495.5,466.2 496.6,466.5 497.7,467.4 498.8,468.2 499.9,467.6 501.0,468.0 502.1,466.2 503.2,466.6 504.3,468.6 505.4,469.2 506.5,470.8 507.6,470.8 508.7,470.9 509.8,470.0 510.9,472.5 512.0,472.7 513.1,472.2 514.2,473.3 515.3,473.1 516.4,472.6 517.5,473.7 518.5,473.1 518.5,489.2 517.5,488.6 516.4,487.4 515.3,488.4 514.2,489.9 513.1,488.9 512.0,487.6 510.9,489.1 509.8,488.4 508.7,487.9 507.6,485.9 506.5,485.4 505.4,486.0 504.3,485.5 503.2,485.7 502.1,486.4 501.0,486.0 499.9,485.1 498.8,485.3 497.7,483.9 496.6,482.0 495.5,481.9 494.4,482.6 493.3,483.2 492.2,481.6 491.1,480.7 490.0,481.4 488.9,482.6 487.8,483.4 486.7,482.5 485.6,480.9 484.5,481.6 483.4,482.1 482.3,482.4 481.2,482.2 480.1,483.6 479.0,483.5 477.9,483.9 476.8,484.7 475.7,485.0 474.6,483.8 473.5,480.2 472.4,478.5 471.3,478.3 470.2,474.4 469.1,473.9 468.0,472.7 466.9,471.8 465.8,469.6 464.7,468.6 463.6,468.3 462.5,474.3 461.4,481.4 460.3,486.3 459.2,490.1 458.1,491.9 457.0,493.0 455.9,494.3 454.8,496.6 453.7,498.6 452.6,498.3 451.5,498.8 450.4,500.5 449.3,499.9 448.2,501.9 447.1,501.8 446.0,503.2 444.9,502.9 443.8,502.3 442.7,503.1 441.6,504.0 440.5,501.6 439.4,502.0 438.3,502.7Z" fill="#4258bc" fill-opacity="0.45"/>
<line x1="461.21" y1="449.6" x2="461.21" y2="511.4" stroke="#f2505c" stroke-width="0.9"/>
<path d="M461.2,496.5 462.3,496.8 463.4,496.4 464.5,496.2 465.6,494.8 466.7,493.9 467.8,493.5 468.9,492.7 470.0,491.7 471.1,491.5 472.2,490.8 473.3,490.2 474.4,489.9 475.5,489.3 476.6,489.4 477.7,489.8 478.8,489.8 479.9,489.2 481.0,489.4 482.1,489.1 483.2,488.9 484.3,488.2 485.4,487.8 486.5,487.3 487.6,487.3 488.7,487.1 489.8,487.0 490.9,486.1 492.0,485.9 493.1,486.3 494.2,486.3 495.3,486.4 496.4,486.3 497.5,486.2 498.6,486.0 499.7,486.1 500.8,486.4 501.9,485.9 503.0,486.1 504.1,485.7 505.2,485.8 506.3,485.6 507.4,485.6 508.5,485.2 509.6,485.2 510.7,484.8 511.8,485.3 512.9,485.5 514.0,485.4 515.1,485.4 516.2,485.8 517.3,485.6 518.4,485.6 518.5,485.3" fill="none" stroke="#141414" stroke-width="1.05" stroke-linejoin="round"/>
<path d="M438.3,497.8 439.4,498.1 440.5,498.8 441.6,499.0 442.7,499.4 443.8,499.2 444.9,498.0 446.0,497.2 447.1,496.5 448.2,495.4 449.3,495.7 450.4,495.7 451.5,495.5 452.6,494.9 453.7,493.3 454.8,492.7 455.9,490.8 457.0,488.6 458.1,487.1 459.2,483.4 460.3,478.7 461.4,473.8 462.5,467.5 463.6,461.6 464.7,458.3 465.8,459.7 466.9,461.5 468.0,462.5 469.1,463.6 470.2,464.8 471.3,466.1 472.4,467.0 473.5,468.7 474.6,470.4 475.7,471.6 476.8,471.8 477.9,471.3 479.0,470.9 480.1,471.1 481.2,471.4 482.3,471.8 483.4,472.0 484.5,472.3 485.6,471.9 486.7,471.2 487.8,471.2 488.9,472.1 490.0,472.8 491.1,473.2 492.2,474.2 493.3,474.5 494.4,475.2 495.5,475.5 496.6,476.0 497.7,476.8 498.8,477.7 499.9,477.0 501.0,476.0 502.1,475.4 503.2,476.2 504.3,477.4 505.4,478.5 506.5,479.1 507.6,480.2 508.7,480.4 509.8,481.3 510.9,482.1 512.0,482.3 513.1,482.2 514.2,481.9 515.3,482.2 516.4,481.4 517.5,480.9 518.5,480.6" fill="none" stroke="#3a6cc8" stroke-width="1.05" stroke-linejoin="round"/>
<line x1="438.3" y1="449.2" x2="438.3" y2="511.9" stroke="#1e1e1e" stroke-width="1"/>
<line x1="518.5" y1="449.2" x2="518.5" y2="511.9" stroke="#1e1e1e" stroke-width="1"/>
<line x1="437.9" y1="511.4" x2="518.9" y2="511.4" stroke="#3c3c3c" stroke-width="1.3"/>
<line x1="436.5" y1="511.4" x2="438.3" y2="511.4" stroke="#1e1e1e" stroke-width="1"/>
<line x1="436.5" y1="480.5" x2="438.3" y2="480.5" stroke="#1e1e1e" stroke-width="1"/>
<line x1="436.5" y1="449.6" x2="438.3" y2="449.6" stroke="#1e1e1e" stroke-width="1"/>
<line x1="518.5" y1="511.4" x2="520.3" y2="511.4" stroke="#1e1e1e" stroke-width="1"/>
<line x1="518.5" y1="490.8" x2="520.3" y2="490.8" stroke="#1e1e1e" stroke-width="1"/>
<line x1="518.5" y1="470.2" x2="520.3" y2="470.2" stroke="#1e1e1e" stroke-width="1"/>
<line x1="518.5" y1="449.6" x2="520.3" y2="449.6" stroke="#1e1e1e" stroke-width="1"/>
<line x1="518.5" y1="501.1" x2="519.7" y2="501.1" stroke="#1e1e1e" stroke-width="0.8"/>
<line x1="518.5" y1="480.5" x2="519.7" y2="480.5" stroke="#1e1e1e" stroke-width="0.8"/>
<line x1="518.5" y1="459.9" x2="519.7" y2="459.9" stroke="#1e1e1e" stroke-width="0.8"/>
<line x1="438.3" y1="511.4" x2="438.3" y2="513.2" stroke="#1e1e1e" stroke-width="1"/>
<line x1="461.21" y1="511.4" x2="461.21" y2="513.2" stroke="#1e1e1e" stroke-width="1"/>
<line x1="484.13" y1="511.4" x2="484.13" y2="513.2" stroke="#1e1e1e" stroke-width="1"/>
<line x1="507.04" y1="511.4" x2="507.04" y2="513.2" stroke="#1e1e1e" stroke-width="1"/>
<text x="435.7" y="514.7" font-size="9.5" fill="#1a1a1a" text-anchor="end">0.0</text>
<text x="435.7" y="483.8" font-size="9.5" fill="#1a1a1a" text-anchor="end">0.5</text>
<text x="435.7" y="452.9" font-size="9.5" fill="#1a1a1a" text-anchor="end">1.0</text>
<text x="521.5" y="514.7" font-size="9.5" fill="#1a1a1a" text-anchor="start">0</text>
<text x="521.5" y="494.1" font-size="9.5" fill="#1a1a1a" text-anchor="start">30</text>
<text x="521.5" y="473.5" font-size="9.5" fill="#1a1a1a" text-anchor="start">60</text>
<text x="521.5" y="452.9" font-size="9.5" fill="#1a1a1a" text-anchor="start">90</text>
<text x="437.5" y="522.6" font-size="9.5" fill="#1a1a1a" text-anchor="middle">-100</text>
<text x="461.21" y="522.6" font-size="9.5" fill="#1a1a1a" text-anchor="middle">0</text>
<text x="484.13" y="522.6" font-size="9.5" fill="#1a1a1a" text-anchor="middle">100</text>
<text x="507.04" y="522.6" font-size="9.5" fill="#1a1a1a" text-anchor="middle">200</text>
<text x="418.7" y="480.5" font-size="9.5" fill="#4a70c4" text-anchor="middle" transform="rotate(-90 418.7 480.5)">Rel. fluo. intensity</text>
<text x="536.3" y="481.3" font-size="9.5" fill="#1a1a1a" text-anchor="middle" transform="rotate(90 536.3 481.3)">Fiber angles</text>
<text x="482.3" y="533" font-size="9.5" fill="#1a1a1a" text-anchor="middle">Distance from tumour (µm)</text>
<text x="-0.7" y="9.8" font-size="14" fill="#111" text-anchor="start">a</text>
<text x="226.9" y="10.2" font-size="14" fill="#111" text-anchor="start">b</text>
<text x="453.6" y="9.9" font-size="14" fill="#111" text-anchor="start">c</text>
<text x="41.2" y="326.9" font-size="14" fill="#111" text-anchor="start">d</text>
<text x="305.9" y="326.9" font-size="14" fill="#111" text-anchor="start">e</text>
<text x="41.3" y="559.4" font-size="14" fill="#111" text-anchor="start">f</text>
<text x="41.5" y="731.8" font-size="14" fill="#111" text-anchor="start">g</text>
<text x="345.8" y="732.3" font-size="14" fill="#111" text-anchor="start">h</text>
<text x="47.5" y="25.8" font-size="11.5" fill="#1a1a1a" text-anchor="middle">CAF#2</text>
<text x="271.9" y="25.6" font-size="11.5" fill="#1a1a1a" text-anchor="middle">BF#1</text>
<text x="511.5" y="25.8" font-size="11.5" fill="#1a1a1a" text-anchor="middle">BF#2</text>
<text x="98" y="342.9" font-size="11.5" fill="#1a1a1a" text-anchor="middle">pCAF#1</text>
<text x="363.3" y="342.9" font-size="11.5" fill="#1a1a1a" text-anchor="middle">pCAF#2</text>
<text x="578.8" y="409.8" font-size="9.5" fill="#333" text-anchor="start">Legend panels a-e:</text>
<rect x="579.2" y="416.1" width="13.9" height="9.5" fill="#a5d0ac"/>
<text x="596.6" y="424.2" font-size="9.5" fill="#333" text-anchor="start">CAF</text>
<rect x="579.2" y="429.1" width="13.9" height="9.5" fill="#f3ab9c"/>
<text x="595.9" y="437.2" font-size="9.5" fill="#333" text-anchor="start">COLIV</text>
<rect x="579.2" y="441.6" width="13.9" height="9.5" fill="#aab5e0"/>
<text x="597.6" y="449.7" font-size="9.5" fill="#333" text-anchor="start">FN</text>
<text x="185" y="570.9" font-size="11.7" fill="#222" text-anchor="start">Pearson correlation coefficient (breast tumour sample/MIRO)</text>
<rect x="200.3" y="579.3" width="284.6" height="15" fill="#eeeeee"/>
<rect x="200.3" y="594.3" width="80.6" height="14.7" fill="#ebebeb"/>
<rect x="280.9" y="594.3" width="40.5" height="14.7" fill="#f6cbce"/>
<rect x="321.4" y="594.3" width="37.8" height="14.7" fill="#f9dee0"/>
<rect x="359.2" y="594.3" width="37.4" height="14.7" fill="#f8d6d9"/>
<rect x="200.3" y="609" width="80.6" height="14.6" fill="#ebebeb"/>
<rect x="280.9" y="609" width="40.5" height="14.6" fill="#f1b4b9"/>
<rect x="321.4" y="609" width="37.8" height="14.6" fill="#f1b4b9"/>
<rect x="359.2" y="609" width="37.4" height="14.6" fill="#e9878f"/>
<rect x="396.6" y="609" width="43.2" height="14.6" fill="#e88189"/>
<rect x="439.8" y="609" width="45.1" height="14.6" fill="#e9828b"/>
<rect x="200.3" y="623.6" width="80.6" height="14.6" fill="#ebebeb"/>
<rect x="280.9" y="623.6" width="40.5" height="14.6" fill="#e77880"/>
<rect x="321.4" y="623.6" width="37.8" height="14.6" fill="#e77982"/>
<rect x="359.2" y="623.6" width="37.4" height="14.6" fill="#e46771"/>
<rect x="396.6" y="623.6" width="43.2" height="14.6" fill="#ed9ba1"/>
<rect x="439.8" y="623.6" width="45.1" height="14.6" fill="#e6737c"/>
<text x="203.2" y="590.7" font-size="9.7" fill="#1a1a1a" text-anchor="start">Intensity profiles</text>
<text x="301.15" y="590.7" font-size="9.7" fill="#1a1a1a" text-anchor="middle">CAF#2</text>
<text x="340.3" y="590.7" font-size="9.7" fill="#1a1a1a" text-anchor="middle">BF#1</text>
<text x="377.9" y="590.7" font-size="9.7" fill="#1a1a1a" text-anchor="middle">BF#2</text>
<text x="418.2" y="590.7" font-size="9.7" fill="#1a1a1a" text-anchor="middle">pCAF#1</text>
<text x="462.35" y="590.7" font-size="9.7" fill="#1a1a1a" text-anchor="middle">pCAF#2</text>
<text x="203.2" y="605.6" font-size="9.7" fill="#1a1a1a" text-anchor="start">CAF</text>
<text x="301.15" y="605.6" font-size="9.7" fill="#1a1a1a" text-anchor="middle">0.781</text>
<text x="340.3" y="605.6" font-size="9.7" fill="#1a1a1a" text-anchor="middle">0.752</text>
<text x="377.9" y="605.6" font-size="9.7" fill="#1a1a1a" text-anchor="middle">0.764</text>
<text x="203.2" y="620.2" font-size="9.7" fill="#1a1a1a" text-anchor="start">COLIV</text>
<text x="301.15" y="620.2" font-size="9.7" fill="#1a1a1a" text-anchor="middle">0.817</text>
<text x="340.3" y="620.2" font-size="9.7" fill="#1a1a1a" text-anchor="middle">0.817</text>
<text x="377.9" y="620.2" font-size="9.7" fill="#1a1a1a" text-anchor="middle">0.887</text>
<text x="418.2" y="620.2" font-size="9.7" fill="#1a1a1a" text-anchor="middle">0.897</text>
<text x="462.35" y="620.2" font-size="9.7" fill="#1a1a1a" text-anchor="middle">0.894</text>
<text x="203.2" y="634.8" font-size="9.7" fill="#1a1a1a" text-anchor="start">FN</text>
<text x="301.15" y="634.8" font-size="9.7" fill="#1a1a1a" text-anchor="middle">0.911</text>
<text x="340.3" y="634.8" font-size="9.7" fill="#1a1a1a" text-anchor="middle">0.908</text>
<text x="377.9" y="634.8" font-size="9.7" fill="#1a1a1a" text-anchor="middle">0.936</text>
<text x="418.2" y="634.8" font-size="9.7" fill="#1a1a1a" text-anchor="middle">0.856</text>
<text x="462.35" y="634.8" font-size="9.7" fill="#1a1a1a" text-anchor="middle">0.918</text>
<line x1="200.3" y1="594.3" x2="484.9" y2="594.3" stroke="#111" stroke-width="1.4"/>
<rect x="200.3" y="643.9" width="284.6" height="14.7" fill="#eeeeee"/>
<rect x="200.3" y="658.6" width="80.6" height="14.7" fill="#ebebeb"/>
<rect x="280.9" y="658.6" width="40.5" height="14.7" fill="#e88189"/>
<rect x="321.4" y="658.6" width="37.8" height="14.7" fill="#e46b75"/>
<rect x="359.2" y="658.6" width="37.4" height="14.7" fill="#f0adb2"/>
<rect x="200.3" y="673.3" width="80.6" height="14.7" fill="#ebebeb"/>
<rect x="280.9" y="673.3" width="40.5" height="14.7" fill="#e56d77"/>
<rect x="321.4" y="673.3" width="37.8" height="14.7" fill="#e6747d"/>
<rect x="359.2" y="673.3" width="37.4" height="14.7" fill="#ea8b92"/>
<rect x="396.6" y="673.3" width="43.2" height="14.7" fill="#f3babf"/>
<rect x="439.8" y="673.3" width="45.1" height="14.7" fill="#f3bbbf"/>
<rect x="200.3" y="688" width="80.6" height="14.6" fill="#ebebeb"/>
<rect x="280.9" y="688" width="40.5" height="14.6" fill="#e77881"/>
<rect x="321.4" y="688" width="37.8" height="14.6" fill="#e15a65"/>
<rect x="359.2" y="688" width="37.4" height="14.6" fill="#eea0a6"/>
<rect x="396.6" y="688" width="43.2" height="14.6" fill="#e0545f"/>
<rect x="439.8" y="688" width="45.1" height="14.6" fill="#f6cace"/>
<text x="203.2" y="655" font-size="9.7" fill="#1a1a1a" text-anchor="start">Fiber angles</text>
<text x="301.15" y="655" font-size="9.7" fill="#1a1a1a" text-anchor="middle">CAF#2</text>
<text x="340.3" y="655" font-size="9.7" fill="#1a1a1a" text-anchor="middle">BF#1</text>
<text x="377.9" y="655" font-size="9.7" fill="#1a1a1a" text-anchor="middle">BF#2</text>
<text x="418.2" y="655" font-size="9.7" fill="#1a1a1a" text-anchor="middle">pCAF#1</text>
<text x="462.35" y="655" font-size="9.7" fill="#1a1a1a" text-anchor="middle">pCAF#2</text>
<text x="203.2" y="669.9" font-size="9.7" fill="#1a1a1a" text-anchor="start">CAF</text>
<text x="301.15" y="669.9" font-size="9.7" fill="#1a1a1a" text-anchor="middle">0.897</text>
<text x="340.3" y="669.9" font-size="9.7" fill="#1a1a1a" text-anchor="middle">0.930</text>
<text x="377.9" y="669.9" font-size="9.7" fill="#1a1a1a" text-anchor="middle">0.828</text>
<text x="203.2" y="684.6" font-size="9.7" fill="#1a1a1a" text-anchor="start">COLIV</text>
<text x="301.15" y="684.6" font-size="9.7" fill="#1a1a1a" text-anchor="middle">0.927</text>
<text x="340.3" y="684.6" font-size="9.7" fill="#1a1a1a" text-anchor="middle">0.916</text>
<text x="377.9" y="684.6" font-size="9.7" fill="#1a1a1a" text-anchor="middle">0.881</text>
<text x="418.2" y="684.6" font-size="9.7" fill="#1a1a1a" text-anchor="middle">0.807</text>
<text x="462.35" y="684.6" font-size="9.7" fill="#1a1a1a" text-anchor="middle">0.806</text>
<text x="203.2" y="699.2" font-size="9.7" fill="#1a1a1a" text-anchor="start">FN</text>
<text x="301.15" y="699.2" font-size="9.7" fill="#1a1a1a" text-anchor="middle">0.910</text>
<text x="340.3" y="699.2" font-size="9.7" fill="#1a1a1a" text-anchor="middle">0.957</text>
<text x="377.9" y="699.2" font-size="9.7" fill="#1a1a1a" text-anchor="middle">0.848</text>
<text x="418.2" y="699.2" font-size="9.7" fill="#1a1a1a" text-anchor="middle">0.967</text>
<text x="462.35" y="699.2" font-size="9.7" fill="#1a1a1a" text-anchor="middle">0.782</text>
<line x1="200.3" y1="658.6" x2="484.9" y2="658.6" stroke="#111" stroke-width="1.4"/>
<line x1="280.9" y1="579.3" x2="280.9" y2="702.6" stroke="#555" stroke-width="1.2"/>
<path d="M93.7,879.27 C94.12,878.92 96.03,878.22 96.2,877.16 C96.37,876.11 95.12,874.71 94.7,872.96 C94.28,871.2 93.7,868.75 93.7,866.64 C93.7,864.53 94.28,862.78 94.7,860.33 C95.12,857.87 96.12,855.06 96.2,851.9 C96.28,848.75 95.62,845.24 95.2,841.38 C94.78,837.52 94.12,832.96 93.7,828.75 C93.28,824.54 92.98,820.68 92.7,816.12 C92.42,811.56 92.12,803.84 92,801.38 L91.4,801.38 C91.28,803.84 90.98,811.56 90.7,816.12 C90.42,820.68 90.12,824.54 89.7,828.75 C89.28,832.96 88.62,837.52 88.2,841.38 C87.78,845.24 87.12,848.75 87.2,851.9 C87.28,855.06 88.28,857.87 88.7,860.33 C89.12,862.78 89.7,864.53 89.7,866.64 C89.7,868.75 89.12,871.2 88.7,872.96 C88.28,874.71 87.03,876.11 87.2,877.16 C87.37,878.22 89.28,878.92 89.7,879.27 Z" fill="#a8d3b0"/>
<line x1="88.1" y1="874.64" x2="89.7" y2="874.64" stroke="#f29a38" stroke-width="1.1"/>
<line x1="93.7" y1="874.64" x2="95.3" y2="874.64" stroke="#f29a38" stroke-width="1.1"/>
<line x1="88.25" y1="840.96" x2="89.85" y2="840.96" stroke="#f29a38" stroke-width="1.1"/>
<line x1="93.55" y1="840.96" x2="95.15" y2="840.96" stroke="#f29a38" stroke-width="1.1"/>
<line x1="87.28" y1="852.33" x2="89.48" y2="852.33" stroke="#e8413c" stroke-width="1.5"/>
<line x1="93.92" y1="852.33" x2="96.12" y2="852.33" stroke="#e8413c" stroke-width="1.5"/>
<circle cx="91.7" cy="801.81" r="1.75" fill="#000"/>
<circle cx="88.1" cy="826.22" r="1.75" fill="#000"/>
<circle cx="91.7" cy="826.64" r="1.75" fill="#000"/>
<circle cx="91.7" cy="834.64" r="1.75" fill="#000"/>
<circle cx="88.1" cy="840.54" r="1.75" fill="#000"/>
<circle cx="91.7" cy="840.96" r="1.75" fill="#000"/>
<circle cx="91.7" cy="845.17" r="1.75" fill="#000"/>
<circle cx="88.1" cy="850.22" r="1.75" fill="#000"/>
<circle cx="91.7" cy="849.8" r="1.75" fill="#000"/>
<circle cx="95.3" cy="850.64" r="1.75" fill="#000"/>
<circle cx="91.7" cy="853.59" r="1.75" fill="#000"/>
<circle cx="95.3" cy="857.8" r="1.75" fill="#000"/>
<circle cx="91.7" cy="859.48" r="1.75" fill="#000"/>
<circle cx="91.7" cy="863.69" r="1.75" fill="#000"/>
<circle cx="88.1" cy="874.22" r="1.75" fill="#000"/>
<circle cx="91.7" cy="874.64" r="1.75" fill="#000"/>
<circle cx="95.3" cy="875.06" r="1.75" fill="#000"/>
<circle cx="88.1" cy="877.16" r="1.75" fill="#000"/>
<circle cx="91.7" cy="876.74" r="1.75" fill="#000"/>
<circle cx="95.3" cy="877.59" r="1.75" fill="#000"/>
<path d="M105.8,896.11 C105.97,894.71 106.38,891.2 106.8,887.69 C107.22,884.18 107.8,880.32 108.3,875.06 C108.8,869.8 109.8,861.03 109.8,856.12 C109.8,851.2 108.8,849.45 108.3,845.59 C107.8,841.73 107.2,838.57 106.8,832.96 C106.4,827.35 106.1,818.23 105.9,811.91 C105.7,805.59 105.57,800.68 105.6,795.07 C105.63,789.46 106.1,781.74 106.1,778.23 C106.1,774.72 105.68,774.72 105.6,774.02 L105,774.02 C104.92,774.72 104.5,774.72 104.5,778.23 C104.5,781.74 104.97,789.46 105,795.07 C105.03,800.68 104.9,805.59 104.7,811.91 C104.5,818.23 104.2,827.35 103.8,832.96 C103.4,838.57 102.8,841.73 102.3,845.59 C101.8,849.45 100.8,851.2 100.8,856.12 C100.8,861.03 101.8,869.8 102.3,875.06 C102.8,880.32 103.38,884.18 103.8,887.69 C104.22,891.2 104.63,894.71 104.8,896.11 Z" fill="#a8d3b0"/>
<line x1="102.3" y1="875.06" x2="103.9" y2="875.06" stroke="#f29a38" stroke-width="1.1"/>
<line x1="106.7" y1="875.06" x2="108.3" y2="875.06" stroke="#f29a38" stroke-width="1.1"/>
<line x1="102.55" y1="843.49" x2="104.15" y2="843.49" stroke="#f29a38" stroke-width="1.1"/>
<line x1="106.45" y1="843.49" x2="108.05" y2="843.49" stroke="#f29a38" stroke-width="1.1"/>
<line x1="100.83" y1="856.54" x2="103.03" y2="856.54" stroke="#e8413c" stroke-width="1.5"/>
<line x1="107.57" y1="856.54" x2="109.77" y2="856.54" stroke="#e8413c" stroke-width="1.5"/>
<circle cx="106.38" cy="774.44" r="1.75" fill="#000"/>
<circle cx="104.58" cy="779.91" r="1.75" fill="#000"/>
<circle cx="104.58" cy="811.91" r="1.75" fill="#000"/>
<circle cx="106.38" cy="835.91" r="1.75" fill="#000"/>
<circle cx="103.5" cy="842.64" r="1.75" fill="#000"/>
<circle cx="106.38" cy="842.64" r="1.75" fill="#000"/>
<circle cx="103.5" cy="847.7" r="1.75" fill="#000"/>
<circle cx="105.3" cy="847.27" r="1.75" fill="#000"/>
<circle cx="106.38" cy="847.7" r="1.75" fill="#000"/>
<circle cx="102.42" cy="856.54" r="1.75" fill="#000"/>
<circle cx="104.58" cy="856.12" r="1.75" fill="#000"/>
<circle cx="106.38" cy="854.85" r="1.75" fill="#000"/>
<circle cx="108.54" cy="856.12" r="1.75" fill="#000"/>
<circle cx="106.38" cy="857.8" r="1.75" fill="#000"/>
<circle cx="104.58" cy="865.8" r="1.75" fill="#000"/>
<circle cx="105.3" cy="871.69" r="1.75" fill="#000"/>
<circle cx="104.22" cy="875.06" r="1.75" fill="#000"/>
<circle cx="106.38" cy="875.06" r="1.75" fill="#000"/>
<circle cx="104.58" cy="878.01" r="1.75" fill="#000"/>
<circle cx="104.58" cy="887.27" r="1.75" fill="#000"/>
<circle cx="104.58" cy="896.11" r="1.75" fill="#000"/>
<path d="M119.5,896.11 C119.75,894 120.5,886.99 121,883.48 C121.5,879.97 122.17,878.57 122.5,875.06 C122.83,871.55 123,866.64 123,862.43 C123,858.22 122.75,854.01 122.5,849.8 C122.25,845.59 121.83,842.08 121.5,837.17 C121.17,832.26 120.87,826.64 120.5,820.33 C120.13,814.01 119.52,806.44 119.3,799.28 C119.08,792.12 119.22,781.04 119.2,777.39 L118.8,777.39 C118.78,781.04 118.92,792.12 118.7,799.28 C118.48,806.44 117.87,814.01 117.5,820.33 C117.13,826.64 116.83,832.26 116.5,837.17 C116.17,842.08 115.75,845.59 115.5,849.8 C115.25,854.01 115,858.22 115,862.43 C115,866.64 115.17,871.55 115.5,875.06 C115.83,878.57 116.5,879.97 117,883.48 C117.5,886.99 118.25,894 118.5,896.11 Z" fill="#a8d3b0"/>
<line x1="115.47" y1="874.22" x2="117.07" y2="874.22" stroke="#f29a38" stroke-width="1.1"/>
<line x1="120.93" y1="874.22" x2="122.53" y2="874.22" stroke="#f29a38" stroke-width="1.1"/>
<line x1="116.5" y1="837.17" x2="118.1" y2="837.17" stroke="#f29a38" stroke-width="1.1"/>
<line x1="119.9" y1="837.17" x2="121.5" y2="837.17" stroke="#f29a38" stroke-width="1.1"/>
<line x1="115.13" y1="859.06" x2="117.33" y2="859.06" stroke="#e8413c" stroke-width="1.5"/>
<line x1="120.67" y1="859.06" x2="122.87" y2="859.06" stroke="#e8413c" stroke-width="1.5"/>
<circle cx="119" cy="777.39" r="1.75" fill="#000"/>
<circle cx="116.12" cy="819.91" r="1.75" fill="#000"/>
<circle cx="119" cy="819.49" r="1.75" fill="#000"/>
<circle cx="119" cy="821.17" r="1.75" fill="#000"/>
<circle cx="119" cy="829.59" r="1.75" fill="#000"/>
<circle cx="119" cy="836.33" r="1.75" fill="#000"/>
<circle cx="119" cy="843.06" r="1.75" fill="#000"/>
<circle cx="119" cy="848.12" r="1.75" fill="#000"/>
<circle cx="116.12" cy="848.54" r="1.75" fill="#000"/>
<circle cx="119" cy="853.17" r="1.75" fill="#000"/>
<circle cx="116.12" cy="859.06" r="1.75" fill="#000"/>
<circle cx="119" cy="859.48" r="1.75" fill="#000"/>
<circle cx="120.8" cy="859.06" r="1.75" fill="#000"/>
<circle cx="116.12" cy="863.69" r="1.75" fill="#000"/>
<circle cx="119" cy="863.69" r="1.75" fill="#000"/>
<circle cx="121.88" cy="862.01" r="1.75" fill="#000"/>
<circle cx="119" cy="873.8" r="1.75" fill="#000"/>
<circle cx="116.12" cy="876.32" r="1.75" fill="#000"/>
<circle cx="119" cy="876.32" r="1.75" fill="#000"/>
<circle cx="121.88" cy="875.9" r="1.75" fill="#000"/>
<circle cx="119" cy="883.9" r="1.75" fill="#000"/>
<circle cx="119" cy="896.11" r="1.75" fill="#000"/>
<path d="M133.1,899.48 C133.35,898.21 134.18,895.27 134.6,891.9 C135.02,888.53 135.43,883.48 135.6,879.27 C135.77,875.06 135.38,870.85 135.6,866.64 C135.82,862.43 136.82,858.22 136.9,854.01 C136.98,849.8 136.48,846.29 136.1,841.38 C135.72,836.47 135.02,829.45 134.6,824.54 C134.18,819.63 133.88,816.12 133.6,811.91 C133.32,807.7 133.02,801.38 132.9,799.28 L132.3,799.28 C132.18,801.38 131.88,807.7 131.6,811.91 C131.32,816.12 131.02,819.63 130.6,824.54 C130.18,829.45 129.48,836.47 129.1,841.38 C128.72,846.29 128.22,849.8 128.3,854.01 C128.38,858.22 129.38,862.43 129.6,866.64 C129.82,870.85 129.43,875.06 129.6,879.27 C129.77,883.48 130.18,888.53 130.6,891.9 C131.02,895.27 131.85,898.21 132.1,899.48 Z" fill="#a8d3b0"/>
<line x1="129.7" y1="880.53" x2="131.3" y2="880.53" stroke="#f29a38" stroke-width="1.1"/>
<line x1="133.9" y1="880.53" x2="135.5" y2="880.53" stroke="#f29a38" stroke-width="1.1"/>
<line x1="128.91" y1="844.33" x2="130.51" y2="844.33" stroke="#f29a38" stroke-width="1.1"/>
<line x1="134.69" y1="844.33" x2="136.29" y2="844.33" stroke="#f29a38" stroke-width="1.1"/>
<line x1="128.6" y1="856.96" x2="130.8" y2="856.96" stroke="#e8413c" stroke-width="1.5"/>
<line x1="134.4" y1="856.96" x2="136.6" y2="856.96" stroke="#e8413c" stroke-width="1.5"/>
<circle cx="132.6" cy="798.86" r="1.75" fill="#000"/>
<circle cx="132.6" cy="814.01" r="1.75" fill="#000"/>
<circle cx="132.6" cy="826.64" r="1.75" fill="#000"/>
<circle cx="132.6" cy="834.22" r="1.75" fill="#000"/>
<circle cx="132.6" cy="840.12" r="1.75" fill="#000"/>
<circle cx="129.72" cy="844.33" r="1.75" fill="#000"/>
<circle cx="132.6" cy="844.75" r="1.75" fill="#000"/>
<circle cx="132.6" cy="847.7" r="1.75" fill="#000"/>
<circle cx="129.72" cy="851.48" r="1.75" fill="#000"/>
<circle cx="132.6" cy="852.33" r="1.75" fill="#000"/>
<circle cx="135.48" cy="853.59" r="1.75" fill="#000"/>
<circle cx="129.72" cy="856.96" r="1.75" fill="#000"/>
<circle cx="132.6" cy="856.96" r="1.75" fill="#000"/>
<circle cx="134.04" cy="856.96" r="1.75" fill="#000"/>
<circle cx="132.6" cy="861.59" r="1.75" fill="#000"/>
<circle cx="132.6" cy="866.64" r="1.75" fill="#000"/>
<circle cx="132.6" cy="870.85" r="1.75" fill="#000"/>
<circle cx="132.6" cy="872.96" r="1.75" fill="#000"/>
<circle cx="132.6" cy="878.85" r="1.75" fill="#000"/>
<circle cx="132.6" cy="883.06" r="1.75" fill="#000"/>
<circle cx="132.6" cy="887.27" r="1.75" fill="#000"/>
<circle cx="129.72" cy="891.9" r="1.75" fill="#000"/>
<circle cx="132.6" cy="892.74" r="1.75" fill="#000"/>
<circle cx="135.48" cy="892.32" r="1.75" fill="#000"/>
<circle cx="132.6" cy="896.11" r="1.75" fill="#000"/>
<circle cx="132.6" cy="898.64" r="1.75" fill="#000"/>
<path d="M160.4,891.9 C160.57,891.2 161.18,889.8 161.4,887.69 C161.62,885.59 161.53,882.08 161.7,879.27 C161.87,876.46 162,874.01 162.4,870.85 C162.8,867.69 163.93,863.48 164.1,860.33 C164.27,857.17 163.77,854.36 163.4,851.9 C163.03,849.45 162.4,848.26 161.9,845.59 C161.4,842.92 160.65,837.52 160.4,835.91 L159.4,835.91 C159.15,837.52 158.4,842.92 157.9,845.59 C157.4,848.26 156.77,849.45 156.4,851.9 C156.03,854.36 155.53,857.17 155.7,860.33 C155.87,863.48 157,867.69 157.4,870.85 C157.8,874.01 157.93,876.46 158.1,879.27 C158.27,882.08 158.18,885.59 158.4,887.69 C158.62,889.8 159.23,891.2 159.4,891.9 Z" fill="#f5b1a3"/>
<line x1="157.4" y1="870.85" x2="159" y2="870.85" stroke="#f29a38" stroke-width="1.1"/>
<line x1="160.8" y1="870.85" x2="162.4" y2="870.85" stroke="#f29a38" stroke-width="1.1"/>
<line x1="156.33" y1="852.75" x2="157.93" y2="852.75" stroke="#f29a38" stroke-width="1.1"/>
<line x1="161.87" y1="852.75" x2="163.47" y2="852.75" stroke="#f29a38" stroke-width="1.1"/>
<line x1="155.77" y1="859.48" x2="157.97" y2="859.48" stroke="#e8413c" stroke-width="1.5"/>
<line x1="161.83" y1="859.48" x2="164.03" y2="859.48" stroke="#e8413c" stroke-width="1.5"/>
<circle cx="159.9" cy="835.91" r="1.75" fill="#000"/>
<circle cx="159.9" cy="852.33" r="1.75" fill="#000"/>
<circle cx="163.5" cy="851.48" r="1.75" fill="#000"/>
<circle cx="159.9" cy="854.01" r="1.75" fill="#000"/>
<circle cx="159.9" cy="855.69" r="1.75" fill="#000"/>
<circle cx="159.9" cy="856.96" r="1.75" fill="#000"/>
<circle cx="158.1" cy="859.48" r="1.75" fill="#000"/>
<circle cx="161.7" cy="859.48" r="1.75" fill="#000"/>
<circle cx="159.9" cy="861.59" r="1.75" fill="#000"/>
<circle cx="159.9" cy="865.8" r="1.75" fill="#000"/>
<circle cx="159.9" cy="872.53" r="1.75" fill="#000"/>
<circle cx="159.9" cy="888.53" r="1.75" fill="#000"/>
<circle cx="159.9" cy="891.06" r="1.75" fill="#000"/>
<path d="M176.2,898.22 C176.37,897.16 176.95,894.36 177.2,891.9 C177.45,889.44 177.7,885.94 177.7,883.48 C177.7,881.02 177.53,879.27 177.2,877.16 C176.87,875.06 176.08,873.31 175.7,870.85 C175.32,868.39 175.15,865.45 174.9,862.43 C174.65,859.41 174.32,854.36 174.2,852.75 L173.2,852.75 C173.08,854.36 172.75,859.41 172.5,862.43 C172.25,865.45 172.08,868.39 171.7,870.85 C171.32,873.31 170.53,875.06 170.2,877.16 C169.87,879.27 169.7,881.02 169.7,883.48 C169.7,885.94 169.95,889.44 170.2,891.9 C170.45,894.36 171.03,897.16 171.2,898.22 Z" fill="#f5b1a3"/>
<line x1="170.2" y1="891.9" x2="171.8" y2="891.9" stroke="#f29a38" stroke-width="1.1"/>
<line x1="175.6" y1="891.9" x2="177.2" y2="891.9" stroke="#f29a38" stroke-width="1.1"/>
<line x1="171.2" y1="871.69" x2="172.8" y2="871.69" stroke="#f29a38" stroke-width="1.1"/>
<line x1="174.6" y1="871.69" x2="176.2" y2="871.69" stroke="#f29a38" stroke-width="1.1"/>
<line x1="169.75" y1="884.32" x2="171.95" y2="884.32" stroke="#e8413c" stroke-width="1.5"/>
<line x1="175.45" y1="884.32" x2="177.65" y2="884.32" stroke="#e8413c" stroke-width="1.5"/>
<circle cx="173.7" cy="854.01" r="1.75" fill="#000"/>
<circle cx="173.7" cy="858.22" r="1.75" fill="#000"/>
<circle cx="173.7" cy="871.69" r="1.75" fill="#000"/>
<circle cx="170.1" cy="878.85" r="1.75" fill="#000"/>
<circle cx="177.3" cy="878.85" r="1.75" fill="#000"/>
<circle cx="173.7" cy="883.06" r="1.75" fill="#000"/>
<circle cx="170.1" cy="885.16" r="1.75" fill="#000"/>
<circle cx="173.7" cy="886.85" r="1.75" fill="#000"/>
<circle cx="170.1" cy="890.22" r="1.75" fill="#000"/>
<circle cx="173.7" cy="891.9" r="1.75" fill="#000"/>
<circle cx="170.1" cy="896.95" r="1.75" fill="#000"/>
<circle cx="177.3" cy="896.53" r="1.75" fill="#000"/>
<path d="M188.5,898.22 C188.67,896.81 189,892.6 189.5,889.79 C190,886.99 191.33,884.18 191.5,881.38 C191.67,878.57 190.92,876.11 190.5,872.96 C190.08,869.8 189.4,866.29 189,862.43 C188.6,858.57 188.18,852.96 188.1,849.8 C188.02,846.64 188.52,845.8 188.5,843.49 C188.48,841.17 188.08,837.17 188,835.91 L187,835.91 C186.92,837.17 186.52,841.17 186.5,843.49 C186.48,845.8 186.98,846.64 186.9,849.8 C186.82,852.96 186.4,858.57 186,862.43 C185.6,866.29 184.92,869.8 184.5,872.96 C184.08,876.11 183.33,878.57 183.5,881.38 C183.67,884.18 185,886.99 185.5,889.79 C186,892.6 186.33,896.81 186.5,898.22 Z" fill="#f5b1a3"/>
<line x1="185" y1="887.69" x2="186.6" y2="887.69" stroke="#f29a38" stroke-width="1.1"/>
<line x1="188.4" y1="887.69" x2="190" y2="887.69" stroke="#f29a38" stroke-width="1.1"/>
<line x1="185" y1="860.33" x2="186.6" y2="860.33" stroke="#f29a38" stroke-width="1.1"/>
<line x1="188.4" y1="860.33" x2="190" y2="860.33" stroke="#f29a38" stroke-width="1.1"/>
<line x1="183.75" y1="879.27" x2="185.95" y2="879.27" stroke="#e8413c" stroke-width="1.5"/>
<line x1="189.05" y1="879.27" x2="191.25" y2="879.27" stroke="#e8413c" stroke-width="1.5"/>
<circle cx="187.5" cy="835.91" r="1.75" fill="#000"/>
<circle cx="187.5" cy="846.85" r="1.75" fill="#000"/>
<circle cx="187.5" cy="870.85" r="1.75" fill="#000"/>
<circle cx="187.5" cy="872.53" r="1.75" fill="#000"/>
<circle cx="183.9" cy="879.27" r="1.75" fill="#000"/>
<circle cx="187.5" cy="879.69" r="1.75" fill="#000"/>
<circle cx="191.1" cy="882.64" r="1.75" fill="#000"/>
<circle cx="183.9" cy="882.64" r="1.75" fill="#000"/>
<circle cx="187.5" cy="895.27" r="1.75" fill="#000"/>
<circle cx="187.5" cy="898.64" r="1.75" fill="#000"/>
<path d="M204.8,891.9 C204.55,891.2 203.47,889.44 203.3,887.69 C203.13,885.94 203.55,883.48 203.8,881.38 C204.05,879.27 204.8,877.16 204.8,875.06 C204.8,872.95 204.25,870.57 203.8,868.75 C203.35,866.92 202.38,864.89 202.1,864.11 L200.5,864.11 C200.22,864.89 199.25,866.92 198.8,868.75 C198.35,870.57 197.8,872.95 197.8,875.06 C197.8,877.16 198.55,879.27 198.8,881.38 C199.05,883.48 199.47,885.94 199.3,887.69 C199.13,889.44 198.05,891.2 197.8,891.9 Z" fill="#f5b1a3"/>
<line x1="198.55" y1="889.79" x2="200.15" y2="889.79" stroke="#f29a38" stroke-width="1.1"/>
<line x1="202.45" y1="889.79" x2="204.05" y2="889.79" stroke="#f29a38" stroke-width="1.1"/>
<line x1="198.13" y1="872.96" x2="199.73" y2="872.96" stroke="#f29a38" stroke-width="1.1"/>
<line x1="202.87" y1="872.96" x2="204.47" y2="872.96" stroke="#f29a38" stroke-width="1.1"/>
<line x1="198.3" y1="882.22" x2="200.5" y2="882.22" stroke="#e8413c" stroke-width="1.5"/>
<line x1="202.1" y1="882.22" x2="204.3" y2="882.22" stroke="#e8413c" stroke-width="1.5"/>
<circle cx="201.3" cy="864.11" r="1.75" fill="#000"/>
<circle cx="201.3" cy="875.06" r="1.75" fill="#000"/>
<circle cx="204.9" cy="873.8" r="1.75" fill="#000"/>
<circle cx="201.3" cy="878.85" r="1.75" fill="#000"/>
<circle cx="201.3" cy="886.01" r="1.75" fill="#000"/>
<circle cx="201.3" cy="889.79" r="1.75" fill="#000"/>
<circle cx="197.7" cy="891.9" r="1.75" fill="#000"/>
<circle cx="204.9" cy="891.06" r="1.75" fill="#000"/>
<path d="M215.6,889.79 C215.85,888.39 216.52,884.18 217.1,881.38 C217.68,878.57 218.93,875.41 219.1,872.96 C219.27,870.5 218.52,869.1 218.1,866.64 C217.68,864.18 216.93,861.03 216.6,858.22 C216.27,855.41 216.27,852.12 216.1,849.8 C215.93,847.48 215.68,845.24 215.6,844.33 L214.6,844.33 C214.52,845.24 214.27,847.48 214.1,849.8 C213.93,852.12 213.93,855.41 213.6,858.22 C213.27,861.03 212.52,864.18 212.1,866.64 C211.68,869.1 210.93,870.5 211.1,872.96 C211.27,875.41 212.52,878.57 213.1,881.38 C213.68,884.18 214.35,888.39 214.6,889.79 Z" fill="#f5b1a3"/>
<line x1="212.1" y1="877.16" x2="213.7" y2="877.16" stroke="#f29a38" stroke-width="1.1"/>
<line x1="216.5" y1="877.16" x2="218.1" y2="877.16" stroke="#f29a38" stroke-width="1.1"/>
<line x1="212.6" y1="860.33" x2="214.2" y2="860.33" stroke="#f29a38" stroke-width="1.1"/>
<line x1="216" y1="860.33" x2="217.6" y2="860.33" stroke="#f29a38" stroke-width="1.1"/>
<line x1="211.17" y1="872.53" x2="213.37" y2="872.53" stroke="#e8413c" stroke-width="1.5"/>
<line x1="216.83" y1="872.53" x2="219.03" y2="872.53" stroke="#e8413c" stroke-width="1.5"/>
<circle cx="215.1" cy="844.33" r="1.75" fill="#000"/>
<circle cx="215.1" cy="851.48" r="1.75" fill="#000"/>
<circle cx="215.1" cy="855.27" r="1.75" fill="#000"/>
<circle cx="215.1" cy="862.85" r="1.75" fill="#000"/>
<circle cx="215.1" cy="870.85" r="1.75" fill="#000"/>
<circle cx="218.7" cy="869.59" r="1.75" fill="#000"/>
<circle cx="211.5" cy="873.38" r="1.75" fill="#000"/>
<circle cx="215.1" cy="873.38" r="1.75" fill="#000"/>
<circle cx="218.7" cy="872.53" r="1.75" fill="#000"/>
<circle cx="215.1" cy="875.9" r="1.75" fill="#000"/>
<circle cx="215.1" cy="878.43" r="1.75" fill="#000"/>
<circle cx="215.1" cy="888.95" r="1.75" fill="#000"/>
<path d="M229.4,901.16 C229.73,899.62 230.85,894.85 231.4,891.9 C231.95,888.95 232.62,886.64 232.7,883.48 C232.78,880.32 232.12,876.46 231.9,872.96 C231.68,869.45 231.15,866.29 231.4,862.43 C231.65,858.57 233.23,852.96 233.4,849.8 C233.57,846.64 233.07,845.59 232.4,843.49 C231.73,841.38 229.9,838.22 229.4,837.17 L228.4,837.17 C227.9,838.22 226.07,841.38 225.4,843.49 C224.73,845.59 224.23,846.64 224.4,849.8 C224.57,852.96 226.15,858.57 226.4,862.43 C226.65,866.29 226.12,869.45 225.9,872.96 C225.68,876.46 225.02,880.32 225.1,883.48 C225.18,886.64 225.85,888.95 226.4,891.9 C226.95,894.85 228.07,899.62 228.4,901.16 Z" fill="#f5b1a3"/>
<line x1="225.75" y1="887.69" x2="227.35" y2="887.69" stroke="#f29a38" stroke-width="1.1"/>
<line x1="230.45" y1="887.69" x2="232.05" y2="887.69" stroke="#f29a38" stroke-width="1.1"/>
<line x1="224.4" y1="849.8" x2="226" y2="849.8" stroke="#f29a38" stroke-width="1.1"/>
<line x1="231.8" y1="849.8" x2="233.4" y2="849.8" stroke="#f29a38" stroke-width="1.1"/>
<line x1="225.64" y1="876.32" x2="227.84" y2="876.32" stroke="#e8413c" stroke-width="1.5"/>
<line x1="229.96" y1="876.32" x2="232.16" y2="876.32" stroke="#e8413c" stroke-width="1.5"/>
<circle cx="228.9" cy="837.17" r="1.75" fill="#000"/>
<circle cx="228.9" cy="848.54" r="1.75" fill="#000"/>
<circle cx="232.5" cy="850.22" r="1.75" fill="#000"/>
<circle cx="228.9" cy="851.48" r="1.75" fill="#000"/>
<circle cx="228.9" cy="858.64" r="1.75" fill="#000"/>
<circle cx="228.9" cy="870.43" r="1.75" fill="#000"/>
<circle cx="228.9" cy="882.64" r="1.75" fill="#000"/>
<circle cx="232.5" cy="882.64" r="1.75" fill="#000"/>
<circle cx="225.3" cy="886.85" r="1.75" fill="#000"/>
<circle cx="228.9" cy="886.01" r="1.75" fill="#000"/>
<circle cx="228.9" cy="893.16" r="1.75" fill="#000"/>
<circle cx="228.9" cy="901.16" r="1.75" fill="#000"/>
<path d="M259,880.11 C259.25,879.27 260.17,877.31 260.5,875.06 C260.83,872.81 261.08,869.45 261,866.64 C260.92,863.83 260.58,861.03 260,858.22 C259.42,855.41 257.98,853.31 257.5,849.8 C257.02,846.29 257.13,841.38 257.1,837.17 C257.07,832.96 257.35,829.45 257.3,824.54 C257.25,819.63 256.88,813.38 256.8,807.7 C256.72,802.02 256.8,793.32 256.8,790.44 L256.2,790.44 C256.2,793.32 256.28,802.02 256.2,807.7 C256.12,813.38 255.75,819.63 255.7,824.54 C255.65,829.45 255.93,832.96 255.9,837.17 C255.87,841.38 255.98,846.29 255.5,849.8 C255.02,853.31 253.58,855.41 253,858.22 C252.42,861.03 252.08,863.83 252,866.64 C251.92,869.45 252.17,872.81 252.5,875.06 C252.83,877.31 253.75,879.27 254,880.11 Z" fill="#aeb8e2"/>
<line x1="253.75" y1="879.27" x2="255.35" y2="879.27" stroke="#f29a38" stroke-width="1.1"/>
<line x1="257.65" y1="879.27" x2="259.25" y2="879.27" stroke="#f29a38" stroke-width="1.1"/>
<line x1="254" y1="851.9" x2="255.6" y2="851.9" stroke="#f29a38" stroke-width="1.1"/>
<line x1="257.4" y1="851.9" x2="259" y2="851.9" stroke="#f29a38" stroke-width="1.1"/>
<line x1="252.1" y1="868.32" x2="254.3" y2="868.32" stroke="#e8413c" stroke-width="1.5"/>
<line x1="258.7" y1="868.32" x2="260.9" y2="868.32" stroke="#e8413c" stroke-width="1.5"/>
<circle cx="256.5" cy="790.44" r="1.75" fill="#000"/>
<circle cx="256.5" cy="827.07" r="1.75" fill="#000"/>
<circle cx="256.5" cy="859.48" r="1.75" fill="#000"/>
<circle cx="252.9" cy="865.8" r="1.75" fill="#000"/>
<circle cx="256.5" cy="865.38" r="1.75" fill="#000"/>
<circle cx="256.5" cy="868.75" r="1.75" fill="#000"/>
<circle cx="256.5" cy="872.96" r="1.75" fill="#000"/>
<circle cx="256.5" cy="878.85" r="1.75" fill="#000"/>
<circle cx="252.9" cy="880.11" r="1.75" fill="#000"/>
<circle cx="260.1" cy="879.69" r="1.75" fill="#000"/>
<path d="M271.3,903.27 C271.8,902.43 273.72,901.51 274.3,898.22 C274.88,894.92 274.88,888.04 274.8,883.48 C274.72,878.92 274.22,875.06 273.8,870.85 C273.38,866.64 272.72,862.43 272.3,858.22 C271.88,854.01 271.55,850.92 271.3,845.59 C271.05,840.26 270.88,829.45 270.8,826.22 L269.8,826.22 C269.72,829.45 269.55,840.26 269.3,845.59 C269.05,850.92 268.72,854.01 268.3,858.22 C267.88,862.43 267.22,866.64 266.8,870.85 C266.38,875.06 265.88,878.92 265.8,883.48 C265.72,888.04 265.72,894.92 266.3,898.22 C266.88,901.51 268.8,902.43 269.3,903.27 Z" fill="#aeb8e2"/>
<line x1="266.27" y1="897.37" x2="267.87" y2="897.37" stroke="#f29a38" stroke-width="1.1"/>
<line x1="272.73" y1="897.37" x2="274.33" y2="897.37" stroke="#f29a38" stroke-width="1.1"/>
<line x1="267.8" y1="860.33" x2="269.4" y2="860.33" stroke="#f29a38" stroke-width="1.1"/>
<line x1="271.2" y1="860.33" x2="272.8" y2="860.33" stroke="#f29a38" stroke-width="1.1"/>
<line x1="265.93" y1="881.8" x2="268.13" y2="881.8" stroke="#e8413c" stroke-width="1.5"/>
<line x1="272.47" y1="881.8" x2="274.67" y2="881.8" stroke="#e8413c" stroke-width="1.5"/>
<circle cx="270.3" cy="826.22" r="1.75" fill="#000"/>
<circle cx="270.3" cy="859.9" r="1.75" fill="#000"/>
<circle cx="270.3" cy="871.27" r="1.75" fill="#000"/>
<circle cx="270.3" cy="881.38" r="1.75" fill="#000"/>
<circle cx="268.14" cy="881.8" r="1.75" fill="#000"/>
<circle cx="272.46" cy="881.8" r="1.75" fill="#000"/>
<circle cx="270.3" cy="895.69" r="1.75" fill="#000"/>
<circle cx="270.3" cy="896.95" r="1.75" fill="#000"/>
<circle cx="270.3" cy="903.27" r="1.75" fill="#000"/>
<path d="M284.9,893.16 C285.1,892.6 285.65,891.41 286.1,889.79 C286.55,888.18 287.52,885.23 287.6,883.48 C287.68,881.73 286.93,881.02 286.6,879.27 C286.27,877.52 285.93,875.06 285.6,872.96 C285.27,870.85 284.77,867.69 284.6,866.64 L283.6,866.64 C283.43,867.69 282.93,870.85 282.6,872.96 C282.27,875.06 281.93,877.52 281.6,879.27 C281.27,881.02 280.52,881.73 280.6,883.48 C280.68,885.23 281.65,888.18 282.1,889.79 C282.55,891.41 283.1,892.6 283.3,893.16 Z" fill="#aeb8e2"/>
<line x1="281.6" y1="887.69" x2="283.2" y2="887.69" stroke="#f29a38" stroke-width="1.1"/>
<line x1="285" y1="887.69" x2="286.6" y2="887.69" stroke="#f29a38" stroke-width="1.1"/>
<line x1="281.6" y1="877.16" x2="283.2" y2="877.16" stroke="#f29a38" stroke-width="1.1"/>
<line x1="285" y1="877.16" x2="286.6" y2="877.16" stroke="#f29a38" stroke-width="1.1"/>
<line x1="280.9" y1="882.22" x2="283.1" y2="882.22" stroke="#e8413c" stroke-width="1.5"/>
<line x1="285.1" y1="882.22" x2="287.3" y2="882.22" stroke="#e8413c" stroke-width="1.5"/>
<circle cx="285.54" cy="867.48" r="1.75" fill="#000"/>
<circle cx="282.66" cy="872.96" r="1.75" fill="#000"/>
<circle cx="285.54" cy="878.43" r="1.75" fill="#000"/>
<circle cx="279.78" cy="882.64" r="1.75" fill="#000"/>
<circle cx="282.66" cy="882.22" r="1.75" fill="#000"/>
<circle cx="285.54" cy="881.8" r="1.75" fill="#000"/>
<circle cx="288.42" cy="881.8" r="1.75" fill="#000"/>
<circle cx="284.1" cy="883.48" r="1.75" fill="#000"/>
<circle cx="282.66" cy="888.53" r="1.75" fill="#000"/>
<circle cx="282.66" cy="890.22" r="1.75" fill="#000"/>
<circle cx="282.66" cy="893.16" r="1.75" fill="#000"/>
<path d="M298.7,885.16 C298.98,884.18 299.87,881.66 300.4,879.27 C300.93,876.88 301.82,873.31 301.9,870.85 C301.98,868.39 301.23,867.34 300.9,864.53 C300.57,861.73 300.15,857.17 299.9,854.01 C299.65,850.85 299.65,848.61 299.4,845.59 C299.15,842.57 298.57,837.52 298.4,835.91 L297.4,835.91 C297.23,837.52 296.65,842.57 296.4,845.59 C296.15,848.61 296.15,850.85 295.9,854.01 C295.65,857.17 295.23,861.73 294.9,864.53 C294.57,867.34 293.82,868.39 293.9,870.85 C293.98,873.31 294.87,876.88 295.4,879.27 C295.93,881.66 296.82,884.18 297.1,885.16 Z" fill="#aeb8e2"/>
<line x1="294.65" y1="875.06" x2="296.25" y2="875.06" stroke="#f29a38" stroke-width="1.1"/>
<line x1="299.55" y1="875.06" x2="301.15" y2="875.06" stroke="#f29a38" stroke-width="1.1"/>
<line x1="295.4" y1="851.9" x2="297" y2="851.9" stroke="#f29a38" stroke-width="1.1"/>
<line x1="298.8" y1="851.9" x2="300.4" y2="851.9" stroke="#f29a38" stroke-width="1.1"/>
<line x1="294.1" y1="869.59" x2="296.3" y2="869.59" stroke="#e8413c" stroke-width="1.5"/>
<line x1="299.5" y1="869.59" x2="301.7" y2="869.59" stroke="#e8413c" stroke-width="1.5"/>
<circle cx="297.9" cy="835.91" r="1.75" fill="#000"/>
<circle cx="297.9" cy="843.49" r="1.75" fill="#000"/>
<circle cx="297.9" cy="850.64" r="1.75" fill="#000"/>
<circle cx="297.9" cy="859.9" r="1.75" fill="#000"/>
<circle cx="297.9" cy="866.64" r="1.75" fill="#000"/>
<circle cx="297.9" cy="868.32" r="1.75" fill="#000"/>
<circle cx="294.3" cy="870.01" r="1.75" fill="#000"/>
<circle cx="297.9" cy="869.59" r="1.75" fill="#000"/>
<circle cx="301.5" cy="869.59" r="1.75" fill="#000"/>
<circle cx="294.3" cy="872.96" r="1.75" fill="#000"/>
<circle cx="301.5" cy="873.8" r="1.75" fill="#000"/>
<circle cx="301.5" cy="875.48" r="1.75" fill="#000"/>
<circle cx="297.9" cy="878.01" r="1.75" fill="#000"/>
<circle cx="297.9" cy="885.16" r="1.75" fill="#000"/>
<path d="M315.2,880.95 C315.37,879.97 316.45,877.09 316.2,875.06 C315.95,873.03 313.7,870.85 313.7,868.75 C313.7,866.64 315.87,864.53 316.2,862.43 C316.53,860.32 316.2,858.22 315.7,856.12 C315.2,854.01 313.77,852.96 313.2,849.8 C312.63,846.64 312.5,842.08 312.3,837.17 C312.1,832.26 312.05,825.66 312,820.33 C311.95,815 312,807.7 312,805.17 L311.4,805.17 C311.4,807.7 311.45,815 311.4,820.33 C311.35,825.66 311.3,832.26 311.1,837.17 C310.9,842.08 310.77,846.64 310.2,849.8 C309.63,852.96 308.2,854.01 307.7,856.12 C307.2,858.22 306.87,860.32 307.2,862.43 C307.53,864.53 309.7,866.64 309.7,868.75 C309.7,870.85 307.45,873.03 307.2,875.06 C306.95,877.09 308.03,879.97 308.2,880.95 Z" fill="#aeb8e2"/>
<line x1="307.53" y1="874.22" x2="309.13" y2="874.22" stroke="#f29a38" stroke-width="1.1"/>
<line x1="314.27" y1="874.22" x2="315.87" y2="874.22" stroke="#f29a38" stroke-width="1.1"/>
<line x1="307.6" y1="857.38" x2="309.2" y2="857.38" stroke="#f29a38" stroke-width="1.1"/>
<line x1="314.2" y1="857.38" x2="315.8" y2="857.38" stroke="#f29a38" stroke-width="1.1"/>
<line x1="307.37" y1="860.33" x2="309.57" y2="860.33" stroke="#e8413c" stroke-width="1.5"/>
<line x1="313.83" y1="860.33" x2="316.03" y2="860.33" stroke="#e8413c" stroke-width="1.5"/>
<circle cx="311.7" cy="805.17" r="1.75" fill="#000"/>
<circle cx="311.7" cy="835.91" r="1.75" fill="#000"/>
<circle cx="308.1" cy="857.38" r="1.75" fill="#000"/>
<circle cx="311.7" cy="856.96" r="1.75" fill="#000"/>
<circle cx="315.3" cy="856.54" r="1.75" fill="#000"/>
<circle cx="311.7" cy="858.64" r="1.75" fill="#000"/>
<circle cx="308.1" cy="874.22" r="1.75" fill="#000"/>
<circle cx="311.7" cy="874.22" r="1.75" fill="#000"/>
<circle cx="315.3" cy="873.38" r="1.75" fill="#000"/>
<circle cx="308.1" cy="880.95" r="1.75" fill="#000"/>
<circle cx="315.3" cy="880.11" r="1.75" fill="#000"/>
<path d="M326.5,904.53 C326.75,903.48 327.58,901.02 328,898.22 C328.42,895.41 328.83,891.55 329,887.69 C329.17,883.83 328.92,878.57 329,875.06 C329.08,871.55 329.67,869.1 329.5,866.64 C329.33,864.18 328.25,861.38 328,860.33 L323,860.33 C322.75,861.38 321.67,864.18 321.5,866.64 C321.33,869.1 321.92,871.55 322,875.06 C322.08,878.57 321.83,883.83 322,887.69 C322.17,891.55 322.58,895.41 323,898.22 C323.42,901.02 324.25,903.48 324.5,904.53 Z" fill="#aeb8e2"/>
<line x1="322.6" y1="894" x2="324.2" y2="894" stroke="#f29a38" stroke-width="1.1"/>
<line x1="326.8" y1="894" x2="328.4" y2="894" stroke="#f29a38" stroke-width="1.1"/>
<line x1="321.5" y1="866.64" x2="323.1" y2="866.64" stroke="#f29a38" stroke-width="1.1"/>
<line x1="327.9" y1="866.64" x2="329.5" y2="866.64" stroke="#f29a38" stroke-width="1.1"/>
<line x1="322" y1="880.95" x2="324.2" y2="880.95" stroke="#e8413c" stroke-width="1.5"/>
<line x1="326.8" y1="880.95" x2="329" y2="880.95" stroke="#e8413c" stroke-width="1.5"/>
<circle cx="325.5" cy="860.75" r="1.75" fill="#000"/>
<circle cx="321.9" cy="864.96" r="1.75" fill="#000"/>
<circle cx="325.5" cy="866.64" r="1.75" fill="#000"/>
<circle cx="325.5" cy="873.8" r="1.75" fill="#000"/>
<circle cx="325.5" cy="875.48" r="1.75" fill="#000"/>
<circle cx="321.9" cy="886.01" r="1.75" fill="#000"/>
<circle cx="325.5" cy="886.01" r="1.75" fill="#000"/>
<circle cx="325.5" cy="894.43" r="1.75" fill="#000"/>
<circle cx="325.5" cy="895.69" r="1.75" fill="#000"/>
<circle cx="325.5" cy="903.69" r="1.75" fill="#000"/>
<line x1="82.6" y1="765.1" x2="82.6" y2="934.6" stroke="#262626" stroke-width="1.2"/>
<line x1="74.6" y1="934" x2="339.3" y2="934" stroke="#3a3a3a" stroke-width="1.5"/>
<line x1="74.8" y1="934" x2="82.6" y2="934" stroke="#262626" stroke-width="1.2"/>
<text x="72" y="937.3" font-size="9.2" fill="#333" text-anchor="end">0</text>
<line x1="74.8" y1="891.9" x2="82.6" y2="891.9" stroke="#262626" stroke-width="1.2"/>
<text x="72" y="895.2" font-size="9.2" fill="#333" text-anchor="end">1</text>
<line x1="74.8" y1="849.8" x2="82.6" y2="849.8" stroke="#262626" stroke-width="1.2"/>
<text x="72" y="853.1" font-size="9.2" fill="#333" text-anchor="end">2</text>
<line x1="74.8" y1="807.7" x2="82.6" y2="807.7" stroke="#262626" stroke-width="1.2"/>
<text x="72" y="811" font-size="9.2" fill="#333" text-anchor="end">3</text>
<line x1="74.8" y1="765.6" x2="82.6" y2="765.6" stroke="#262626" stroke-width="1.2"/>
<text x="72" y="768.9" font-size="9.2" fill="#333" text-anchor="end">4</text>
<line x1="146.2" y1="765.6" x2="146.2" y2="934" stroke="#111" stroke-width="1" stroke-dasharray="1.1 1.1"/>
<line x1="242.7" y1="765.6" x2="242.7" y2="934" stroke="#111" stroke-width="1" stroke-dasharray="1.1 1.1"/>
<line x1="91.7" y1="934" x2="91.7" y2="941" stroke="#333" stroke-width="1.2"/>
<text x="96.9" y="947.6" font-size="9" fill="#333" text-anchor="end" transform="rotate(-45 96.9 947.6)">CAF#1</text>
<line x1="105.3" y1="934" x2="105.3" y2="941" stroke="#333" stroke-width="1.2"/>
<text x="110.5" y="947.6" font-size="9" fill="#333" text-anchor="end" transform="rotate(-45 110.5 947.6)">CAF#2</text>
<line x1="119" y1="934" x2="119" y2="941" stroke="#333" stroke-width="1.2"/>
<text x="124.2" y="947.6" font-size="9" fill="#333" text-anchor="end" transform="rotate(-45 124.2 947.6)">BF#1</text>
<line x1="132.6" y1="934" x2="132.6" y2="941" stroke="#333" stroke-width="1.2"/>
<text x="137.8" y="947.6" font-size="9" fill="#333" text-anchor="end" transform="rotate(-45 137.8 947.6)">BF#2</text>
<line x1="159.9" y1="934" x2="159.9" y2="941" stroke="#333" stroke-width="1.2"/>
<text x="165.1" y="947.6" font-size="9" fill="#333" text-anchor="end" transform="rotate(-45 165.1 947.6)">CAF#1</text>
<line x1="173.7" y1="934" x2="173.7" y2="941" stroke="#333" stroke-width="1.2"/>
<text x="178.9" y="947.6" font-size="9" fill="#333" text-anchor="end" transform="rotate(-45 178.9 947.6)">CAF#2</text>
<line x1="187.5" y1="934" x2="187.5" y2="941" stroke="#333" stroke-width="1.2"/>
<text x="192.7" y="947.6" font-size="9" fill="#333" text-anchor="end" transform="rotate(-45 192.7 947.6)">pCAF#1</text>
<line x1="201.3" y1="934" x2="201.3" y2="941" stroke="#333" stroke-width="1.2"/>
<text x="206.5" y="947.6" font-size="9" fill="#333" text-anchor="end" transform="rotate(-45 206.5 947.6)">pCAF#2</text>
<line x1="215.1" y1="934" x2="215.1" y2="941" stroke="#333" stroke-width="1.2"/>
<text x="220.3" y="947.6" font-size="9" fill="#333" text-anchor="end" transform="rotate(-45 220.3 947.6)">BF#1</text>
<line x1="228.9" y1="934" x2="228.9" y2="941" stroke="#333" stroke-width="1.2"/>
<text x="234.1" y="947.6" font-size="9" fill="#333" text-anchor="end" transform="rotate(-45 234.1 947.6)">BF#2</text>
<line x1="256.5" y1="934" x2="256.5" y2="941" stroke="#333" stroke-width="1.2"/>
<text x="261.7" y="947.6" font-size="9" fill="#333" text-anchor="end" transform="rotate(-45 261.7 947.6)">CAF#1</text>
<line x1="270.3" y1="934" x2="270.3" y2="941" stroke="#333" stroke-width="1.2"/>
<text x="275.5" y="947.6" font-size="9" fill="#333" text-anchor="end" transform="rotate(-45 275.5 947.6)">CAF#2</text>
<line x1="284.1" y1="934" x2="284.1" y2="941" stroke="#333" stroke-width="1.2"/>
<text x="289.3" y="947.6" font-size="9" fill="#333" text-anchor="end" transform="rotate(-45 289.3 947.6)">pCAF#1</text>
<line x1="297.9" y1="934" x2="297.9" y2="941" stroke="#333" stroke-width="1.2"/>
<text x="303.1" y="947.6" font-size="9" fill="#333" text-anchor="end" transform="rotate(-45 303.1 947.6)">pCAF#2</text>
<line x1="311.7" y1="934" x2="311.7" y2="941" stroke="#333" stroke-width="1.2"/>
<text x="316.9" y="947.6" font-size="9" fill="#333" text-anchor="end" transform="rotate(-45 316.9 947.6)">BF#1</text>
<line x1="325.5" y1="934" x2="325.5" y2="941" stroke="#333" stroke-width="1.2"/>
<text x="330.7" y="947.6" font-size="9" fill="#333" text-anchor="end" transform="rotate(-45 330.7 947.6)">BF#2</text>
<text x="48.3" y="840.8" font-size="11.7" fill="#1a1a1a" text-anchor="middle" transform="rotate(-90 48.3 840.8)">Ratio intensity fluorescence</text>
<text x="62" y="840.8" font-size="11.7" fill="#1a1a1a" text-anchor="middle" transform="rotate(-90 62 840.8)">EDGE/OUT</text>
<path d="M402,899.04 C402.25,898.09 402.92,895.41 403.5,893.34 C404.08,891.27 405.25,888.87 405.5,886.63 C405.75,884.39 405.25,882.16 405,879.92 C404.75,877.68 403.92,875.17 404,873.21 C404.08,871.25 405.5,869.41 405.5,868.18 C405.5,866.95 404.25,866.22 404,865.83 L399,865.83 C398.75,866.22 397.5,866.95 397.5,868.18 C397.5,869.41 398.92,871.25 399,873.21 C399.08,875.17 398.25,877.68 398,879.92 C397.75,882.16 397.25,884.39 397.5,886.63 C397.75,888.87 398.92,891.27 399.5,893.34 C400.08,895.41 400.75,898.09 401,899.04 Z" fill="#a8d3b0"/>
<line x1="398" y1="888.31" x2="399.6" y2="888.31" stroke="#f29a38" stroke-width="1.1"/>
<line x1="403.4" y1="888.31" x2="405" y2="888.31" stroke="#f29a38" stroke-width="1.1"/>
<line x1="398" y1="869.86" x2="399.6" y2="869.86" stroke="#f29a38" stroke-width="1.1"/>
<line x1="403.4" y1="869.86" x2="405" y2="869.86" stroke="#f29a38" stroke-width="1.1"/>
<line x1="397.82" y1="882.27" x2="400.02" y2="882.27" stroke="#e8413c" stroke-width="1.5"/>
<line x1="402.98" y1="882.27" x2="405.18" y2="882.27" stroke="#e8413c" stroke-width="1.5"/>
<circle cx="397.9" cy="866.84" r="1.75" fill="#000"/>
<circle cx="400.06" cy="866.5" r="1.75" fill="#000"/>
<circle cx="402.22" cy="866.84" r="1.75" fill="#000"/>
<circle cx="404.38" cy="867.51" r="1.75" fill="#000"/>
<circle cx="399.34" cy="868.85" r="1.75" fill="#000"/>
<circle cx="402.94" cy="868.18" r="1.75" fill="#000"/>
<circle cx="401.5" cy="876.23" r="1.75" fill="#000"/>
<circle cx="397.9" cy="880.93" r="1.75" fill="#000"/>
<circle cx="401.5" cy="880.93" r="1.75" fill="#000"/>
<circle cx="405.1" cy="880.93" r="1.75" fill="#000"/>
<circle cx="397.9" cy="884.95" r="1.75" fill="#000"/>
<circle cx="401.5" cy="883.95" r="1.75" fill="#000"/>
<circle cx="405.1" cy="884.95" r="1.75" fill="#000"/>
<circle cx="397.9" cy="888.98" r="1.75" fill="#000"/>
<circle cx="401.5" cy="887.97" r="1.75" fill="#000"/>
<circle cx="405.1" cy="888.64" r="1.75" fill="#000"/>
<circle cx="401.5" cy="897.03" r="1.75" fill="#000"/>
<circle cx="401.5" cy="899.04" r="1.75" fill="#000"/>
<path d="M416.1,889.99 C416.43,888.87 417.6,886.07 418.1,883.27 C418.6,880.48 418.85,876.01 419.1,873.21 C419.35,870.41 419.77,869.3 419.6,866.5 C419.43,863.7 418.6,860.35 418.1,856.44 C417.6,852.52 416.93,848.05 416.6,843.01 C416.27,837.98 416.22,831.27 416.1,826.24 C415.98,821.21 415.98,816.85 415.9,812.82 C415.82,808.79 415.65,803.87 415.6,802.08 L414.6,802.08 C414.55,803.87 414.38,808.79 414.3,812.82 C414.22,816.85 414.22,821.21 414.1,826.24 C413.98,831.27 413.93,837.98 413.6,843.01 C413.27,848.05 412.6,852.52 412.1,856.44 C411.6,860.35 410.77,863.7 410.6,866.5 C410.43,869.3 410.85,870.41 411.1,873.21 C411.35,876.01 411.6,880.48 412.1,883.27 C412.6,886.07 413.77,888.87 414.1,889.99 Z" fill="#a8d3b0"/>
<line x1="411.73" y1="879.58" x2="413.33" y2="879.58" stroke="#f29a38" stroke-width="1.1"/>
<line x1="416.87" y1="879.58" x2="418.47" y2="879.58" stroke="#f29a38" stroke-width="1.1"/>
<line x1="412.36" y1="854.09" x2="413.96" y2="854.09" stroke="#f29a38" stroke-width="1.1"/>
<line x1="416.24" y1="854.09" x2="417.84" y2="854.09" stroke="#f29a38" stroke-width="1.1"/>
<line x1="410.6" y1="866.5" x2="412.8" y2="866.5" stroke="#e8413c" stroke-width="1.5"/>
<line x1="417.4" y1="866.5" x2="419.6" y2="866.5" stroke="#e8413c" stroke-width="1.5"/>
<circle cx="415.1" cy="802.08" r="1.75" fill="#000"/>
<circle cx="415.1" cy="814.5" r="1.75" fill="#000"/>
<circle cx="416.9" cy="826.58" r="1.75" fill="#000"/>
<circle cx="416.9" cy="838.32" r="1.75" fill="#000"/>
<circle cx="416.9" cy="853.08" r="1.75" fill="#000"/>
<circle cx="415.1" cy="859.12" r="1.75" fill="#000"/>
<circle cx="416.9" cy="860.8" r="1.75" fill="#000"/>
<circle cx="411.5" cy="866.5" r="1.75" fill="#000"/>
<circle cx="413.66" cy="866.5" r="1.75" fill="#000"/>
<circle cx="416.18" cy="866.5" r="1.75" fill="#000"/>
<circle cx="418.34" cy="866.5" r="1.75" fill="#000"/>
<circle cx="415.1" cy="869.18" r="1.75" fill="#000"/>
<circle cx="416.9" cy="869.18" r="1.75" fill="#000"/>
<circle cx="415.1" cy="873.55" r="1.75" fill="#000"/>
<circle cx="416.9" cy="873.55" r="1.75" fill="#000"/>
<circle cx="415.1" cy="876.23" r="1.75" fill="#000"/>
<circle cx="415.1" cy="879.25" r="1.75" fill="#000"/>
<circle cx="416.9" cy="879.58" r="1.75" fill="#000"/>
<circle cx="415.1" cy="883.61" r="1.75" fill="#000"/>
<circle cx="415.1" cy="886.97" r="1.75" fill="#000"/>
<circle cx="415.1" cy="889.65" r="1.75" fill="#000"/>
<path d="M429.8,891.66 C430.13,890.82 431.3,889.15 431.8,886.63 C432.3,884.11 432.55,879.92 432.8,876.57 C433.05,873.21 433.47,869.86 433.3,866.5 C433.13,863.14 432.3,860.35 431.8,856.44 C431.3,852.52 430.7,848.05 430.3,843.01 C429.9,837.98 429.6,832.39 429.4,826.24 C429.2,820.09 429.1,812.48 429.1,806.11 C429.1,799.74 429.35,791.01 429.4,787.99 L428.2,787.99 C428.25,791.01 428.5,799.74 428.5,806.11 C428.5,812.48 428.4,820.09 428.2,826.24 C428,832.39 427.7,837.98 427.3,843.01 C426.9,848.05 426.3,852.52 425.8,856.44 C425.3,860.35 424.47,863.14 424.3,866.5 C424.13,869.86 424.55,873.21 424.8,876.57 C425.05,879.92 425.3,884.11 425.8,886.63 C426.3,889.15 427.47,890.82 427.8,891.66 Z" fill="#a8d3b0"/>
<line x1="425.43" y1="882.94" x2="427.03" y2="882.94" stroke="#f29a38" stroke-width="1.1"/>
<line x1="430.57" y1="882.94" x2="432.17" y2="882.94" stroke="#f29a38" stroke-width="1.1"/>
<line x1="425.99" y1="854.76" x2="427.59" y2="854.76" stroke="#f29a38" stroke-width="1.1"/>
<line x1="430.01" y1="854.76" x2="431.61" y2="854.76" stroke="#f29a38" stroke-width="1.1"/>
<line x1="424.45" y1="869.52" x2="426.65" y2="869.52" stroke="#e8413c" stroke-width="1.5"/>
<line x1="430.95" y1="869.52" x2="433.15" y2="869.52" stroke="#e8413c" stroke-width="1.5"/>
<circle cx="425.2" cy="787.99" r="1.75" fill="#000"/>
<circle cx="432.4" cy="787.99" r="1.75" fill="#000"/>
<circle cx="428.8" cy="819.87" r="1.75" fill="#000"/>
<circle cx="428.8" cy="833.29" r="1.75" fill="#000"/>
<circle cx="428.8" cy="841.67" r="1.75" fill="#000"/>
<circle cx="428.8" cy="855.09" r="1.75" fill="#000"/>
<circle cx="428.8" cy="859.12" r="1.75" fill="#000"/>
<circle cx="431.32" cy="861.47" r="1.75" fill="#000"/>
<circle cx="426.28" cy="867.17" r="1.75" fill="#000"/>
<circle cx="428.8" cy="866.84" r="1.75" fill="#000"/>
<circle cx="431.32" cy="868.51" r="1.75" fill="#000"/>
<circle cx="426.28" cy="872.2" r="1.75" fill="#000"/>
<circle cx="428.8" cy="873.55" r="1.75" fill="#000"/>
<circle cx="431.32" cy="872.2" r="1.75" fill="#000"/>
<circle cx="428.8" cy="877.24" r="1.75" fill="#000"/>
<circle cx="428.8" cy="883.27" r="1.75" fill="#000"/>
<circle cx="426.28" cy="886.97" r="1.75" fill="#000"/>
<circle cx="431.32" cy="886.97" r="1.75" fill="#000"/>
<circle cx="428.8" cy="889.31" r="1.75" fill="#000"/>
<circle cx="428.8" cy="890.66" r="1.75" fill="#000"/>
<path d="M444,895.02 C444.25,894.18 445.17,892.5 445.5,889.99 C445.83,887.47 445.83,883.28 446,879.92 C446.17,876.57 446.58,873.21 446.5,869.86 C446.42,866.5 445.83,863.14 445.5,859.79 C445.17,856.43 444.87,853.08 444.5,849.73 C444.13,846.37 443.58,844.69 443.3,839.66 C443.02,834.63 442.83,825.68 442.8,819.53 C442.77,813.38 443.1,807.12 443.1,802.75 C443.1,798.39 442.85,794.93 442.8,793.36 L442.2,793.36 C442.15,794.93 441.9,798.39 441.9,802.75 C441.9,807.12 442.23,813.38 442.2,819.53 C442.17,825.68 441.98,834.63 441.7,839.66 C441.42,844.69 440.87,846.37 440.5,849.73 C440.13,853.08 439.83,856.43 439.5,859.79 C439.17,863.14 438.58,866.5 438.5,869.86 C438.42,873.21 438.83,876.57 439,879.92 C439.17,883.28 439.17,887.47 439.5,889.99 C439.83,892.5 440.75,894.18 441,895.02 Z" fill="#a8d3b0"/>
<line x1="439.15" y1="882.94" x2="440.75" y2="882.94" stroke="#f29a38" stroke-width="1.1"/>
<line x1="444.25" y1="882.94" x2="445.85" y2="882.94" stroke="#f29a38" stroke-width="1.1"/>
<line x1="439" y1="864.82" x2="440.6" y2="864.82" stroke="#f29a38" stroke-width="1.1"/>
<line x1="444.4" y1="864.82" x2="446" y2="864.82" stroke="#f29a38" stroke-width="1.1"/>
<line x1="438.68" y1="873.55" x2="440.88" y2="873.55" stroke="#e8413c" stroke-width="1.5"/>
<line x1="444.12" y1="873.55" x2="446.32" y2="873.55" stroke="#e8413c" stroke-width="1.5"/>
<circle cx="442.5" cy="793.36" r="1.75" fill="#000"/>
<circle cx="442.5" cy="802.42" r="1.75" fill="#000"/>
<circle cx="442.5" cy="850.73" r="1.75" fill="#000"/>
<circle cx="445.02" cy="851.07" r="1.75" fill="#000"/>
<circle cx="442.5" cy="857.78" r="1.75" fill="#000"/>
<circle cx="439.98" cy="865.83" r="1.75" fill="#000"/>
<circle cx="442.5" cy="865.83" r="1.75" fill="#000"/>
<circle cx="445.02" cy="865.83" r="1.75" fill="#000"/>
<circle cx="439.98" cy="869.18" r="1.75" fill="#000"/>
<circle cx="442.5" cy="868.51" r="1.75" fill="#000"/>
<circle cx="445.02" cy="869.18" r="1.75" fill="#000"/>
<circle cx="439.98" cy="878.24" r="1.75" fill="#000"/>
<circle cx="442.5" cy="877.91" r="1.75" fill="#000"/>
<circle cx="445.02" cy="878.91" r="1.75" fill="#000"/>
<circle cx="442.5" cy="881.6" r="1.75" fill="#000"/>
<circle cx="439.98" cy="883.27" r="1.75" fill="#000"/>
<circle cx="442.5" cy="886.29" r="1.75" fill="#000"/>
<circle cx="445.02" cy="886.29" r="1.75" fill="#000"/>
<circle cx="442.5" cy="892.33" r="1.75" fill="#000"/>
<circle cx="439.98" cy="895.02" r="1.75" fill="#000"/>
<circle cx="445.02" cy="894.35" r="1.75" fill="#000"/>
<path d="M469.7,877.57 C469.95,876.84 470.78,875.06 471.2,873.21 C471.62,871.36 471.87,868.74 472.2,866.5 C472.53,864.26 473.2,862.03 473.2,859.79 C473.2,857.55 472.78,855.37 472.2,853.08 C471.62,850.79 470.12,847.21 469.7,846.03 L468.7,846.03 C468.28,847.21 466.78,850.79 466.2,853.08 C465.62,855.37 465.2,857.55 465.2,859.79 C465.2,862.03 465.87,864.26 466.2,866.5 C466.53,868.74 466.78,871.36 467.2,873.21 C467.62,875.06 468.45,876.84 468.7,877.57 Z" fill="#f5b1a3"/>
<line x1="466.6" y1="869.18" x2="468.2" y2="869.18" stroke="#f29a38" stroke-width="1.1"/>
<line x1="470.2" y1="869.18" x2="471.8" y2="869.18" stroke="#f29a38" stroke-width="1.1"/>
<line x1="466.2" y1="853.08" x2="467.8" y2="853.08" stroke="#f29a38" stroke-width="1.1"/>
<line x1="470.6" y1="853.08" x2="472.2" y2="853.08" stroke="#f29a38" stroke-width="1.1"/>
<line x1="465.65" y1="862.81" x2="467.85" y2="862.81" stroke="#e8413c" stroke-width="1.5"/>
<line x1="470.55" y1="862.81" x2="472.75" y2="862.81" stroke="#e8413c" stroke-width="1.5"/>
<circle cx="469.2" cy="846.03" r="1.75" fill="#000"/>
<circle cx="469.2" cy="852.74" r="1.75" fill="#000"/>
<circle cx="472.08" cy="851.74" r="1.75" fill="#000"/>
<circle cx="469.2" cy="857.44" r="1.75" fill="#000"/>
<circle cx="469.2" cy="859.45" r="1.75" fill="#000"/>
<circle cx="469.2" cy="864.15" r="1.75" fill="#000"/>
<circle cx="469.2" cy="866.16" r="1.75" fill="#000"/>
<circle cx="469.2" cy="869.52" r="1.75" fill="#000"/>
<circle cx="472.08" cy="868.85" r="1.75" fill="#000"/>
<circle cx="469.2" cy="877.57" r="1.75" fill="#000"/>
<path d="M485.8,861.47 C485.97,860.63 486.72,859.51 486.8,856.44 C486.88,853.36 486.55,846.93 486.3,843.01 C486.05,839.1 485.47,836.86 485.3,832.95 C485.13,829.04 485.38,824 485.3,819.53 C485.22,815.06 484.97,809.74 484.8,806.11 C484.63,802.48 484.38,799.12 484.3,797.72 L481.3,797.72 C481.22,799.12 480.97,802.48 480.8,806.11 C480.63,809.74 480.38,815.06 480.3,819.53 C480.22,824 480.47,829.04 480.3,832.95 C480.13,836.86 479.55,839.1 479.3,843.01 C479.05,846.93 478.72,853.36 478.8,856.44 C478.88,859.51 479.63,860.63 479.8,861.47 Z" fill="#f5b1a3"/>
<line x1="478.8" y1="856.44" x2="480.4" y2="856.44" stroke="#f29a38" stroke-width="1.1"/>
<line x1="485.2" y1="856.44" x2="486.8" y2="856.44" stroke="#f29a38" stroke-width="1.1"/>
<line x1="480.3" y1="818.52" x2="481.9" y2="818.52" stroke="#f29a38" stroke-width="1.1"/>
<line x1="483.7" y1="818.52" x2="485.3" y2="818.52" stroke="#f29a38" stroke-width="1.1"/>
<line x1="479.7" y1="838.99" x2="481.9" y2="838.99" stroke="#e8413c" stroke-width="1.5"/>
<line x1="483.7" y1="838.99" x2="485.9" y2="838.99" stroke="#e8413c" stroke-width="1.5"/>
<circle cx="482.8" cy="798.06" r="1.75" fill="#000"/>
<circle cx="485.68" cy="797.39" r="1.75" fill="#000"/>
<circle cx="482.8" cy="818.52" r="1.75" fill="#000"/>
<circle cx="485.68" cy="818.19" r="1.75" fill="#000"/>
<circle cx="482.8" cy="831.27" r="1.75" fill="#000"/>
<circle cx="479.92" cy="838.99" r="1.75" fill="#000"/>
<circle cx="482.8" cy="838.32" r="1.75" fill="#000"/>
<circle cx="482.8" cy="841" r="1.75" fill="#000"/>
<circle cx="482.8" cy="851.74" r="1.75" fill="#000"/>
<circle cx="482.8" cy="854.09" r="1.75" fill="#000"/>
<circle cx="482.8" cy="856.44" r="1.75" fill="#000"/>
<circle cx="482.8" cy="858.45" r="1.75" fill="#000"/>
<circle cx="482.8" cy="859.79" r="1.75" fill="#000"/>
<path d="M499.4,884.95 C499.23,884.11 498.73,881.88 498.4,879.92 C498.07,877.96 497.48,875.45 497.4,873.21 C497.32,870.97 497.57,869.3 497.9,866.5 C498.23,863.7 499.07,859.79 499.4,856.44 C499.73,853.08 499.98,849.73 499.9,846.37 C499.82,843.01 499.23,840.22 498.9,836.31 C498.57,832.39 498.07,825.12 497.9,822.88 L494.9,822.88 C494.73,825.12 494.23,832.39 493.9,836.31 C493.57,840.22 492.98,843.01 492.9,846.37 C492.82,849.73 493.07,853.08 493.4,856.44 C493.73,859.79 494.57,863.7 494.9,866.5 C495.23,869.3 495.48,870.97 495.4,873.21 C495.32,875.45 494.73,877.96 494.4,879.92 C494.07,881.88 493.57,884.11 493.4,884.95 Z" fill="#f5b1a3"/>
<line x1="493.9" y1="874.89" x2="495.5" y2="874.89" stroke="#f29a38" stroke-width="1.1"/>
<line x1="497.3" y1="874.89" x2="498.9" y2="874.89" stroke="#f29a38" stroke-width="1.1"/>
<line x1="493.9" y1="836.31" x2="495.5" y2="836.31" stroke="#f29a38" stroke-width="1.1"/>
<line x1="497.3" y1="836.31" x2="498.9" y2="836.31" stroke="#f29a38" stroke-width="1.1"/>
<line x1="493.15" y1="851.4" x2="495.35" y2="851.4" stroke="#e8413c" stroke-width="1.5"/>
<line x1="497.45" y1="851.4" x2="499.65" y2="851.4" stroke="#e8413c" stroke-width="1.5"/>
<circle cx="496.4" cy="822.88" r="1.75" fill="#000"/>
<circle cx="496.4" cy="825.23" r="1.75" fill="#000"/>
<circle cx="496.4" cy="841.67" r="1.75" fill="#000"/>
<circle cx="496.4" cy="845.7" r="1.75" fill="#000"/>
<circle cx="496.4" cy="847.04" r="1.75" fill="#000"/>
<circle cx="493.52" cy="855.09" r="1.75" fill="#000"/>
<circle cx="499.28" cy="855.09" r="1.75" fill="#000"/>
<circle cx="496.4" cy="877.24" r="1.75" fill="#000"/>
<circle cx="493.52" cy="883.95" r="1.75" fill="#000"/>
<circle cx="499.28" cy="883.95" r="1.75" fill="#000"/>
<path d="M511,868.18 C511.33,867.34 512.58,865.1 513,863.14 C513.42,861.19 513.67,858.67 513.5,856.44 C513.33,854.2 512.45,851.96 512,849.73 C511.55,847.49 510.8,845.81 510.8,843.01 C510.8,840.22 511.55,836.31 512,832.95 C512.45,829.6 513.33,826.24 513.5,822.88 C513.67,819.53 513.42,816.34 513,812.82 C512.58,809.3 511.33,803.59 511,801.75 L509,801.75 C508.67,803.59 507.42,809.3 507,812.82 C506.58,816.34 506.33,819.53 506.5,822.88 C506.67,826.24 507.55,829.6 508,832.95 C508.45,836.31 509.2,840.22 509.2,843.01 C509.2,845.81 508.45,847.49 508,849.73 C507.55,851.96 506.67,854.2 506.5,856.44 C506.33,858.67 506.58,861.19 507,863.14 C507.42,865.1 508.67,867.34 509,868.18 Z" fill="#f5b1a3"/>
<line x1="506.7" y1="859.12" x2="508.3" y2="859.12" stroke="#f29a38" stroke-width="1.1"/>
<line x1="511.7" y1="859.12" x2="513.3" y2="859.12" stroke="#f29a38" stroke-width="1.1"/>
<line x1="506.97" y1="813.49" x2="508.57" y2="813.49" stroke="#f29a38" stroke-width="1.1"/>
<line x1="511.43" y1="813.49" x2="513.03" y2="813.49" stroke="#f29a38" stroke-width="1.1"/>
<line x1="506.55" y1="823.22" x2="508.75" y2="823.22" stroke="#e8413c" stroke-width="1.5"/>
<line x1="511.25" y1="823.22" x2="513.45" y2="823.22" stroke="#e8413c" stroke-width="1.5"/>
<circle cx="510" cy="802.42" r="1.75" fill="#000"/>
<circle cx="510" cy="812.15" r="1.75" fill="#000"/>
<circle cx="510" cy="816.18" r="1.75" fill="#000"/>
<circle cx="510" cy="823.22" r="1.75" fill="#000"/>
<circle cx="512.88" cy="823.22" r="1.75" fill="#000"/>
<circle cx="510" cy="856.44" r="1.75" fill="#000"/>
<circle cx="510" cy="858.78" r="1.75" fill="#000"/>
<circle cx="510" cy="865.49" r="1.75" fill="#000"/>
<path d="M524.6,854.76 C524.68,853.92 524.68,852.24 525.1,849.73 C525.52,847.21 526.85,842.46 527.1,839.66 C527.35,836.86 526.77,835.19 526.6,832.95 C526.43,830.71 526.43,828.31 526.1,826.24 C525.77,824.17 524.85,821.49 524.6,820.54 L522.6,820.54 C522.35,821.49 521.43,824.17 521.1,826.24 C520.77,828.31 520.77,830.71 520.6,832.95 C520.43,835.19 519.85,836.86 520.1,839.66 C520.35,842.46 521.68,847.21 522.1,849.73 C522.52,852.24 522.52,853.92 522.6,854.76 Z" fill="#f5b1a3"/>
<line x1="521.1" y1="847.04" x2="522.7" y2="847.04" stroke="#f29a38" stroke-width="1.1"/>
<line x1="524.5" y1="847.04" x2="526.1" y2="847.04" stroke="#f29a38" stroke-width="1.1"/>
<line x1="520.85" y1="829.6" x2="522.45" y2="829.6" stroke="#f29a38" stroke-width="1.1"/>
<line x1="524.75" y1="829.6" x2="526.35" y2="829.6" stroke="#f29a38" stroke-width="1.1"/>
<line x1="520.3" y1="836.98" x2="522.5" y2="836.98" stroke="#e8413c" stroke-width="1.5"/>
<line x1="524.7" y1="836.98" x2="526.9" y2="836.98" stroke="#e8413c" stroke-width="1.5"/>
<circle cx="523.6" cy="820.87" r="1.75" fill="#000"/>
<circle cx="523.6" cy="823.56" r="1.75" fill="#000"/>
<circle cx="523.6" cy="828.92" r="1.75" fill="#000"/>
<circle cx="523.6" cy="831.61" r="1.75" fill="#000"/>
<circle cx="523.6" cy="832.95" r="1.75" fill="#000"/>
<circle cx="523.6" cy="834.29" r="1.75" fill="#000"/>
<circle cx="523.6" cy="836.64" r="1.75" fill="#000"/>
<circle cx="520.72" cy="837.98" r="1.75" fill="#000"/>
<circle cx="526.48" cy="839.32" r="1.75" fill="#000"/>
<circle cx="523.6" cy="841.34" r="1.75" fill="#000"/>
<circle cx="523.6" cy="843.35" r="1.75" fill="#000"/>
<circle cx="523.6" cy="847.71" r="1.75" fill="#000"/>
<circle cx="523.6" cy="853.42" r="1.75" fill="#000"/>
<circle cx="523.6" cy="855.09" r="1.75" fill="#000"/>
<path d="M537.7,874.89 C537.95,874.05 538.78,871.81 539.2,869.86 C539.62,867.9 539.87,865.66 540.2,863.14 C540.53,860.63 541.28,857.55 541.2,854.76 C541.12,851.96 540.2,848.89 539.7,846.37 C539.2,843.85 538.55,843.02 538.2,839.66 C537.85,836.31 537.72,830.71 537.6,826.24 C537.48,821.77 537.52,817.13 537.5,812.82 C537.48,808.51 537.5,802.48 537.5,800.41 L536.9,800.41 C536.9,802.48 536.92,808.51 536.9,812.82 C536.88,817.13 536.92,821.77 536.8,826.24 C536.68,830.71 536.55,836.31 536.2,839.66 C535.85,843.02 535.2,843.85 534.7,846.37 C534.2,848.89 533.28,851.96 533.2,854.76 C533.12,857.55 533.87,860.63 534.2,863.14 C534.53,865.66 534.78,867.9 535.2,869.86 C535.62,871.81 536.45,874.05 536.7,874.89 Z" fill="#f5b1a3"/>
<line x1="534.7" y1="873.21" x2="536.3" y2="873.21" stroke="#f29a38" stroke-width="1.1"/>
<line x1="538.1" y1="873.21" x2="539.7" y2="873.21" stroke="#f29a38" stroke-width="1.1"/>
<line x1="534.1" y1="849.73" x2="535.7" y2="849.73" stroke="#f29a38" stroke-width="1.1"/>
<line x1="538.7" y1="849.73" x2="540.3" y2="849.73" stroke="#f29a38" stroke-width="1.1"/>
<line x1="533.24" y1="855.09" x2="535.44" y2="855.09" stroke="#e8413c" stroke-width="1.5"/>
<line x1="538.96" y1="855.09" x2="541.16" y2="855.09" stroke="#e8413c" stroke-width="1.5"/>
<circle cx="537.2" cy="800.41" r="1.75" fill="#000"/>
<circle cx="537.2" cy="822.21" r="1.75" fill="#000"/>
<circle cx="537.2" cy="847.71" r="1.75" fill="#000"/>
<circle cx="534.32" cy="854.42" r="1.75" fill="#000"/>
<circle cx="537.2" cy="855.43" r="1.75" fill="#000"/>
<circle cx="540.08" cy="855.09" r="1.75" fill="#000"/>
<circle cx="534.32" cy="856.1" r="1.75" fill="#000"/>
<circle cx="537.2" cy="856.1" r="1.75" fill="#000"/>
<circle cx="537.2" cy="870.86" r="1.75" fill="#000"/>
<circle cx="537.2" cy="873.55" r="1.75" fill="#000"/>
<circle cx="537.2" cy="875.56" r="1.75" fill="#000"/>
<circle cx="537.2" cy="877.24" r="1.75" fill="#000"/>
<path d="M565.2,889.99 C565.28,888.87 565.45,885.51 565.7,883.27 C565.95,881.04 566.28,878.8 566.7,876.57 C567.12,874.33 567.95,872.09 568.2,869.86 C568.45,867.62 568.62,864.54 568.2,863.14 C567.78,861.75 566.12,861.75 565.7,861.47 L563.7,861.47 C563.28,861.75 561.62,861.75 561.2,863.14 C560.78,864.54 560.95,867.62 561.2,869.86 C561.45,872.09 562.28,874.33 562.7,876.57 C563.12,878.8 563.45,881.04 563.7,883.27 C563.95,885.51 564.12,888.87 564.2,889.99 Z" fill="#aeb8e2"/>
<line x1="562.2" y1="874.89" x2="563.8" y2="874.89" stroke="#f29a38" stroke-width="1.1"/>
<line x1="565.6" y1="874.89" x2="567.2" y2="874.89" stroke="#f29a38" stroke-width="1.1"/>
<line x1="561.2" y1="864.82" x2="562.8" y2="864.82" stroke="#f29a38" stroke-width="1.1"/>
<line x1="566.6" y1="864.82" x2="568.2" y2="864.82" stroke="#f29a38" stroke-width="1.1"/>
<line x1="561.2" y1="869.18" x2="563.4" y2="869.18" stroke="#e8413c" stroke-width="1.5"/>
<line x1="566" y1="869.18" x2="568.2" y2="869.18" stroke="#e8413c" stroke-width="1.5"/>
<circle cx="561.1" cy="862.47" r="1.75" fill="#000"/>
<circle cx="564.7" cy="863.14" r="1.75" fill="#000"/>
<circle cx="568.3" cy="862.47" r="1.75" fill="#000"/>
<circle cx="566.5" cy="866.84" r="1.75" fill="#000"/>
<circle cx="568.3" cy="866.84" r="1.75" fill="#000"/>
<circle cx="561.1" cy="869.86" r="1.75" fill="#000"/>
<circle cx="564.7" cy="868.51" r="1.75" fill="#000"/>
<circle cx="564.7" cy="869.52" r="1.75" fill="#000"/>
<circle cx="564.7" cy="874.55" r="1.75" fill="#000"/>
<circle cx="564.7" cy="876.57" r="1.75" fill="#000"/>
<circle cx="564.7" cy="889.99" r="1.75" fill="#000"/>
<path d="M579.4,884.95 C579.57,884.11 579.98,881.88 580.4,879.92 C580.82,877.96 581.57,875.17 581.9,873.21 C582.23,871.25 582.57,869.86 582.4,868.18 C582.23,866.5 581.32,865.1 580.9,863.14 C580.48,861.19 580.15,858.67 579.9,856.44 C579.65,854.2 579.48,850.84 579.4,849.73 L577.4,849.73 C577.32,850.84 577.15,854.2 576.9,856.44 C576.65,858.67 576.32,861.19 575.9,863.14 C575.48,865.1 574.57,866.5 574.4,868.18 C574.23,869.86 574.57,871.25 574.9,873.21 C575.23,875.17 575.98,877.96 576.4,879.92 C576.82,881.88 577.23,884.11 577.4,884.95 Z" fill="#aeb8e2"/>
<line x1="575.9" y1="879.92" x2="577.5" y2="879.92" stroke="#f29a38" stroke-width="1.1"/>
<line x1="579.3" y1="879.92" x2="580.9" y2="879.92" stroke="#f29a38" stroke-width="1.1"/>
<line x1="575.9" y1="858.11" x2="577.5" y2="858.11" stroke="#f29a38" stroke-width="1.1"/>
<line x1="579.3" y1="858.11" x2="580.9" y2="858.11" stroke="#f29a38" stroke-width="1.1"/>
<line x1="574.5" y1="869.18" x2="576.7" y2="869.18" stroke="#e8413c" stroke-width="1.5"/>
<line x1="580.1" y1="869.18" x2="582.3" y2="869.18" stroke="#e8413c" stroke-width="1.5"/>
<circle cx="578.4" cy="849.05" r="1.75" fill="#000"/>
<circle cx="578.4" cy="851.74" r="1.75" fill="#000"/>
<circle cx="574.8" cy="868.51" r="1.75" fill="#000"/>
<circle cx="578.4" cy="869.18" r="1.75" fill="#000"/>
<circle cx="582" cy="868.85" r="1.75" fill="#000"/>
<circle cx="578.4" cy="870.19" r="1.75" fill="#000"/>
<circle cx="578.4" cy="872.2" r="1.75" fill="#000"/>
<circle cx="578.4" cy="881.26" r="1.75" fill="#000"/>
<circle cx="578.4" cy="884.62" r="1.75" fill="#000"/>
<path d="M594.1,893.34 C594.27,891.66 594.85,886.63 595.1,883.27 C595.35,879.92 595.52,876.57 595.6,873.21 C595.68,869.86 595.68,866.5 595.6,863.14 C595.52,859.79 595.35,855.88 595.1,853.08 C594.85,850.28 594.43,848.61 594.1,846.37 C593.77,844.13 593.27,840.78 593.1,839.66 L591.1,839.66 C590.93,840.78 590.43,844.13 590.1,846.37 C589.77,848.61 589.35,850.28 589.1,853.08 C588.85,855.88 588.68,859.79 588.6,863.14 C588.52,866.5 588.52,869.86 588.6,873.21 C588.68,876.57 588.85,879.92 589.1,883.27 C589.35,886.63 589.93,891.66 590.1,893.34 Z" fill="#aeb8e2"/>
<line x1="589.57" y1="887.97" x2="591.17" y2="887.97" stroke="#f29a38" stroke-width="1.1"/>
<line x1="593.03" y1="887.97" x2="594.63" y2="887.97" stroke="#f29a38" stroke-width="1.1"/>
<line x1="588.85" y1="858.11" x2="590.45" y2="858.11" stroke="#f29a38" stroke-width="1.1"/>
<line x1="593.75" y1="858.11" x2="595.35" y2="858.11" stroke="#f29a38" stroke-width="1.1"/>
<line x1="588.6" y1="872.2" x2="590.8" y2="872.2" stroke="#e8413c" stroke-width="1.5"/>
<line x1="593.4" y1="872.2" x2="595.6" y2="872.2" stroke="#e8413c" stroke-width="1.5"/>
<circle cx="592.1" cy="840.67" r="1.75" fill="#000"/>
<circle cx="592.1" cy="851.07" r="1.75" fill="#000"/>
<circle cx="592.1" cy="857.11" r="1.75" fill="#000"/>
<circle cx="588.5" cy="862.47" r="1.75" fill="#000"/>
<circle cx="592.1" cy="863.14" r="1.75" fill="#000"/>
<circle cx="592.1" cy="869.86" r="1.75" fill="#000"/>
<circle cx="592.1" cy="874.89" r="1.75" fill="#000"/>
<circle cx="595.7" cy="874.22" r="1.75" fill="#000"/>
<circle cx="592.1" cy="882.94" r="1.75" fill="#000"/>
<circle cx="592.1" cy="887.97" r="1.75" fill="#000"/>
<circle cx="592.1" cy="889.99" r="1.75" fill="#000"/>
<circle cx="592.1" cy="890.99" r="1.75" fill="#000"/>
<circle cx="592.1" cy="892" r="1.75" fill="#000"/>
<path d="M606.2,879.92 C606.28,878.8 606.53,876.01 606.7,873.21 C606.87,870.41 606.95,865.94 607.2,863.14 C607.45,860.35 607.78,858.95 608.2,856.44 C608.62,853.92 609.62,850.56 609.7,848.05 C609.78,845.53 608.78,843.29 608.7,841.34 C608.62,839.38 609.37,837.87 609.2,836.31 C609.03,834.74 607.95,832.67 607.7,831.94 L603.7,831.94 C603.45,832.67 602.37,834.74 602.2,836.31 C602.03,837.87 602.78,839.38 602.7,841.34 C602.62,843.29 601.62,845.53 601.7,848.05 C601.78,850.56 602.78,853.92 603.2,856.44 C603.62,858.95 603.95,860.35 604.2,863.14 C604.45,865.94 604.53,870.41 604.7,873.21 C604.87,876.01 605.12,878.8 605.2,879.92 Z" fill="#aeb8e2"/>
<line x1="603.2" y1="863.14" x2="604.8" y2="863.14" stroke="#f29a38" stroke-width="1.1"/>
<line x1="606.6" y1="863.14" x2="608.2" y2="863.14" stroke="#f29a38" stroke-width="1.1"/>
<line x1="602.2" y1="836.31" x2="603.8" y2="836.31" stroke="#f29a38" stroke-width="1.1"/>
<line x1="607.6" y1="836.31" x2="609.2" y2="836.31" stroke="#f29a38" stroke-width="1.1"/>
<line x1="602" y1="849.73" x2="604.2" y2="849.73" stroke="#e8413c" stroke-width="1.5"/>
<line x1="607.2" y1="849.73" x2="609.4" y2="849.73" stroke="#e8413c" stroke-width="1.5"/>
<circle cx="602.1" cy="833.62" r="1.75" fill="#000"/>
<circle cx="605.7" cy="831.94" r="1.75" fill="#000"/>
<circle cx="609.3" cy="834.96" r="1.75" fill="#000"/>
<circle cx="605.7" cy="837.65" r="1.75" fill="#000"/>
<circle cx="605.7" cy="848.38" r="1.75" fill="#000"/>
<circle cx="609.3" cy="848.38" r="1.75" fill="#000"/>
<circle cx="609.3" cy="849.73" r="1.75" fill="#000"/>
<circle cx="605.7" cy="850.06" r="1.75" fill="#000"/>
<circle cx="605.7" cy="854.42" r="1.75" fill="#000"/>
<circle cx="605.7" cy="858.45" r="1.75" fill="#000"/>
<circle cx="605.7" cy="862.14" r="1.75" fill="#000"/>
<circle cx="605.7" cy="870.86" r="1.75" fill="#000"/>
<circle cx="605.7" cy="879.58" r="1.75" fill="#000"/>
<path d="M621.9,864.82 C622.07,863.98 622.73,861.75 622.9,859.79 C623.07,857.83 622.98,855.32 622.9,853.08 C622.82,850.84 622.65,848.61 622.4,846.37 C622.15,844.13 621.65,842.46 621.4,839.66 C621.15,836.86 621.07,833.51 620.9,829.6 C620.73,825.68 620.48,820.09 620.4,816.18 C620.32,812.26 620.43,810.02 620.4,806.11 C620.37,802.2 620.23,794.93 620.2,792.69 L618.6,792.69 C618.57,794.93 618.43,802.2 618.4,806.11 C618.37,810.02 618.48,812.26 618.4,816.18 C618.32,820.09 618.07,825.68 617.9,829.6 C617.73,833.51 617.65,836.86 617.4,839.66 C617.15,842.46 616.65,844.13 616.4,846.37 C616.15,848.61 615.98,850.84 615.9,853.08 C615.82,855.32 615.73,857.83 615.9,859.79 C616.07,861.75 616.73,863.98 616.9,864.82 Z" fill="#aeb8e2"/>
<line x1="616.57" y1="863.14" x2="618.17" y2="863.14" stroke="#f29a38" stroke-width="1.1"/>
<line x1="620.63" y1="863.14" x2="622.23" y2="863.14" stroke="#f29a38" stroke-width="1.1"/>
<line x1="616.35" y1="847.04" x2="617.95" y2="847.04" stroke="#f29a38" stroke-width="1.1"/>
<line x1="620.85" y1="847.04" x2="622.45" y2="847.04" stroke="#f29a38" stroke-width="1.1"/>
<line x1="616.2" y1="849.05" x2="618.4" y2="849.05" stroke="#e8413c" stroke-width="1.5"/>
<line x1="620.4" y1="849.05" x2="622.6" y2="849.05" stroke="#e8413c" stroke-width="1.5"/>
<circle cx="619.4" cy="793.03" r="1.75" fill="#000"/>
<circle cx="619.4" cy="802.42" r="1.75" fill="#000"/>
<circle cx="619.4" cy="819.53" r="1.75" fill="#000"/>
<circle cx="615.8" cy="846.71" r="1.75" fill="#000"/>
<circle cx="619.4" cy="848.38" r="1.75" fill="#000"/>
<circle cx="619.4" cy="851.07" r="1.75" fill="#000"/>
<circle cx="619.4" cy="859.12" r="1.75" fill="#000"/>
<circle cx="619.4" cy="860.46" r="1.75" fill="#000"/>
<circle cx="619.4" cy="862.14" r="1.75" fill="#000"/>
<circle cx="623" cy="862.81" r="1.75" fill="#000"/>
<circle cx="619.4" cy="865.16" r="1.75" fill="#000"/>
<path d="M633.5,889.99 C633.58,888.87 633.75,885.51 634,883.27 C634.25,881.04 634.5,878.8 635,876.57 C635.5,874.33 636.83,872.09 637,869.86 C637.17,867.62 636.5,865.38 636,863.14 C635.5,860.91 634.45,859.23 634,856.44 C633.55,853.64 633.42,851.4 633.3,846.37 C633.18,841.34 633.3,829.6 633.3,826.24 L632.7,826.24 C632.7,829.6 632.82,841.34 632.7,846.37 C632.58,851.4 632.45,853.64 632,856.44 C631.55,859.23 630.5,860.91 630,863.14 C629.5,865.38 628.83,867.62 629,869.86 C629.17,872.09 630.5,874.33 631,876.57 C631.5,878.8 631.75,881.04 632,883.27 C632.25,885.51 632.42,888.87 632.5,889.99 Z" fill="#aeb8e2"/>
<line x1="630" y1="873.21" x2="631.6" y2="873.21" stroke="#f29a38" stroke-width="1.1"/>
<line x1="634.4" y1="873.21" x2="636" y2="873.21" stroke="#f29a38" stroke-width="1.1"/>
<line x1="629.6" y1="865.83" x2="631.2" y2="865.83" stroke="#f29a38" stroke-width="1.1"/>
<line x1="634.8" y1="865.83" x2="636.4" y2="865.83" stroke="#f29a38" stroke-width="1.1"/>
<line x1="629" y1="869.86" x2="631.2" y2="869.86" stroke="#e8413c" stroke-width="1.5"/>
<line x1="634.8" y1="869.86" x2="637" y2="869.86" stroke="#e8413c" stroke-width="1.5"/>
<circle cx="633" cy="826.24" r="1.75" fill="#000"/>
<circle cx="633" cy="862.14" r="1.75" fill="#000"/>
<circle cx="629.4" cy="865.83" r="1.75" fill="#000"/>
<circle cx="633" cy="865.16" r="1.75" fill="#000"/>
<circle cx="636.6" cy="866.16" r="1.75" fill="#000"/>
<circle cx="629.4" cy="871.53" r="1.75" fill="#000"/>
<circle cx="633" cy="870.53" r="1.75" fill="#000"/>
<circle cx="636.6" cy="869.86" r="1.75" fill="#000"/>
<circle cx="636.6" cy="871.87" r="1.75" fill="#000"/>
<circle cx="633" cy="882.94" r="1.75" fill="#000"/>
<circle cx="633" cy="888.31" r="1.75" fill="#000"/>
<line x1="393.4" y1="765.35" x2="393.4" y2="934.2" stroke="#262626" stroke-width="1.2"/>
<line x1="385.4" y1="933.6" x2="647.2" y2="933.6" stroke="#3a3a3a" stroke-width="1.5"/>
<line x1="385.6" y1="933.6" x2="393.4" y2="933.6" stroke="#262626" stroke-width="1.2"/>
<text x="382.8" y="936.9" font-size="9.2" fill="#333" text-anchor="end">0</text>
<line x1="385.6" y1="900.05" x2="393.4" y2="900.05" stroke="#262626" stroke-width="1.2"/>
<text x="382.8" y="903.35" font-size="9.2" fill="#333" text-anchor="end">10</text>
<line x1="385.6" y1="866.5" x2="393.4" y2="866.5" stroke="#262626" stroke-width="1.2"/>
<text x="382.8" y="869.8" font-size="9.2" fill="#333" text-anchor="end">20</text>
<line x1="385.6" y1="832.95" x2="393.4" y2="832.95" stroke="#262626" stroke-width="1.2"/>
<text x="382.8" y="836.25" font-size="9.2" fill="#333" text-anchor="end">30</text>
<line x1="385.6" y1="799.4" x2="393.4" y2="799.4" stroke="#262626" stroke-width="1.2"/>
<text x="382.8" y="802.7" font-size="9.2" fill="#333" text-anchor="end">40</text>
<line x1="385.6" y1="765.85" x2="393.4" y2="765.85" stroke="#262626" stroke-width="1.2"/>
<text x="382.8" y="769.15" font-size="9.2" fill="#333" text-anchor="end">50</text>
<line x1="455.4" y1="765.85" x2="455.4" y2="933.6" stroke="#111" stroke-width="1" stroke-dasharray="1.1 1.1"/>
<line x1="551.2" y1="765.85" x2="551.2" y2="933.6" stroke="#111" stroke-width="1" stroke-dasharray="1.1 1.1"/>
<line x1="401.5" y1="933.6" x2="401.5" y2="940.6" stroke="#333" stroke-width="1.2"/>
<text x="406.7" y="947.2" font-size="9" fill="#333" text-anchor="end" transform="rotate(-45 406.7 947.2)">CAF#1</text>
<line x1="415.1" y1="933.6" x2="415.1" y2="940.6" stroke="#333" stroke-width="1.2"/>
<text x="420.3" y="947.2" font-size="9" fill="#333" text-anchor="end" transform="rotate(-45 420.3 947.2)">CAF#2</text>
<line x1="428.8" y1="933.6" x2="428.8" y2="940.6" stroke="#333" stroke-width="1.2"/>
<text x="434" y="947.2" font-size="9" fill="#333" text-anchor="end" transform="rotate(-45 434 947.2)">BF#1</text>
<line x1="442.5" y1="933.6" x2="442.5" y2="940.6" stroke="#333" stroke-width="1.2"/>
<text x="447.7" y="947.2" font-size="9" fill="#333" text-anchor="end" transform="rotate(-45 447.7 947.2)">BF#2</text>
<line x1="469.2" y1="933.6" x2="469.2" y2="940.6" stroke="#333" stroke-width="1.2"/>
<text x="474.4" y="947.2" font-size="9" fill="#333" text-anchor="end" transform="rotate(-45 474.4 947.2)">CAF#1</text>
<line x1="482.8" y1="933.6" x2="482.8" y2="940.6" stroke="#333" stroke-width="1.2"/>
<text x="488" y="947.2" font-size="9" fill="#333" text-anchor="end" transform="rotate(-45 488 947.2)">CAF#2</text>
<line x1="496.4" y1="933.6" x2="496.4" y2="940.6" stroke="#333" stroke-width="1.2"/>
<text x="501.6" y="947.2" font-size="9" fill="#333" text-anchor="end" transform="rotate(-45 501.6 947.2)">pCAF#1</text>
<line x1="510" y1="933.6" x2="510" y2="940.6" stroke="#333" stroke-width="1.2"/>
<text x="515.2" y="947.2" font-size="9" fill="#333" text-anchor="end" transform="rotate(-45 515.2 947.2)">pCAF#2</text>
<line x1="523.6" y1="933.6" x2="523.6" y2="940.6" stroke="#333" stroke-width="1.2"/>
<text x="528.8" y="947.2" font-size="9" fill="#333" text-anchor="end" transform="rotate(-45 528.8 947.2)">BF#1</text>
<line x1="537.2" y1="933.6" x2="537.2" y2="940.6" stroke="#333" stroke-width="1.2"/>
<text x="542.4" y="947.2" font-size="9" fill="#333" text-anchor="end" transform="rotate(-45 542.4 947.2)">BF#2</text>
<line x1="564.7" y1="933.6" x2="564.7" y2="940.6" stroke="#333" stroke-width="1.2"/>
<text x="569.9" y="947.2" font-size="9" fill="#333" text-anchor="end" transform="rotate(-45 569.9 947.2)">CAF#1</text>
<line x1="578.4" y1="933.6" x2="578.4" y2="940.6" stroke="#333" stroke-width="1.2"/>
<text x="583.6" y="947.2" font-size="9" fill="#333" text-anchor="end" transform="rotate(-45 583.6 947.2)">CAF#2</text>
<line x1="592.1" y1="933.6" x2="592.1" y2="940.6" stroke="#333" stroke-width="1.2"/>
<text x="597.3" y="947.2" font-size="9" fill="#333" text-anchor="end" transform="rotate(-45 597.3 947.2)">pCAF#1</text>
<line x1="605.7" y1="933.6" x2="605.7" y2="940.6" stroke="#333" stroke-width="1.2"/>
<text x="610.9" y="947.2" font-size="9" fill="#333" text-anchor="end" transform="rotate(-45 610.9 947.2)">pCAF#2</text>
<line x1="619.4" y1="933.6" x2="619.4" y2="940.6" stroke="#333" stroke-width="1.2"/>
<text x="624.6" y="947.2" font-size="9" fill="#333" text-anchor="end" transform="rotate(-45 624.6 947.2)">BF#1</text>
<line x1="633" y1="933.6" x2="633" y2="940.6" stroke="#333" stroke-width="1.2"/>
<text x="638.2" y="947.2" font-size="9" fill="#333" text-anchor="end" transform="rotate(-45 638.2 947.2)">BF#2</text>
<text x="368.9" y="853.2" font-size="11.7" fill="#1a1a1a" text-anchor="middle" transform="rotate(-90 368.9 853.2)">Angle EDGE (deg)</text>
<rect x="137.9" y="736.8" width="14" height="9.7" fill="#a8d3b0"/>
<text x="155.6" y="745.4" font-size="9.2" fill="#333" text-anchor="start">CAF</text>
<rect x="191.5" y="736.8" width="14" height="9.7" fill="#f5b1a3"/>
<text x="208.4" y="745.4" font-size="9.2" fill="#333" text-anchor="start">COLIV</text>
<rect x="253.5" y="736.8" width="14" height="9.7" fill="#aeb8e2"/>
<text x="271.8" y="743.9" font-size="9.2" fill="#333" text-anchor="start">FN</text>
<rect x="448.4" y="736.8" width="14" height="9.7" fill="#a8d3b0"/>
<text x="466.1" y="745.4" font-size="9.2" fill="#333" text-anchor="start">CAF</text>
<rect x="502" y="736.8" width="14" height="9.7" fill="#f5b1a3"/>
<text x="518.9" y="745.4" font-size="9.2" fill="#333" text-anchor="start">COLIV</text>
<rect x="564" y="736.8" width="14" height="9.7" fill="#aeb8e2"/>
<text x="582.3" y="743.9" font-size="9.2" fill="#333" text-anchor="start">FN</text>
<line x1="92.3" y1="765.9" x2="131.5" y2="765.9" stroke="#222" stroke-width="1.2"/>
<text x="111.9" y="761" font-size="11.8" fill="#1a1a1a" text-anchor="middle">ns</text>
<line x1="160" y1="819.5" x2="228.9" y2="819.5" stroke="#222" stroke-width="1.2"/>
<text x="194.45" y="814.6" font-size="11.8" fill="#1a1a1a" text-anchor="middle">ns</text>
<line x1="284" y1="788.9" x2="313.2" y2="788.9" stroke="#222" stroke-width="1.2"/>
<text x="298.6" y="789.2" font-size="11.5" fill="#111" text-anchor="middle">*</text>
<line x1="402.5" y1="770.3" x2="428.8" y2="770.3" stroke="#222" stroke-width="1.2"/>
<text x="415.65" y="770.6" font-size="11.5" fill="#111" text-anchor="middle">*</text>
<line x1="402.5" y1="784.3" x2="415.9" y2="784.3" stroke="#222" stroke-width="1.2"/>
<text x="409.2" y="784.6" font-size="11.5" fill="#111" text-anchor="middle">**</text>
<line x1="469.2" y1="766.5" x2="524.1" y2="766.5" stroke="#222" stroke-width="1.2"/>
<text x="496.65" y="766.8" font-size="11.5" fill="#111" text-anchor="middle">*</text>
<line x1="469.2" y1="784.2" x2="482.4" y2="784.2" stroke="#222" stroke-width="1.2"/>
<text x="475.8" y="784.5" font-size="11.5" fill="#111" text-anchor="middle">*</text>
<line x1="564.3" y1="766.5" x2="619.3" y2="766.5" stroke="#222" stroke-width="1.2"/>
<text x="591.8" y="766.8" font-size="11.5" fill="#111" text-anchor="middle">*</text>
<line x1="592.1" y1="784.2" x2="619.3" y2="784.2" stroke="#222" stroke-width="1.2"/>
<text x="605.7" y="784.5" font-size="11.5" fill="#111" text-anchor="middle">*</text>
</svg>
</body></html>
